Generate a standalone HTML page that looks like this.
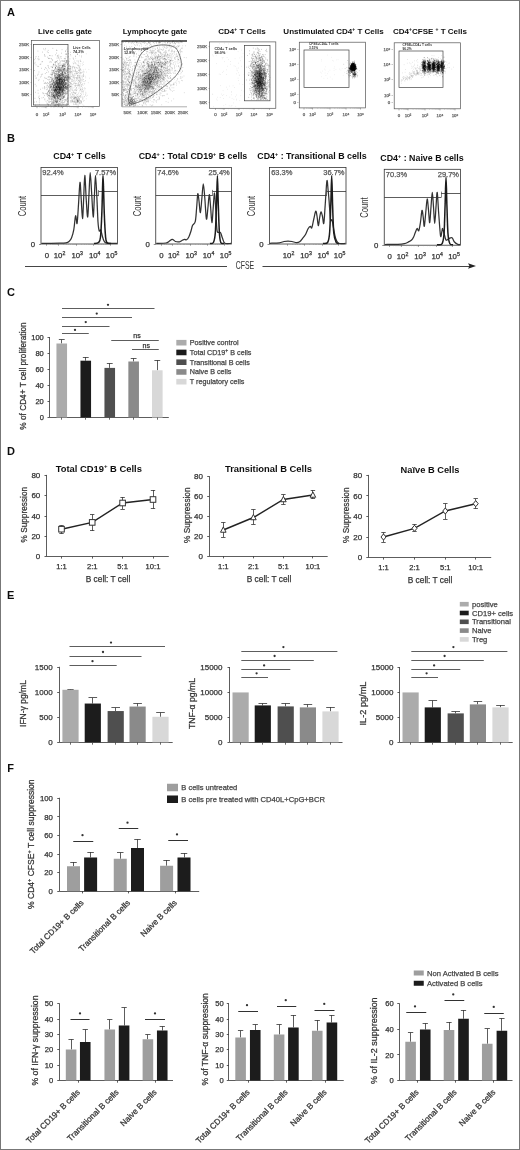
<!DOCTYPE html>
<html><head><meta charset="utf-8"><style>
html,body{margin:0;padding:0;background:#fff;}
svg{display:block;}
text{font-family:"Liberation Sans", sans-serif;}
</style></head><body>
<svg width="520" height="1150" viewBox="0 0 520 1150">
<defs><filter id="bl" x="-5%" y="-5%" width="110%" height="110%"><feGaussianBlur stdDeviation="0.35"/></filter><filter id="gb" x="0" y="0" width="520" height="1150" filterUnits="userSpaceOnUse"><feGaussianBlur stdDeviation="0.4"/></filter></defs>
<rect x="0" y="0" width="520" height="1150" fill="#fff"/>
<g filter="url(#gb)">
<text x="7" y="15.71" font-size="11" font-weight="bold" fill="#111">A</text>
<text x="65" y="34.27" font-size="8" text-anchor="middle" font-weight="bold" fill="#111" textLength="54" lengthAdjust="spacingAndGlyphs">Live cells gate</text>
<rect x="31.4" y="40.4" width="68.1" height="66" fill="none" stroke="#555" stroke-width="0.7"/>
<text x="29.3" y="45.52" font-size="4.4" text-anchor="end" fill="#666" stroke="#666" stroke-width="0.25">250K</text>
<line x1="30.5" y1="44.5" x2="31.9" y2="44.5" stroke="#666" stroke-width="0.4"/>
<text x="29.3" y="58.52" font-size="4.4" text-anchor="end" fill="#666" stroke="#666" stroke-width="0.25">200K</text>
<line x1="30.5" y1="57.5" x2="31.9" y2="57.5" stroke="#666" stroke-width="0.4"/>
<text x="29.3" y="71.02" font-size="4.4" text-anchor="end" fill="#666" stroke="#666" stroke-width="0.25">150K</text>
<line x1="30.5" y1="69.5" x2="31.9" y2="69.5" stroke="#666" stroke-width="0.4"/>
<text x="29.3" y="83.52" font-size="4.4" text-anchor="end" fill="#666" stroke="#666" stroke-width="0.25">100K</text>
<line x1="30.5" y1="82.5" x2="31.9" y2="82.5" stroke="#666" stroke-width="0.4"/>
<text x="29.3" y="96.02" font-size="4.4" text-anchor="end" fill="#666" stroke="#666" stroke-width="0.25">50K</text>
<line x1="30.5" y1="94.5" x2="31.9" y2="94.5" stroke="#666" stroke-width="0.4"/>
<text x="37" y="115.72" font-size="4.4" text-anchor="middle" fill="#666" stroke="#666" stroke-width="0.25">0</text>
<text x="46" y="115.72" font-size="4.4" text-anchor="middle" fill="#666" stroke="#666" stroke-width="0.25">10&#178;</text>
<text x="62.5" y="115.72" font-size="4.4" text-anchor="middle" fill="#666" stroke="#666" stroke-width="0.25">10&#179;</text>
<text x="78" y="115.72" font-size="4.4" text-anchor="middle" fill="#666" stroke="#666" stroke-width="0.25">10&#8308;</text>
<text x="93" y="115.72" font-size="4.4" text-anchor="middle" fill="#666" stroke="#666" stroke-width="0.25">10&#8309;</text>
<line x1="37" y1="106.6" x2="37" y2="108.2" stroke="#666" stroke-width="0.5"/>
<line x1="46" y1="106.6" x2="46" y2="108.2" stroke="#666" stroke-width="0.5"/>
<line x1="62.5" y1="106.6" x2="62.5" y2="108.2" stroke="#666" stroke-width="0.5"/>
<line x1="78" y1="106.6" x2="78" y2="108.2" stroke="#666" stroke-width="0.5"/>
<line x1="93" y1="106.6" x2="93" y2="108.2" stroke="#666" stroke-width="0.5"/>
<line x1="39.7" y1="106.6" x2="39.7" y2="107.5" stroke="#888" stroke-width="0.35"/>
<line x1="41.32" y1="106.6" x2="41.32" y2="107.5" stroke="#888" stroke-width="0.35"/>
<line x1="42.4" y1="106.6" x2="42.4" y2="107.5" stroke="#888" stroke-width="0.35"/>
<line x1="43.3" y1="106.6" x2="43.3" y2="107.5" stroke="#888" stroke-width="0.35"/>
<line x1="44.02" y1="106.6" x2="44.02" y2="107.5" stroke="#888" stroke-width="0.35"/>
<line x1="44.65" y1="106.6" x2="44.65" y2="107.5" stroke="#888" stroke-width="0.35"/>
<line x1="45.1" y1="106.6" x2="45.1" y2="107.5" stroke="#888" stroke-width="0.35"/>
<line x1="45.55" y1="106.6" x2="45.55" y2="107.5" stroke="#888" stroke-width="0.35"/>
<line x1="50.95" y1="106.6" x2="50.95" y2="107.5" stroke="#888" stroke-width="0.35"/>
<line x1="53.92" y1="106.6" x2="53.92" y2="107.5" stroke="#888" stroke-width="0.35"/>
<line x1="55.9" y1="106.6" x2="55.9" y2="107.5" stroke="#888" stroke-width="0.35"/>
<line x1="57.55" y1="106.6" x2="57.55" y2="107.5" stroke="#888" stroke-width="0.35"/>
<line x1="58.87" y1="106.6" x2="58.87" y2="107.5" stroke="#888" stroke-width="0.35"/>
<line x1="60.02" y1="106.6" x2="60.02" y2="107.5" stroke="#888" stroke-width="0.35"/>
<line x1="60.85" y1="106.6" x2="60.85" y2="107.5" stroke="#888" stroke-width="0.35"/>
<line x1="61.67" y1="106.6" x2="61.67" y2="107.5" stroke="#888" stroke-width="0.35"/>
<line x1="67.15" y1="106.6" x2="67.15" y2="107.5" stroke="#888" stroke-width="0.35"/>
<line x1="69.94" y1="106.6" x2="69.94" y2="107.5" stroke="#888" stroke-width="0.35"/>
<line x1="71.8" y1="106.6" x2="71.8" y2="107.5" stroke="#888" stroke-width="0.35"/>
<line x1="73.35" y1="106.6" x2="73.35" y2="107.5" stroke="#888" stroke-width="0.35"/>
<line x1="74.59" y1="106.6" x2="74.59" y2="107.5" stroke="#888" stroke-width="0.35"/>
<line x1="75.67" y1="106.6" x2="75.67" y2="107.5" stroke="#888" stroke-width="0.35"/>
<line x1="76.45" y1="106.6" x2="76.45" y2="107.5" stroke="#888" stroke-width="0.35"/>
<line x1="77.22" y1="106.6" x2="77.22" y2="107.5" stroke="#888" stroke-width="0.35"/>
<line x1="82.5" y1="106.6" x2="82.5" y2="107.5" stroke="#888" stroke-width="0.35"/>
<line x1="85.2" y1="106.6" x2="85.2" y2="107.5" stroke="#888" stroke-width="0.35"/>
<line x1="87" y1="106.6" x2="87" y2="107.5" stroke="#888" stroke-width="0.35"/>
<line x1="88.5" y1="106.6" x2="88.5" y2="107.5" stroke="#888" stroke-width="0.35"/>
<line x1="89.7" y1="106.6" x2="89.7" y2="107.5" stroke="#888" stroke-width="0.35"/>
<line x1="90.75" y1="106.6" x2="90.75" y2="107.5" stroke="#888" stroke-width="0.35"/>
<line x1="91.5" y1="106.6" x2="91.5" y2="107.5" stroke="#888" stroke-width="0.35"/>
<line x1="92.25" y1="106.6" x2="92.25" y2="107.5" stroke="#888" stroke-width="0.35"/>
<path d="M58.7 82.7h0.7M58.9 92.0h0.7M58.8 68.4h0.7M61.4 79.8h0.7M58.2 86.1h0.7M60.8 95.6h0.7M63.3 82.5h0.7M55.2 76.0h0.7M60.9 97.1h0.7M59.7 82.7h0.7M62.6 66.2h0.7M57.7 90.5h0.7M64.6 77.9h0.7M61.7 85.2h0.7M64.0 68.9h0.7M62.8 65.4h0.7M44.3 88.0h0.7M54.2 97.1h0.7M63.4 68.2h0.7M64.4 69.8h0.7M59.0 81.2h0.7M60.2 92.4h0.7M63.2 85.2h0.7M63.3 86.5h0.7M55.9 78.8h0.7M56.8 91.3h0.7M54.7 75.5h0.7M64.0 96.2h0.7M62.4 91.0h0.7M67.8 77.2h0.7M51.2 84.0h0.7M65.0 64.6h0.7M59.7 86.6h0.7M57.7 93.1h0.7M62.9 106.7h0.7M63.1 74.9h0.7M56.2 77.3h0.7M65.0 74.1h0.7M59.1 92.4h0.7M55.3 83.7h0.7M48.8 79.8h0.7M56.2 90.8h0.7M66.4 79.0h0.7M61.0 84.8h0.7M65.8 89.3h0.7M61.1 72.0h0.7M64.7 84.5h0.7M66.6 78.7h0.7M70.8 72.3h0.7M68.7 78.8h0.7M56.5 73.9h0.7M58.6 99.9h0.7M64.2 88.1h0.7M45.7 101.2h0.7M62.7 75.8h0.7M55.9 86.5h0.7M69.5 65.7h0.7M57.0 100.4h0.7M56.9 81.9h0.7M60.1 70.2h0.7M60.8 70.1h0.7M64.6 80.5h0.7M72.7 77.8h0.7M67.4 64.5h0.7M58.8 88.0h0.7M69.6 58.9h0.7M65.2 86.4h0.7M68.4 85.5h0.7M59.8 78.2h0.7M52.3 91.1h0.7M58.4 106.5h0.7M56.0 89.9h0.7M50.4 86.1h0.7M61.0 91.8h0.7M67.9 77.7h0.7M53.0 93.4h0.7M62.5 87.2h0.7M55.4 99.0h0.7M60.0 91.2h0.7M66.9 85.4h0.7M61.2 106.0h0.7M60.9 79.8h0.7M60.1 99.5h0.7M60.2 89.1h0.7M66.4 73.7h0.7M49.5 94.2h0.7M60.8 76.5h0.7M64.6 87.0h0.7M53.7 93.6h0.7M58.4 68.8h0.7M62.1 81.7h0.7M55.2 92.6h0.7M62.3 75.8h0.7M61.8 93.3h0.7M55.4 91.0h0.7M48.7 99.0h0.7M57.7 84.2h0.7M70.5 76.3h0.7M72.5 70.2h0.7M61.5 77.3h0.7M55.5 87.5h0.7M57.9 87.3h0.7M58.5 103.4h0.7M53.7 91.2h0.7M77.9 61.9h0.7M50.8 84.1h0.7M62.2 89.6h0.7M67.0 76.0h0.7M50.2 85.8h0.7M66.7 84.0h0.7M48.1 91.5h0.7M67.6 101.3h0.7M62.8 85.1h0.7M52.3 79.9h0.7M59.8 89.2h0.7M62.9 76.5h0.7M52.8 80.3h0.7M52.8 95.6h0.7M46.1 89.7h0.7M62.1 98.6h0.7M59.9 94.5h0.7M57.2 77.6h0.7M55.6 103.2h0.7M65.3 85.2h0.7M78.8 70.2h0.7M63.1 84.8h0.7M68.2 62.9h0.7M57.2 90.2h0.7M64.0 66.3h0.7M46.4 72.5h0.7M59.1 83.2h0.7M61.5 74.3h0.7M52.4 67.1h0.7M61.4 86.7h0.7M65.3 88.5h0.7M58.4 99.3h0.7M58.7 77.4h0.7M56.5 79.8h0.7M46.9 94.4h0.7M60.9 79.1h0.7M55.4 90.9h0.7M69.5 77.5h0.7M56.6 79.7h0.7M59.1 70.7h0.7M58.8 85.2h0.7M70.2 86.7h0.7M65.5 72.2h0.7M63.4 69.0h0.7M61.3 87.3h0.7M62.8 61.2h0.7M62.7 77.4h0.7M59.5 89.0h0.7M61.8 60.5h0.7M52.8 97.0h0.7M67.0 99.3h0.7M70.0 54.6h0.7M64.0 60.3h0.7M68.9 80.2h0.7M63.2 61.0h0.7M61.2 74.9h0.7M60.1 78.5h0.7M67.5 63.1h0.7M61.3 102.3h0.7M54.7 89.6h0.7M60.7 75.8h0.7M63.3 82.4h0.7M54.0 106.8h0.7M64.1 79.0h0.7M55.8 78.1h0.7M66.6 77.5h0.7M62.2 80.2h0.7M63.1 80.3h0.7M63.9 79.0h0.7M64.3 87.9h0.7M58.8 75.2h0.7M54.0 79.8h0.7M53.8 97.3h0.7M59.2 101.1h0.7M72.7 75.1h0.7M50.5 86.1h0.7M59.1 68.3h0.7M58.0 88.1h0.7M56.8 77.6h0.7M55.1 106.3h0.7M58.6 75.7h0.7M57.3 95.8h0.7M55.5 91.9h0.7M63.7 89.1h0.7M67.6 72.4h0.7M66.1 70.9h0.7M57.2 98.5h0.7M64.3 80.7h0.7M52.6 94.8h0.7M55.8 76.6h0.7M55.7 89.3h0.7M47.2 96.4h0.7M60.5 77.0h0.7M65.5 86.4h0.7M56.0 79.2h0.7M63.5 64.9h0.7M57.6 78.5h0.7M59.9 86.0h0.7M59.7 96.1h0.7M60.8 79.7h0.7M52.5 96.6h0.7M62.6 97.5h0.7M55.2 87.3h0.7M59.2 83.3h0.7M59.6 65.5h0.7M64.3 87.7h0.7M66.1 103.7h0.7M57.6 84.9h0.7M59.6 104.9h0.7M49.5 96.2h0.7M51.0 62.1h0.7M47.8 77.2h0.7M65.7 70.3h0.7M58.2 72.4h0.7M63.0 69.7h0.7M67.1 68.0h0.7M55.1 88.4h0.7M59.6 99.2h0.7M60.2 70.5h0.7M56.3 80.1h0.7M63.7 85.2h0.7M58.8 93.8h0.7M56.4 84.7h0.7M60.5 99.7h0.7M58.9 80.6h0.7M53.4 95.6h0.7M56.1 90.1h0.7M48.5 102.9h0.7M51.8 81.0h0.7M65.6 65.4h0.7M59.0 85.1h0.7M53.7 102.5h0.7M68.2 56.7h0.7M51.1 98.5h0.7M51.9 85.1h0.7M60.3 90.9h0.7M58.2 85.9h0.7M55.0 101.0h0.7M56.6 89.7h0.7M56.5 87.2h0.7M58.5 82.9h0.7M53.6 96.7h0.7M67.7 80.9h0.7M63.7 90.1h0.7M64.9 83.5h0.7M60.7 92.5h0.7M59.9 73.2h0.7M59.6 63.6h0.7M59.5 88.5h0.7M66.7 80.7h0.7M64.9 80.3h0.7M53.6 72.9h0.7M53.9 73.2h0.7M63.2 79.2h0.7M62.8 82.5h0.7M65.6 91.2h0.7M55.8 83.6h0.7M56.4 68.7h0.7M63.4 94.1h0.7M59.5 78.7h0.7M65.8 54.3h0.7M60.5 84.8h0.7M56.2 101.3h0.7M65.1 77.3h0.7M59.0 80.2h0.7M56.5 72.0h0.7M67.5 89.5h0.7M64.1 69.0h0.7M71.6 97.0h0.7M60.6 73.5h0.7M54.5 92.0h0.7M54.2 87.3h0.7M65.8 63.4h0.7M71.1 92.8h0.7M52.3 73.8h0.7M57.9 74.0h0.7M58.0 57.3h0.7M58.2 104.3h0.7M53.0 85.6h0.7M50.9 96.9h0.7M58.2 105.8h0.7M60.7 79.2h0.7M62.7 76.3h0.7M51.7 92.6h0.7M58.5 86.5h0.7M61.7 77.0h0.7M61.9 101.0h0.7M58.1 76.7h0.7M73.6 75.9h0.7M67.4 87.3h0.7M49.8 92.1h0.7M56.5 71.7h0.7M49.2 92.2h0.7M62.9 85.8h0.7M57.7 76.6h0.7M53.8 82.0h0.7M53.5 86.0h0.7M59.4 74.4h0.7M58.2 76.7h0.7M59.5 89.5h0.7M60.5 88.4h0.7M49.9 86.6h0.7M61.1 89.8h0.7M50.2 92.1h0.7M66.5 77.2h0.7M59.0 89.2h0.7M60.9 90.3h0.7M59.9 85.4h0.7M55.0 85.3h0.7M66.8 76.8h0.7M58.5 79.4h0.7M64.1 71.6h0.7M64.8 70.2h0.7M53.4 90.5h0.7M60.3 86.7h0.7M65.7 75.3h0.7M62.1 72.4h0.7M66.8 85.7h0.7M62.6 83.9h0.7M54.9 83.6h0.7M62.4 81.8h0.7M60.2 68.9h0.7M60.6 75.8h0.7M53.2 86.7h0.7M48.7 99.0h0.7M64.4 80.0h0.7M53.7 77.8h0.7M58.6 58.5h0.7M60.5 90.4h0.7M57.7 79.9h0.7M60.6 87.0h0.7M65.8 79.8h0.7M55.5 81.8h0.7M60.6 100.0h0.7M57.6 74.0h0.7M54.5 64.9h0.7M61.4 68.0h0.7M52.3 67.7h0.7M53.0 94.6h0.7M51.9 70.4h0.7M60.5 79.6h0.7M62.0 90.2h0.7M59.5 70.1h0.7M58.8 89.9h0.7M56.1 70.9h0.7M65.9 75.1h0.7M57.1 85.8h0.7M65.5 82.7h0.7M57.6 92.7h0.7M72.0 90.3h0.7M63.4 69.2h0.7M81.3 56.0h0.7M57.3 78.0h0.7M68.9 82.0h0.7M51.2 92.6h0.7M62.7 78.4h0.7M52.4 81.1h0.7M57.0 86.0h0.7M56.5 94.0h0.7M54.0 69.2h0.7M55.2 101.5h0.7M62.4 69.5h0.7M54.7 90.0h0.7M53.8 95.3h0.7M68.0 76.9h0.7M53.7 85.1h0.7M61.6 92.0h0.7M59.8 68.7h0.7M59.7 76.6h0.7M46.8 85.3h0.7M51.2 96.1h0.7M70.8 96.2h0.7M56.2 81.3h0.7M63.5 92.7h0.7M57.1 84.1h0.7M72.3 74.0h0.7M56.7 87.2h0.7M62.9 70.7h0.7M58.1 72.4h0.7M57.9 105.3h0.7M63.8 80.0h0.7M54.1 84.4h0.7M65.6 73.7h0.7M67.9 63.4h0.7M57.8 103.9h0.7M47.9 104.9h0.7M48.8 90.5h0.7M58.5 93.6h0.7M41.2 76.0h0.7M56.2 86.7h0.7M54.3 85.2h0.7M52.6 84.5h0.7M54.6 90.0h0.7M62.9 97.1h0.7M55.7 83.2h0.7M59.8 80.6h0.7M59.2 67.4h0.7M61.7 72.6h0.7M53.9 70.7h0.7M66.2 77.8h0.7M66.2 82.3h0.7M49.6 79.2h0.7M63.9 72.7h0.7M53.2 86.5h0.7M58.5 73.8h0.7M57.6 80.2h0.7M44.5 99.8h0.7M54.8 101.3h0.7M52.8 71.6h0.7M66.4 62.1h0.7M55.8 93.0h0.7M57.6 67.5h0.7M60.6 81.1h0.7M66.9 85.2h0.7M77.1 54.1h0.7M59.4 72.6h0.7M66.2 88.2h0.7M63.9 72.6h0.7M55.2 65.1h0.7M69.4 82.6h0.7M58.0 95.1h0.7M63.9 91.5h0.7M50.1 82.8h0.7M60.6 87.0h0.7M65.1 69.3h0.7M63.5 90.6h0.7M59.4 92.3h0.7M70.0 77.9h0.7M66.6 69.6h0.7M62.9 91.4h0.7M55.1 98.9h0.7M55.6 78.0h0.7M59.5 104.8h0.7M61.3 92.8h0.7M55.3 87.8h0.7M52.7 82.6h0.7M64.3 80.2h0.7M67.9 76.0h0.7M58.4 98.5h0.7M55.7 70.2h0.7M67.0 83.2h0.7M46.9 93.2h0.7M57.2 104.4h0.7M55.3 80.7h0.7M54.2 76.3h0.7M55.4 71.4h0.7M53.5 70.8h0.7M50.8 73.2h0.7M56.5 78.7h0.7M52.4 94.1h0.7M59.2 79.5h0.7M56.8 103.0h0.7M60.9 88.2h0.7M44.5 87.4h0.7M46.9 88.1h0.7M61.7 75.2h0.7M62.5 70.9h0.7M62.8 64.9h0.7M58.0 89.6h0.7M62.6 80.5h0.7M70.8 71.7h0.7M56.9 56.1h0.7M69.8 72.9h0.7M52.7 103.0h0.7M66.7 80.2h0.7M51.2 94.3h0.7M55.9 73.9h0.7M65.6 56.8h0.7M62.8 86.7h0.7M71.4 79.2h0.7M47.6 83.3h0.7M59.9 87.6h0.7M65.2 58.9h0.7M57.6 95.8h0.7M68.5 97.8h0.7M57.2 97.4h0.7M69.4 90.0h0.7M63.7 90.0h0.7M54.9 71.6h0.7M65.2 76.3h0.7M59.3 77.9h0.7M57.2 88.1h0.7M53.6 88.9h0.7M60.9 82.2h0.7M55.2 95.5h0.7M70.4 70.0h0.7M66.7 88.6h0.7M44.1 86.5h0.7M55.8 95.0h0.7M60.6 88.4h0.7M63.2 71.8h0.7M55.2 73.8h0.7M58.5 83.4h0.7M60.5 75.5h0.7M64.8 90.2h0.7M68.5 85.4h0.7M60.6 90.5h0.7M63.0 74.5h0.7M67.0 97.3h0.7M71.0 76.4h0.7M61.4 87.2h0.7M59.5 90.7h0.7M58.8 82.4h0.7M69.7 78.7h0.7M59.9 93.2h0.7M60.4 86.5h0.7M59.1 71.1h0.7M59.3 71.9h0.7M60.7 70.4h0.7M64.8 88.4h0.7M61.1 81.8h0.7M61.9 61.2h0.7M53.1 86.8h0.7M61.5 81.8h0.7M53.7 89.5h0.7M56.9 74.3h0.7M61.4 80.4h0.7M66.4 86.4h0.7M63.8 84.5h0.7M54.6 77.3h0.7M53.2 86.1h0.7M57.4 82.4h0.7M56.1 66.2h0.7M53.7 73.0h0.7M58.8 77.1h0.7M55.5 89.1h0.7M56.1 96.4h0.7M57.3 88.0h0.7M51.8 96.4h0.7M57.1 90.0h0.7M61.4 80.8h0.7M60.8 79.0h0.7M67.3 88.6h0.7M62.3 69.3h0.7M53.1 81.3h0.7M58.1 89.8h0.7M54.3 100.3h0.7M59.5 62.3h0.7M56.7 58.1h0.7M55.1 81.1h0.7M56.0 83.0h0.7M57.2 79.2h0.7M68.2 91.0h0.7M52.9 102.1h0.7M50.1 81.8h0.7M68.3 53.7h0.7M62.8 68.2h0.7M58.7 82.6h0.7M69.3 68.4h0.7M59.1 91.0h0.7M58.0 76.2h0.7M59.2 85.2h0.7M64.6 70.3h0.7M56.9 89.3h0.7M58.5 82.7h0.7M59.4 76.6h0.7M54.9 92.0h0.7M53.1 101.0h0.7M60.8 69.4h0.7M61.1 84.7h0.7M63.9 93.4h0.7M57.4 77.9h0.7M56.0 75.9h0.7M55.2 90.1h0.7M59.6 78.6h0.7M55.2 90.7h0.7M56.6 74.8h0.7M58.6 81.8h0.7M53.3 97.2h0.7M64.4 81.0h0.7M60.3 89.2h0.7M59.3 93.7h0.7M69.1 78.2h0.7M62.1 91.6h0.7M57.5 73.2h0.7M64.8 63.5h0.7M69.9 86.2h0.7M60.6 83.8h0.7M69.7 66.8h0.7M52.8 82.2h0.7M58.0 74.2h0.7M60.4 84.8h0.7M54.8 104.5h0.7M51.4 75.8h0.7M61.7 80.3h0.7M61.9 75.7h0.7M53.5 81.2h0.7M55.5 92.4h0.7M56.7 94.1h0.7M62.9 92.8h0.7M64.7 88.8h0.7M64.0 75.3h0.7M58.0 65.3h0.7M61.2 75.6h0.7M61.8 88.1h0.7M51.7 78.5h0.7M57.5 79.8h0.7M60.5 70.9h0.7M59.8 65.6h0.7M47.0 100.4h0.7M51.9 83.2h0.7M51.3 74.5h0.7M57.2 81.2h0.7M65.2 84.9h0.7M58.0 93.2h0.7M66.0 83.9h0.7M57.1 96.6h0.7M69.8 84.0h0.7M69.8 86.9h0.7M64.4 68.8h0.7M53.0 87.9h0.7M49.8 84.3h0.7M64.5 73.3h0.7M62.6 67.3h0.7M56.6 97.0h0.7M60.7 86.3h0.7M69.4 91.1h0.7M54.4 101.7h0.7M55.9 86.3h0.7M59.6 95.5h0.7M53.0 93.4h0.7M62.5 90.6h0.7M58.3 95.7h0.7M55.4 99.2h0.7M61.5 67.5h0.7M61.9 84.3h0.7M57.4 77.5h0.7M58.1 69.4h0.7M69.3 65.0h0.7M55.7 99.0h0.7M62.9 89.4h0.7M68.3 74.5h0.7M53.4 97.3h0.7M64.1 77.3h0.7M52.2 102.4h0.7M62.8 66.9h0.7M64.0 65.3h0.7M56.7 73.8h0.7M55.8 77.6h0.7M55.9 94.3h0.7M61.2 89.6h0.7M65.8 75.6h0.7M60.0 89.5h0.7M69.4 86.8h0.7M67.5 89.4h0.7M65.6 60.5h0.7M64.6 82.7h0.7M59.8 78.1h0.7M57.0 90.2h0.7M64.4 64.5h0.7M60.8 77.1h0.7M54.0 92.1h0.7M57.6 78.2h0.7M55.0 90.1h0.7M59.4 72.3h0.7M54.6 85.4h0.7M61.8 71.1h0.7M62.3 73.2h0.7M75.3 62.9h0.7M54.9 89.3h0.7M54.3 96.5h0.7M69.9 72.6h0.7M60.5 77.7h0.7M59.5 99.4h0.7M64.7 70.7h0.7M68.5 90.3h0.7M62.3 74.9h0.7M59.9 75.2h0.7M62.2 78.7h0.7M46.5 103.0h0.7M60.6 94.8h0.7M58.7 86.6h0.7M66.0 83.7h0.7M58.5 86.5h0.7M69.6 68.3h0.7M53.5 72.8h0.7M62.6 88.6h0.7M63.8 66.4h0.7M65.3 92.8h0.7M58.9 84.7h0.7M63.4 85.2h0.7M63.2 69.7h0.7M58.5 71.6h0.7M63.2 87.2h0.7M58.9 87.6h0.7M50.5 99.5h0.7M56.8 87.3h0.7M66.0 71.4h0.7M66.4 80.5h0.7M59.7 89.9h0.7M52.3 95.4h0.7M59.9 94.9h0.7M58.2 81.0h0.7M61.6 81.9h0.7M52.7 86.6h0.7M66.9 77.9h0.7M54.5 95.2h0.7M48.8 68.6h0.7M59.5 86.0h0.7M60.8 73.5h0.7M58.6 69.5h0.7M60.8 65.7h0.7M58.6 87.4h0.7M49.3 85.4h0.7M64.1 97.5h0.7M50.8 93.7h0.7M52.3 74.5h0.7M68.8 84.8h0.7M54.8 89.6h0.7M63.2 83.4h0.7M72.5 81.5h0.7M42.1 92.9h0.7M55.2 84.8h0.7M59.6 76.9h0.7M53.2 103.1h0.7M63.0 74.4h0.7M63.4 88.5h0.7M66.9 67.5h0.7M64.0 74.3h0.7M66.2 77.3h0.7M46.3 93.5h0.7M49.2 88.8h0.7M59.2 79.9h0.7M50.9 78.0h0.7M54.6 84.7h0.7M67.0 86.5h0.7M56.8 99.6h0.7M51.6 96.9h0.7M58.5 87.3h0.7M63.2 74.1h0.7M64.1 80.7h0.7M73.5 71.0h0.7M66.9 85.9h0.7M52.7 103.4h0.7M53.3 64.2h0.7M64.4 92.1h0.7M59.8 81.0h0.7M68.7 85.3h0.7M55.7 94.5h0.7M52.3 83.0h0.7M53.4 64.5h0.7M52.7 101.9h0.7M53.1 82.5h0.7M52.8 98.0h0.7M59.5 89.3h0.7M58.9 71.8h0.7M53.9 96.9h0.7M59.2 92.6h0.7M56.5 86.4h0.7M63.3 71.9h0.7M64.6 73.5h0.7M67.0 87.4h0.7M62.4 74.2h0.7M58.3 88.1h0.7M47.7 86.2h0.7M64.9 66.6h0.7M66.9 72.1h0.7M61.4 70.3h0.7M62.3 87.0h0.7M66.1 94.0h0.7M66.8 81.2h0.7M52.4 103.2h0.7M51.9 84.5h0.7M63.8 85.8h0.7M68.7 77.5h0.7M49.7 87.8h0.7M60.5 79.5h0.7M67.7 75.6h0.7M51.2 94.8h0.7M52.8 106.9h0.7M61.1 67.8h0.7M65.8 105.2h0.7M47.9 101.8h0.7M62.3 83.9h0.7M61.5 87.9h0.7M55.5 102.0h0.7M68.4 65.1h0.7M59.5 99.3h0.7M56.7 84.2h0.7M57.2 98.2h0.7M56.0 86.3h0.7M62.6 79.6h0.7M54.5 73.0h0.7M50.7 77.4h0.7M49.5 83.1h0.7M61.2 83.4h0.7M54.7 76.4h0.7M53.7 73.0h0.7M52.3 96.7h0.7M51.4 89.8h0.7M49.1 93.3h0.7M57.6 77.0h0.7M61.3 84.4h0.7M53.3 92.9h0.7M61.8 96.5h0.7M56.0 102.3h0.7M58.4 63.5h0.7M62.5 81.0h0.7M54.4 97.6h0.7M56.8 96.9h0.7M59.0 92.4h0.7M63.4 86.4h0.7M53.5 98.1h0.7M59.6 105.5h0.7M62.3 90.2h0.7M55.1 82.7h0.7M60.1 71.0h0.7M52.7 87.5h0.7M59.0 86.5h0.7M66.0 75.2h0.7M63.4 79.7h0.7M58.4 87.6h0.7M47.5 93.0h0.7M55.8 76.6h0.7M48.6 86.8h0.7M48.6 100.9h0.7M58.1 66.8h0.7M55.6 94.8h0.7M56.0 83.4h0.7M57.4 84.1h0.7M49.6 90.4h0.7M58.3 79.9h0.7M65.2 78.3h0.7M61.0 73.6h0.7M68.5 71.0h0.7M61.7 94.7h0.7M57.7 85.2h0.7M62.9 89.0h0.7M53.2 90.3h0.7M54.0 79.8h0.7M55.7 99.7h0.7M68.8 105.6h0.7M59.2 75.2h0.7M53.9 105.2h0.7M50.6 86.8h0.7M56.2 105.1h0.7M53.6 99.9h0.7M67.1 76.9h0.7M62.2 65.6h0.7M59.0 82.0h0.7M44.5 98.9h0.7M61.6 64.3h0.7M51.3 81.6h0.7M56.4 82.8h0.7M53.9 77.0h0.7M61.3 77.6h0.7M58.9 82.0h0.7M62.2 80.5h0.7M64.5 81.6h0.7M64.7 93.9h0.7M51.0 99.8h0.7M69.8 66.3h0.7M59.3 80.3h0.7M62.1 87.8h0.7M55.6 100.8h0.7M54.5 86.0h0.7M65.4 100.9h0.7M56.5 94.5h0.7M60.8 66.1h0.7M54.0 74.9h0.7M56.6 81.5h0.7M59.7 97.7h0.7M58.1 93.5h0.7M61.9 98.6h0.7M57.3 94.6h0.7M68.9 69.7h0.7M59.1 89.7h0.7M57.0 76.3h0.7M70.1 74.1h0.7M69.6 71.5h0.7M58.3 93.4h0.7M58.3 75.1h0.7M55.3 89.8h0.7M55.6 87.6h0.7M46.4 87.1h0.7M58.5 79.2h0.7M53.7 78.5h0.7M59.9 99.7h0.7M51.4 86.7h0.7M65.2 83.7h0.7M59.0 79.5h0.7M59.6 82.9h0.7M46.8 85.1h0.7M48.2 105.8h0.7M64.3 72.2h0.7M55.9 100.5h0.7M61.6 80.0h0.7M53.1 82.5h0.7M57.2 60.6h0.7M62.6 78.4h0.7M62.2 77.6h0.7M76.9 54.1h0.7M54.1 95.4h0.7M73.2 63.8h0.7M70.1 66.8h0.7M67.0 79.6h0.7M72.4 94.2h0.7M53.0 85.1h0.7M70.0 68.8h0.7M55.8 88.0h0.7M62.1 86.3h0.7M55.2 89.1h0.7M63.2 97.6h0.7M61.4 69.2h0.7M59.7 77.2h0.7M67.2 60.6h0.7M62.7 70.3h0.7M66.9 87.2h0.7M60.8 88.6h0.7M57.5 92.6h0.7M59.2 92.1h0.7M59.8 57.0h0.7M56.5 102.4h0.7M67.9 79.3h0.7M58.8 80.9h0.7M63.2 87.7h0.7M53.8 95.1h0.7M66.7 68.8h0.7M58.4 89.7h0.7M63.7 76.6h0.7M56.4 81.1h0.7M61.7 87.1h0.7M59.4 69.4h0.7M53.2 95.2h0.7M52.4 91.4h0.7M57.4 79.0h0.7M59.7 102.0h0.7M61.2 79.7h0.7M51.0 95.4h0.7M66.1 86.0h0.7M66.3 84.4h0.7M51.9 88.8h0.7M62.5 89.7h0.7M56.6 85.3h0.7M61.6 96.2h0.7M65.3 86.9h0.7M61.8 71.4h0.7M53.1 87.4h0.7M65.5 84.1h0.7M62.8 65.6h0.7M51.0 101.9h0.7M59.3 70.0h0.7M64.6 83.2h0.7M76.6 85.6h0.7M61.5 81.0h0.7M60.8 82.0h0.7M51.2 99.8h0.7M61.1 53.2h0.7M55.8 77.6h0.7M65.2 79.6h0.7M68.1 60.9h0.7M53.3 99.8h0.7M55.7 75.2h0.7M56.4 77.9h0.7M62.6 93.9h0.7M50.3 87.3h0.7M59.6 84.8h0.7M64.3 81.9h0.7M56.1 74.4h0.7M48.9 87.3h0.7M59.6 93.9h0.7M59.1 79.1h0.7M61.7 72.0h0.7M60.7 60.9h0.7M63.4 82.0h0.7M60.7 84.8h0.7M52.1 79.4h0.7M68.6 83.0h0.7M56.0 90.9h0.7M61.9 103.4h0.7M65.9 84.0h0.7M56.9 105.0h0.7M58.9 75.0h0.7M52.4 79.6h0.7M57.4 93.7h0.7M64.8 92.7h0.7M60.4 92.3h0.7M72.6 84.7h0.7M68.8 61.3h0.7M55.2 78.9h0.7M44.0 95.6h0.7M67.6 72.6h0.7M60.6 74.0h0.7M56.6 89.1h0.7M52.6 101.5h0.7M48.4 95.2h0.7M56.6 102.0h0.7M63.9 58.5h0.7M45.5 83.0h0.7M56.6 84.0h0.7M59.7 91.1h0.7M51.6 70.1h0.7M61.0 79.1h0.7M58.9 77.5h0.7M58.5 100.7h0.7M50.1 77.3h0.7M63.2 98.3h0.7M58.3 71.2h0.7M47.9 94.9h0.7M73.1 77.0h0.7M62.3 80.8h0.7M66.1 79.4h0.7M59.9 98.4h0.7M63.1 104.4h0.7M50.0 84.6h0.7M54.3 96.7h0.7M56.6 92.5h0.7M52.7 87.7h0.7M72.8 92.4h0.7M48.6 95.5h0.7M64.3 75.4h0.7M53.1 95.6h0.7M60.1 89.5h0.7M54.2 82.3h0.7M62.5 89.8h0.7M51.5 103.5h0.7M51.0 89.9h0.7M57.7 77.6h0.7M66.1 54.2h0.7M55.3 77.2h0.7M64.6 97.2h0.7M64.0 95.9h0.7M46.6 94.7h0.7M51.5 85.5h0.7M60.9 84.0h0.7M67.5 57.1h0.7M54.7 71.4h0.7M50.0 101.4h0.7M60.6 100.0h0.7M66.4 80.0h0.7M53.9 98.6h0.7M55.5 73.9h0.7M52.8 89.9h0.7M66.8 79.5h0.7M66.6 80.1h0.7M70.1 78.8h0.7M54.7 70.0h0.7M61.8 79.6h0.7M62.2 85.6h0.7M62.0 94.5h0.7M61.3 74.9h0.7M55.0 93.4h0.7M53.3 96.1h0.7M63.6 80.7h0.7M55.0 68.0h0.7M53.0 71.0h0.7M59.7 79.1h0.7M54.2 97.1h0.7M60.3 84.0h0.7M62.7 92.9h0.7M50.2 98.1h0.7M49.0 82.7h0.7M65.4 87.4h0.7M63.4 83.3h0.7M67.7 61.7h0.7M57.7 85.7h0.7M71.3 86.9h0.7M65.5 71.6h0.7M72.5 80.0h0.7M51.2 80.4h0.7M58.1 74.4h0.7M62.6 84.9h0.7M60.2 103.9h0.7M50.0 105.3h0.7M54.7 103.1h0.7M70.6 101.1h0.7M58.4 72.2h0.7M61.4 82.1h0.7M49.3 99.0h0.7M54.1 103.2h0.7M65.1 77.1h0.7M59.7 81.2h0.7M54.1 88.4h0.7M65.3 75.9h0.7M55.9 72.2h0.7M66.4 86.9h0.7M62.2 65.9h0.7M62.4 85.0h0.7M57.5 70.5h0.7M59.2 74.8h0.7M60.0 84.4h0.7M57.5 94.9h0.7M59.1 90.0h0.7M61.9 93.2h0.7M53.9 84.2h0.7M64.8 81.9h0.7M66.0 87.5h0.7M56.9 95.3h0.7M58.0 95.3h0.7M70.3 88.3h0.7M72.8 58.1h0.7M56.3 83.3h0.7M57.2 89.6h0.7M57.4 97.4h0.7M65.2 84.5h0.7M53.6 94.0h0.7M63.4 85.1h0.7M59.7 99.0h0.7M56.3 82.3h0.7M63.4 87.0h0.7M64.4 77.5h0.7M51.9 76.0h0.7M57.0 94.3h0.7M64.1 61.2h0.7M62.6 80.9h0.7M61.0 91.9h0.7M74.4 67.4h0.7M57.2 101.6h0.7M51.9 90.1h0.7M59.8 94.3h0.7M61.9 72.5h0.7M65.1 89.2h0.7M53.4 80.8h0.7M56.5 73.7h0.7M65.7 76.2h0.7M57.9 73.9h0.7M57.2 101.6h0.7M63.8 63.6h0.7M53.8 94.8h0.7M56.6 80.0h0.7M54.5 73.1h0.7M60.1 79.5h0.7M66.1 78.7h0.7M53.9 95.4h0.7M67.3 70.7h0.7M49.6 85.7h0.7M51.5 86.1h0.7M68.0 87.5h0.7M56.5 77.6h0.7M58.4 82.1h0.7M68.2 76.3h0.7M51.7 100.1h0.7M65.5 77.4h0.7M64.0 81.4h0.7M52.5 88.0h0.7M52.9 81.8h0.7M54.1 91.4h0.7M60.6 69.0h0.7M54.2 87.7h0.7M62.2 82.9h0.7M46.7 106.7h0.7M69.8 93.9h0.7M62.7 89.0h0.7M55.7 88.7h0.7M52.9 89.9h0.7M51.2 96.1h0.7M57.4 93.7h0.7M60.6 78.3h0.7M64.4 68.0h0.7M58.0 79.3h0.7M63.8 80.2h0.7M61.1 88.6h0.7M45.9 83.5h0.7M60.2 94.4h0.7M62.8 95.8h0.7M58.2 86.0h0.7M56.6 81.3h0.7M54.7 81.5h0.7M58.4 77.7h0.7M59.7 64.3h0.7M62.0 84.2h0.7M62.1 77.2h0.7M56.6 96.6h0.7M58.6 106.0h0.7M51.3 87.0h0.7M53.0 80.1h0.7M54.9 82.0h0.7M64.0 68.5h0.7M63.0 66.0h0.7M57.1 99.9h0.7M62.2 85.1h0.7M63.2 87.7h0.7M63.1 96.6h0.7M53.5 87.4h0.7M63.2 89.5h0.7M62.7 95.8h0.7M56.6 71.5h0.7M66.9 78.9h0.7M56.3 86.6h0.7M57.0 96.6h0.7M64.7 83.8h0.7M62.6 82.2h0.7M65.5 54.4h0.7M52.7 88.3h0.7M57.1 75.4h0.7M63.1 71.0h0.7M60.8 84.5h0.7M59.8 74.8h0.7M58.4 98.0h0.7M62.7 92.2h0.7M59.0 66.0h0.7M56.8 84.3h0.7M67.0 91.0h0.7M62.0 73.1h0.7M60.2 80.7h0.7M58.1 71.7h0.7M62.2 81.8h0.7M64.2 65.0h0.7M54.4 90.6h0.7M62.0 71.7h0.7M69.5 76.3h0.7M60.4 103.0h0.7M54.9 81.9h0.7M57.5 70.6h0.7M61.1 88.0h0.7M60.6 90.3h0.7M64.5 84.2h0.7M58.1 98.1h0.7M55.5 101.8h0.7M58.4 93.0h0.7M70.1 52.3h0.7M58.4 80.4h0.7M69.4 72.7h0.7M75.3 56.6h0.7M61.5 78.4h0.7M62.4 75.9h0.7M56.9 66.2h0.7M60.1 67.4h0.7M51.9 90.2h0.7M58.8 95.6h0.7M51.7 94.0h0.7M61.4 79.4h0.7M54.8 86.4h0.7M64.6 76.4h0.7M64.4 77.6h0.7M69.5 77.3h0.7M58.5 67.4h0.7M51.2 93.9h0.7M58.2 87.9h0.7M55.5 85.1h0.7M55.9 89.7h0.7M58.2 105.0h0.7M55.5 98.8h0.7M53.4 83.2h0.7M54.6 101.0h0.7M62.0 83.7h0.7M60.9 71.4h0.7M67.6 93.3h0.7M59.3 84.3h0.7M63.3 79.5h0.7M58.3 79.5h0.7M57.5 80.3h0.7M63.7 77.5h0.7M57.0 79.0h0.7M50.8 106.8h0.7M62.4 91.3h0.7M56.4 101.8h0.7M60.3 99.1h0.7M59.4 83.6h0.7M56.4 87.0h0.7M60.8 99.2h0.7M68.4 78.8h0.7M66.6 49.8h0.7M56.8 88.6h0.7M64.6 85.0h0.7M59.2 79.3h0.7M66.0 93.6h0.7M59.6 78.2h0.7M62.7 81.5h0.7M58.8 84.2h0.7M55.8 77.2h0.7M58.1 70.1h0.7M63.0 90.6h0.7M55.0 67.4h0.7M61.8 85.0h0.7M59.6 69.5h0.7M58.2 90.3h0.7M59.1 88.7h0.7M52.1 84.3h0.7M51.6 77.7h0.7M55.4 67.4h0.7M56.8 78.2h0.7M52.6 87.3h0.7M59.4 75.0h0.7M71.2 83.6h0.7M66.0 75.9h0.7M64.7 88.7h0.7M53.6 80.8h0.7M76.4 67.8h0.7M62.3 79.7h0.7M64.3 69.9h0.7M53.7 100.3h0.7M60.7 56.5h0.7M59.6 81.9h0.7M63.6 84.6h0.7M61.5 83.6h0.7M61.2 70.4h0.7M54.8 78.1h0.7M51.7 97.9h0.7M65.7 86.3h0.7M56.0 80.6h0.7M56.9 97.8h0.7M62.6 100.6h0.7M53.9 85.5h0.7M52.2 73.8h0.7M58.6 81.0h0.7M56.5 69.5h0.7M60.6 80.1h0.7M64.8 86.2h0.7M51.9 93.5h0.7M56.0 102.9h0.7M59.3 78.7h0.7M57.1 69.5h0.7M66.9 101.7h0.7M49.5 88.2h0.7M58.9 78.0h0.7M66.6 92.5h0.7M59.7 81.3h0.7M61.1 74.8h0.7M67.9 84.8h0.7M57.4 83.4h0.7M54.2 90.5h0.7M52.0 89.2h0.7M56.5 92.2h0.7M65.5 88.3h0.7M58.8 76.8h0.7M57.8 85.0h0.7M62.3 75.9h0.7M53.9 89.8h0.7M67.4 98.7h0.7M64.1 70.1h0.7M67.7 69.2h0.7M55.0 91.7h0.7M51.5 98.2h0.7M59.2 88.5h0.7M54.7 96.4h0.7M62.5 78.0h0.7M65.0 51.5h0.7M61.6 81.4h0.7M54.9 89.1h0.7M62.4 74.0h0.7M58.8 84.0h0.7M61.8 95.6h0.7M56.8 100.1h0.7M51.9 92.5h0.7M49.5 91.7h0.7M63.7 102.9h0.7M59.8 75.7h0.7M65.5 80.3h0.7M60.1 93.5h0.7M65.8 60.9h0.7M59.8 83.6h0.7M53.3 70.8h0.7M59.1 79.3h0.7M55.3 85.4h0.7M57.5 85.6h0.7M68.6 77.3h0.7M70.4 89.8h0.7M65.1 72.3h0.7M57.8 75.3h0.7M61.9 81.6h0.7M62.1 85.5h0.7M60.5 79.5h0.7M53.9 83.2h0.7M63.7 79.4h0.7M59.2 93.6h0.7M62.3 66.1h0.7M59.0 74.9h0.7M59.2 88.4h0.7M62.5 99.9h0.7M56.6 82.8h0.7M62.8 92.1h0.7M53.5 95.5h0.7M63.4 79.7h0.7M57.9 93.0h0.7M62.0 86.6h0.7M55.3 68.4h0.7M59.0 81.5h0.7M62.2 73.9h0.7M63.2 85.9h0.7M55.2 97.2h0.7M57.5 77.9h0.7M61.0 82.8h0.7M54.3 94.3h0.7M59.4 75.9h0.7M49.3 95.7h0.7M60.1 84.9h0.7M67.5 51.6h0.7M66.9 93.6h0.7M53.8 98.9h0.7M54.8 76.0h0.7M58.9 104.1h0.7M61.6 83.1h0.7M64.6 73.7h0.7M68.2 94.9h0.7M62.0 73.8h0.7M65.7 82.9h0.7M63.2 93.7h0.7M62.0 72.5h0.7M68.1 81.0h0.7M61.4 89.3h0.7M61.3 90.8h0.7M60.6 81.3h0.7M56.3 80.7h0.7M57.8 95.8h0.7M57.5 84.2h0.7M58.9 90.2h0.7M63.3 102.7h0.7M51.4 87.2h0.7M62.8 63.5h0.7M69.6 75.7h0.7M54.9 97.7h0.7M46.8 95.1h0.7M53.7 87.8h0.7M61.7 91.0h0.7M61.9 104.8h0.7M59.9 80.1h0.7M66.6 78.4h0.7M62.1 81.4h0.7M57.0 78.7h0.7M64.7 58.4h0.7M77.8 83.8h0.7M61.6 103.0h0.7M61.1 73.3h0.7M65.5 62.2h0.7M63.0 94.5h0.7M62.6 66.2h0.7M60.7 81.8h0.7M55.2 62.1h0.7M52.6 83.4h0.7M64.5 72.1h0.7M57.1 97.4h0.7M63.1 85.7h0.7M60.9 96.0h0.7M72.5 75.1h0.7M60.4 88.8h0.7M56.8 62.2h0.7M62.4 74.1h0.7M67.1 80.7h0.7M68.2 68.7h0.7M66.1 61.9h0.7M64.9 77.7h0.7M64.9 76.4h0.7M63.5 86.7h0.7M61.7 87.2h0.7M69.2 71.2h0.7M67.6 74.5h0.7M66.5 104.3h0.7M54.9 64.0h0.7M60.4 75.9h0.7M56.4 82.6h0.7M56.4 101.6h0.7M66.0 92.0h0.7M72.9 66.4h0.7M61.0 82.4h0.7M49.0 76.7h0.7M63.5 79.7h0.7M47.0 82.5h0.7M65.6 93.6h0.7M65.5 99.4h0.7M67.2 87.6h0.7M51.7 72.2h0.7M55.2 89.8h0.7M59.5 88.0h0.7M59.4 89.2h0.7M65.2 80.1h0.7M57.8 56.9h0.7M64.6 72.2h0.7M54.2 97.0h0.7M64.8 87.6h0.7M65.0 68.4h0.7M58.2 79.0h0.7M69.5 86.3h0.7M58.1 94.0h0.7M61.7 81.2h0.7M62.2 91.3h0.7M58.7 71.1h0.7M61.6 79.7h0.7M52.9 80.3h0.7M58.1 85.3h0.7M62.8 79.5h0.7M62.1 78.2h0.7M62.7 86.1h0.7M62.8 97.2h0.7M57.9 68.0h0.7M59.0 93.0h0.7M59.6 87.3h0.7M49.5 81.9h0.7M62.6 90.2h0.7M55.1 91.0h0.7M55.4 74.4h0.7M59.9 86.1h0.7M61.8 90.3h0.7M69.2 87.5h0.7M57.4 95.6h0.7M51.0 91.0h0.7M65.6 87.1h0.7M64.3 101.2h0.7M55.2 95.5h0.7M59.0 96.4h0.7M60.2 92.0h0.7M68.5 84.6h0.7M58.3 80.9h0.7M55.5 98.0h0.7M67.1 76.1h0.7M49.0 84.5h0.7M62.0 72.1h0.7M48.1 87.1h0.7M47.7 95.7h0.7M57.2 86.3h0.7M67.0 69.0h0.7M47.0 92.3h0.7M62.2 66.7h0.7M57.4 81.7h0.7M59.7 77.3h0.7M74.9 70.5h0.7M60.6 78.0h0.7M51.8 74.7h0.7M61.4 80.7h0.7M55.0 94.1h0.7M57.4 93.2h0.7M48.1 97.6h0.7M61.3 68.1h0.7M53.5 86.6h0.7M56.7 89.1h0.7M51.2 80.2h0.7M71.8 66.4h0.7M57.0 83.8h0.7M57.9 98.1h0.7M56.2 95.5h0.7M54.5 95.8h0.7M58.3 83.0h0.7M59.0 90.3h0.7M52.6 78.3h0.7M71.3 81.3h0.7M57.4 92.4h0.7M59.2 60.0h0.7M60.4 82.0h0.7M61.5 74.2h0.7M58.2 97.2h0.7M58.6 80.0h0.7M61.6 78.3h0.7M65.7 77.8h0.7M61.6 75.0h0.7M52.3 96.8h0.7M61.0 89.8h0.7M63.8 65.2h0.7M60.2 61.9h0.7M62.5 70.2h0.7M62.2 89.9h0.7M56.4 85.9h0.7M66.6 61.3h0.7M63.2 82.7h0.7M65.0 62.4h0.7M59.5 95.9h0.7M67.4 70.2h0.7M57.9 105.0h0.7M51.3 89.2h0.7M60.5 85.2h0.7M54.1 98.2h0.7M64.7 100.0h0.7M54.9 82.0h0.7M65.9 99.1h0.7M59.4 67.6h0.7M58.2 95.3h0.7M63.4 93.3h0.7M70.7 71.6h0.7M54.3 74.7h0.7M58.8 95.5h0.7M69.5 79.4h0.7M59.6 82.5h0.7M66.6 70.9h0.7M58.9 83.6h0.7M59.3 103.6h0.7M55.7 77.8h0.7M55.7 93.6h0.7M59.4 96.1h0.7M54.7 69.3h0.7M57.3 88.5h0.7M51.0 88.8h0.7M62.6 73.2h0.7M54.7 75.5h0.7M58.7 89.5h0.7M75.4 85.5h0.7M52.2 72.5h0.7M58.9 101.4h0.7M63.3 75.7h0.7M65.3 94.8h0.7M68.0 66.6h0.7M62.0 68.4h0.7M54.8 73.5h0.7M58.0 69.6h0.7M64.0 80.7h0.7M54.5 92.7h0.7M68.4 81.6h0.7M56.1 83.3h0.7M58.9 76.9h0.7M49.6 86.8h0.7M66.7 70.1h0.7M48.3 90.8h0.7M65.9 61.0h0.7M60.6 87.7h0.7M62.6 87.8h0.7M63.0 64.5h0.7M63.1 96.4h0.7M58.2 88.9h0.7M53.6 102.1h0.7M55.9 104.3h0.7M57.3 92.8h0.7M56.4 106.4h0.7M48.1 95.9h0.7M47.4 79.4h0.7M70.5 86.2h0.7M47.8 92.0h0.7M55.9 92.6h0.7M70.2 83.6h0.7M62.0 87.7h0.7M53.2 96.0h0.7M64.8 73.7h0.7M55.8 102.2h0.7M60.7 70.9h0.7M57.0 80.8h0.7M59.1 83.5h0.7M58.1 103.0h0.7M64.3 96.6h0.7M49.7 92.0h0.7M66.3 87.1h0.7M55.6 78.6h0.7M65.1 77.8h0.7M63.3 83.1h0.7M58.8 85.8h0.7M54.7 105.7h0.7M62.7 96.9h0.7M56.4 80.3h0.7M57.6 76.0h0.7M63.4 88.9h0.7M56.5 82.6h0.7M61.7 74.4h0.7M57.1 102.5h0.7M55.2 81.4h0.7M74.0 51.0h0.7M57.1 91.0h0.7M71.8 67.7h0.7M56.1 90.8h0.7M59.1 78.7h0.7M58.7 70.2h0.7M62.2 91.1h0.7M58.6 82.2h0.7M62.7 76.0h0.7M57.7 84.5h0.7M68.0 77.5h0.7M58.8 82.7h0.7M57.3 75.2h0.7M54.2 97.0h0.7M56.2 87.3h0.7M56.7 71.6h0.7M56.8 100.9h0.7M57.1 78.4h0.7M57.0 82.1h0.7M60.8 78.6h0.7M58.9 79.1h0.7M61.6 85.9h0.7M60.7 90.0h0.7M58.9 97.5h0.7M62.2 98.2h0.7M59.0 87.3h0.7M55.5 86.9h0.7M64.2 76.8h0.7M68.2 78.3h0.7M68.7 66.3h0.7M57.9 79.8h0.7M65.4 86.8h0.7M59.1 79.4h0.7M59.3 91.9h0.7M64.3 80.0h0.7M56.9 86.9h0.7M60.2 86.2h0.7M56.9 104.6h0.7M55.9 102.8h0.7M67.6 88.6h0.7M70.4 82.4h0.7M57.7 79.6h0.7M55.6 95.7h0.7M50.9 74.6h0.7M68.4 88.7h0.7M61.9 92.3h0.7M64.0 78.9h0.7M51.0 103.7h0.7M62.1 67.4h0.7M60.3 78.4h0.7M58.8 80.9h0.7M62.7 79.5h0.7M52.8 95.9h0.7M62.3 66.7h0.7M61.9 91.9h0.7M58.6 86.6h0.7M55.1 68.2h0.7M62.5 81.0h0.7M62.0 79.7h0.7M58.0 86.8h0.7M59.1 93.6h0.7M57.0 70.1h0.7M60.3 69.4h0.7M44.8 82.4h0.7M57.0 77.2h0.7M50.6 87.8h0.7M66.6 88.0h0.7M59.5 93.9h0.7M56.9 76.3h0.7M63.4 69.6h0.7M61.4 82.4h0.7M57.4 80.5h0.7M66.1 62.3h0.7M61.1 79.8h0.7M55.2 87.4h0.7M61.3 82.1h0.7M60.9 98.3h0.7M56.0 90.9h0.7M49.4 95.9h0.7M48.7 98.3h0.7M56.7 87.7h0.7M51.1 90.1h0.7M64.3 87.4h0.7M59.4 84.0h0.7M66.1 87.3h0.7M55.9 80.3h0.7M55.6 86.4h0.7M52.8 65.4h0.7M58.2 87.6h0.7M60.6 94.9h0.7M52.0 83.7h0.7M51.1 92.5h0.7M58.9 79.2h0.7M59.7 76.2h0.7M53.6 105.1h0.7M64.2 78.8h0.7M50.6 87.9h0.7M62.8 83.5h0.7M65.4 93.2h0.7M59.0 79.3h0.7M56.6 81.5h0.7M64.7 75.8h0.7M49.8 95.8h0.7M58.9 79.4h0.7M48.1 104.5h0.7M63.5 68.9h0.7M60.4 71.7h0.7M51.6 66.9h0.7M64.0 90.3h0.7M57.7 84.6h0.7M69.7 68.8h0.7M52.6 90.1h0.7M62.7 78.6h0.7M51.2 81.5h0.7M63.5 88.9h0.7M49.8 77.6h0.7M53.8 87.7h0.7M72.3 72.0h0.7M59.9 75.2h0.7M74.5 67.1h0.7M56.5 87.7h0.7M51.8 98.0h0.7M59.5 75.0h0.7M56.0 66.0h0.7M56.3 61.7h0.7M56.9 80.5h0.7M56.9 84.7h0.7M56.1 95.6h0.7M64.0 83.4h0.7M63.0 83.2h0.7M57.9 82.8h0.7M61.4 89.3h0.7M54.5 90.2h0.7M57.2 82.8h0.7M58.9 76.1h0.7M57.5 98.6h0.7M60.5 79.7h0.7M60.9 86.5h0.7M57.9 84.2h0.7M59.0 83.6h0.7M58.4 91.5h0.7M61.9 78.1h0.7M57.4 97.0h0.7M65.3 85.9h0.7M64.6 91.0h0.7M58.5 75.8h0.7M58.8 79.8h0.7M59.5 96.7h0.7M59.9 82.1h0.7M54.9 77.9h0.7M52.3 99.7h0.7M62.0 84.7h0.7M58.5 87.0h0.7M59.0 95.0h0.7M60.4 75.0h0.7M62.7 74.0h0.7M57.6 79.8h0.7M59.1 79.7h0.7M54.2 83.5h0.7M61.8 84.5h0.7M61.3 93.6h0.7M59.8 89.8h0.7M55.6 88.3h0.7M55.0 92.2h0.7M62.2 90.9h0.7M58.9 92.2h0.7M58.5 84.0h0.7M60.8 90.3h0.7M66.7 87.2h0.7M55.1 83.4h0.7M54.4 89.8h0.7M55.2 96.8h0.7M58.0 91.2h0.7M59.5 88.7h0.7M55.4 88.7h0.7M57.5 87.2h0.7M59.4 90.7h0.7M57.4 92.6h0.7M60.2 95.8h0.7M47.4 89.3h0.7M63.4 70.3h0.7M64.2 84.8h0.7M51.9 94.8h0.7M55.3 83.7h0.7M64.1 82.1h0.7M55.6 100.2h0.7M62.3 83.4h0.7M56.2 87.3h0.7M64.5 78.5h0.7M54.5 96.6h0.7M58.0 88.1h0.7M60.8 83.8h0.7M50.5 90.1h0.7M63.3 97.2h0.7M58.6 87.0h0.7M63.8 88.0h0.7M60.0 75.1h0.7M57.5 89.0h0.7M53.7 87.6h0.7M65.0 82.5h0.7M54.0 78.8h0.7M59.0 83.7h0.7M56.0 89.9h0.7M60.0 87.5h0.7M60.2 79.3h0.7M56.8 86.3h0.7M58.8 92.8h0.7M56.5 83.9h0.7M64.2 85.2h0.7M54.1 87.7h0.7M54.7 82.7h0.7M54.3 84.8h0.7M66.2 89.1h0.7M63.8 90.7h0.7M58.5 89.6h0.7M59.4 80.7h0.7M54.9 94.2h0.7M54.7 90.3h0.7M61.3 90.1h0.7M60.3 79.5h0.7M60.9 85.2h0.7M55.6 77.4h0.7M60.6 77.3h0.7M53.0 100.1h0.7M54.8 86.8h0.7M59.3 87.3h0.7M55.4 84.8h0.7M61.8 84.0h0.7M58.9 74.7h0.7M57.0 92.9h0.7M56.4 82.9h0.7M60.3 89.8h0.7M60.2 83.2h0.7M61.6 95.0h0.7M63.1 75.9h0.7M69.3 74.1h0.7M54.7 90.9h0.7M58.7 89.2h0.7M63.6 90.0h0.7M55.9 89.0h0.7M62.5 91.2h0.7M62.9 89.7h0.7M61.5 82.8h0.7M54.4 91.8h0.7M57.4 94.9h0.7M55.9 86.4h0.7M57.5 93.3h0.7M61.6 85.8h0.7M60.0 95.7h0.7M52.8 94.5h0.7M62.8 92.0h0.7M61.8 81.1h0.7M57.1 91.8h0.7M56.9 86.9h0.7M53.7 82.9h0.7M60.2 83.9h0.7M56.3 87.3h0.7M60.1 85.0h0.7M59.6 87.2h0.7M58.1 87.4h0.7M55.9 85.7h0.7M52.6 83.6h0.7M54.8 86.9h0.7M63.0 84.9h0.7M59.5 81.3h0.7M60.0 96.2h0.7M58.7 82.4h0.7M54.9 90.6h0.7M55.7 92.8h0.7M55.5 79.3h0.7M60.7 78.7h0.7M61.1 91.8h0.7M56.9 89.3h0.7M63.9 81.8h0.7M64.6 82.2h0.7M55.7 89.2h0.7M59.8 93.1h0.7M62.1 87.5h0.7M61.3 86.9h0.7M61.8 82.6h0.7M55.2 90.1h0.7M68.4 86.8h0.7M56.5 96.2h0.7M52.5 88.9h0.7M60.4 82.4h0.7M56.9 87.1h0.7M57.1 83.5h0.7M55.2 80.0h0.7M55.6 88.2h0.7M62.5 81.4h0.7M54.8 98.4h0.7M55.0 89.6h0.7M55.7 84.6h0.7M60.4 88.9h0.7M63.4 88.5h0.7M59.5 90.3h0.7M55.4 95.8h0.7M60.9 88.8h0.7M61.1 77.5h0.7M55.0 89.8h0.7M59.5 90.0h0.7M59.4 85.8h0.7M63.4 86.7h0.7M61.6 92.5h0.7M63.4 86.5h0.7M61.5 87.2h0.7M62.8 98.1h0.7M55.3 84.6h0.7M64.5 85.2h0.7M57.5 83.8h0.7M62.3 88.5h0.7M66.0 82.9h0.7M62.2 94.8h0.7M54.0 83.6h0.7M59.9 83.2h0.7M57.5 84.0h0.7M58.5 82.1h0.7M54.5 91.5h0.7M59.4 92.4h0.7M60.8 88.5h0.7M61.6 80.4h0.7M57.3 89.5h0.7M62.3 89.0h0.7M58.3 86.3h0.7M59.9 79.9h0.7M62.0 89.9h0.7M62.3 91.0h0.7M62.5 74.4h0.7M59.8 78.4h0.7M55.7 88.0h0.7M63.1 86.8h0.7M59.8 96.8h0.7M59.8 81.1h0.7M54.1 84.5h0.7M59.4 78.0h0.7M60.5 88.0h0.7M56.5 88.9h0.7M60.8 82.5h0.7M61.6 81.6h0.7M61.1 94.3h0.7M60.1 79.1h0.7M59.3 87.3h0.7M56.0 81.3h0.7M57.7 92.7h0.7M61.9 92.4h0.7M58.8 98.3h0.7M56.0 91.0h0.7M58.2 96.0h0.7M59.1 81.0h0.7M59.8 80.1h0.7M55.9 93.9h0.7M58.9 91.9h0.7M55.9 96.0h0.7M58.4 76.1h0.7M55.9 80.6h0.7M53.9 92.6h0.7M60.3 89.7h0.7M56.4 91.4h0.7M53.9 86.9h0.7M58.4 84.0h0.7M59.4 86.7h0.7M60.6 87.9h0.7M62.3 82.5h0.7M61.3 87.4h0.7M59.9 87.3h0.7M51.5 101.9h0.7M55.8 84.1h0.7M57.9 80.1h0.7M65.1 80.3h0.7M56.6 83.5h0.7M60.5 94.2h0.7M60.0 82.1h0.7M63.6 86.2h0.7M56.5 87.9h0.7M59.5 88.1h0.7M59.0 87.1h0.7M65.5 99.9h0.7M59.6 81.4h0.7M55.3 93.5h0.7M53.3 88.9h0.7M60.4 87.3h0.7M57.6 98.2h0.7M61.8 82.9h0.7M61.7 84.5h0.7M57.2 85.6h0.7M63.1 81.7h0.7M58.8 93.0h0.7M60.1 87.8h0.7M56.7 101.5h0.7M61.9 72.0h0.7M63.6 77.3h0.7M54.2 85.5h0.7M63.4 83.2h0.7M59.7 77.1h0.7M62.8 83.5h0.7M54.5 91.2h0.7M60.7 86.6h0.7M63.5 88.0h0.7M64.3 84.0h0.7M59.4 91.7h0.7M63.1 83.0h0.7M65.6 84.3h0.7M59.0 89.5h0.7M56.0 79.1h0.7M66.2 89.4h0.7M55.8 89.4h0.7M61.2 83.1h0.7M64.0 81.6h0.7M62.5 81.6h0.7M60.8 95.0h0.7M60.7 83.4h0.7M59.8 90.7h0.7M57.5 85.5h0.7M65.2 91.8h0.7M56.7 80.6h0.7M54.5 82.9h0.7M58.0 87.1h0.7M54.2 90.4h0.7M48.8 93.0h0.7M64.6 77.2h0.7M48.9 93.1h0.7M61.5 83.4h0.7M59.8 94.0h0.7M64.9 87.4h0.7M54.7 90.2h0.7M55.5 88.7h0.7M58.2 84.2h0.7M64.4 82.9h0.7M53.8 91.8h0.7M61.4 86.1h0.7M56.3 85.9h0.7M56.9 85.2h0.7M56.5 87.0h0.7M54.3 90.9h0.7M56.3 93.4h0.7M60.3 94.9h0.7M54.2 97.5h0.7M58.6 90.8h0.7M62.1 90.9h0.7M59.2 89.5h0.7M58.7 91.3h0.7M55.9 90.9h0.7M64.4 95.7h0.7M62.7 93.4h0.7M60.8 92.1h0.7M65.8 83.2h0.7M53.4 88.9h0.7M59.7 81.9h0.7M54.8 86.3h0.7M54.7 94.4h0.7M65.0 87.8h0.7M54.1 90.7h0.7M56.0 90.1h0.7M56.1 94.1h0.7M61.5 83.9h0.7M60.8 86.5h0.7M65.0 73.0h0.7M60.4 93.4h0.7M57.7 84.8h0.7M59.6 81.4h0.7M57.1 82.1h0.7M58.4 75.3h0.7M56.9 91.3h0.7M57.7 85.3h0.7M62.1 94.4h0.7M56.4 95.2h0.7M52.9 85.3h0.7M60.9 87.5h0.7M59.4 91.7h0.7M58.3 91.7h0.7M57.3 84.3h0.7M52.4 94.2h0.7M56.0 94.3h0.7M62.5 83.9h0.7M59.3 88.0h0.7M58.3 79.0h0.7M64.1 81.1h0.7M60.9 87.7h0.7M60.0 87.7h0.7M62.2 80.4h0.7M62.5 86.2h0.7M59.1 84.6h0.7M58.8 90.4h0.7M54.9 79.3h0.7M58.0 91.5h0.7M58.0 95.4h0.7M63.5 92.7h0.7M64.1 85.9h0.7M61.0 82.1h0.7M49.6 94.2h0.7M56.3 87.2h0.7M50.3 96.6h0.7M58.3 84.0h0.7M55.0 84.4h0.7M56.0 83.0h0.7M54.1 88.3h0.7M57.8 92.5h0.7M52.9 87.6h0.7M55.9 90.6h0.7M58.8 92.0h0.7M65.4 83.7h0.7M60.9 81.8h0.7M58.6 87.4h0.7M66.5 76.6h0.7M58.5 87.4h0.7M56.4 90.4h0.7M59.0 87.7h0.7M56.5 92.5h0.7M55.7 86.5h0.7M62.0 93.5h0.7M56.4 91.9h0.7M58.7 93.1h0.7M59.4 96.5h0.7M64.4 78.7h0.7M57.9 83.3h0.7M58.7 76.7h0.7M53.1 95.8h0.7M60.2 90.7h0.7M55.8 82.6h0.7M58.3 95.3h0.7M59.3 87.9h0.7M63.1 87.1h0.7M59.6 89.1h0.7M58.3 96.3h0.7M58.6 83.1h0.7M61.4 91.2h0.7M57.3 92.0h0.7M62.8 65.9h0.7M53.0 92.4h0.7M55.7 98.3h0.7M60.1 85.8h0.7M59.2 84.7h0.7M56.8 88.9h0.7M62.5 76.3h0.7M59.8 84.0h0.7M59.3 82.5h0.7M59.5 80.6h0.7M58.9 85.5h0.7M53.2 92.4h0.7M49.2 89.9h0.7M53.8 91.2h0.7M57.8 92.3h0.7M58.3 86.1h0.7M62.9 82.3h0.7M58.9 95.2h0.7M61.3 97.2h0.7M60.6 83.1h0.7M62.8 90.3h0.7M58.0 90.6h0.7M58.7 90.0h0.7M59.1 86.2h0.7M64.9 86.6h0.7M54.3 90.6h0.7M58.0 89.3h0.7M59.8 88.7h0.7M53.1 81.1h0.7M63.9 84.3h0.7M63.7 87.6h0.7M57.1 78.3h0.7M60.8 89.0h0.7M65.1 82.7h0.7M59.3 76.5h0.7M56.9 89.5h0.7M57.8 82.6h0.7M64.0 93.6h0.7M55.3 89.5h0.7M57.5 96.3h0.7M59.8 90.0h0.7M55.7 96.3h0.7M58.0 98.2h0.7M62.8 81.3h0.7M60.8 87.4h0.7M58.2 91.7h0.7M58.9 87.2h0.7M56.8 83.9h0.7M59.3 87.9h0.7M62.8 77.3h0.7M59.4 95.9h0.7M56.6 82.2h0.7M55.8 93.2h0.7M54.6 89.4h0.7M56.7 84.9h0.7M57.9 85.4h0.7M57.7 87.4h0.7M59.9 83.9h0.7M60.6 83.4h0.7M57.4 88.1h0.7M53.0 85.4h0.7M56.7 82.3h0.7M58.2 83.2h0.7M55.8 94.5h0.7M66.3 88.9h0.7M60.0 92.9h0.7M60.1 84.9h0.7M59.4 84.9h0.7M51.3 86.2h0.7M56.1 91.3h0.7M57.3 77.6h0.7M58.9 88.7h0.7M61.7 87.7h0.7M67.4 77.7h0.7M63.6 89.9h0.7M56.8 87.4h0.7M56.4 87.6h0.7M57.4 85.3h0.7M59.0 81.1h0.7M62.9 90.0h0.7M56.6 93.2h0.7M55.3 78.7h0.7M60.1 89.6h0.7M56.4 91.3h0.7M65.9 100.7h0.7M55.9 90.4h0.7M54.7 105.4h0.7M57.5 92.7h0.7M59.3 80.8h0.7M58.3 79.6h0.7M56.8 86.6h0.7M59.8 73.6h0.7M58.8 101.7h0.7M55.7 90.6h0.7M57.5 71.6h0.7M55.5 84.9h0.7M62.0 85.3h0.7M58.2 91.2h0.7M59.5 85.8h0.7M61.3 77.9h0.7M58.3 94.5h0.7M51.5 86.3h0.7M59.5 88.0h0.7M57.8 90.1h0.7M55.9 94.2h0.7M59.7 97.0h0.7M62.0 88.6h0.7M64.0 79.9h0.7M58.0 77.5h0.7M62.0 94.9h0.7M57.3 80.9h0.7M62.9 80.8h0.7M57.2 96.7h0.7M57.7 86.6h0.7M64.6 87.5h0.7M55.3 97.5h0.7M52.9 95.9h0.7M60.7 83.1h0.7M56.3 82.0h0.7M65.1 84.6h0.7M56.8 91.4h0.7M63.2 86.7h0.7M61.4 91.2h0.7M59.2 88.7h0.7M58.6 81.5h0.7M54.6 91.9h0.7M56.5 88.2h0.7M58.1 93.0h0.7M60.0 88.3h0.7M58.0 86.7h0.7M57.8 89.0h0.7M53.0 90.0h0.7M60.3 88.6h0.7M55.2 86.5h0.7M57.7 84.6h0.7M54.7 83.0h0.7M59.0 89.2h0.7M59.5 81.7h0.7M60.3 85.2h0.7M57.3 82.6h0.7M57.2 92.0h0.7M58.4 86.6h0.7M55.5 104.8h0.7M51.1 79.5h0.7M57.2 89.1h0.7M65.2 86.7h0.7M60.1 91.7h0.7M59.3 75.6h0.7M59.9 87.8h0.7M66.6 79.0h0.7M63.4 77.0h0.7M64.4 85.0h0.7M61.9 89.5h0.7M61.4 86.3h0.7M56.7 87.3h0.7M56.3 87.7h0.7M53.4 90.9h0.7M62.4 92.1h0.7M63.6 85.5h0.7M56.6 50.5h0.7M39.8 64.5h0.7M60.8 83.8h0.7M35.8 86.0h0.7M34.3 70.5h0.7M43.2 97.4h0.7M56.4 98.1h0.7M34.6 98.3h0.7M56.1 61.4h0.7M46.9 104.6h0.7M37.4 66.3h0.7M63.5 78.8h0.7M40.3 77.0h0.7M49.6 101.7h0.7M34.7 62.3h0.7M52.0 67.3h0.7M47.4 57.1h0.7M45.8 68.4h0.7M55.3 61.7h0.7M67.3 77.1h0.7M61.6 84.3h0.7M63.9 99.6h0.7M61.7 49.7h0.7M52.9 64.3h0.7M39.2 100.0h0.7M56.3 53.1h0.7M47.0 103.7h0.7M54.8 84.3h0.7M41.7 61.9h0.7M39.2 104.3h0.7M64.9 67.1h0.7M52.4 60.0h0.7M38.7 79.4h0.7M61.2 98.0h0.7M44.5 88.9h0.7M51.8 55.8h0.7M67.9 104.6h0.7M38.9 102.1h0.7M65.2 66.4h0.7M52.9 103.0h0.7M38.0 66.4h0.7M63.9 90.2h0.7M60.0 99.0h0.7M48.1 71.9h0.7M49.1 102.2h0.7M64.4 102.1h0.7M43.3 93.2h0.7M37.6 58.7h0.7M59.9 83.5h0.7M43.1 80.9h0.7M41.9 61.5h0.7M57.4 68.8h0.7M57.4 75.6h0.7M51.1 83.1h0.7M58.2 69.7h0.7M63.0 76.5h0.7M38.7 59.2h0.7M35.1 92.3h0.7M34.5 63.7h0.7M48.0 91.1h0.7M67.6 92.0h0.7M36.2 101.8h0.7M67.5 98.3h0.7M50.7 66.8h0.7M49.6 62.3h0.7M47.8 50.4h0.7M59.0 70.1h0.7M44.6 83.5h0.7M59.2 82.4h0.7M51.9 98.8h0.7M60.8 78.2h0.7M49.4 96.0h0.7M35.4 105.8h0.7M51.6 70.9h0.7M59.0 80.3h0.7M51.5 84.6h0.7M35.7 64.9h0.7M47.5 65.7h0.7M62.1 74.8h0.7M48.4 83.6h0.7M35.9 78.0h0.7M38.8 96.1h0.7M49.4 89.9h0.7M37.8 93.2h0.7M65.9 88.4h0.7M38.6 72.0h0.7M49.3 58.4h0.7M54.1 89.3h0.7M40.9 74.4h0.7M42.5 88.1h0.7M64.8 94.2h0.7M58.4 55.2h0.7M37.9 74.1h0.7M46.3 78.4h0.7M47.1 93.9h0.7M51.4 103.1h0.7M46.9 70.1h0.7M60.1 100.9h0.7M53.2 86.3h0.7M39.1 98.4h0.7M40.1 89.3h0.7M48.3 66.0h0.7M60.1 73.9h0.7M55.3 54.8h0.7M38.5 59.8h0.7M55.2 62.7h0.7M49.6 97.6h0.7M52.5 48.3h0.7M64.0 61.8h0.7M54.0 75.6h0.7M47.9 52.6h0.7M54.4 62.2h0.7M52.6 83.9h0.7M53.0 95.9h0.7M35.7 56.6h0.7M56.2 50.1h0.7M63.0 86.7h0.7M62.5 65.3h0.7M65.3 50.8h0.7M48.2 58.3h0.7M56.9 83.4h0.7M57.5 82.5h0.7M60.8 58.3h0.7M49.5 81.6h0.7M65.7 53.4h0.7M44.2 69.4h0.7M46.9 51.9h0.7M48.5 79.9h0.7M44.0 55.8h0.7M57.6 63.9h0.7M51.9 78.4h0.7M57.7 83.5h0.7M37.7 90.3h0.7M55.4 105.3h0.7M50.4 87.9h0.7M65.8 105.2h0.7M43.8 83.3h0.7M44.8 78.5h0.7M67.8 68.5h0.7M38.4 80.6h0.7M51.7 84.6h0.7M50.7 58.4h0.7M54.7 89.1h0.7M67.3 48.1h0.7M34.8 84.3h0.7M38.0 97.2h0.7M61.2 105.9h0.7M48.1 67.4h0.7M53.1 85.0h0.7M34.4 59.7h0.7M43.6 93.8h0.7M44.5 77.4h0.7M45.0 48.4h0.7M57.3 67.8h0.7M58.6 83.7h0.7M35.0 58.2h0.7M45.2 67.6h0.7M56.9 101.1h0.7M61.1 85.4h0.7M50.4 84.4h0.7M64.3 79.1h0.7M45.4 93.5h0.7M48.1 91.1h0.7M62.4 65.4h0.7M58.6 66.3h0.7M52.2 60.1h0.7M57.3 94.4h0.7M64.2 68.5h0.7M67.0 64.3h0.7M35.1 105.0h0.7M55.3 96.9h0.7M53.4 70.6h0.7M54.2 98.1h0.7M59.6 88.9h0.7M44.7 49.8h0.7M48.1 76.8h0.7M42.1 74.2h0.7M66.3 60.5h0.7M44.3 54.5h0.7M60.7 93.1h0.7M65.1 73.7h0.7M34.8 76.0h0.7M51.0 59.0h0.7M65.4 90.5h0.7M51.8 93.0h0.7M38.9 98.6h0.7M62.0 102.4h0.7M57.0 55.7h0.7M58.6 74.6h0.7M58.3 78.3h0.7M34.1 102.1h0.7M57.4 82.5h0.7M37.0 75.1h0.7M35.6 78.2h0.7M56.4 66.1h0.7M53.6 66.1h0.7M64.3 66.6h0.7M40.5 64.0h0.7M44.9 73.6h0.7M38.0 56.7h0.7M43.3 48.9h0.7M55.2 77.8h0.7M41.0 68.3h0.7M44.8 56.2h0.7M57.9 64.4h0.7M42.3 52.1h0.7M54.9 67.6h0.7M49.1 55.5h0.7M50.0 87.2h0.7M37.6 51.1h0.7M48.5 58.4h0.7M54.3 82.4h0.7M62.4 88.6h0.7M55.0 66.1h0.7M61.8 89.3h0.7M56.8 78.9h0.7M67.1 91.8h0.7M49.8 55.6h0.7M61.6 101.3h0.7M49.9 74.4h0.7M57.3 89.2h0.7M49.8 61.4h0.7M41.6 97.9h0.7M55.0 100.9h0.7" stroke="#000" stroke-width="0.7" stroke-opacity="0.37" fill="none" filter="url(#bl)"/>
<path d="M73.2 94.6h0.6M74.4 62.3h0.6M81.2 72.4h0.6M82.5 84.8h0.6M75.4 93.6h0.6M81.3 101.5h0.6M76.3 77.9h0.6M83.9 96.5h0.6M79.0 70.9h0.6M73.8 63.4h0.6M74.0 79.3h0.6M73.2 91.4h0.6M67.7 71.6h0.6M75.3 89.9h0.6M80.1 66.0h0.6M78.9 68.4h0.6M79.2 66.1h0.6M78.5 101.1h0.6M86.2 96.1h0.6M73.9 75.3h0.6M74.3 74.1h0.6M71.0 73.8h0.6M79.7 84.6h0.6M80.7 61.5h0.6M74.6 92.5h0.6M77.1 77.2h0.6M81.4 57.2h0.6M82.7 71.4h0.6M80.3 82.0h0.6M80.9 94.9h0.6M74.0 92.9h0.6M80.0 100.5h0.6M75.9 97.4h0.6M80.9 76.3h0.6M82.0 77.2h0.6M81.7 80.7h0.6M78.4 82.9h0.6M82.1 80.9h0.6M80.3 89.8h0.6M74.6 94.0h0.6M83.9 88.6h0.6M79.6 70.9h0.6M83.2 62.1h0.6M78.6 102.1h0.6M75.2 89.0h0.6M75.1 90.6h0.6M72.3 76.6h0.6M75.4 83.3h0.6M71.2 101.6h0.6M79.2 75.6h0.6M84.0 81.7h0.6M79.0 85.7h0.6M84.4 84.0h0.6M73.7 83.2h0.6M79.7 81.7h0.6M75.4 71.5h0.6M71.2 88.3h0.6M74.7 73.6h0.6M80.0 96.0h0.6M73.9 77.4h0.6M76.4 88.6h0.6M73.8 71.6h0.6M79.7 74.2h0.6M73.9 81.9h0.6M74.3 78.4h0.6M83.1 79.7h0.6M77.5 75.9h0.6M71.9 84.3h0.6M82.1 98.4h0.6M89.4 78.2h0.6M78.8 67.7h0.6M85.4 94.9h0.6M81.8 89.8h0.6M77.5 49.0h0.6M83.0 90.7h0.6M79.0 71.3h0.6M81.5 85.9h0.6M78.8 67.6h0.6M73.5 80.8h0.6M77.6 68.5h0.6M84.9 76.3h0.6M77.7 85.4h0.6M83.9 71.9h0.6M77.3 65.4h0.6M82.2 87.5h0.6M78.6 85.7h0.6M85.3 80.6h0.6M75.7 74.5h0.6M82.1 89.6h0.6M79.9 73.6h0.6M80.2 89.8h0.6M78.4 80.3h0.6M79.9 87.2h0.6M76.1 77.9h0.6M71.1 89.8h0.6M77.6 102.1h0.6M70.9 84.2h0.6M80.4 72.9h0.6M79.9 85.7h0.6M80.1 79.0h0.6M65.3 83.1h0.6M78.4 72.5h0.6M72.7 88.8h0.6M79.6 102.5h0.6M74.8 97.4h0.6M78.1 75.5h0.6M80.0 93.4h0.6M75.9 102.4h0.6M78.1 66.0h0.6M73.4 95.9h0.6M75.8 83.2h0.6M78.4 80.5h0.6M81.9 75.7h0.6M73.6 52.1h0.6M77.5 78.6h0.6M83.0 72.8h0.6M82.1 78.2h0.6M84.9 69.3h0.6M76.4 90.8h0.6M82.8 93.0h0.6M72.7 96.1h0.6M78.0 60.8h0.6M75.8 77.5h0.6M74.8 99.0h0.6M80.1 96.8h0.6M74.5 60.3h0.6M79.8 82.4h0.6M81.5 90.6h0.6M78.6 92.4h0.6M78.3 84.7h0.6M85.9 98.8h0.6M73.8 61.4h0.6M83.4 76.3h0.6M77.5 75.7h0.6M79.3 76.6h0.6M73.2 58.8h0.6M68.4 68.3h0.6M82.9 69.8h0.6M77.9 96.6h0.6M83.3 74.8h0.6M80.8 77.1h0.6M70.2 94.4h0.6M78.4 70.6h0.6M78.8 86.3h0.6M78.7 69.4h0.6M77.3 86.0h0.6M81.0 79.2h0.6M73.7 87.5h0.6M82.9 74.3h0.6M80.0 95.6h0.6M82.2 99.5h0.6M79.1 100.3h0.6M83.4 71.2h0.6M79.2 85.1h0.6M75.3 77.7h0.6M70.0 91.2h0.6M81.4 97.0h0.6M83.4 74.1h0.6M77.4 102.1h0.6M82.3 72.4h0.6M68.6 79.0h0.6M73.7 82.8h0.6M81.9 63.2h0.6M79.1 66.2h0.6M87.9 82.7h0.6M79.9 68.4h0.6M69.5 69.5h0.6M74.2 97.2h0.6M73.4 92.8h0.6M79.7 80.5h0.6M68.1 74.9h0.6M81.9 89.0h0.6M78.6 63.3h0.6M78.5 85.3h0.6M76.1 87.6h0.6M75.2 55.9h0.6M75.4 73.0h0.6M82.9 91.4h0.6M77.8 74.9h0.6M80.2 101.4h0.6M74.1 73.7h0.6M82.6 88.3h0.6M76.2 97.0h0.6M80.2 69.7h0.6M79.1 81.9h0.6M84.6 89.9h0.6M79.9 83.7h0.6M80.1 63.9h0.6M72.2 87.1h0.6M79.6 76.8h0.6M70.0 67.9h0.6M80.2 83.6h0.6M75.4 69.9h0.6M79.1 80.0h0.6M77.4 75.4h0.6M78.6 85.7h0.6M75.5 103.6h0.6M75.6 84.2h0.6M71.8 69.0h0.6M81.7 91.4h0.6M78.9 73.3h0.6M79.4 69.1h0.6M82.3 47.8h0.6M76.5 71.6h0.6M83.2 79.4h0.6M82.9 100.8h0.6M79.8 60.7h0.6M75.0 75.5h0.6M79.6 86.9h0.6M72.7 92.2h0.6M73.9 77.4h0.6M79.0 80.3h0.6M84.3 96.8h0.6M72.7 67.4h0.6M82.6 83.5h0.6M80.5 82.3h0.6M82.9 92.0h0.6M81.1 73.2h0.6M80.4 61.1h0.6M77.0 73.7h0.6M74.9 69.8h0.6M70.0 98.1h0.6M77.1 79.7h0.6M80.0 95.8h0.6M83.3 76.4h0.6M78.8 70.2h0.6M80.9 82.3h0.6M81.6 92.8h0.6M81.1 89.0h0.6M78.3 65.8h0.6M79.3 103.9h0.6M76.3 73.2h0.6M80.5 103.8h0.6M73.8 50.6h0.6M75.5 83.3h0.6M77.4 78.6h0.6M76.0 73.6h0.6M74.7 86.7h0.6M80.3 61.4h0.6M84.3 87.7h0.6M80.2 78.3h0.6M79.0 67.4h0.6M84.3 100.4h0.6M77.0 64.9h0.6M76.8 89.7h0.6M76.4 71.7h0.6M78.6 70.6h0.6M83.3 94.3h0.6M80.7 72.8h0.6M78.8 96.4h0.6M69.6 84.7h0.6M83.6 105.5h0.6M74.2 85.6h0.6M82.2 97.7h0.6M70.6 55.9h0.6M78.6 88.5h0.6M77.5 77.7h0.6M83.1 101.2h0.6M75.6 84.1h0.6M73.4 104.6h0.6M72.4 68.1h0.6M74.4 68.4h0.6M79.0 77.6h0.6M80.9 70.2h0.6M83.4 81.5h0.6M79.7 73.0h0.6M77.2 60.9h0.6M78.1 93.6h0.6M70.6 68.9h0.6M76.1 78.0h0.6M77.6 81.4h0.6M79.1 81.5h0.6M71.3 86.1h0.6M82.8 85.4h0.6M70.9 85.0h0.6M79.9 69.1h0.6M78.3 98.6h0.6M84.5 83.6h0.6M80.0 79.9h0.6M76.4 100.0h0.6M81.8 90.0h0.6M75.9 101.1h0.6M82.2 65.2h0.6M82.4 84.2h0.6M79.1 55.8h0.6M72.1 94.9h0.6M74.9 92.6h0.6M72.7 62.8h0.6M85.6 93.8h0.6M77.5 84.9h0.6M75.2 86.6h0.6M82.7 76.6h0.6M79.9 60.0h0.6M85.2 95.1h0.6M77.9 77.7h0.6M83.6 75.4h0.6M79.5 77.9h0.6M74.3 95.5h0.6M76.4 88.0h0.6M76.6 80.3h0.6M77.3 73.5h0.6M80.9 80.9h0.6M81.5 91.7h0.6M82.9 75.6h0.6M80.7 79.7h0.6M77.9 72.7h0.6M76.1 90.2h0.6M76.6 72.5h0.6M81.4 86.6h0.6M73.1 83.4h0.6M82.5 96.3h0.6M75.9 67.6h0.6M76.5 99.5h0.6M81.0 52.2h0.6M81.4 53.2h0.6M85.7 93.0h0.6M76.4 83.4h0.6M80.6 75.6h0.6M79.9 80.3h0.6M77.0 101.8h0.6M69.8 82.6h0.6M72.4 79.6h0.6M75.9 80.2h0.6M75.5 93.6h0.6M76.0 73.5h0.6M85.5 92.2h0.6M75.5 71.4h0.6M74.8 97.6h0.6M75.5 97.5h0.6M75.5 58.4h0.6M74.8 85.7h0.6M82.8 98.9h0.6M79.5 90.9h0.6M67.4 85.4h0.6M78.2 78.0h0.6M75.3 93.4h0.6M77.2 71.7h0.6M85.5 77.8h0.6M75.9 64.0h0.6M79.7 89.9h0.6M81.4 84.9h0.6M80.2 89.2h0.6M80.1 97.3h0.6M81.4 84.5h0.6M75.9 92.4h0.6M75.7 80.1h0.6M74.1 90.6h0.6M80.7 93.4h0.6M77.8 83.1h0.6M77.2 46.7h0.6M74.9 99.7h0.6M74.7 83.8h0.6M88.6 69.4h0.6M76.0 78.7h0.6M70.0 70.7h0.6M72.3 89.1h0.6M77.0 54.3h0.6M81.2 94.6h0.6M76.6 94.3h0.6M80.3 70.1h0.6M79.1 84.4h0.6M74.7 68.7h0.6M77.9 84.7h0.6M73.8 78.6h0.6M77.2 77.1h0.6M75.4 81.4h0.6M75.7 98.1h0.6M86.2 72.1h0.6M76.5 87.6h0.6M80.3 72.1h0.6M75.7 89.6h0.6M79.2 78.0h0.6M77.4 68.0h0.6M85.2 80.9h0.6M76.3 104.8h0.6M82.1 79.5h0.6M79.7 77.7h0.6M76.6 79.1h0.6M79.2 96.2h0.6M85.9 53.8h0.6M87.3 95.3h0.6M78.1 76.4h0.6M70.5 97.5h0.6M73.6 90.5h0.6M76.3 60.9h0.6M79.7 88.3h0.6M74.3 93.2h0.6M85.2 88.4h0.6M79.7 72.5h0.6M73.8 76.7h0.6M78.3 82.2h0.6M80.3 69.3h0.6M73.2 59.4h0.6M74.0 89.5h0.6M76.9 73.0h0.6M80.4 89.1h0.6M79.5 81.8h0.6M77.9 64.9h0.6M70.6 71.5h0.6M74.8 71.4h0.6M77.3 75.8h0.6M72.8 80.7h0.6M79.3 75.6h0.6M81.3 86.1h0.6M79.6 77.1h0.6M79.7 90.9h0.6M70.3 95.9h0.6M76.0 90.5h0.6M68.8 76.4h0.6M71.2 80.1h0.6M78.7 87.3h0.6M78.1 65.7h0.6M83.2 64.5h0.6M76.7 71.9h0.6M75.6 63.8h0.6M82.3 91.7h0.6M78.3 80.1h0.6M74.2 80.6h0.6M74.4 83.1h0.6M79.6 78.8h0.6M77.2 101.5h0.6M78.4 104.9h0.6M71.7 96.9h0.6M72.4 99.5h0.6M71.2 98.7h0.6M78.5 101.8h0.6M80.9 102.1h0.6M79.0 98.7h0.6M74.9 102.2h0.6M78.6 95.2h0.6M71.8 97.6h0.6M73.4 103.3h0.6M81.4 100.8h0.6M77.0 104.9h0.6M77.3 101.4h0.6M77.1 100.9h0.6M80.0 101.8h0.6M76.3 99.0h0.6M76.8 95.8h0.6M77.4 100.3h0.6M77.0 97.1h0.6M77.4 100.5h0.6M76.0 100.9h0.6M73.5 96.4h0.6M77.4 94.5h0.6M77.8 105.2h0.6M77.1 102.1h0.6M80.9 102.6h0.6M82.8 97.8h0.6M75.0 101.2h0.6M71.2 100.0h0.6M76.2 103.2h0.6M79.2 101.9h0.6M78.1 100.2h0.6M76.9 101.9h0.6M79.0 98.2h0.6M77.3 99.8h0.6M76.8 102.9h0.6M75.2 97.7h0.6M73.3 98.6h0.6M77.8 99.6h0.6M74.2 101.9h0.6M76.5 101.8h0.6M82.6 104.7h0.6M77.0 100.8h0.6M79.3 103.2h0.6M74.9 96.9h0.6M78.6 100.6h0.6M77.8 101.4h0.6M73.9 98.7h0.6M79.2 99.6h0.6M73.7 99.3h0.6M77.2 98.7h0.6M81.2 102.0h0.6M71.5 100.6h0.6M74.6 100.1h0.6M71.9 101.4h0.6M77.4 100.7h0.6M72.7 102.0h0.6M81.5 103.4h0.6M77.1 99.9h0.6M78.7 99.6h0.6M68.4 95.7h0.6M80.1 103.3h0.6M75.6 98.0h0.6M75.1 96.8h0.6M75.2 104.4h0.6M74.1 98.0h0.6M72.0 100.5h0.6M73.2 101.6h0.6M75.1 104.2h0.6M77.8 101.2h0.6M71.8 100.1h0.6M76.9 100.9h0.6M77.1 100.3h0.6M72.5 94.0h0.6M72.7 102.5h0.6M78.4 102.9h0.6M77.0 100.6h0.6M76.1 95.7h0.6M76.5 98.4h0.6M74.2 97.5h0.6M75.8 102.3h0.6M78.4 97.6h0.6M76.7 99.8h0.6M70.0 102.4h0.6M74.1 101.5h0.6M73.6 101.9h0.6M79.7 100.7h0.6M77.6 98.4h0.6M75.0 97.2h0.6M79.2 103.0h0.6M74.6 100.1h0.6M74.0 96.7h0.6M74.5 97.0h0.6M70.2 100.7h0.6M73.0 99.9h0.6M68.0 100.2h0.6M73.9 98.4h0.6M78.6 99.7h0.6M76.9 100.1h0.6M77.4 98.0h0.6M76.0 99.4h0.6M78.1 98.6h0.6M78.3 101.3h0.6M74.3 101.8h0.6M74.8 98.4h0.6M73.6 97.3h0.6M76.9 99.5h0.6M75.1 102.1h0.6M78.6 100.3h0.6M70.2 101.2h0.6M70.1 97.8h0.6M75.5 103.8h0.6M68.6 96.2h0.6M73.9 101.7h0.6M71.1 98.0h0.6M79.6 102.2h0.6M74.2 102.5h0.6M76.3 97.7h0.6M73.9 98.4h0.6M72.8 101.1h0.6M79.0 96.4h0.6M78.0 97.4h0.6M75.8 100.8h0.6M79.0 99.9h0.6M76.7 104.1h0.6M80.8 102.6h0.6M78.3 101.3h0.6M80.9 101.8h0.6M74.0 100.3h0.6M77.2 96.5h0.6M74.3 104.3h0.6M72.6 101.3h0.6M76.9 102.4h0.6M73.7 98.1h0.6M76.2 98.4h0.6M80.6 100.5h0.6M78.6 97.5h0.6M77.8 106.2h0.6M75.8 97.2h0.6M79.4 98.8h0.6M72.1 97.2h0.6M72.5 101.3h0.6M73.5 97.8h0.6M74.9 101.1h0.6M78.7 103.1h0.6M75.0 102.5h0.6M73.6 104.3h0.6M77.9 100.7h0.6M71.2 102.4h0.6M74.6 98.5h0.6M73.5 98.5h0.6M77.5 101.1h0.6M76.2 104.7h0.6M72.3 100.7h0.6M72.0 101.4h0.6M77.7 100.3h0.6M77.5 101.5h0.6M77.5 96.5h0.6" stroke="#000" stroke-width="0.6" stroke-opacity="0.27" fill="none" filter="url(#bl)"/>
<rect x="33.6" y="44.6" width="34.4" height="60.4" fill="none" stroke="#444" stroke-width="0.7"/>
<text x="73" y="48.82" font-size="3.8" font-weight="bold" fill="#333">Live Cells</text>
<text x="73" y="53.32" font-size="3.8" font-weight="bold" fill="#333">74.2%</text>
<text x="155" y="34.27" font-size="8" text-anchor="middle" font-weight="bold" fill="#111" textLength="64.5" lengthAdjust="spacingAndGlyphs">Lymphocyte gate</text>
<line x1="121.9" y1="41" x2="121.9" y2="106.8" stroke="#555" stroke-width="0.8"/>
<line x1="121.9" y1="106.8" x2="187" y2="106.8" stroke="#777" stroke-width="0.6"/>
<line x1="121.5" y1="41" x2="187" y2="41" stroke="#333" stroke-width="1.4"/>
<text x="119.3" y="45.52" font-size="4.4" text-anchor="end" fill="#666" stroke="#666" stroke-width="0.25">250K</text>
<line x1="120.5" y1="44.5" x2="121.9" y2="44.5" stroke="#666" stroke-width="0.4"/>
<text x="119.3" y="58.52" font-size="4.4" text-anchor="end" fill="#666" stroke="#666" stroke-width="0.25">200K</text>
<line x1="120.5" y1="57.5" x2="121.9" y2="57.5" stroke="#666" stroke-width="0.4"/>
<text x="119.3" y="71.02" font-size="4.4" text-anchor="end" fill="#666" stroke="#666" stroke-width="0.25">150K</text>
<line x1="120.5" y1="69.5" x2="121.9" y2="69.5" stroke="#666" stroke-width="0.4"/>
<text x="119.3" y="83.52" font-size="4.4" text-anchor="end" fill="#666" stroke="#666" stroke-width="0.25">100K</text>
<line x1="120.5" y1="82.5" x2="121.9" y2="82.5" stroke="#666" stroke-width="0.4"/>
<text x="119.3" y="96.02" font-size="4.4" text-anchor="end" fill="#666" stroke="#666" stroke-width="0.25">50K</text>
<line x1="120.5" y1="94.5" x2="121.9" y2="94.5" stroke="#666" stroke-width="0.4"/>
<text x="127.5" y="114.32" font-size="4.4" text-anchor="middle" fill="#666" stroke="#666" stroke-width="0.25">50K</text>
<text x="142.5" y="114.32" font-size="4.4" text-anchor="middle" fill="#666" stroke="#666" stroke-width="0.25">100K</text>
<text x="156" y="114.32" font-size="4.4" text-anchor="middle" fill="#666" stroke="#666" stroke-width="0.25">150K</text>
<text x="170" y="114.32" font-size="4.4" text-anchor="middle" fill="#666" stroke="#666" stroke-width="0.25">200K</text>
<text x="183" y="114.32" font-size="4.4" text-anchor="middle" fill="#666" stroke="#666" stroke-width="0.25">250K</text>
<path d="M160.8 87.2h0.7M163.2 64.6h0.7M171.7 64.1h0.7M163.7 74.1h0.7M166.4 48.5h0.7M144.1 85.9h0.7M149.6 72.8h0.7M167.0 58.8h0.7M155.1 76.8h0.7M149.7 52.4h0.7M133.4 85.1h0.7M174.0 52.3h0.7M151.8 96.9h0.7M152.4 80.1h0.7M155.1 64.1h0.7M143.4 75.7h0.7M151.9 67.4h0.7M147.1 81.1h0.7M164.0 91.4h0.7M144.9 82.9h0.7M142.2 75.3h0.7M134.8 104.9h0.7M147.7 87.9h0.7M141.5 57.8h0.7M169.1 46.4h0.7M141.7 94.7h0.7M152.9 72.4h0.7M165.3 62.9h0.7M160.0 56.6h0.7M166.3 59.4h0.7M153.8 66.3h0.7M143.9 77.7h0.7M161.2 66.1h0.7M153.9 68.7h0.7M165.2 50.6h0.7M135.2 101.3h0.7M151.8 79.6h0.7M155.2 65.9h0.7M157.2 92.7h0.7M164.2 59.2h0.7M164.4 54.2h0.7M149.8 78.0h0.7M164.4 52.0h0.7M162.5 63.5h0.7M135.6 96.7h0.7M147.8 56.9h0.7M160.0 51.9h0.7M148.2 65.8h0.7M143.9 91.9h0.7M158.3 54.9h0.7M149.7 77.3h0.7M165.6 70.5h0.7M139.9 69.8h0.7M158.6 78.4h0.7M146.0 72.6h0.7M157.1 74.5h0.7M125.7 90.2h0.7M160.2 53.8h0.7M160.7 56.0h0.7M154.3 64.6h0.7M135.8 88.4h0.7M151.0 91.6h0.7M160.3 52.7h0.7M155.3 83.0h0.7M160.5 88.6h0.7M171.5 54.2h0.7M155.9 97.4h0.7M164.8 59.2h0.7M136.8 69.2h0.7M158.6 69.4h0.7M150.2 70.2h0.7M143.4 87.4h0.7M151.7 79.7h0.7M135.6 104.9h0.7M163.8 78.1h0.7M131.4 98.5h0.7M137.7 89.3h0.7M163.6 78.2h0.7M159.3 89.3h0.7M153.7 65.4h0.7M146.7 78.8h0.7M160.4 58.1h0.7M160.2 69.1h0.7M147.4 68.4h0.7M147.3 81.4h0.7M150.1 84.2h0.7M135.9 70.7h0.7M141.6 93.7h0.7M150.6 76.3h0.7M157.9 77.8h0.7M146.7 63.8h0.7M148.4 61.5h0.7M151.3 67.5h0.7M154.9 75.1h0.7M148.4 84.1h0.7M176.3 48.2h0.7M138.5 74.3h0.7M159.3 72.2h0.7M145.8 73.2h0.7M144.4 86.4h0.7M164.5 63.7h0.7M145.2 75.7h0.7M128.9 90.3h0.7M155.8 68.5h0.7M147.0 90.2h0.7M155.1 76.9h0.7M157.0 73.0h0.7M165.1 51.7h0.7M151.7 51.4h0.7M147.8 98.8h0.7M139.2 72.3h0.7M151.3 84.5h0.7M158.8 64.6h0.7M169.0 62.7h0.7M163.4 83.8h0.7M142.2 66.2h0.7M157.4 73.3h0.7M152.3 77.6h0.7M151.0 92.0h0.7M154.6 71.9h0.7M142.3 94.6h0.7M140.4 84.1h0.7M163.4 49.9h0.7M155.2 76.1h0.7M156.3 67.2h0.7M157.9 81.8h0.7M149.0 98.8h0.7M140.6 75.7h0.7M164.0 64.5h0.7M142.6 76.8h0.7M167.1 72.9h0.7M142.7 61.8h0.7M166.9 67.3h0.7M147.8 68.4h0.7M131.3 75.5h0.7M155.0 67.8h0.7M168.5 73.3h0.7M146.1 69.4h0.7M164.9 62.2h0.7M178.4 57.8h0.7M138.4 63.1h0.7M144.6 95.1h0.7M149.5 50.6h0.7M145.7 76.3h0.7M165.7 70.1h0.7M150.5 79.2h0.7M174.2 70.8h0.7M144.6 87.2h0.7M163.3 91.5h0.7M154.9 69.7h0.7M155.6 67.6h0.7M153.5 65.6h0.7M152.2 59.6h0.7M160.4 77.5h0.7M135.5 94.1h0.7M146.4 93.6h0.7M162.0 79.4h0.7M157.9 60.0h0.7M131.2 90.7h0.7M139.3 85.7h0.7M137.1 93.4h0.7M157.2 58.1h0.7M142.4 86.1h0.7M160.9 71.3h0.7M145.1 81.5h0.7M149.7 71.0h0.7M137.9 85.1h0.7M143.8 79.3h0.7M131.9 97.6h0.7M146.4 79.7h0.7M167.0 80.9h0.7M158.6 59.8h0.7M151.1 78.7h0.7M154.7 74.6h0.7M160.2 76.2h0.7M164.2 75.2h0.7M145.1 76.4h0.7M151.9 79.4h0.7M147.1 78.3h0.7M148.7 71.7h0.7M156.1 81.7h0.7M169.7 73.5h0.7M148.1 91.0h0.7M137.7 89.2h0.7M146.4 73.1h0.7M171.8 57.0h0.7M154.5 79.5h0.7M151.7 61.0h0.7M155.3 69.2h0.7M150.9 75.5h0.7M156.6 76.2h0.7M136.8 87.7h0.7M169.6 43.0h0.7M142.7 74.2h0.7M132.1 69.5h0.7M142.4 93.6h0.7M148.3 67.8h0.7M150.3 81.3h0.7M156.9 72.1h0.7M178.4 59.6h0.7M156.3 66.5h0.7M143.4 68.8h0.7M139.1 89.6h0.7M153.6 67.3h0.7M148.5 88.5h0.7M149.9 76.8h0.7M154.9 78.2h0.7M144.4 54.5h0.7M132.5 92.1h0.7M146.2 75.4h0.7M134.8 78.4h0.7M153.2 74.6h0.7M141.2 70.4h0.7M171.3 59.1h0.7M150.9 61.7h0.7M144.2 77.5h0.7M140.5 83.9h0.7M140.4 75.2h0.7M144.0 63.2h0.7M136.2 87.1h0.7M141.7 80.2h0.7M150.5 79.5h0.7M160.1 62.7h0.7M140.5 85.0h0.7M160.6 65.5h0.7M151.3 73.4h0.7M150.5 82.7h0.7M148.0 84.1h0.7M156.1 94.6h0.7M144.8 92.0h0.7M160.0 56.7h0.7M157.7 77.5h0.7M145.9 53.5h0.7M159.5 56.3h0.7M150.3 57.7h0.7M157.9 51.8h0.7M146.1 73.1h0.7M151.9 59.6h0.7M156.6 76.9h0.7M148.4 74.5h0.7M149.7 83.3h0.7M153.8 74.3h0.7M158.9 63.6h0.7M162.2 84.4h0.7M154.0 72.0h0.7M161.8 72.6h0.7M148.3 74.0h0.7M153.3 82.1h0.7M147.0 86.7h0.7M171.6 67.7h0.7M151.4 81.4h0.7M147.6 66.4h0.7M144.4 65.9h0.7M161.6 63.4h0.7M133.5 93.1h0.7M155.6 75.7h0.7M138.6 72.6h0.7M169.6 56.6h0.7M156.6 73.2h0.7M138.1 69.1h0.7M157.0 68.4h0.7M149.2 87.8h0.7M135.8 85.5h0.7M163.7 75.7h0.7M149.2 81.8h0.7M158.2 61.6h0.7M137.2 94.2h0.7M152.5 93.6h0.7M145.6 89.8h0.7M160.3 74.4h0.7M152.3 64.9h0.7M149.1 71.9h0.7M152.2 63.9h0.7M154.5 91.9h0.7M143.2 86.6h0.7M133.1 93.2h0.7M154.6 63.7h0.7M157.5 72.3h0.7M170.1 63.8h0.7M155.9 70.8h0.7M153.8 76.9h0.7M152.8 59.1h0.7M138.4 66.9h0.7M165.2 71.2h0.7M148.6 62.4h0.7M143.7 79.6h0.7M139.7 92.6h0.7M144.0 77.6h0.7M151.0 52.8h0.7M160.1 69.9h0.7M129.8 86.2h0.7M148.7 66.5h0.7M155.5 85.2h0.7M155.5 57.9h0.7M145.2 59.0h0.7M154.0 63.2h0.7M154.8 81.5h0.7M160.8 71.1h0.7M149.4 59.8h0.7M173.8 83.1h0.7M151.1 80.1h0.7M140.5 78.9h0.7M152.3 68.7h0.7M169.6 66.2h0.7M145.8 75.0h0.7M154.4 56.7h0.7M156.8 71.3h0.7M161.0 72.5h0.7M145.5 72.5h0.7M165.9 69.9h0.7M158.0 77.1h0.7M151.1 64.2h0.7M170.0 60.6h0.7M164.9 65.2h0.7M163.1 58.3h0.7M138.8 81.1h0.7M147.2 85.2h0.7M155.4 56.5h0.7M144.6 65.5h0.7M144.5 79.2h0.7M145.8 91.4h0.7M156.2 63.3h0.7M164.9 75.7h0.7M154.0 69.9h0.7M171.4 70.0h0.7M141.2 84.1h0.7M143.7 90.1h0.7M141.7 75.4h0.7M145.8 84.3h0.7M141.5 82.3h0.7M130.5 98.7h0.7M125.1 95.3h0.7M154.5 68.1h0.7M163.0 79.2h0.7M162.7 79.5h0.7M155.3 68.8h0.7M154.6 84.7h0.7M151.5 50.3h0.7M135.2 105.4h0.7M143.8 74.3h0.7M161.4 77.9h0.7M157.6 72.7h0.7M148.2 89.0h0.7M153.4 68.4h0.7M149.3 75.1h0.7M168.5 50.2h0.7M156.0 91.1h0.7M146.9 78.9h0.7M140.3 100.3h0.7M140.7 89.5h0.7M132.3 79.5h0.7M154.2 61.8h0.7M149.4 62.8h0.7M152.9 62.0h0.7M141.4 85.1h0.7M133.0 94.7h0.7M143.8 97.3h0.7M146.7 69.4h0.7M153.1 84.7h0.7M127.6 85.0h0.7M164.6 55.5h0.7M139.8 66.8h0.7M148.5 64.3h0.7M156.5 56.2h0.7M147.2 76.3h0.7M145.9 76.7h0.7M142.4 72.3h0.7M164.3 71.0h0.7M156.2 83.1h0.7M156.0 69.0h0.7M157.8 68.5h0.7M169.5 65.2h0.7M152.5 91.0h0.7M160.2 62.0h0.7M156.8 58.3h0.7M149.5 78.5h0.7M153.4 72.3h0.7M142.4 85.7h0.7M157.6 64.1h0.7M151.8 80.3h0.7M156.9 75.3h0.7M156.7 78.0h0.7M159.2 74.8h0.7M146.9 82.0h0.7M145.3 73.5h0.7M155.4 73.3h0.7M145.2 85.5h0.7M144.4 85.0h0.7M138.7 97.9h0.7M156.9 76.5h0.7M152.2 61.0h0.7M135.3 87.2h0.7M148.3 81.0h0.7M162.4 72.2h0.7M142.4 88.2h0.7M145.9 83.4h0.7M158.0 65.5h0.7M166.6 61.4h0.7M152.3 88.1h0.7M153.9 65.0h0.7M148.5 79.8h0.7M147.6 72.7h0.7M161.5 66.5h0.7M169.4 61.4h0.7M141.8 79.5h0.7M161.3 62.6h0.7M163.2 67.4h0.7M156.0 64.7h0.7M152.3 74.7h0.7M162.5 62.9h0.7M136.4 74.2h0.7M145.2 86.3h0.7M143.1 70.9h0.7M149.0 76.9h0.7M151.1 62.2h0.7M148.9 87.1h0.7M155.9 76.3h0.7M144.4 77.3h0.7M139.5 89.5h0.7M160.4 66.8h0.7M148.2 68.9h0.7M150.8 93.2h0.7M144.8 82.2h0.7M161.1 67.7h0.7M138.9 87.5h0.7M167.3 66.1h0.7M151.6 74.7h0.7M130.7 92.9h0.7M147.2 68.8h0.7M164.3 56.6h0.7M153.0 61.4h0.7M155.4 58.0h0.7M154.2 74.7h0.7M159.4 56.4h0.7M147.6 69.4h0.7M159.2 52.0h0.7M148.1 82.8h0.7M153.7 57.8h0.7M163.1 68.0h0.7M162.0 63.7h0.7M152.4 76.8h0.7M147.6 101.1h0.7M149.3 80.4h0.7M145.6 73.6h0.7M150.5 68.5h0.7M142.5 81.9h0.7M147.8 100.1h0.7M150.2 69.4h0.7M158.2 89.0h0.7M136.0 98.8h0.7M141.4 77.2h0.7M138.1 79.7h0.7M138.1 78.2h0.7M148.6 75.8h0.7M154.5 76.0h0.7M151.2 89.1h0.7M153.7 86.4h0.7M153.3 67.4h0.7M138.4 55.2h0.7M147.7 65.9h0.7M151.8 88.5h0.7M129.4 97.6h0.7M136.9 66.1h0.7M174.4 67.5h0.7M149.7 92.1h0.7M142.7 83.4h0.7M153.2 52.6h0.7M153.3 82.4h0.7M142.4 87.1h0.7M158.6 70.7h0.7M163.3 73.9h0.7M168.1 66.6h0.7M162.4 66.3h0.7M158.8 73.9h0.7M156.4 79.7h0.7M148.8 73.8h0.7M134.0 89.8h0.7M140.3 75.0h0.7M148.2 84.5h0.7M157.7 75.9h0.7M150.2 79.2h0.7M143.1 97.2h0.7M168.2 57.6h0.7M139.6 71.4h0.7M142.7 71.6h0.7M155.0 74.8h0.7M160.5 71.1h0.7M154.1 70.4h0.7M167.6 81.1h0.7M144.1 83.6h0.7M149.4 74.0h0.7M146.4 66.9h0.7M149.3 86.7h0.7M165.8 75.4h0.7M153.4 88.1h0.7M151.2 74.3h0.7M138.7 96.5h0.7M162.1 58.1h0.7M139.4 104.4h0.7M154.3 62.2h0.7M148.9 83.1h0.7M162.7 76.1h0.7M168.1 71.5h0.7M156.5 84.7h0.7M147.0 72.3h0.7M137.9 92.7h0.7M145.0 82.5h0.7M153.0 70.8h0.7M148.0 88.1h0.7M168.2 59.5h0.7M144.2 100.5h0.7M152.9 68.6h0.7M148.7 86.2h0.7M151.1 76.6h0.7M139.1 75.7h0.7M163.1 71.7h0.7M162.1 50.3h0.7M146.2 82.2h0.7M158.7 92.1h0.7M154.0 64.3h0.7M144.4 66.2h0.7M165.4 64.2h0.7M145.6 91.4h0.7M165.5 62.4h0.7M146.8 81.6h0.7M135.1 91.9h0.7M158.8 72.3h0.7M159.1 70.3h0.7M153.7 88.3h0.7M153.1 91.2h0.7M160.6 66.4h0.7M151.6 68.2h0.7M164.2 95.6h0.7M149.5 79.9h0.7M156.9 72.6h0.7M150.3 82.8h0.7M137.4 75.9h0.7M154.4 74.1h0.7M154.0 79.7h0.7M164.0 55.8h0.7M145.2 90.9h0.7M152.9 76.3h0.7M164.1 47.5h0.7M166.9 66.8h0.7M139.3 96.4h0.7M170.0 78.4h0.7M149.5 84.0h0.7M157.4 57.0h0.7M177.6 47.0h0.7M172.7 60.5h0.7M154.7 70.5h0.7M166.0 84.1h0.7M153.8 67.2h0.7M145.0 86.8h0.7M129.7 73.5h0.7M152.1 78.1h0.7M147.2 73.8h0.7M134.8 82.8h0.7M150.4 79.1h0.7M157.7 50.7h0.7M167.6 42.2h0.7M157.2 66.7h0.7M161.8 74.0h0.7M150.1 73.0h0.7M135.3 85.5h0.7M144.7 70.2h0.7M140.8 82.8h0.7M147.8 87.0h0.7M146.6 63.2h0.7M144.1 80.7h0.7M133.7 101.3h0.7M149.6 75.2h0.7M153.3 81.0h0.7M158.6 62.6h0.7M144.8 100.5h0.7M130.9 78.9h0.7M143.1 90.5h0.7M154.8 76.4h0.7M143.3 84.3h0.7M142.3 75.8h0.7M144.4 72.7h0.7M142.0 84.1h0.7M154.9 64.4h0.7M147.3 82.6h0.7M153.5 88.9h0.7M149.4 80.2h0.7M158.6 60.0h0.7M141.1 68.1h0.7M156.1 70.1h0.7M154.5 74.5h0.7M154.0 80.2h0.7M147.9 85.6h0.7M158.1 56.3h0.7M149.6 92.8h0.7M152.2 57.7h0.7M153.1 73.5h0.7M146.3 97.4h0.7M154.1 63.2h0.7M141.1 90.2h0.7M145.7 69.6h0.7M135.1 85.2h0.7M158.0 79.4h0.7M154.4 90.5h0.7M140.1 85.2h0.7M155.8 55.3h0.7M150.1 64.9h0.7M154.3 64.7h0.7M158.5 87.1h0.7M149.8 69.7h0.7M139.8 87.5h0.7M142.7 91.1h0.7M168.6 81.7h0.7M170.2 63.6h0.7M156.6 63.6h0.7M138.7 91.9h0.7M137.7 95.1h0.7M143.4 78.8h0.7M169.4 65.7h0.7M157.1 68.7h0.7M160.6 66.4h0.7M142.7 71.1h0.7M136.4 72.6h0.7M158.7 69.5h0.7M142.4 89.8h0.7M153.8 78.4h0.7M142.1 77.0h0.7M155.5 69.8h0.7M162.1 76.2h0.7M167.0 67.9h0.7M145.6 79.9h0.7M175.3 70.3h0.7M150.5 83.5h0.7M150.0 73.1h0.7M163.3 71.7h0.7M161.3 86.8h0.7M147.0 81.6h0.7M161.5 76.8h0.7M148.3 78.1h0.7M171.2 55.9h0.7M156.6 77.0h0.7M137.7 91.6h0.7M138.6 86.5h0.7M164.3 61.3h0.7M136.8 85.2h0.7M151.8 76.4h0.7M154.3 76.4h0.7M137.4 96.3h0.7M130.3 86.2h0.7M160.1 61.5h0.7M137.5 77.1h0.7M147.1 99.3h0.7M137.1 89.7h0.7M150.0 67.9h0.7M138.2 72.1h0.7M155.4 79.7h0.7M165.1 56.0h0.7M130.8 95.6h0.7M157.3 83.8h0.7M133.1 103.6h0.7M153.3 95.2h0.7M149.9 91.0h0.7M146.2 101.4h0.7M146.9 62.7h0.7M154.4 85.3h0.7M164.7 65.7h0.7M156.0 72.1h0.7M165.5 76.7h0.7M147.0 88.6h0.7M151.8 87.5h0.7M148.2 78.6h0.7M146.3 62.6h0.7M139.9 95.1h0.7M158.2 62.5h0.7M156.9 72.0h0.7M159.7 65.1h0.7M151.9 63.0h0.7M163.5 72.6h0.7M153.2 99.7h0.7M163.8 81.8h0.7M155.3 67.4h0.7M156.6 72.4h0.7M148.6 89.7h0.7M148.9 79.8h0.7M153.3 58.5h0.7M157.4 79.4h0.7M152.6 77.3h0.7M148.8 70.7h0.7M145.7 60.5h0.7M157.4 57.4h0.7M147.5 56.3h0.7M145.4 85.3h0.7M152.9 74.7h0.7M154.4 55.7h0.7M160.7 64.6h0.7M152.3 79.3h0.7M148.6 83.2h0.7M148.6 70.9h0.7M165.2 53.4h0.7M154.9 67.4h0.7M157.2 80.8h0.7M158.9 76.0h0.7M146.0 76.6h0.7M155.3 85.3h0.7M156.7 69.8h0.7M154.1 83.1h0.7M156.7 81.2h0.7M148.0 87.2h0.7M148.4 78.4h0.7M157.8 57.2h0.7M149.5 79.6h0.7M153.7 82.5h0.7M128.8 73.6h0.7M161.9 75.9h0.7M171.5 60.4h0.7M164.0 90.0h0.7M129.1 73.4h0.7M147.0 63.6h0.7M167.2 61.8h0.7M145.0 92.7h0.7M158.5 64.4h0.7M158.8 60.7h0.7M145.0 92.1h0.7M143.6 75.6h0.7M147.4 72.3h0.7M126.5 76.2h0.7M153.5 88.3h0.7M158.9 64.9h0.7M150.7 58.4h0.7M149.4 74.3h0.7M146.1 85.3h0.7M155.9 78.1h0.7M174.0 65.4h0.7M132.3 74.0h0.7M151.4 66.1h0.7M149.5 91.5h0.7M152.8 61.8h0.7M166.3 63.0h0.7M151.5 77.6h0.7M157.1 63.8h0.7M152.6 87.6h0.7M164.3 58.0h0.7M152.2 90.8h0.7M149.4 62.8h0.7M145.5 85.7h0.7M151.0 76.1h0.7M154.6 70.3h0.7M157.0 85.4h0.7M156.3 77.6h0.7M163.2 74.9h0.7M163.3 46.1h0.7M152.3 79.0h0.7M150.6 67.0h0.7M150.7 68.2h0.7M155.4 79.8h0.7M149.6 87.8h0.7M146.8 72.3h0.7M152.8 70.3h0.7M161.9 66.4h0.7M157.3 81.1h0.7M135.7 85.6h0.7M153.2 54.9h0.7M152.5 72.6h0.7M137.6 98.8h0.7M153.3 50.6h0.7M147.2 74.9h0.7M150.9 67.8h0.7M141.3 85.0h0.7M142.3 91.7h0.7M156.9 74.1h0.7M146.3 80.1h0.7M152.6 76.1h0.7M135.9 86.0h0.7M129.2 91.9h0.7M176.7 47.9h0.7M143.9 89.2h0.7M143.6 70.0h0.7M149.6 78.2h0.7M160.7 64.2h0.7M146.0 76.4h0.7M144.9 83.0h0.7M165.7 56.9h0.7M140.4 82.2h0.7M146.2 64.1h0.7M138.7 64.8h0.7M151.3 67.7h0.7M169.9 66.8h0.7M141.8 70.5h0.7M147.3 64.0h0.7M151.2 87.0h0.7M148.8 70.0h0.7M132.3 73.2h0.7M152.9 73.0h0.7M153.9 58.8h0.7M160.7 63.8h0.7M133.6 76.1h0.7M145.6 78.6h0.7M135.3 95.6h0.7M151.8 84.0h0.7M166.4 62.0h0.7M145.6 85.4h0.7M134.6 98.2h0.7M151.4 71.0h0.7M140.6 69.2h0.7M148.9 81.9h0.7M151.8 51.1h0.7M145.1 85.1h0.7M170.4 60.8h0.7M155.8 72.4h0.7M148.0 65.8h0.7M142.8 67.3h0.7M156.6 80.7h0.7M150.1 69.7h0.7M162.1 91.2h0.7M134.5 92.9h0.7M153.4 77.4h0.7M158.9 86.3h0.7M150.7 98.3h0.7M140.2 91.1h0.7M137.7 70.0h0.7M156.2 79.6h0.7M146.2 84.8h0.7M144.7 91.6h0.7M137.2 87.3h0.7M154.9 75.2h0.7M152.0 73.7h0.7M126.3 77.4h0.7M162.0 75.4h0.7M165.6 66.3h0.7M168.9 61.9h0.7M162.3 63.0h0.7M146.5 88.2h0.7M137.5 100.9h0.7M170.4 62.3h0.7M165.8 59.9h0.7M149.5 79.2h0.7M146.5 86.2h0.7M160.9 75.6h0.7M146.9 62.6h0.7M156.2 68.4h0.7M135.8 73.5h0.7M149.1 92.9h0.7M155.8 63.2h0.7M141.2 72.1h0.7M141.8 83.7h0.7M163.1 95.6h0.7M169.7 57.8h0.7M161.4 69.6h0.7M169.4 68.4h0.7M147.0 88.5h0.7M144.1 73.9h0.7M148.9 74.4h0.7M131.2 99.9h0.7M178.7 43.7h0.7M165.5 48.0h0.7M151.2 66.9h0.7M153.9 79.2h0.7M139.1 82.2h0.7M159.4 60.2h0.7M164.4 79.9h0.7M147.3 93.1h0.7M132.6 81.9h0.7M157.4 81.2h0.7M163.0 77.7h0.7M152.4 81.9h0.7M152.3 59.5h0.7M161.0 74.7h0.7M150.7 69.8h0.7M171.5 51.9h0.7M152.7 67.2h0.7M151.5 87.2h0.7M156.1 69.0h0.7M160.1 79.1h0.7M151.3 71.0h0.7M144.7 60.2h0.7M167.5 56.9h0.7M140.4 74.1h0.7M140.6 94.4h0.7M151.1 65.4h0.7M143.9 70.1h0.7M163.2 52.4h0.7M152.8 79.5h0.7M155.7 74.8h0.7M150.6 51.4h0.7M151.8 69.9h0.7M138.8 99.2h0.7M164.6 62.5h0.7M155.6 72.6h0.7M133.1 83.5h0.7M160.7 67.9h0.7M142.0 93.7h0.7M155.5 60.5h0.7M146.3 74.5h0.7M142.2 89.7h0.7M146.6 80.2h0.7M169.8 55.7h0.7M141.0 82.6h0.7M147.5 74.6h0.7M142.9 65.1h0.7M148.1 64.2h0.7M176.2 83.2h0.7M148.9 65.6h0.7M157.5 60.4h0.7M149.2 67.2h0.7M160.9 67.7h0.7M155.2 66.4h0.7M150.0 57.4h0.7M151.0 72.4h0.7M156.2 67.2h0.7M142.1 82.7h0.7M166.6 63.5h0.7M143.3 78.1h0.7M138.7 55.6h0.7M152.5 64.3h0.7M144.0 79.0h0.7M149.8 70.0h0.7M158.2 62.5h0.7M163.4 80.0h0.7M136.2 76.7h0.7M161.2 55.4h0.7M146.2 80.6h0.7M162.0 80.4h0.7M150.6 81.6h0.7M155.3 89.7h0.7M151.9 73.7h0.7M150.0 62.8h0.7M139.0 55.9h0.7M166.7 85.4h0.7M134.8 95.7h0.7M156.0 70.1h0.7M158.2 69.7h0.7M178.5 66.2h0.7M144.1 69.1h0.7M165.8 62.7h0.7M149.8 78.0h0.7M152.7 86.6h0.7M142.6 57.5h0.7M146.4 70.5h0.7M145.6 62.0h0.7M142.6 66.3h0.7M161.6 57.1h0.7M149.7 91.6h0.7M148.6 81.2h0.7M162.1 74.1h0.7M146.2 68.1h0.7M164.9 68.1h0.7M144.8 76.3h0.7M151.5 56.8h0.7M156.8 82.6h0.7M145.4 70.7h0.7M147.9 75.8h0.7M172.2 70.0h0.7M153.8 67.4h0.7M152.8 72.5h0.7M140.4 78.5h0.7M156.4 60.8h0.7M138.8 82.4h0.7M148.0 59.8h0.7M163.9 79.1h0.7M172.9 55.9h0.7M157.7 83.9h0.7M157.4 83.3h0.7M153.6 68.8h0.7M156.7 76.9h0.7M158.8 81.7h0.7M153.6 71.7h0.7M163.8 65.3h0.7M143.8 90.5h0.7M130.7 101.4h0.7M160.5 69.2h0.7M163.4 63.0h0.7M155.0 57.9h0.7M139.7 88.1h0.7M147.9 65.9h0.7M161.3 67.8h0.7M145.3 77.9h0.7M167.0 75.9h0.7M152.5 81.4h0.7M146.2 97.8h0.7M165.1 62.3h0.7M154.0 83.3h0.7M161.6 78.9h0.7M158.9 73.9h0.7M136.1 101.2h0.7M148.6 79.9h0.7M151.7 86.2h0.7M147.8 65.8h0.7M166.7 72.2h0.7M167.4 63.9h0.7M155.4 82.1h0.7M141.8 65.8h0.7M143.8 74.0h0.7M169.8 89.6h0.7M149.9 77.4h0.7M148.8 74.7h0.7M155.4 76.2h0.7M148.5 76.3h0.7M146.0 71.5h0.7M148.0 85.0h0.7M156.9 66.2h0.7M161.7 69.0h0.7M161.6 66.4h0.7M170.0 77.2h0.7M159.3 85.1h0.7M145.5 97.6h0.7M139.8 84.3h0.7M145.9 59.3h0.7M139.0 79.4h0.7M156.9 67.8h0.7M161.4 65.1h0.7M142.7 95.6h0.7M164.1 64.1h0.7M135.9 74.7h0.7M146.8 79.3h0.7M164.0 67.5h0.7M154.9 77.5h0.7M140.2 94.9h0.7M167.2 70.0h0.7M167.5 61.7h0.7M152.1 89.2h0.7M150.3 69.8h0.7M169.8 61.1h0.7M144.0 80.4h0.7M130.6 100.6h0.7M165.5 52.7h0.7M145.3 99.0h0.7M161.7 64.9h0.7M150.3 80.3h0.7M166.2 73.3h0.7M157.7 69.0h0.7M167.4 70.5h0.7M141.0 78.5h0.7M170.0 43.6h0.7M141.4 88.0h0.7M150.6 64.1h0.7M163.8 56.4h0.7M140.5 91.0h0.7M166.0 56.2h0.7M148.5 61.5h0.7M152.0 67.2h0.7M150.3 50.6h0.7M161.2 49.4h0.7M138.5 81.8h0.7M131.8 72.0h0.7M142.6 62.3h0.7M144.9 78.8h0.7M169.0 72.4h0.7M127.4 89.7h0.7M143.4 85.7h0.7M148.6 81.0h0.7M158.5 66.5h0.7M135.5 82.0h0.7M158.2 76.7h0.7M150.1 83.2h0.7M151.0 62.2h0.7M153.7 82.5h0.7M165.1 59.9h0.7M153.2 71.7h0.7M138.5 87.6h0.7M142.6 82.2h0.7M145.3 73.4h0.7M151.4 76.3h0.7M157.0 67.3h0.7M149.2 80.8h0.7M147.8 78.1h0.7M146.2 78.4h0.7M160.2 77.8h0.7M160.2 82.0h0.7M153.5 84.3h0.7M148.8 87.7h0.7M159.6 87.2h0.7M160.3 76.3h0.7M155.2 67.6h0.7M145.5 88.3h0.7M139.2 100.1h0.7M154.1 80.0h0.7M161.7 70.9h0.7M151.2 53.1h0.7M155.6 78.4h0.7M137.3 87.1h0.7M151.0 86.6h0.7M134.9 80.9h0.7M150.0 67.3h0.7M153.9 52.2h0.7M129.3 90.3h0.7M157.5 62.6h0.7M155.7 75.6h0.7M157.8 71.8h0.7M134.9 86.7h0.7M153.3 89.8h0.7M151.2 64.5h0.7M149.2 88.6h0.7M152.5 66.8h0.7M158.9 80.5h0.7M152.1 92.8h0.7M152.3 94.1h0.7M157.0 87.1h0.7M157.7 56.0h0.7M145.7 79.2h0.7M165.4 65.2h0.7M147.2 72.7h0.7M153.9 75.9h0.7M175.0 57.8h0.7M139.6 90.0h0.7M154.7 75.0h0.7M144.9 84.8h0.7M147.1 72.7h0.7M146.1 89.3h0.7M137.7 83.9h0.7M149.4 84.6h0.7M150.2 85.7h0.7M144.4 84.8h0.7M154.8 74.0h0.7M167.6 69.8h0.7M154.7 84.6h0.7M155.9 69.7h0.7M161.7 91.7h0.7M146.4 85.6h0.7M153.4 75.1h0.7M133.1 81.3h0.7M144.0 95.5h0.7M140.8 96.6h0.7M142.5 79.7h0.7M148.0 72.0h0.7M136.4 100.2h0.7M163.2 79.8h0.7M161.7 77.9h0.7M164.4 58.5h0.7M157.7 86.3h0.7M155.5 70.7h0.7M143.2 78.3h0.7M147.3 47.0h0.7M156.7 87.7h0.7M158.3 72.5h0.7M144.8 77.5h0.7M166.0 51.1h0.7M174.7 43.7h0.7M160.6 62.1h0.7M147.5 55.6h0.7M161.5 73.0h0.7M162.8 62.4h0.7M165.4 67.7h0.7M150.3 71.0h0.7M164.4 70.3h0.7M156.2 56.6h0.7M151.4 64.9h0.7M143.9 61.2h0.7M157.9 69.8h0.7M152.0 64.7h0.7M153.9 63.3h0.7M151.1 82.2h0.7M155.8 78.6h0.7M145.2 59.4h0.7M154.8 61.9h0.7M148.8 64.9h0.7M149.7 83.6h0.7M148.7 64.5h0.7M153.5 76.8h0.7M152.2 77.8h0.7M164.4 83.9h0.7M159.1 66.4h0.7M155.6 58.0h0.7M152.1 94.4h0.7M151.5 75.2h0.7M144.2 92.0h0.7M149.2 80.1h0.7M148.5 64.7h0.7M150.2 65.7h0.7M145.2 73.7h0.7M169.2 69.9h0.7M155.2 66.3h0.7M158.1 69.4h0.7M164.2 64.3h0.7M169.2 60.8h0.7M152.9 69.5h0.7M151.7 64.9h0.7M140.5 65.5h0.7M143.6 70.9h0.7M154.9 66.3h0.7M150.4 89.8h0.7M157.9 54.6h0.7M156.1 78.5h0.7M150.6 66.1h0.7M155.6 69.8h0.7M154.7 79.2h0.7M156.2 67.0h0.7M135.9 87.1h0.7M150.8 74.1h0.7M155.3 78.3h0.7M141.2 91.2h0.7M155.5 74.3h0.7M152.7 97.4h0.7M156.5 71.0h0.7M136.1 83.1h0.7M156.8 58.4h0.7M150.5 77.5h0.7M159.9 53.9h0.7M150.2 73.8h0.7M152.0 79.3h0.7M160.8 80.4h0.7M178.0 59.5h0.7M156.6 70.6h0.7M151.2 66.1h0.7M150.2 69.5h0.7M139.2 85.4h0.7M146.4 81.0h0.7M149.2 82.2h0.7M166.4 70.6h0.7M148.4 73.6h0.7M154.1 69.2h0.7M148.5 89.3h0.7M154.9 68.1h0.7M153.9 72.5h0.7M146.9 81.1h0.7M148.0 71.6h0.7M159.1 63.0h0.7M165.9 52.5h0.7M156.6 75.9h0.7M155.6 75.6h0.7M161.0 66.1h0.7M148.2 74.1h0.7M171.9 50.4h0.7M162.8 58.9h0.7M157.4 82.9h0.7M139.8 74.2h0.7M160.7 81.6h0.7M146.1 97.3h0.7M149.3 80.9h0.7M164.7 58.5h0.7M168.6 55.8h0.7M151.0 71.6h0.7M175.3 59.3h0.7M160.7 81.3h0.7M147.7 87.3h0.7M148.9 59.1h0.7M148.3 78.1h0.7M129.6 77.9h0.7M151.2 80.0h0.7M158.3 70.4h0.7M145.4 85.6h0.7M138.4 91.8h0.7M136.8 95.0h0.7M143.0 97.5h0.7M147.7 71.5h0.7M141.8 88.0h0.7M139.9 80.6h0.7M156.3 62.8h0.7M142.9 76.0h0.7M138.4 76.8h0.7M151.8 58.8h0.7M152.1 75.7h0.7M153.9 73.6h0.7M128.5 81.7h0.7M155.1 71.1h0.7M140.6 99.3h0.7M164.4 52.2h0.7M150.5 81.7h0.7M168.2 41.7h0.7M158.4 66.6h0.7M153.6 70.8h0.7M168.6 83.9h0.7M149.2 67.2h0.7M177.5 61.9h0.7M141.2 94.1h0.7M150.0 72.9h0.7M162.6 49.7h0.7M161.4 70.4h0.7M155.5 74.6h0.7M135.4 78.4h0.7M155.7 77.8h0.7M151.3 58.1h0.7M149.3 68.5h0.7M144.3 85.3h0.7M155.0 57.1h0.7M150.7 81.8h0.7M153.9 71.9h0.7M152.1 62.6h0.7M170.9 63.4h0.7M143.3 61.7h0.7M134.3 80.6h0.7M162.3 61.9h0.7M149.3 66.2h0.7M166.9 88.2h0.7M124.6 89.9h0.7M156.9 76.7h0.7M146.8 73.6h0.7M158.7 86.2h0.7M134.1 80.0h0.7M156.6 61.1h0.7M146.5 92.6h0.7M154.8 67.5h0.7M156.7 57.5h0.7M153.6 78.6h0.7M164.0 73.4h0.7M153.4 72.0h0.7M149.5 89.5h0.7M164.4 72.1h0.7M152.4 65.8h0.7M138.5 79.5h0.7M159.8 71.3h0.7M164.8 64.3h0.7M135.7 79.0h0.7M160.3 71.8h0.7M153.2 73.7h0.7M146.9 85.1h0.7M146.7 82.7h0.7M152.2 58.1h0.7M167.4 61.8h0.7M160.4 75.4h0.7M151.8 70.4h0.7M154.0 68.0h0.7M143.6 75.4h0.7M135.3 76.0h0.7M150.6 81.8h0.7M131.7 93.9h0.7M165.3 75.1h0.7M165.6 53.1h0.7M142.3 66.9h0.7M165.7 88.4h0.7M135.9 84.3h0.7M138.6 64.6h0.7M142.5 96.9h0.7M147.0 86.8h0.7M158.6 61.8h0.7M165.3 54.4h0.7M146.8 83.2h0.7M149.0 74.5h0.7M160.1 81.4h0.7M133.9 87.7h0.7M164.6 82.8h0.7M126.8 84.3h0.7M152.8 70.1h0.7M159.2 75.1h0.7M157.4 68.8h0.7M150.2 86.0h0.7M157.3 74.8h0.7M153.1 66.3h0.7M144.4 81.6h0.7M162.4 57.3h0.7M155.3 76.9h0.7M149.4 75.5h0.7M158.4 62.4h0.7M165.9 47.2h0.7M158.6 77.7h0.7M165.8 44.2h0.7M141.4 93.6h0.7M144.2 80.1h0.7M162.7 56.5h0.7M141.6 71.9h0.7M151.6 67.5h0.7M152.5 73.4h0.7M157.0 64.7h0.7M157.5 80.0h0.7M160.9 73.5h0.7M147.7 79.0h0.7M138.0 87.8h0.7M161.1 61.9h0.7M165.9 74.1h0.7M171.6 49.8h0.7M152.8 67.6h0.7M147.9 85.9h0.7M163.5 66.8h0.7M148.6 66.0h0.7M151.5 78.2h0.7M158.3 80.4h0.7M146.4 71.8h0.7M165.3 68.6h0.7M134.9 103.5h0.7M145.2 88.2h0.7M148.7 77.8h0.7M168.7 44.5h0.7M148.8 69.6h0.7M149.3 73.6h0.7M161.2 73.1h0.7M147.3 94.0h0.7M160.4 60.0h0.7M148.3 70.5h0.7M154.1 69.5h0.7M159.5 64.3h0.7M152.1 68.7h0.7M145.9 88.0h0.7M136.9 87.8h0.7M160.2 83.0h0.7M142.6 94.2h0.7M150.9 76.7h0.7M154.8 59.3h0.7M165.1 73.3h0.7M145.4 73.4h0.7M175.6 56.7h0.7M151.3 58.5h0.7M149.7 82.0h0.7M146.5 80.3h0.7M155.2 68.9h0.7M162.0 66.1h0.7M151.1 75.5h0.7M134.0 93.4h0.7M159.7 77.8h0.7M156.4 71.0h0.7M157.4 99.7h0.7M141.0 88.9h0.7M156.9 80.4h0.7M137.7 105.8h0.7M164.9 63.7h0.7M170.3 64.2h0.7M173.2 62.7h0.7M131.9 88.6h0.7M147.5 63.8h0.7M142.1 84.7h0.7M144.5 90.6h0.7M135.2 84.0h0.7M156.7 76.0h0.7M146.4 81.7h0.7M141.6 74.8h0.7M137.8 98.4h0.7M148.0 67.4h0.7M149.1 91.2h0.7M169.6 53.6h0.7M170.1 62.0h0.7M163.5 76.3h0.7M144.3 73.1h0.7M135.3 86.9h0.7M156.1 70.1h0.7M139.6 88.3h0.7M160.1 71.2h0.7M145.8 82.8h0.7M142.6 84.3h0.7M155.8 83.5h0.7M170.6 81.5h0.7M160.9 63.4h0.7M158.7 55.7h0.7M151.9 73.8h0.7M147.0 83.7h0.7M147.7 99.0h0.7M150.3 96.0h0.7M154.9 62.6h0.7M153.1 96.6h0.7M150.5 77.0h0.7M157.5 79.5h0.7M159.5 52.2h0.7M144.7 74.5h0.7M182.4 45.8h0.7M153.4 102.1h0.7M157.1 85.6h0.7M160.5 52.6h0.7M147.4 75.6h0.7M134.0 65.7h0.7M162.0 88.2h0.7M141.3 81.1h0.7M166.6 76.0h0.7M137.9 84.3h0.7M156.1 52.5h0.7M146.6 72.9h0.7M129.0 82.5h0.7M153.3 78.6h0.7M139.0 89.6h0.7M150.0 75.0h0.7M146.1 56.4h0.7M160.6 73.9h0.7M151.7 69.7h0.7M138.5 88.5h0.7M147.3 84.2h0.7M158.7 65.1h0.7M144.7 78.3h0.7M155.3 54.7h0.7M153.9 58.5h0.7M148.3 101.6h0.7M142.1 71.1h0.7M147.9 75.5h0.7M139.0 87.5h0.7M158.4 75.9h0.7M155.5 69.8h0.7M142.5 81.9h0.7M157.2 62.6h0.7M149.9 76.6h0.7M174.6 71.2h0.7M165.5 73.0h0.7M145.9 85.6h0.7M167.2 54.2h0.7M152.6 75.9h0.7M157.6 83.3h0.7M150.0 74.7h0.7M138.3 85.9h0.7M146.4 77.1h0.7M150.8 52.0h0.7M152.9 76.8h0.7M163.8 68.7h0.7M163.6 84.2h0.7M157.3 76.2h0.7M148.7 83.8h0.7M148.7 52.8h0.7M150.7 87.8h0.7M160.9 66.1h0.7M144.1 77.7h0.7M151.6 63.0h0.7M141.9 81.1h0.7M154.2 79.5h0.7M143.9 60.4h0.7M150.1 86.6h0.7M137.2 76.2h0.7M145.3 96.8h0.7M163.1 63.9h0.7M159.8 62.3h0.7M151.7 56.0h0.7M142.2 71.8h0.7M140.3 88.8h0.7M142.1 92.4h0.7M157.6 73.7h0.7M163.7 69.6h0.7M144.9 75.4h0.7M158.7 57.1h0.7M161.1 66.6h0.7M158.2 72.0h0.7M144.2 96.9h0.7M149.6 79.8h0.7M146.7 70.3h0.7M152.9 69.1h0.7M151.4 76.8h0.7M146.7 88.9h0.7M158.0 49.4h0.7M142.9 77.4h0.7M142.2 74.1h0.7M158.4 75.6h0.7M135.9 72.5h0.7M154.5 70.1h0.7M160.2 62.6h0.7M152.3 65.6h0.7M149.2 83.2h0.7M155.8 60.8h0.7M162.4 67.2h0.7M156.4 76.5h0.7M147.4 87.2h0.7M144.7 76.0h0.7M139.8 67.2h0.7M174.0 58.2h0.7M147.9 97.4h0.7M134.6 99.7h0.7M154.5 71.9h0.7M149.7 73.5h0.7M166.9 75.3h0.7M150.7 67.7h0.7M152.2 64.3h0.7M143.9 77.4h0.7M144.4 73.5h0.7M148.4 66.6h0.7M167.2 42.4h0.7M159.0 77.2h0.7M150.2 74.5h0.7M153.4 74.5h0.7M159.0 75.9h0.7M147.9 67.5h0.7M155.1 78.8h0.7M159.8 63.8h0.7M170.4 53.9h0.7M150.9 94.0h0.7M170.6 78.4h0.7M160.0 73.8h0.7M138.1 72.1h0.7M151.2 81.9h0.7M159.2 78.9h0.7M166.0 80.2h0.7M152.4 52.9h0.7M162.1 65.8h0.7M147.2 80.1h0.7M139.1 81.5h0.7M137.5 60.7h0.7M144.9 95.1h0.7M153.2 82.3h0.7M150.8 80.0h0.7M133.0 80.4h0.7M143.2 66.7h0.7M153.1 78.3h0.7M155.5 72.0h0.7M159.0 70.8h0.7M154.7 67.0h0.7M157.4 75.6h0.7M141.7 75.2h0.7M162.6 54.0h0.7M147.8 88.5h0.7M158.7 80.6h0.7M158.0 67.1h0.7M160.1 60.2h0.7M153.2 67.6h0.7M151.0 81.9h0.7M144.9 99.6h0.7M148.6 72.6h0.7M163.8 54.8h0.7M153.3 96.2h0.7M152.9 76.7h0.7M146.2 69.2h0.7M149.8 100.3h0.7M161.2 74.3h0.7M158.9 80.3h0.7M148.7 77.1h0.7M151.4 80.1h0.7M142.3 68.0h0.7M144.6 84.1h0.7M141.0 90.6h0.7M140.5 80.6h0.7M138.2 90.9h0.7M136.7 64.5h0.7M152.6 78.0h0.7M159.7 71.6h0.7M156.2 74.0h0.7M154.1 88.0h0.7M149.9 66.3h0.7M165.1 76.1h0.7M157.7 65.4h0.7M156.8 89.3h0.7M147.3 85.3h0.7M138.6 74.5h0.7M161.8 75.1h0.7M148.5 66.1h0.7M144.6 101.5h0.7M152.6 83.6h0.7M157.8 73.8h0.7M156.5 68.5h0.7M163.3 68.2h0.7M148.8 82.8h0.7M151.7 79.4h0.7M143.6 62.3h0.7M130.1 74.7h0.7M142.0 75.9h0.7M152.1 80.0h0.7M157.4 59.0h0.7M171.0 60.8h0.7M146.0 78.1h0.7M154.7 76.8h0.7M146.5 94.8h0.7M136.4 90.7h0.7M159.7 69.2h0.7M142.5 82.4h0.7M161.3 69.4h0.7M146.8 57.3h0.7M155.0 52.6h0.7M163.0 59.3h0.7M163.6 77.4h0.7M151.7 73.1h0.7M171.5 58.8h0.7M149.0 72.2h0.7M144.5 80.3h0.7M150.5 48.0h0.7M141.5 95.5h0.7M160.6 93.5h0.7M135.3 65.7h0.7M162.8 56.6h0.7M160.8 62.2h0.7M163.8 63.6h0.7M150.6 91.7h0.7M159.6 63.1h0.7M150.9 78.5h0.7M142.9 80.1h0.7M143.9 73.4h0.7M126.8 100.0h0.7M154.2 65.2h0.7M163.5 64.7h0.7M147.6 67.3h0.7M167.3 86.5h0.7M141.5 71.4h0.7M149.3 85.0h0.7M152.5 72.9h0.7M159.9 71.7h0.7M149.2 75.0h0.7M148.4 87.9h0.7M151.8 74.8h0.7M151.9 84.8h0.7M147.9 98.0h0.7M143.3 65.6h0.7M154.4 77.0h0.7M156.4 85.1h0.7M158.1 74.3h0.7M142.8 83.0h0.7M157.4 57.5h0.7M128.9 103.6h0.7M158.3 75.3h0.7M149.2 85.4h0.7M138.1 78.4h0.7M146.2 91.3h0.7M149.3 70.5h0.7M160.4 79.2h0.7M150.7 80.1h0.7M139.1 77.9h0.7M142.7 78.5h0.7M159.6 61.9h0.7M159.0 78.8h0.7M143.0 103.7h0.7M149.4 65.4h0.7M142.6 86.2h0.7M150.0 77.7h0.7M128.6 81.6h0.7M137.2 93.5h0.7M145.6 73.5h0.7M152.6 87.1h0.7M160.7 78.4h0.7M144.4 76.8h0.7M152.3 64.4h0.7M151.1 76.3h0.7M159.2 50.1h0.7M148.8 78.1h0.7M169.7 69.4h0.7M146.7 71.0h0.7M158.8 75.3h0.7M143.1 82.2h0.7M167.2 70.9h0.7M144.5 64.9h0.7M158.4 72.9h0.7M162.1 81.5h0.7M144.9 80.1h0.7M143.2 62.8h0.7M149.3 85.4h0.7M153.1 74.1h0.7M136.8 86.9h0.7M152.1 75.0h0.7M148.0 74.6h0.7M157.5 75.2h0.7M133.3 91.1h0.7M148.8 78.4h0.7M159.3 77.3h0.7M170.4 60.2h0.7M158.9 59.3h0.7M158.6 56.3h0.7M160.8 57.8h0.7M139.0 90.0h0.7M159.4 87.6h0.7M148.6 72.0h0.7M151.3 62.3h0.7M143.8 81.9h0.7M139.5 60.7h0.7M137.2 85.9h0.7M140.0 93.4h0.7M160.1 76.2h0.7M149.9 77.6h0.7M139.6 87.1h0.7M160.5 69.8h0.7M139.0 66.4h0.7M149.8 74.4h0.7M173.4 45.5h0.7M136.3 89.1h0.7M139.7 99.5h0.7M142.7 81.2h0.7M149.3 66.9h0.7M165.5 71.6h0.7M142.5 94.9h0.7M143.6 94.8h0.7M153.8 65.5h0.7M152.7 65.7h0.7M134.5 101.4h0.7M146.0 71.1h0.7M137.6 87.6h0.7M131.7 78.0h0.7M153.9 61.1h0.7M158.1 77.5h0.7M160.9 66.2h0.7M144.5 73.0h0.7M170.8 67.8h0.7M154.4 77.3h0.7M170.3 77.5h0.7M135.3 89.1h0.7M170.1 60.4h0.7M151.2 67.9h0.7M157.0 67.8h0.7M165.1 55.0h0.7M148.8 79.0h0.7M148.2 74.3h0.7M154.2 70.1h0.7M153.1 60.0h0.7M164.2 46.7h0.7M145.3 94.2h0.7M146.0 76.0h0.7M151.8 86.3h0.7M150.5 82.9h0.7M161.6 84.7h0.7M154.4 67.0h0.7M139.7 76.2h0.7M148.7 71.1h0.7M159.8 49.1h0.7M145.5 87.7h0.7M148.3 76.4h0.7M158.4 86.1h0.7M164.2 58.7h0.7M133.1 88.5h0.7M141.8 77.0h0.7M143.7 92.3h0.7M146.9 76.4h0.7M161.6 72.9h0.7M149.3 79.7h0.7M167.4 73.0h0.7M150.5 81.0h0.7M153.7 87.9h0.7M148.5 83.9h0.7M173.0 51.9h0.7M151.9 91.4h0.7M170.4 71.1h0.7M155.9 71.5h0.7M134.6 77.7h0.7M162.7 62.5h0.7M149.2 79.0h0.7M150.4 71.3h0.7M130.0 94.3h0.7M151.8 77.7h0.7M147.9 84.7h0.7M143.4 96.2h0.7M160.1 79.5h0.7M149.7 53.0h0.7M141.4 64.0h0.7M152.4 78.8h0.7M172.5 53.6h0.7M147.1 61.4h0.7M179.5 62.6h0.7M164.8 61.8h0.7M148.9 74.4h0.7M129.0 82.8h0.7M151.6 78.3h0.7M163.6 69.8h0.7M145.8 70.3h0.7M145.6 98.6h0.7M154.0 73.2h0.7M168.2 70.0h0.7M156.6 59.8h0.7M161.7 56.2h0.7M151.0 62.5h0.7M168.1 69.6h0.7M148.4 67.0h0.7M147.1 80.9h0.7M132.3 97.0h0.7M161.5 67.4h0.7M155.7 82.9h0.7M158.8 73.0h0.7M145.9 75.2h0.7M151.7 53.4h0.7M155.5 59.6h0.7M153.7 73.7h0.7M148.6 58.6h0.7M156.6 74.3h0.7M153.3 77.0h0.7M143.4 93.2h0.7M152.3 83.5h0.7M143.0 73.8h0.7M154.9 75.9h0.7M152.0 88.1h0.7M135.7 86.7h0.7M138.2 102.7h0.7M154.9 89.2h0.7M168.2 57.3h0.7M148.1 92.3h0.7M144.2 79.0h0.7M148.2 65.9h0.7M172.3 68.5h0.7M148.2 63.7h0.7M150.7 82.8h0.7M169.8 84.4h0.7M154.0 90.7h0.7M154.4 83.2h0.7M154.2 68.2h0.7M167.3 62.2h0.7M145.5 70.2h0.7M160.9 77.0h0.7M159.9 71.3h0.7M138.0 97.6h0.7M159.0 74.5h0.7M143.0 73.4h0.7M158.4 62.8h0.7M158.5 72.5h0.7M156.3 82.2h0.7M160.1 72.3h0.7M143.1 78.6h0.7M165.5 68.0h0.7M169.7 48.1h0.7M167.2 54.1h0.7M137.8 75.2h0.7M141.8 98.5h0.7M142.3 86.1h0.7M149.9 59.6h0.7M156.5 73.7h0.7M139.8 94.2h0.7M143.4 62.4h0.7M162.3 63.5h0.7M140.4 77.0h0.7M146.1 78.3h0.7M139.8 95.1h0.7M156.7 69.2h0.7M169.8 64.5h0.7M156.0 70.9h0.7M152.0 88.1h0.7M146.8 87.5h0.7M144.9 73.3h0.7M142.6 66.1h0.7M157.1 58.2h0.7M161.2 78.2h0.7M148.6 84.7h0.7M156.8 82.2h0.7M141.6 86.5h0.7M163.2 64.8h0.7M155.9 66.2h0.7M174.1 68.7h0.7M149.7 90.7h0.7M150.6 79.5h0.7M159.3 86.1h0.7M148.7 98.0h0.7M161.8 78.8h0.7M160.4 80.8h0.7M156.7 73.4h0.7M166.7 68.7h0.7M160.4 58.6h0.7M167.3 68.8h0.7M166.7 71.1h0.7M151.6 83.3h0.7M143.4 62.3h0.7M142.4 94.9h0.7M144.5 74.4h0.7M161.6 73.7h0.7M144.7 79.5h0.7M147.6 87.0h0.7M156.6 62.1h0.7M139.2 67.2h0.7M157.5 78.5h0.7M154.1 64.4h0.7M139.8 91.6h0.7M125.5 98.4h0.7M147.7 73.7h0.7M174.2 66.4h0.7M153.9 72.4h0.7M137.9 72.7h0.7M134.6 85.7h0.7M138.8 83.4h0.7M148.1 83.7h0.7M153.3 71.8h0.7M150.5 65.9h0.7M156.0 72.2h0.7M172.7 72.2h0.7M153.9 85.9h0.7M140.7 76.8h0.7M137.9 93.1h0.7M159.0 59.7h0.7M162.7 71.4h0.7M141.3 80.6h0.7M149.7 96.3h0.7M150.0 83.9h0.7M152.7 92.3h0.7M144.9 88.7h0.7M151.9 69.9h0.7M152.9 91.3h0.7M158.9 63.5h0.7M144.9 89.8h0.7M164.5 58.6h0.7M143.4 73.9h0.7M140.7 89.4h0.7M154.4 68.6h0.7M135.2 82.3h0.7M140.9 90.2h0.7M157.0 77.7h0.7M150.0 85.2h0.7M161.1 74.1h0.7M165.0 64.6h0.7M140.4 69.7h0.7M168.5 51.1h0.7M157.0 72.0h0.7M150.9 89.0h0.7M166.9 57.4h0.7M153.8 75.7h0.7M138.1 91.2h0.7M157.3 71.0h0.7M167.0 47.3h0.7M159.7 64.2h0.7M141.6 89.8h0.7M150.8 70.7h0.7M169.1 49.8h0.7M140.4 75.1h0.7M155.0 72.8h0.7M151.3 65.7h0.7M142.3 85.1h0.7M134.0 93.6h0.7M149.2 88.4h0.7M156.2 77.1h0.7M154.2 50.3h0.7M155.9 70.7h0.7M162.6 59.1h0.7M142.1 92.8h0.7M144.2 88.1h0.7M138.7 83.4h0.7M156.2 70.5h0.7M149.3 86.0h0.7M132.4 79.8h0.7M135.1 76.9h0.7M144.1 84.5h0.7M149.4 82.7h0.7M163.4 82.2h0.7M149.1 45.7h0.7M155.0 85.2h0.7M139.7 76.9h0.7M158.6 75.4h0.7M157.9 76.6h0.7M132.7 96.4h0.7M146.6 101.3h0.7M168.7 62.3h0.7M165.2 58.9h0.7M156.3 77.5h0.7M160.9 54.0h0.7M173.3 64.2h0.7M164.1 63.5h0.7M152.4 73.6h0.7M153.1 72.1h0.7M158.9 94.1h0.7M137.4 77.7h0.7M133.3 85.3h0.7M150.7 80.8h0.7M146.8 59.2h0.7M142.0 85.7h0.7M150.4 96.9h0.7M168.2 63.1h0.7M159.0 76.7h0.7M167.6 73.1h0.7M150.7 66.7h0.7M144.0 80.1h0.7M143.8 71.5h0.7M154.6 57.1h0.7M143.0 103.0h0.7M130.8 99.4h0.7M154.4 64.6h0.7M160.0 56.6h0.7M153.9 71.7h0.7M151.2 74.6h0.7M158.3 78.3h0.7M166.0 59.9h0.7M151.5 81.3h0.7M158.4 55.0h0.7M150.6 82.7h0.7M169.5 45.0h0.7M162.4 54.3h0.7M155.7 72.5h0.7M145.6 76.9h0.7M156.5 81.7h0.7M151.2 85.7h0.7M139.7 76.0h0.7M137.4 86.5h0.7M155.6 80.5h0.7M152.9 83.0h0.7M134.2 89.0h0.7M144.7 86.2h0.7M147.5 78.6h0.7M167.7 78.2h0.7M152.3 66.2h0.7M160.7 67.2h0.7M149.4 72.4h0.7M143.5 82.9h0.7M163.7 77.5h0.7M147.2 61.0h0.7M134.0 89.3h0.7M141.7 82.8h0.7M152.8 83.1h0.7M131.0 88.4h0.7M152.7 70.9h0.7M153.1 66.2h0.7M147.9 87.3h0.7M142.6 85.2h0.7M158.7 66.1h0.7M150.8 66.4h0.7M155.6 64.4h0.7M141.0 89.9h0.7M155.4 78.8h0.7M134.8 68.8h0.7M145.2 73.6h0.7M150.4 74.8h0.7M148.9 58.6h0.7M165.2 74.7h0.7M166.5 55.7h0.7M138.2 79.5h0.7M142.6 80.3h0.7M153.9 79.5h0.7M132.7 83.7h0.7M154.3 92.0h0.7M159.6 64.8h0.7M155.5 89.2h0.7M154.5 72.2h0.7M175.6 61.9h0.7M160.1 75.8h0.7M146.2 79.6h0.7M149.7 83.7h0.7M153.1 66.5h0.7M151.3 80.8h0.7M155.1 58.0h0.7M153.6 84.4h0.7M147.7 83.4h0.7M155.2 81.0h0.7M148.4 75.2h0.7M157.4 76.9h0.7M145.7 80.3h0.7M147.2 72.0h0.7M150.3 86.6h0.7M146.3 86.3h0.7M146.9 81.5h0.7M147.5 84.8h0.7M147.3 89.2h0.7M143.9 84.0h0.7M158.9 82.8h0.7M142.7 81.6h0.7M153.2 74.6h0.7M148.0 82.0h0.7M143.0 83.8h0.7M143.6 88.2h0.7M150.8 81.9h0.7M153.0 77.5h0.7M148.5 85.8h0.7M141.4 81.6h0.7M143.5 91.9h0.7M150.2 79.4h0.7M152.9 87.7h0.7M144.2 83.3h0.7M152.4 84.4h0.7M140.1 86.7h0.7M144.7 81.2h0.7M148.4 76.7h0.7M146.3 86.4h0.7M150.6 83.4h0.7M143.3 81.3h0.7M155.7 77.2h0.7M148.3 71.3h0.7M143.8 81.9h0.7M145.5 78.5h0.7M146.5 75.6h0.7M157.9 62.6h0.7M150.1 81.1h0.7M146.5 76.9h0.7M148.1 77.7h0.7M148.0 77.8h0.7M135.6 93.1h0.7M153.1 79.6h0.7M152.3 87.2h0.7M139.7 86.2h0.7M143.2 82.0h0.7M146.5 87.3h0.7M144.9 94.3h0.7M145.3 76.6h0.7M144.4 79.5h0.7M146.4 79.5h0.7M144.7 82.3h0.7M142.0 78.7h0.7M144.2 82.5h0.7M136.6 90.1h0.7M155.2 73.4h0.7M149.6 77.8h0.7M138.7 84.5h0.7M153.2 78.5h0.7M149.1 82.0h0.7M152.3 78.0h0.7M150.9 87.0h0.7M143.6 82.2h0.7M153.2 80.4h0.7M150.6 83.8h0.7M144.7 81.4h0.7M140.1 76.4h0.7M146.6 91.6h0.7M152.5 73.3h0.7M145.6 89.3h0.7M144.9 85.0h0.7M140.9 82.8h0.7M150.5 81.1h0.7M147.5 77.0h0.7M147.8 83.6h0.7M149.9 73.1h0.7M148.5 76.0h0.7M148.9 73.4h0.7M146.5 91.4h0.7M153.1 72.5h0.7M145.0 83.2h0.7M151.1 63.6h0.7M155.6 82.2h0.7M149.8 82.6h0.7M151.1 76.0h0.7M149.3 79.2h0.7M142.6 83.5h0.7M145.7 78.1h0.7M145.5 82.3h0.7M143.5 81.5h0.7M143.7 87.3h0.7M145.7 88.3h0.7M137.8 84.4h0.7M154.8 66.1h0.7M156.9 72.8h0.7M145.7 72.3h0.7M142.6 81.6h0.7M149.8 72.1h0.7M143.0 81.7h0.7M147.3 82.3h0.7M144.3 87.5h0.7M144.1 75.5h0.7M149.4 86.9h0.7M159.8 74.4h0.7M145.7 84.5h0.7M148.0 80.2h0.7M142.3 86.4h0.7M152.3 78.8h0.7M152.0 81.7h0.7M147.7 93.2h0.7M147.0 80.7h0.7M147.1 87.5h0.7M155.4 79.2h0.7M147.9 88.6h0.7M157.2 74.3h0.7M155.5 67.7h0.7M155.1 77.0h0.7M142.3 84.4h0.7M153.9 71.5h0.7M148.5 79.3h0.7M158.4 77.4h0.7M152.7 85.7h0.7M149.8 77.9h0.7M139.5 90.6h0.7M154.7 80.0h0.7M150.1 80.8h0.7M134.2 84.2h0.7M150.4 86.7h0.7M157.5 77.0h0.7M150.5 75.8h0.7M145.3 71.2h0.7M137.7 79.9h0.7M136.2 86.1h0.7M140.2 91.1h0.7M147.1 79.8h0.7M150.7 73.9h0.7M147.7 78.9h0.7M144.2 84.5h0.7M149.9 86.0h0.7M151.9 86.8h0.7M148.2 80.5h0.7M147.3 86.3h0.7M144.5 88.7h0.7M145.9 75.6h0.7M145.6 82.9h0.7M154.8 82.0h0.7M150.6 86.2h0.7M156.3 74.5h0.7M148.8 76.9h0.7M146.5 83.3h0.7M147.4 77.3h0.7M151.7 72.4h0.7M150.7 77.5h0.7M148.1 78.1h0.7M155.4 79.8h0.7M149.2 83.0h0.7M146.6 85.3h0.7M151.9 89.2h0.7M149.8 84.0h0.7M146.7 77.7h0.7M141.4 85.0h0.7M143.8 89.5h0.7M141.3 87.0h0.7M148.7 79.4h0.7M150.5 75.1h0.7M144.7 81.9h0.7M146.6 77.0h0.7M151.3 70.3h0.7M150.0 87.9h0.7M138.6 85.8h0.7M148.6 78.4h0.7M148.6 76.6h0.7M146.8 81.9h0.7M153.5 83.2h0.7M149.1 83.1h0.7M143.9 80.5h0.7M143.2 88.5h0.7M155.6 78.7h0.7M141.1 76.9h0.7M153.2 78.5h0.7M144.3 89.7h0.7M156.9 83.2h0.7M146.1 87.7h0.7M148.4 81.8h0.7M150.0 74.4h0.7M143.3 80.9h0.7M140.4 91.1h0.7M147.9 86.2h0.7M144.0 90.0h0.7M143.9 96.8h0.7M154.1 71.4h0.7M152.8 74.7h0.7M140.4 89.5h0.7M152.8 76.8h0.7M153.9 79.0h0.7M157.2 70.8h0.7M159.7 71.9h0.7M152.3 92.3h0.7M148.0 78.2h0.7M141.7 96.2h0.7M152.2 77.9h0.7M148.9 70.9h0.7M145.1 83.4h0.7M150.8 79.5h0.7M151.1 76.3h0.7M151.2 81.2h0.7M148.6 82.9h0.7M148.3 89.0h0.7M150.7 75.2h0.7M143.4 84.2h0.7M140.5 86.5h0.7M144.5 71.7h0.7M143.4 74.7h0.7M145.7 73.5h0.7M150.2 81.4h0.7M148.2 78.0h0.7M149.6 68.8h0.7M151.4 71.3h0.7M143.5 85.9h0.7M153.2 80.9h0.7M147.6 74.1h0.7M149.2 87.6h0.7M148.5 75.6h0.7M143.0 92.1h0.7M141.6 78.7h0.7M154.2 73.7h0.7M150.1 82.5h0.7M149.3 85.9h0.7M144.1 89.7h0.7M144.3 84.9h0.7M141.0 91.3h0.7M160.3 77.3h0.7M145.4 83.9h0.7M144.1 73.9h0.7M146.0 82.6h0.7M147.1 79.2h0.7M153.9 70.5h0.7M152.4 79.0h0.7M143.6 81.0h0.7M142.5 85.7h0.7M152.9 77.0h0.7M148.6 76.2h0.7M147.6 88.8h0.7M140.8 79.0h0.7M143.4 85.1h0.7M143.5 84.2h0.7M143.4 82.4h0.7M151.1 64.6h0.7M143.2 82.6h0.7M146.7 79.0h0.7M141.9 95.0h0.7M145.2 80.6h0.7M151.1 71.3h0.7M146.5 82.3h0.7M147.5 83.9h0.7M143.2 83.9h0.7M153.8 72.6h0.7M147.9 85.9h0.7M145.4 91.9h0.7M145.0 81.7h0.7M147.4 82.1h0.7M144.8 89.5h0.7M144.1 80.2h0.7M156.0 78.7h0.7M148.0 83.2h0.7M154.7 82.2h0.7M144.4 78.7h0.7M145.9 96.3h0.7M146.6 78.0h0.7M152.3 69.6h0.7M147.3 74.9h0.7M146.1 82.6h0.7M146.0 84.2h0.7M155.1 76.1h0.7M151.6 75.5h0.7M150.0 79.6h0.7M155.5 73.0h0.7M147.1 82.0h0.7M151.7 77.8h0.7M142.1 75.1h0.7M150.8 74.6h0.7M150.4 82.0h0.7M147.7 85.7h0.7M138.2 85.4h0.7M148.4 90.4h0.7M144.0 87.5h0.7M148.4 75.1h0.7M147.8 71.8h0.7M146.7 89.6h0.7M139.3 78.5h0.7M146.3 78.1h0.7M147.2 82.0h0.7M145.7 83.7h0.7M147.3 88.6h0.7M152.3 78.0h0.7M148.2 81.9h0.7M147.2 83.2h0.7M146.1 90.2h0.7M151.1 73.0h0.7M145.0 79.0h0.7M139.2 93.7h0.7M152.5 78.9h0.7M144.9 87.4h0.7M140.0 87.4h0.7M149.9 88.0h0.7M146.2 78.3h0.7M157.6 77.9h0.7M154.9 75.7h0.7M143.7 81.4h0.7M151.8 93.9h0.7M145.2 85.8h0.7M145.0 90.0h0.7M154.9 78.7h0.7M150.3 84.1h0.7M133.0 96.5h0.7M161.3 75.9h0.7M142.6 81.8h0.7M149.1 92.4h0.7M152.6 83.9h0.7M149.3 78.3h0.7M151.1 95.7h0.7M145.2 81.1h0.7M152.7 86.3h0.7M147.5 75.9h0.7M141.0 89.6h0.7M142.1 87.7h0.7M146.0 86.7h0.7M156.2 83.4h0.7M156.2 74.3h0.7M145.4 88.4h0.7M140.3 91.8h0.7M142.4 84.2h0.7M150.5 74.4h0.7M150.8 78.0h0.7M146.5 88.2h0.7M145.2 87.7h0.7M153.1 88.6h0.7M142.6 89.1h0.7M153.1 77.4h0.7M143.5 77.8h0.7M152.5 84.3h0.7M154.8 77.3h0.7M146.6 68.9h0.7M146.3 85.6h0.7M142.9 81.2h0.7M152.0 81.6h0.7M147.5 70.1h0.7M144.4 77.3h0.7M154.4 69.7h0.7M150.5 84.0h0.7M150.2 77.5h0.7M158.4 70.7h0.7M146.2 86.0h0.7M150.7 77.3h0.7M144.4 83.9h0.7M135.9 77.7h0.7M151.9 65.1h0.7M145.6 82.3h0.7M144.4 80.0h0.7M150.6 78.1h0.7M135.5 91.0h0.7M149.3 80.4h0.7M143.5 73.8h0.7M158.0 75.3h0.7M152.7 80.8h0.7M147.5 89.8h0.7M154.3 84.0h0.7M144.3 77.7h0.7M153.7 78.9h0.7M147.4 76.9h0.7M140.5 91.0h0.7M148.6 75.6h0.7M146.8 75.4h0.7M144.9 78.1h0.7M150.0 82.0h0.7M147.3 91.4h0.7M148.1 78.4h0.7M150.5 84.5h0.7M142.1 94.2h0.7M149.0 76.9h0.7M153.9 82.2h0.7M157.6 81.0h0.7M144.3 83.2h0.7M147.7 85.6h0.7M139.7 88.7h0.7M146.0 75.5h0.7M141.0 79.7h0.7M150.5 83.2h0.7M148.9 85.6h0.7M145.3 85.8h0.7M150.8 78.4h0.7M144.2 78.5h0.7M144.1 84.8h0.7M147.7 72.9h0.7M150.5 83.2h0.7M142.7 88.9h0.7M151.4 79.8h0.7M145.8 88.9h0.7M147.5 89.8h0.7M147.5 63.4h0.7M142.2 88.3h0.7M150.2 84.1h0.7M153.5 86.8h0.7M146.1 86.8h0.7M151.8 74.3h0.7M151.0 85.1h0.7M152.8 88.6h0.7M160.1 75.6h0.7M145.6 86.1h0.7M148.6 84.9h0.7M149.5 70.9h0.7M145.2 78.4h0.7M137.3 89.8h0.7M156.0 71.0h0.7M152.9 70.6h0.7M144.4 82.3h0.7M150.2 87.4h0.7M146.2 83.4h0.7M147.1 83.2h0.7M142.2 82.0h0.7M147.4 70.4h0.7M149.7 79.8h0.7M144.6 81.2h0.7M147.7 90.0h0.7M145.3 75.2h0.7M148.2 89.1h0.7M146.6 82.2h0.7M143.1 79.3h0.7M150.7 81.4h0.7M148.9 78.8h0.7M153.0 74.6h0.7M151.3 80.6h0.7M142.3 80.4h0.7M142.0 85.7h0.7M148.9 75.9h0.7M145.8 79.5h0.7M149.6 81.7h0.7M150.0 86.2h0.7M149.3 86.4h0.7M142.0 81.2h0.7M149.6 78.2h0.7M154.6 71.4h0.7M151.1 88.5h0.7M143.8 79.3h0.7M156.4 76.5h0.7M143.3 79.8h0.7M150.6 85.3h0.7M135.8 86.4h0.7M144.9 92.9h0.7M148.0 85.3h0.7M144.0 81.4h0.7M135.2 93.3h0.7M153.4 76.0h0.7M142.3 97.2h0.7M145.1 83.2h0.7M152.9 80.7h0.7M144.2 94.6h0.7M141.3 87.3h0.7M144.9 81.8h0.7M149.5 71.2h0.7M149.4 86.4h0.7M145.4 88.4h0.7M151.4 81.9h0.7M143.0 79.3h0.7M149.6 82.7h0.7M148.9 71.2h0.7M152.1 72.9h0.7M154.9 88.5h0.7M155.2 76.2h0.7M150.1 70.8h0.7M146.6 94.1h0.7M138.3 88.1h0.7M147.1 84.3h0.7M145.7 86.6h0.7M147.8 75.2h0.7M143.5 85.8h0.7M140.6 89.5h0.7M137.2 94.8h0.7M142.5 91.7h0.7M156.4 75.0h0.7M155.7 77.8h0.7M150.0 88.1h0.7M146.7 86.7h0.7M144.1 91.6h0.7M145.1 88.7h0.7M149.1 84.0h0.7M138.2 86.1h0.7M150.9 81.9h0.7M145.4 87.9h0.7M147.0 75.6h0.7M149.5 79.9h0.7M143.9 76.3h0.7M152.9 75.0h0.7M146.7 88.9h0.7M146.4 83.6h0.7M145.4 79.1h0.7M140.3 94.1h0.7M150.1 81.7h0.7M148.0 76.3h0.7M148.8 75.1h0.7M149.7 82.6h0.7M147.0 85.0h0.7M151.2 81.4h0.7M140.4 81.1h0.7M147.6 87.8h0.7M147.7 82.2h0.7M148.3 78.9h0.7M149.8 71.8h0.7M144.2 92.7h0.7M152.5 75.3h0.7M150.4 77.4h0.7M142.6 85.1h0.7M144.3 90.0h0.7M146.9 77.6h0.7M148.0 79.8h0.7M151.8 82.7h0.7M143.4 87.2h0.7M153.9 79.8h0.7M153.1 74.9h0.7M153.3 78.7h0.7M153.8 79.1h0.7M150.6 70.5h0.7M141.5 84.9h0.7M142.6 77.4h0.7M135.6 81.9h0.7M149.2 73.9h0.7M150.9 69.5h0.7M157.6 82.1h0.7M135.9 76.8h0.7M148.1 71.8h0.7M144.3 84.8h0.7M138.2 89.6h0.7M147.5 73.5h0.7M154.5 80.9h0.7M144.7 88.3h0.7M144.7 73.5h0.7M147.1 82.0h0.7M147.5 81.0h0.7M148.5 79.8h0.7M148.8 86.1h0.7M147.8 84.9h0.7M146.0 77.9h0.7M140.9 86.9h0.7M148.8 73.6h0.7M141.7 93.1h0.7M149.9 77.7h0.7M148.5 77.1h0.7M148.5 81.9h0.7M140.3 79.0h0.7M149.1 73.8h0.7M152.3 77.4h0.7M146.6 85.3h0.7M149.1 84.8h0.7M144.5 84.9h0.7M151.2 77.8h0.7M146.3 84.2h0.7M152.3 75.2h0.7M150.4 75.2h0.7M140.3 88.2h0.7M147.7 75.9h0.7M143.2 85.3h0.7M149.3 85.3h0.7M148.9 78.4h0.7M153.0 88.9h0.7M147.6 78.5h0.7M148.1 78.2h0.7M141.2 85.2h0.7M148.0 76.3h0.7M153.3 92.7h0.7M149.5 75.4h0.7M147.9 83.7h0.7M147.4 81.5h0.7M149.7 75.0h0.7M150.9 75.5h0.7M157.0 72.7h0.7M139.1 90.0h0.7M141.7 104.9h0.7M154.2 81.5h0.7M143.7 87.2h0.7M151.8 77.6h0.7M145.3 78.7h0.7M150.4 82.8h0.7M145.6 81.2h0.7M152.3 85.5h0.7M148.1 79.0h0.7M151.2 69.1h0.7M145.4 78.0h0.7M145.5 84.0h0.7M153.5 89.1h0.7M156.0 74.8h0.7M149.2 77.2h0.7M149.7 78.3h0.7M151.1 84.7h0.7M145.6 89.4h0.7M151.3 76.9h0.7M144.2 91.5h0.7M142.9 93.6h0.7M157.9 78.0h0.7M149.3 79.4h0.7M143.2 88.7h0.7M145.1 82.1h0.7M158.6 76.3h0.7M160.5 83.0h0.7M152.3 82.6h0.7M157.8 74.6h0.7M145.4 81.8h0.7M142.3 79.5h0.7M145.9 87.7h0.7M150.1 78.2h0.7M145.4 78.2h0.7M142.0 78.7h0.7M139.8 86.7h0.7M150.0 77.1h0.7M148.5 83.5h0.7M151.3 77.8h0.7M149.9 81.1h0.7M139.4 92.0h0.7M150.8 81.8h0.7M150.9 86.6h0.7M141.6 97.2h0.7M145.0 76.9h0.7M138.8 80.8h0.7M148.2 78.1h0.7M141.5 88.2h0.7M137.7 80.6h0.7M158.6 77.8h0.7M146.8 82.7h0.7M149.0 83.7h0.7M148.8 81.7h0.7M148.8 77.5h0.7M145.1 88.8h0.7M143.4 84.0h0.7M141.6 77.3h0.7M143.1 80.9h0.7M149.5 87.5h0.7M145.6 81.5h0.7M146.4 90.9h0.7M182.1 63.6h0.7M180.0 58.3h0.7M174.5 73.2h0.7M157.7 84.4h0.7M165.4 63.9h0.7M155.7 46.0h0.7M145.8 83.1h0.7M136.8 71.3h0.7M129.2 77.2h0.7M141.2 97.9h0.7M142.0 69.9h0.7M178.4 74.3h0.7M147.8 102.2h0.7M176.6 56.2h0.7M123.1 88.9h0.7M145.0 80.5h0.7M131.9 97.0h0.7M156.1 93.2h0.7M145.6 56.7h0.7M183.6 76.0h0.7M146.3 48.4h0.7M132.8 82.6h0.7M162.2 96.0h0.7M170.8 51.7h0.7M177.8 59.8h0.7M141.3 99.7h0.7M152.4 50.7h0.7M138.3 77.6h0.7M142.3 101.1h0.7M125.8 68.3h0.7M131.3 94.6h0.7M173.1 83.3h0.7M147.4 54.4h0.7M176.2 46.5h0.7M180.0 49.9h0.7M131.9 70.4h0.7M165.7 90.7h0.7M122.7 49.5h0.7M142.2 48.6h0.7M162.9 72.2h0.7M164.9 61.1h0.7M130.1 89.5h0.7M151.5 46.5h0.7M144.2 59.4h0.7M179.9 49.2h0.7M152.3 79.4h0.7M173.6 90.5h0.7M136.6 48.6h0.7M160.9 65.2h0.7M149.4 82.8h0.7M178.2 59.9h0.7M169.1 59.7h0.7M138.4 74.5h0.7M149.3 95.5h0.7M128.6 93.6h0.7M137.8 73.7h0.7M160.4 84.6h0.7M128.8 92.0h0.7M168.1 77.9h0.7M176.4 66.1h0.7M155.7 101.2h0.7M146.9 80.5h0.7M160.4 92.8h0.7M129.6 90.9h0.7M145.4 85.0h0.7M180.7 69.0h0.7M147.6 89.6h0.7M144.6 92.4h0.7M177.4 78.7h0.7M156.0 102.2h0.7M174.9 82.2h0.7M172.5 84.8h0.7M123.7 78.3h0.7M123.6 102.5h0.7M128.4 100.9h0.7M177.2 58.2h0.7M175.2 64.0h0.7M151.0 45.1h0.7M151.8 105.4h0.7M139.1 92.8h0.7M135.6 91.3h0.7M157.6 62.6h0.7M148.1 64.3h0.7M177.7 63.4h0.7M162.1 89.4h0.7M176.4 56.6h0.7M175.9 48.5h0.7M168.9 82.9h0.7M142.3 73.8h0.7M134.1 66.5h0.7M139.2 87.3h0.7M144.8 93.6h0.7M129.2 79.2h0.7M158.4 90.4h0.7M157.0 67.5h0.7M167.2 54.7h0.7M127.9 80.3h0.7M179.0 67.9h0.7M139.1 87.8h0.7M156.6 67.4h0.7M181.9 48.6h0.7M179.7 60.8h0.7M159.1 47.3h0.7M124.7 77.1h0.7M165.4 59.5h0.7M154.1 95.3h0.7M185.9 57.7h0.7M136.7 83.5h0.7M136.0 42.8h0.7M137.8 43.3h0.7M161.8 95.6h0.7M148.9 77.3h0.7M158.9 68.4h0.7M177.1 79.2h0.7M174.2 58.9h0.7M146.1 99.6h0.7M145.2 103.3h0.7M130.7 97.0h0.7M157.0 50.2h0.7M155.0 72.4h0.7M142.4 93.7h0.7M161.3 88.1h0.7M168.6 83.3h0.7M152.2 78.8h0.7M125.5 81.6h0.7M154.3 69.9h0.7M158.4 77.8h0.7M125.7 64.2h0.7M178.4 51.5h0.7M166.3 46.2h0.7M168.7 78.5h0.7M168.4 73.4h0.7M167.8 102.3h0.7M151.4 76.5h0.7M165.9 63.2h0.7M159.0 98.1h0.7M157.1 85.6h0.7M142.4 42.4h0.7M161.6 87.6h0.7M145.3 49.7h0.7M156.4 88.7h0.7M169.6 57.9h0.7M161.1 90.6h0.7M133.7 53.6h0.7M164.2 73.7h0.7M129.8 47.7h0.7M148.5 86.6h0.7M131.0 64.0h0.7M128.2 64.7h0.7M168.0 98.3h0.7M154.5 53.8h0.7M148.1 56.5h0.7M144.1 90.1h0.7M156.1 43.3h0.7M161.4 104.8h0.7M125.8 65.9h0.7M133.0 103.7h0.7M156.4 42.3h0.7M147.0 43.8h0.7M180.8 78.1h0.7M134.3 81.7h0.7M133.8 56.0h0.7M144.4 97.8h0.7M181.3 80.4h0.7M159.3 99.1h0.7M133.5 51.5h0.7M175.2 43.9h0.7M124.5 76.4h0.7M174.5 61.9h0.7M140.9 64.3h0.7M133.7 75.2h0.7M180.5 73.8h0.7M182.4 77.1h0.7M147.3 70.7h0.7M129.6 77.5h0.7M144.0 65.4h0.7M137.6 94.3h0.7M134.2 67.9h0.7M145.3 100.7h0.7M176.5 48.3h0.7M155.8 84.5h0.7M142.8 75.7h0.7M159.4 76.0h0.7M147.6 77.0h0.7M135.1 62.5h0.7M151.1 54.7h0.7M150.3 47.3h0.7M123.5 48.7h0.7M158.5 81.0h0.7M141.9 105.5h0.7M172.1 91.3h0.7M167.4 75.8h0.7M124.7 102.6h0.7M142.0 79.6h0.7M180.5 76.7h0.7M163.7 89.3h0.7M156.7 45.0h0.7M141.7 54.0h0.7M170.0 75.5h0.7M133.6 65.7h0.7M128.4 102.8h0.7M126.7 55.0h0.7M135.4 83.0h0.7M123.0 101.0h0.7M135.4 86.1h0.7M182.1 42.3h0.7M137.6 94.1h0.7M146.2 95.6h0.7M124.9 51.1h0.7M138.0 84.8h0.7M179.3 69.1h0.7M159.1 97.3h0.7M162.7 55.1h0.7M139.7 86.2h0.7M149.0 68.5h0.7M140.1 99.7h0.7M175.1 73.2h0.7M161.0 82.1h0.7M147.7 86.5h0.7M151.2 84.4h0.7M136.5 82.8h0.7M129.5 99.7h0.7M153.8 53.7h0.7M143.3 102.4h0.7M138.7 85.6h0.7M182.5 67.5h0.7M156.9 60.2h0.7M159.1 48.9h0.7M129.8 94.7h0.7M158.1 73.9h0.7M130.3 105.7h0.7M152.5 49.0h0.7M136.9 95.3h0.7M134.0 90.8h0.7M174.4 57.5h0.7M162.0 70.0h0.7M131.3 80.2h0.7M124.7 101.8h0.7M171.8 54.1h0.7M135.7 62.3h0.7M144.2 102.8h0.7M181.9 64.4h0.7M135.0 83.2h0.7M147.4 51.8h0.7M141.0 46.1h0.7M134.0 54.4h0.7M164.8 70.1h0.7M178.6 46.4h0.7M138.0 75.8h0.7M158.2 51.2h0.7M166.5 68.2h0.7M156.7 81.6h0.7M133.0 101.7h0.7M146.1 51.2h0.7M128.7 57.0h0.7M146.8 78.0h0.7M129.8 56.4h0.7M162.8 78.1h0.7M126.8 83.5h0.7M163.9 60.1h0.7M162.0 70.8h0.7M170.6 85.7h0.7M161.8 64.1h0.7M181.8 51.8h0.7M156.9 65.0h0.7M131.4 82.8h0.7M133.3 103.9h0.7M145.9 43.3h0.7M174.4 51.2h0.7M151.9 87.5h0.7M157.2 56.5h0.7M148.1 95.8h0.7M144.9 102.3h0.7M149.4 68.7h0.7M169.7 70.4h0.7M147.2 65.3h0.7M143.2 67.5h0.7M169.0 55.2h0.7M136.1 54.2h0.7M134.6 97.9h0.7M164.9 81.6h0.7M180.5 77.1h0.7M171.7 68.1h0.7M163.9 55.7h0.7M131.2 49.0h0.7M164.4 61.2h0.7M162.5 45.3h0.7M136.1 77.3h0.7M132.2 66.6h0.7M155.6 53.5h0.7M150.8 86.4h0.7M147.1 84.7h0.7M139.8 89.7h0.7M158.6 52.0h0.7M148.1 92.0h0.7M134.9 68.3h0.7M152.5 97.6h0.7M130.5 101.6h0.7M142.6 101.7h0.7M161.8 89.1h0.7M173.2 47.5h0.7M122.6 97.2h0.7M125.4 96.6h0.7M142.4 99.7h0.7M135.2 51.6h0.7M135.8 95.8h0.7M145.6 100.2h0.7M159.9 95.0h0.7M152.9 87.0h0.7M140.8 48.5h0.7M158.5 99.7h0.7M131.9 68.6h0.7M156.6 81.6h0.7M132.3 77.3h0.7M152.5 104.9h0.7M131.5 70.5h0.7M171.1 50.7h0.7M146.8 66.3h0.7M133.1 43.3h0.7M166.7 94.3h0.7M133.8 99.2h0.7M158.8 98.7h0.7M126.5 50.6h0.7M141.5 67.2h0.7M131.7 105.5h0.7M173.4 84.8h0.7M127.4 80.6h0.7M174.0 43.0h0.7M179.9 68.7h0.7M133.0 96.5h0.7M134.5 59.9h0.7M155.8 100.6h0.7M153.8 100.0h0.7M125.4 57.3h0.7M141.9 70.7h0.7M150.1 44.6h0.7M170.7 90.6h0.7M151.8 47.1h0.7M157.8 50.4h0.7M169.8 43.2h0.7M146.7 99.9h0.7M146.7 44.3h0.7M165.7 86.6h0.7M143.8 93.4h0.7M148.5 63.9h0.7M157.9 73.3h0.7M139.3 100.5h0.7M181.7 47.4h0.7M165.3 62.4h0.7M155.1 49.3h0.7M129.0 46.8h0.7M146.3 51.9h0.7M178.1 42.6h0.7M122.9 93.6h0.7M178.6 81.5h0.7M132.2 82.1h0.7M178.6 71.5h0.7M128.9 49.8h0.7M167.8 54.8h0.7M170.5 47.2h0.7M128.0 102.9h0.7M122.2 92.7h0.7M137.1 45.2h0.7M127.2 62.5h0.7M156.4 72.5h0.7M134.8 105.2h0.7M161.4 53.9h0.7M140.7 85.3h0.7M178.2 45.9h0.7M134.0 42.4h0.7M133.4 54.7h0.7M131.4 76.7h0.7M167.7 46.8h0.7M134.2 62.6h0.7M163.3 79.9h0.7M161.1 74.4h0.7M140.6 69.3h0.7M156.5 83.9h0.7M171.0 46.1h0.7M126.1 64.0h0.7M169.6 81.7h0.7M175.2 47.1h0.7M171.7 87.8h0.7M122.8 89.6h0.7M127.7 79.6h0.7M181.6 65.1h0.7M166.3 85.4h0.7M126.3 58.8h0.7M176.6 70.9h0.7M170.2 72.7h0.7M154.5 90.9h0.7M142.4 105.9h0.7M134.4 79.6h0.7M124.8 64.6h0.7M152.2 71.5h0.7M180.4 70.9h0.7M131.2 90.0h0.7M149.3 43.6h0.7M131.1 62.3h0.7M148.0 42.9h0.7M173.4 84.4h0.7M133.2 79.9h0.7M134.0 48.1h0.7M147.4 51.6h0.7M143.9 43.4h0.7M147.5 61.4h0.7M136.8 73.1h0.7M169.0 69.7h0.7M185.0 45.8h0.7M143.0 72.5h0.7M140.8 57.0h0.7M149.1 42.8h0.7M142.0 52.2h0.7M163.0 85.8h0.7M149.9 49.8h0.7M130.4 60.0h0.7M178.2 65.7h0.7M151.1 68.7h0.7M135.6 62.9h0.7M137.2 97.8h0.7M142.3 100.6h0.7M158.1 78.9h0.7M143.5 54.4h0.7M130.3 62.6h0.7M136.9 79.9h0.7M137.4 94.5h0.7M153.8 72.1h0.7M123.3 74.7h0.7M128.2 90.0h0.7M162.5 47.2h0.7M153.9 80.6h0.7M139.3 70.8h0.7M140.0 51.2h0.7M177.1 45.8h0.7M138.0 82.5h0.7M143.3 94.8h0.7M153.4 51.4h0.7M139.7 62.5h0.7M156.9 94.7h0.7M160.8 49.7h0.7M169.7 89.1h0.7M134.7 93.1h0.7M140.4 92.6h0.7M149.5 94.4h0.7M122.7 58.7h0.7M131.4 43.6h0.7M164.4 90.8h0.7M127.1 71.8h0.7M181.1 51.4h0.7M162.7 77.5h0.7M160.6 90.5h0.7M129.0 59.5h0.7M139.9 87.2h0.7M151.5 52.4h0.7M130.4 103.2h0.7M130.1 97.5h0.7M157.9 65.6h0.7M142.5 88.1h0.7M157.8 82.2h0.7M164.0 67.3h0.7M143.2 95.5h0.7M124.2 60.1h0.7M158.8 78.4h0.7M179.4 45.6h0.7M168.6 50.4h0.7M126.2 46.3h0.7M131.9 75.5h0.7M144.0 68.4h0.7M170.8 73.5h0.7M157.4 75.6h0.7M163.7 67.3h0.7M132.1 94.7h0.7M174.9 70.7h0.7M129.5 100.3h0.7M138.9 57.3h0.7M163.9 77.7h0.7M125.4 95.9h0.7M136.7 44.7h0.7M136.2 56.9h0.7M131.9 97.7h0.7M154.5 62.7h0.7M171.1 84.9h0.7M123.3 91.0h0.7M154.0 84.9h0.7M167.3 77.2h0.7M124.6 79.7h0.7M135.6 79.3h0.7M122.5 86.9h0.7M159.8 65.6h0.7M180.4 52.5h0.7M135.8 76.3h0.7M140.3 77.6h0.7M155.2 52.2h0.7M135.1 80.9h0.7M143.7 62.9h0.7M138.9 49.6h0.7M140.5 43.8h0.7M161.2 83.7h0.7M155.3 68.0h0.7M134.0 44.7h0.7M178.8 54.8h0.7M159.1 89.8h0.7M176.1 85.1h0.7M145.5 45.5h0.7M162.7 78.3h0.7M179.5 58.1h0.7M155.2 61.8h0.7M136.1 53.6h0.7M143.7 74.0h0.7M168.8 88.1h0.7M151.8 67.0h0.7M171.0 100.9h0.7M153.2 80.2h0.7M173.7 84.7h0.7M129.0 42.0h0.7M124.0 45.2h0.7M122.7 59.6h0.7M122.0 70.5h0.7M128.3 65.6h0.7M170.2 65.9h0.7M140.2 83.8h0.7M141.3 44.2h0.7M129.8 51.1h0.7M151.7 101.7h0.7M129.8 82.7h0.7M183.9 92.7h0.7M133.3 49.2h0.7M169.1 71.1h0.7M139.8 43.4h0.7M158.6 46.1h0.7M167.0 55.8h0.7M147.8 66.2h0.7M124.4 69.7h0.7M152.3 53.2h0.7M122.9 99.4h0.7M168.7 55.0h0.7M139.4 85.0h0.7M166.8 93.9h0.7M158.6 96.8h0.7M158.3 87.0h0.7M173.5 87.8h0.7M170.3 60.3h0.7M127.7 65.5h0.7M175.3 76.9h0.7M146.3 99.7h0.7M169.2 76.6h0.7M142.8 82.9h0.7M148.5 79.1h0.7M146.2 104.9h0.7M171.9 51.4h0.7M165.9 68.1h0.7M138.5 50.8h0.7M151.3 76.5h0.7M144.3 100.8h0.7M144.2 82.5h0.7M147.8 94.7h0.7M157.4 75.3h0.7M159.4 58.3h0.7M170.1 85.8h0.7M173.2 73.3h0.7M143.2 95.5h0.7M146.3 102.0h0.7M156.0 94.4h0.7M136.2 64.5h0.7M148.5 90.1h0.7M128.9 83.0h0.7M151.5 95.4h0.7M180.2 54.1h0.7M122.0 92.8h0.7M154.8 48.9h0.7M131.4 46.6h0.7M183.8 57.5h0.7M148.4 94.8h0.7M157.2 48.2h0.7M174.9 43.5h0.7M124.0 49.7h0.7M134.1 91.7h0.7M126.6 58.2h0.7M145.2 67.8h0.7M167.4 61.2h0.7M147.2 55.3h0.7M149.9 79.7h0.7M153.1 81.3h0.7M124.7 73.4h0.7M124.0 62.5h0.7M124.0 86.8h0.7M178.0 66.6h0.7M157.0 48.3h0.7M166.8 81.7h0.7M144.8 104.2h0.7M153.9 43.7h0.7M124.5 73.2h0.7M180.9 72.4h0.7M157.3 47.3h0.7M169.1 87.8h0.7M182.0 71.1h0.7M170.7 57.4h0.7M142.1 91.7h0.7M177.6 55.9h0.7M148.7 42.7h0.7M130.3 97.2h0.7M150.9 74.1h0.7M152.1 86.6h0.7M147.2 101.2h0.7M164.5 45.1h0.7M160.1 86.7h0.7M153.9 99.7h0.7M141.1 52.4h0.7M140.9 63.2h0.7M129.1 51.9h0.7M176.4 54.7h0.7M153.6 42.4h0.7M124.9 53.7h0.7M144.1 85.7h0.7M177.0 56.6h0.7M150.9 86.8h0.7M181.3 48.5h0.7M131.0 89.4h0.7M150.5 65.5h0.7M167.4 43.3h0.7M156.1 86.4h0.7M163.3 48.8h0.7M152.8 59.8h0.7M158.2 69.0h0.7M126.2 58.8h0.7M148.1 100.8h0.7M129.9 52.4h0.7M159.1 84.5h0.7M151.0 105.8h0.7M146.3 58.8h0.7M126.3 92.6h0.7M134.1 68.4h0.7M158.4 56.9h0.7M131.6 50.5h0.7M167.6 42.7h0.7M125.9 92.4h0.7M129.3 84.6h0.7M160.1 42.6h0.7M179.2 50.8h0.7M174.1 54.1h0.7M152.9 72.6h0.7M128.4 66.8h0.7M163.2 76.6h0.7M174.3 51.4h0.7M130.3 74.6h0.7M178.0 46.4h0.7M158.8 57.8h0.7M145.5 56.4h0.7M139.1 45.8h0.7M150.1 97.7h0.7M172.7 43.8h0.7M165.7 101.6h0.7M147.4 80.8h0.7M130.3 81.4h0.7M173.4 98.9h0.7M164.0 90.3h0.7M132.2 80.3h0.7M140.7 91.5h0.7M150.1 44.0h0.7M126.3 47.4h0.7M180.0 51.3h0.7M163.7 65.6h0.7M147.6 71.7h0.7M141.7 76.3h0.7M143.3 61.7h0.7M147.1 97.8h0.7M166.7 86.5h0.7M182.0 80.7h0.7M165.0 78.7h0.7M152.5 47.8h0.7M153.8 63.9h0.7M155.6 82.4h0.7M138.4 59.2h0.7M139.6 60.5h0.7M155.4 62.0h0.7M158.8 64.3h0.7M141.9 94.8h0.7M155.6 68.3h0.7M139.2 69.1h0.7M164.8 91.2h0.7M179.9 50.9h0.7M172.0 60.9h0.7M166.7 65.1h0.7M157.3 62.6h0.7M173.9 79.2h0.7M133.3 88.4h0.7M178.9 82.9h0.7M135.4 92.6h0.7M176.0 53.7h0.7M164.1 73.8h0.7M138.0 73.0h0.7M139.6 78.4h0.7M156.9 51.4h0.7M161.4 58.2h0.7M134.3 101.8h0.7M182.3 71.1h0.7M140.0 78.3h0.7M134.9 45.3h0.7M149.8 104.8h0.7M160.7 72.5h0.7M147.1 49.6h0.7M133.8 65.1h0.7M174.1 45.5h0.7M177.1 59.8h0.7M157.7 59.2h0.7M166.6 55.1h0.7M179.9 78.3h0.7M122.6 63.6h0.7M162.6 59.7h0.7M149.9 56.8h0.7M162.2 78.5h0.7M139.3 77.4h0.7M176.6 51.7h0.7M158.0 62.3h0.7M136.3 93.6h0.7M175.6 55.0h0.7M127.9 89.4h0.7M153.6 48.1h0.7M176.9 56.1h0.7M151.9 52.6h0.7M133.3 56.1h0.7M129.0 57.3h0.7M142.1 79.1h0.7M161.0 66.7h0.7M135.9 48.4h0.7M127.3 87.6h0.7M150.8 89.3h0.7M147.0 81.4h0.7M146.7 76.6h0.7M139.7 98.4h0.7M153.9 92.5h0.7M156.1 62.6h0.7M154.4 81.4h0.7M176.5 80.8h0.7M146.2 87.0h0.7M161.1 86.7h0.7M146.5 92.4h0.7M135.5 62.1h0.7M148.3 57.9h0.7M140.9 56.8h0.7M161.0 72.1h0.7M123.6 101.9h0.7M137.9 86.6h0.7M151.4 93.2h0.7M147.3 64.1h0.7M146.8 73.4h0.7M127.8 58.3h0.7M136.9 65.5h0.7M133.0 96.6h0.7M163.9 80.3h0.7M171.4 47.8h0.7M127.8 72.3h0.7M123.1 102.1h0.7M122.7 77.7h0.7M125.2 61.9h0.7M124.4 103.9h0.7M123.6 86.2h0.7M125.3 98.0h0.7M123.2 85.2h0.7M124.0 102.1h0.7M122.0 63.0h0.7M128.9 72.2h0.7M125.9 63.0h0.7M125.7 105.1h0.7M129.4 82.7h0.7M122.6 81.1h0.7M129.2 88.4h0.7M129.8 99.1h0.7M129.6 71.9h0.7M126.5 100.9h0.7M128.5 75.2h0.7M127.3 84.2h0.7M127.3 98.4h0.7M126.7 91.4h0.7M128.4 95.8h0.7M124.0 97.5h0.7M125.5 72.5h0.7M129.5 73.8h0.7M129.8 105.6h0.7M122.4 87.2h0.7M128.4 71.9h0.7M128.6 85.5h0.7M128.8 70.1h0.7M129.6 81.4h0.7M123.2 64.5h0.7M126.3 76.7h0.7M127.9 79.3h0.7M124.6 63.7h0.7M123.3 82.1h0.7M129.4 63.1h0.7M124.5 100.9h0.7M125.5 97.5h0.7M123.2 81.8h0.7M122.2 103.1h0.7M122.9 70.8h0.7M129.0 82.6h0.7M129.7 87.1h0.7M125.2 99.1h0.7M124.3 88.1h0.7M123.3 67.3h0.7M124.6 77.3h0.7M122.7 63.8h0.7M128.4 60.4h0.7M126.3 82.7h0.7M122.7 104.6h0.7M128.5 89.8h0.7M129.9 60.1h0.7M123.4 66.1h0.7M129.9 76.9h0.7M127.5 98.0h0.7M124.9 86.3h0.7M122.3 101.1h0.7M124.6 61.8h0.7M126.7 105.5h0.7M126.9 97.8h0.7M123.5 67.8h0.7M125.1 105.7h0.7M122.9 87.3h0.7M126.9 84.2h0.7M128.7 73.1h0.7M122.5 87.9h0.7M124.1 89.6h0.7M127.6 64.4h0.7M126.9 91.7h0.7M122.3 99.2h0.7M127.3 92.0h0.7M128.5 76.5h0.7M126.1 73.5h0.7M127.6 78.5h0.7M128.5 70.8h0.7M129.9 74.2h0.7M124.6 71.1h0.7M123.2 67.1h0.7M122.6 87.0h0.7M122.9 65.0h0.7M125.6 66.9h0.7M122.6 95.4h0.7M127.5 86.6h0.7M127.7 80.0h0.7M123.0 89.6h0.7M129.5 85.4h0.7M126.7 103.1h0.7M123.7 81.8h0.7M122.3 67.2h0.7M123.5 63.0h0.7M122.3 99.2h0.7M124.0 68.6h0.7M126.0 90.3h0.7M125.2 92.6h0.7M124.6 66.1h0.7M124.6 104.5h0.7M125.4 74.5h0.7M129.3 86.1h0.7M127.6 60.3h0.7M128.3 103.9h0.7M125.3 82.4h0.7M129.9 66.8h0.7M129.1 71.0h0.7M126.8 104.0h0.7M129.3 93.2h0.7M125.3 95.5h0.7M127.1 92.7h0.7M128.4 77.2h0.7M122.0 82.2h0.7M128.6 83.0h0.7M123.7 75.3h0.7M127.3 93.9h0.7M126.0 84.4h0.7M129.1 105.7h0.7M126.9 88.2h0.7M125.5 103.7h0.7M128.4 80.9h0.7M127.8 85.2h0.7M126.3 94.8h0.7M122.4 75.3h0.7M125.3 88.8h0.7M128.3 81.8h0.7M129.0 102.7h0.7M129.3 88.0h0.7M123.8 74.5h0.7M126.7 80.7h0.7M124.4 90.0h0.7M122.3 70.6h0.7M129.2 71.7h0.7M124.1 84.4h0.7M122.3 103.8h0.7M125.6 78.3h0.7M125.4 104.1h0.7M128.4 72.6h0.7M128.5 85.1h0.7M125.3 83.1h0.7M129.6 96.6h0.7M127.1 74.1h0.7M126.8 62.4h0.7M129.9 69.8h0.7M127.3 73.2h0.7M122.9 70.8h0.7M129.9 85.8h0.7M124.6 85.1h0.7M123.6 91.5h0.7M122.6 89.8h0.7M129.6 61.0h0.7M123.0 94.5h0.7M124.1 90.2h0.7M127.4 79.1h0.7M129.2 69.4h0.7M123.3 64.5h0.7M129.5 74.2h0.7M126.3 85.2h0.7M122.5 105.2h0.7M129.0 99.2h0.7M122.0 71.0h0.7M128.2 96.5h0.7M129.6 104.4h0.7M122.9 80.8h0.7M123.0 95.2h0.7M128.2 81.4h0.7M123.0 90.7h0.7M124.2 63.8h0.7M128.3 76.2h0.7M125.1 68.7h0.7M129.6 93.4h0.7M129.3 88.5h0.7M129.8 95.3h0.7M129.9 67.5h0.7M124.7 84.0h0.7M127.5 68.9h0.7M129.9 94.8h0.7M124.8 75.6h0.7M125.1 94.8h0.7M122.8 83.6h0.7M128.5 69.8h0.7M123.5 89.3h0.7M128.2 94.4h0.7M122.5 105.7h0.7M123.8 90.2h0.7M129.3 82.7h0.7M128.2 77.8h0.7M127.1 69.2h0.7M122.3 80.8h0.7M122.0 76.3h0.7M129.9 103.0h0.7M127.2 79.1h0.7M128.7 104.6h0.7M128.9 63.9h0.7M128.7 87.4h0.7M126.5 65.4h0.7M123.1 82.7h0.7M130.0 93.4h0.7M124.7 88.7h0.7M122.3 98.4h0.7M124.5 74.4h0.7M128.6 73.5h0.7M128.9 62.5h0.7M124.4 104.3h0.7M123.1 71.9h0.7M125.0 67.0h0.7M124.7 79.0h0.7M122.6 84.4h0.7M122.6 74.2h0.7M124.4 61.0h0.7M129.9 75.1h0.7M127.7 100.0h0.7M129.5 87.7h0.7M128.8 76.7h0.7M122.8 72.2h0.7M124.7 100.9h0.7M123.5 69.8h0.7M128.4 70.6h0.7M124.2 98.7h0.7M126.4 84.9h0.7M128.9 97.3h0.7M126.4 86.6h0.7M127.5 73.7h0.7M126.4 73.7h0.7M129.2 94.6h0.7M122.3 102.3h0.7M125.4 90.3h0.7M124.2 62.4h0.7M122.5 103.7h0.7M126.7 64.9h0.7M125.8 81.6h0.7M124.9 84.9h0.7M124.1 87.2h0.7M126.5 96.5h0.7M122.7 67.7h0.7M127.2 86.2h0.7M128.9 89.0h0.7M122.1 70.0h0.7M127.7 67.8h0.7M129.7 99.7h0.7M126.1 105.5h0.7M122.0 84.1h0.7M124.2 96.6h0.7M128.2 68.6h0.7M126.4 62.7h0.7M123.7 90.7h0.7M123.5 84.3h0.7M124.8 78.6h0.7M126.7 101.9h0.7M124.3 71.5h0.7M128.8 65.7h0.7M125.4 89.8h0.7M126.0 105.0h0.7M125.2 68.8h0.7M124.0 65.9h0.7M123.5 89.5h0.7M123.0 90.9h0.7M123.1 61.8h0.7M130.0 94.3h0.7M127.9 91.5h0.7M123.1 70.0h0.7M129.7 86.4h0.7M127.2 93.0h0.7M128.6 60.6h0.7M122.9 69.5h0.7M123.2 93.3h0.7M128.3 100.0h0.7M124.6 78.9h0.7M127.3 91.3h0.7M125.5 69.3h0.7M127.1 69.5h0.7M124.8 100.0h0.7M128.9 90.5h0.7M125.9 103.7h0.7M125.5 71.6h0.7M125.5 67.3h0.7M128.3 98.3h0.7M128.0 84.1h0.7M123.6 65.1h0.7M124.3 73.0h0.7M123.4 95.4h0.7M125.8 95.1h0.7M122.5 80.9h0.7M124.4 70.3h0.7M123.6 99.7h0.7M128.7 104.3h0.7M124.2 82.1h0.7M125.5 66.1h0.7M128.2 89.7h0.7M125.1 105.4h0.7M126.4 89.5h0.7M123.2 72.3h0.7M125.0 71.7h0.7M122.8 99.7h0.7M126.1 74.3h0.7M125.2 62.9h0.7M129.7 64.9h0.7M129.2 71.6h0.7M124.0 104.1h0.7M129.5 99.4h0.7M126.6 102.5h0.7M129.4 88.9h0.7M129.8 60.2h0.7M129.7 75.1h0.7M127.5 85.5h0.7M126.5 60.1h0.7M123.5 65.0h0.7M124.5 95.2h0.7M124.0 97.0h0.7M126.7 88.9h0.7M127.4 104.2h0.7M126.5 76.4h0.7M125.0 88.7h0.7M129.1 74.9h0.7M128.9 76.4h0.7M128.1 84.5h0.7M125.9 79.8h0.7M126.5 91.7h0.7M122.8 101.2h0.7M123.9 99.9h0.7M131.9 104.5h0.7M132.2 102.0h0.7M127.6 95.8h0.7M129.5 102.5h0.7M130.8 100.2h0.7M132.9 103.1h0.7M133.7 100.7h0.7M135.3 101.8h0.7M135.9 98.6h0.7M136.7 105.1h0.7M130.0 101.3h0.7M131.0 105.4h0.7M130.8 96.1h0.7M131.2 104.8h0.7M130.7 103.5h0.7M131.2 98.0h0.7M134.1 100.7h0.7M136.3 101.8h0.7M132.0 101.3h0.7M128.8 102.0h0.7M131.0 102.0h0.7M128.7 96.5h0.7M131.1 98.8h0.7M133.5 105.5h0.7M134.9 101.6h0.7M130.0 100.6h0.7M132.0 100.4h0.7M132.8 102.4h0.7M131.9 100.5h0.7M130.7 102.9h0.7M127.0 103.1h0.7M135.7 102.8h0.7M130.5 99.6h0.7M131.2 97.8h0.7M132.6 99.7h0.7M128.8 97.6h0.7M132.6 104.0h0.7M131.4 102.6h0.7M133.6 106.3h0.7M129.9 102.5h0.7M131.6 102.8h0.7M128.2 103.4h0.7M130.4 100.6h0.7M129.9 98.1h0.7M133.8 99.9h0.7M134.3 100.0h0.7M134.9 101.2h0.7M129.4 104.4h0.7M132.9 99.0h0.7M129.9 100.5h0.7M129.2 102.5h0.7M132.7 99.7h0.7M129.4 105.1h0.7M135.8 100.0h0.7M132.0 100.6h0.7M129.5 106.1h0.7M129.7 102.2h0.7M126.3 99.8h0.7M131.7 102.6h0.7M130.7 98.9h0.7M133.4 99.5h0.7M127.6 104.2h0.7M129.7 97.5h0.7M132.8 102.5h0.7M134.8 98.8h0.7M131.1 102.8h0.7M133.4 99.6h0.7M134.3 103.4h0.7M134.2 103.5h0.7M132.9 103.1h0.7M125.6 100.6h0.7M134.4 102.8h0.7M131.9 100.8h0.7M132.2 98.2h0.7M132.4 102.8h0.7M128.1 102.9h0.7M130.2 101.2h0.7M131.2 99.2h0.7M127.1 94.9h0.7M130.6 102.6h0.7M131.7 102.0h0.7M130.7 101.5h0.7M131.3 101.4h0.7M128.8 105.8h0.7M132.4 98.9h0.7M132.7 102.8h0.7M132.3 101.7h0.7M131.8 99.0h0.7M127.3 105.2h0.7M131.0 98.6h0.7M129.3 94.7h0.7M129.3 105.4h0.7M132.0 99.2h0.7M130.4 104.0h0.7M133.0 104.6h0.7M133.7 105.0h0.7M128.6 101.5h0.7M125.9 101.4h0.7M134.3 105.8h0.7M130.0 105.4h0.7M133.8 102.6h0.7M134.1 102.7h0.7M135.0 102.6h0.7M133.3 102.0h0.7M131.1 104.3h0.7M129.5 104.0h0.7M127.3 101.7h0.7M127.8 103.8h0.7M131.2 103.4h0.7M130.7 103.8h0.7M129.1 105.3h0.7M127.3 105.5h0.7M131.6 99.6h0.7M135.6 103.0h0.7M130.3 101.4h0.7M131.8 104.5h0.7M133.4 99.5h0.7M127.1 99.0h0.7M135.2 102.4h0.7M126.4 97.5h0.7M132.7 101.3h0.7M133.2 102.8h0.7M132.5 102.4h0.7M126.6 105.0h0.7M133.7 104.2h0.7M130.7 102.0h0.7M129.4 100.6h0.7M132.2 100.8h0.7M134.3 101.1h0.7M134.3 100.7h0.7M127.3 104.9h0.7M129.9 101.8h0.7M130.8 103.4h0.7M135.2 103.5h0.7M129.2 100.6h0.7M132.9 104.9h0.7M128.6 98.5h0.7M129.5 102.8h0.7M131.1 104.6h0.7M130.4 99.7h0.7M130.4 99.0h0.7M131.6 104.1h0.7M131.2 101.0h0.7M134.9 98.7h0.7M128.8 103.5h0.7M131.0 97.8h0.7M131.6 101.5h0.7M129.2 103.0h0.7M129.8 100.0h0.7M130.0 100.1h0.7M137.4 100.6h0.7M132.2 102.2h0.7M128.8 103.8h0.7M130.5 104.0h0.7M126.1 99.9h0.7M124.3 101.8h0.7M131.7 98.0h0.7M128.4 104.3h0.7M129.1 102.0h0.7M133.7 101.8h0.7M134.3 101.5h0.7M131.5 101.2h0.7M130.7 101.4h0.7M130.6 101.2h0.7M132.3 100.5h0.7M132.8 101.1h0.7M131.3 99.7h0.7M132.1 100.3h0.7M129.1 105.6h0.7M129.3 103.1h0.7M131.9 102.9h0.7M134.4 103.9h0.7M126.3 101.3h0.7M131.9 99.0h0.7M129.4 101.0h0.7M127.5 100.0h0.7M131.7 103.7h0.7M128.8 103.2h0.7M133.9 98.8h0.7M137.5 100.5h0.7M128.3 100.1h0.7M131.1 99.8h0.7M128.4 103.8h0.7M127.9 102.0h0.7M125.3 100.4h0.7M131.3 101.8h0.7M133.2 106.2h0.7M131.7 102.0h0.7M135.1 104.7h0.7M132.2 102.8h0.7M125.4 98.7h0.7M131.1 104.4h0.7M152.7 42.3h0.7M139.2 41.2h0.7M185.6 40.8h0.7M169.1 41.5h0.7M122.2 42.1h0.7M135.9 41.4h0.7M173.5 40.8h0.7M125.8 41.3h0.7M126.6 40.8h0.7M156.2 42.4h0.7M140.6 41.8h0.7M136.7 41.5h0.7M153.0 42.6h0.7M160.1 42.4h0.7M148.5 40.9h0.7M169.0 42.9h0.7M161.4 41.8h0.7M126.8 41.6h0.7M143.8 41.5h0.7M128.0 42.8h0.7M167.2 42.6h0.7M141.1 41.8h0.7M148.5 42.4h0.7M175.9 42.1h0.7M172.6 41.3h0.7M154.0 41.5h0.7M150.3 42.5h0.7M125.0 42.2h0.7M129.6 40.8h0.7M172.7 40.5h0.7M124.7 41.0h0.7M135.2 41.5h0.7M179.5 40.7h0.7M178.6 40.6h0.7M132.0 41.6h0.7M142.8 42.4h0.7M128.5 40.9h0.7M136.2 42.7h0.7M145.1 42.5h0.7M155.1 41.0h0.7M159.2 41.7h0.7M177.1 41.6h0.7M158.5 42.8h0.7M162.4 43.0h0.7M176.0 41.2h0.7M141.8 41.9h0.7M173.6 43.0h0.7M172.7 41.4h0.7M137.4 42.7h0.7M181.3 42.3h0.7M156.4 41.5h0.7M135.8 42.1h0.7M161.9 40.8h0.7M128.7 41.4h0.7M166.9 40.5h0.7M175.4 41.8h0.7M126.2 41.2h0.7M159.3 42.8h0.7M168.5 41.6h0.7M138.6 42.5h0.7M148.2 42.0h0.7M159.2 42.9h0.7M149.3 42.1h0.7M174.5 42.7h0.7M164.7 42.6h0.7M163.7 42.4h0.7M170.5 42.2h0.7M171.5 42.6h0.7M127.8 41.8h0.7M131.4 42.5h0.7M159.7 42.1h0.7M159.0 40.9h0.7M158.7 41.2h0.7M172.2 42.7h0.7M159.0 42.5h0.7M177.7 42.9h0.7M179.9 40.8h0.7M176.5 42.5h0.7M136.5 42.5h0.7M172.5 41.6h0.7M158.7 42.9h0.7M125.6 42.1h0.7M123.5 41.9h0.7M132.1 42.1h0.7M151.7 41.5h0.7M180.0 42.1h0.7M133.3 41.0h0.7M158.5 43.0h0.7M136.8 42.0h0.7M143.2 42.2h0.7M181.0 42.1h0.7M180.4 41.8h0.7M164.7 41.9h0.7M123.1 42.5h0.7M140.5 40.5h0.7M144.4 41.5h0.7M165.1 43.0h0.7M180.6 41.9h0.7M150.2 40.6h0.7M174.3 42.5h0.7M148.4 42.4h0.7M157.4 40.9h0.7M165.0 40.7h0.7M157.8 41.9h0.7M144.4 42.1h0.7M182.0 41.0h0.7M158.5 42.5h0.7M128.4 42.6h0.7M179.3 42.4h0.7M174.5 41.3h0.7M143.9 42.8h0.7M129.8 42.6h0.7M172.5 41.5h0.7M131.7 42.0h0.7M172.3 42.6h0.7M139.7 42.7h0.7M177.6 42.6h0.7M132.7 42.4h0.7M122.1 42.2h0.7M155.4 42.0h0.7M181.0 41.5h0.7M135.1 40.7h0.7M134.6 42.0h0.7" stroke="#000" stroke-width="0.7" stroke-opacity="0.27" fill="none" filter="url(#bl)"/>
<path d="M149.20 48.00C150.00 47.67 151.58 46.52 154.00 46.00C156.42 45.48 160.47 44.80 163.70 44.90C166.93 45.00 171.10 45.67 173.40 46.60C175.70 47.53 176.35 48.70 177.50 50.50C178.65 52.30 179.65 55.22 180.30 57.40C180.95 59.58 181.40 61.63 181.40 63.60C181.40 65.57 181.17 67.23 180.30 69.20C179.43 71.17 177.82 73.45 176.20 75.40C174.58 77.35 172.92 78.83 170.60 80.90C168.28 82.97 165.30 85.48 162.30 87.80C159.30 90.12 155.83 92.72 152.60 94.80C149.37 96.88 146.13 98.80 142.90 100.30C139.67 101.80 135.38 103.33 133.20 103.80C131.02 104.27 130.60 103.92 129.80 103.10C129.00 102.28 128.40 100.98 128.40 98.90C128.40 96.82 129.12 94.05 129.80 90.60C130.48 87.15 131.47 82.35 132.50 78.20C133.53 74.05 134.83 69.28 136.00 65.70C137.17 62.12 138.35 59.02 139.50 56.70C140.65 54.38 141.63 53.12 142.90 51.80C144.17 50.48 146.05 49.43 147.10 48.80C148.15 48.17 148.85 48.13 149.20 48.00Z" fill="none" stroke="#444" stroke-width="0.75"/>
<line x1="143.5" y1="48" x2="149.2" y2="48" stroke="#555" stroke-width="0.5"/>
<text x="124" y="50.32" font-size="3.8" font-weight="bold" fill="#333">Lymphocytes</text>
<text x="124" y="54.32" font-size="3.8" font-weight="bold" fill="#333">12.8%</text>
<text x="242" y="34.27" font-size="8" text-anchor="middle" font-weight="bold" fill="#111">CD4<tspan font-size="5" dy="-3">+</tspan><tspan dy="3"> T Cells</tspan></text>
<rect x="209.6" y="41.9" width="66.2" height="66.4" fill="none" stroke="#555" stroke-width="0.7"/>
<text x="207.3" y="47.72" font-size="4.4" text-anchor="end" fill="#666" stroke="#666" stroke-width="0.25">250K</text>
<line x1="208.5" y1="46.5" x2="209.9" y2="46.5" stroke="#666" stroke-width="0.4"/>
<text x="207.3" y="61.92" font-size="4.4" text-anchor="end" fill="#666" stroke="#666" stroke-width="0.25">200K</text>
<line x1="208.5" y1="60.5" x2="209.9" y2="60.5" stroke="#666" stroke-width="0.4"/>
<text x="207.3" y="75.72" font-size="4.4" text-anchor="end" fill="#666" stroke="#666" stroke-width="0.25">150K</text>
<line x1="208.5" y1="74.5" x2="209.9" y2="74.5" stroke="#666" stroke-width="0.4"/>
<text x="207.3" y="90.32" font-size="4.4" text-anchor="end" fill="#666" stroke="#666" stroke-width="0.25">100K</text>
<line x1="208.5" y1="88.5" x2="209.9" y2="88.5" stroke="#666" stroke-width="0.4"/>
<text x="207.3" y="104.22" font-size="4.4" text-anchor="end" fill="#666" stroke="#666" stroke-width="0.25">50K</text>
<line x1="208.5" y1="102.5" x2="209.9" y2="102.5" stroke="#666" stroke-width="0.4"/>
<text x="215.5" y="116.02" font-size="4.4" text-anchor="middle" fill="#666" stroke="#666" stroke-width="0.25">0</text>
<text x="224" y="116.02" font-size="4.4" text-anchor="middle" fill="#666" stroke="#666" stroke-width="0.25">10&#178;</text>
<text x="239" y="116.02" font-size="4.4" text-anchor="middle" fill="#666" stroke="#666" stroke-width="0.25">10&#179;</text>
<text x="254" y="116.02" font-size="4.4" text-anchor="middle" fill="#666" stroke="#666" stroke-width="0.25">10&#8308;</text>
<text x="269.5" y="116.02" font-size="4.4" text-anchor="middle" fill="#666" stroke="#666" stroke-width="0.25">10&#8309;</text>
<line x1="215.5" y1="108.3" x2="215.5" y2="109.9" stroke="#666" stroke-width="0.5"/>
<line x1="224" y1="108.3" x2="224" y2="109.9" stroke="#666" stroke-width="0.5"/>
<line x1="239" y1="108.3" x2="239" y2="109.9" stroke="#666" stroke-width="0.5"/>
<line x1="254" y1="108.3" x2="254" y2="109.9" stroke="#666" stroke-width="0.5"/>
<line x1="269.5" y1="108.3" x2="269.5" y2="109.9" stroke="#666" stroke-width="0.5"/>
<line x1="218.05" y1="108.3" x2="218.05" y2="109.2" stroke="#888" stroke-width="0.35"/>
<line x1="219.58" y1="108.3" x2="219.58" y2="109.2" stroke="#888" stroke-width="0.35"/>
<line x1="220.6" y1="108.3" x2="220.6" y2="109.2" stroke="#888" stroke-width="0.35"/>
<line x1="221.45" y1="108.3" x2="221.45" y2="109.2" stroke="#888" stroke-width="0.35"/>
<line x1="222.13" y1="108.3" x2="222.13" y2="109.2" stroke="#888" stroke-width="0.35"/>
<line x1="222.72" y1="108.3" x2="222.72" y2="109.2" stroke="#888" stroke-width="0.35"/>
<line x1="223.15" y1="108.3" x2="223.15" y2="109.2" stroke="#888" stroke-width="0.35"/>
<line x1="223.57" y1="108.3" x2="223.57" y2="109.2" stroke="#888" stroke-width="0.35"/>
<line x1="228.5" y1="108.3" x2="228.5" y2="109.2" stroke="#888" stroke-width="0.35"/>
<line x1="231.2" y1="108.3" x2="231.2" y2="109.2" stroke="#888" stroke-width="0.35"/>
<line x1="233" y1="108.3" x2="233" y2="109.2" stroke="#888" stroke-width="0.35"/>
<line x1="234.5" y1="108.3" x2="234.5" y2="109.2" stroke="#888" stroke-width="0.35"/>
<line x1="235.7" y1="108.3" x2="235.7" y2="109.2" stroke="#888" stroke-width="0.35"/>
<line x1="236.75" y1="108.3" x2="236.75" y2="109.2" stroke="#888" stroke-width="0.35"/>
<line x1="237.5" y1="108.3" x2="237.5" y2="109.2" stroke="#888" stroke-width="0.35"/>
<line x1="238.25" y1="108.3" x2="238.25" y2="109.2" stroke="#888" stroke-width="0.35"/>
<line x1="243.5" y1="108.3" x2="243.5" y2="109.2" stroke="#888" stroke-width="0.35"/>
<line x1="246.2" y1="108.3" x2="246.2" y2="109.2" stroke="#888" stroke-width="0.35"/>
<line x1="248" y1="108.3" x2="248" y2="109.2" stroke="#888" stroke-width="0.35"/>
<line x1="249.5" y1="108.3" x2="249.5" y2="109.2" stroke="#888" stroke-width="0.35"/>
<line x1="250.7" y1="108.3" x2="250.7" y2="109.2" stroke="#888" stroke-width="0.35"/>
<line x1="251.75" y1="108.3" x2="251.75" y2="109.2" stroke="#888" stroke-width="0.35"/>
<line x1="252.5" y1="108.3" x2="252.5" y2="109.2" stroke="#888" stroke-width="0.35"/>
<line x1="253.25" y1="108.3" x2="253.25" y2="109.2" stroke="#888" stroke-width="0.35"/>
<line x1="258.65" y1="108.3" x2="258.65" y2="109.2" stroke="#888" stroke-width="0.35"/>
<line x1="261.44" y1="108.3" x2="261.44" y2="109.2" stroke="#888" stroke-width="0.35"/>
<line x1="263.3" y1="108.3" x2="263.3" y2="109.2" stroke="#888" stroke-width="0.35"/>
<line x1="264.85" y1="108.3" x2="264.85" y2="109.2" stroke="#888" stroke-width="0.35"/>
<line x1="266.09" y1="108.3" x2="266.09" y2="109.2" stroke="#888" stroke-width="0.35"/>
<line x1="267.18" y1="108.3" x2="267.18" y2="109.2" stroke="#888" stroke-width="0.35"/>
<line x1="267.95" y1="108.3" x2="267.95" y2="109.2" stroke="#888" stroke-width="0.35"/>
<line x1="268.73" y1="108.3" x2="268.73" y2="109.2" stroke="#888" stroke-width="0.35"/>
<path d="M257.3 76.7h0.7M263.7 66.6h0.7M263.4 56.2h0.7M269.5 66.3h0.7M250.1 65.4h0.7M265.7 89.3h0.7M268.8 85.8h0.7M257.5 70.3h0.7M261.7 78.3h0.7M257.3 80.0h0.7M252.9 98.7h0.7M255.2 85.7h0.7M263.2 74.3h0.7M264.3 70.7h0.7M261.2 83.0h0.7M256.9 84.1h0.7M252.1 87.5h0.7M262.6 78.7h0.7M253.8 80.5h0.7M263.0 78.4h0.7M260.7 91.6h0.7M263.1 70.7h0.7M257.0 93.4h0.7M258.6 71.7h0.7M257.8 76.9h0.7M261.3 72.1h0.7M266.5 87.0h0.7M255.9 82.2h0.7M263.4 84.5h0.7M255.7 57.5h0.7M254.8 86.6h0.7M267.2 70.0h0.7M258.7 64.9h0.7M249.7 74.1h0.7M266.1 91.3h0.7M253.5 58.6h0.7M263.4 70.4h0.7M259.9 74.4h0.7M260.8 93.1h0.7M261.5 78.5h0.7M252.4 71.6h0.7M252.2 78.1h0.7M256.6 72.9h0.7M252.0 87.0h0.7M262.7 69.5h0.7M264.8 64.4h0.7M261.8 96.0h0.7M258.6 81.5h0.7M259.9 99.0h0.7M259.9 78.6h0.7M260.2 63.8h0.7M258.1 66.4h0.7M252.8 82.5h0.7M250.9 92.9h0.7M259.4 91.2h0.7M259.4 72.5h0.7M260.1 68.3h0.7M264.2 80.7h0.7M265.9 92.6h0.7M261.5 95.0h0.7M257.8 84.9h0.7M265.3 79.9h0.7M258.6 77.1h0.7M264.9 73.7h0.7M257.0 82.3h0.7M264.5 88.2h0.7M260.5 77.6h0.7M255.6 73.5h0.7M255.3 85.8h0.7M258.0 76.8h0.7M252.9 66.2h0.7M258.5 91.4h0.7M256.3 72.0h0.7M258.3 78.2h0.7M262.7 82.6h0.7M264.6 84.0h0.7M258.2 61.3h0.7M248.0 67.3h0.7M253.7 66.9h0.7M255.5 77.5h0.7M265.0 98.7h0.7M255.4 94.6h0.7M253.1 76.0h0.7M256.9 70.6h0.7M254.0 82.0h0.7M251.6 82.6h0.7M264.5 71.0h0.7M255.3 82.0h0.7M255.6 84.9h0.7M261.4 99.0h0.7M258.5 76.6h0.7M256.5 71.9h0.7M261.0 49.4h0.7M264.4 87.1h0.7M263.8 78.1h0.7M254.9 75.5h0.7M262.5 93.5h0.7M263.3 73.0h0.7M258.5 72.1h0.7M260.9 70.5h0.7M254.7 71.3h0.7M259.0 57.9h0.7M252.8 73.6h0.7M265.0 80.8h0.7M255.9 58.8h0.7M254.6 91.3h0.7M263.6 68.5h0.7M263.8 65.6h0.7M253.8 89.8h0.7M256.7 89.8h0.7M265.1 85.0h0.7M262.1 97.6h0.7M261.0 72.0h0.7M261.1 92.9h0.7M254.9 80.8h0.7M264.0 97.7h0.7M256.9 73.5h0.7M256.2 60.3h0.7M263.2 62.9h0.7M260.4 72.0h0.7M263.9 74.9h0.7M263.5 71.2h0.7M262.4 87.3h0.7M258.6 97.0h0.7M261.3 75.8h0.7M259.5 60.1h0.7M261.4 76.6h0.7M262.9 76.1h0.7M261.5 78.3h0.7M261.8 77.0h0.7M257.7 68.3h0.7M254.0 66.2h0.7M265.7 95.1h0.7M260.8 77.4h0.7M258.0 67.6h0.7M265.0 83.5h0.7M248.6 72.5h0.7M264.1 75.7h0.7M262.7 81.1h0.7M252.7 78.6h0.7M260.4 71.8h0.7M261.0 95.4h0.7M263.6 92.6h0.7M253.5 76.2h0.7M260.8 76.9h0.7M254.2 79.2h0.7M263.9 84.6h0.7M257.4 63.4h0.7M258.9 82.2h0.7M260.5 72.5h0.7M257.7 88.5h0.7M255.4 81.0h0.7M258.1 83.8h0.7M258.5 67.5h0.7M264.8 66.2h0.7M251.0 80.2h0.7M255.9 76.8h0.7M251.7 87.3h0.7M269.2 90.5h0.7M257.0 62.2h0.7M267.0 99.8h0.7M259.3 76.0h0.7M256.2 88.7h0.7M251.4 57.5h0.7M263.0 91.2h0.7M257.5 79.3h0.7M258.8 72.6h0.7M255.7 79.4h0.7M264.6 97.4h0.7M250.8 72.7h0.7M257.5 84.4h0.7M261.5 87.8h0.7M261.8 59.5h0.7M257.7 80.4h0.7M255.7 96.4h0.7M251.6 76.0h0.7M254.7 81.8h0.7M258.2 85.7h0.7M255.2 78.4h0.7M255.4 94.7h0.7M256.5 65.2h0.7M256.0 91.6h0.7M266.3 76.4h0.7M256.3 95.4h0.7M257.0 73.5h0.7M268.3 65.0h0.7M260.7 67.8h0.7M257.9 84.3h0.7M264.2 60.6h0.7M266.3 86.8h0.7M256.9 84.6h0.7M257.2 71.5h0.7M261.2 78.0h0.7M265.2 63.6h0.7M262.5 61.1h0.7M260.1 76.0h0.7M262.8 80.5h0.7M261.8 81.5h0.7M255.4 66.7h0.7M259.8 84.2h0.7M254.9 76.0h0.7M247.3 55.5h0.7M254.1 78.4h0.7M266.6 51.7h0.7M259.8 92.1h0.7M256.1 68.4h0.7M264.7 75.3h0.7M259.3 80.2h0.7M255.6 88.7h0.7M258.8 71.7h0.7M257.0 84.4h0.7M264.0 76.7h0.7M259.9 72.3h0.7M251.6 71.0h0.7M258.8 71.2h0.7M261.6 82.8h0.7M264.0 98.4h0.7M262.6 80.5h0.7M262.4 86.4h0.7M260.8 79.8h0.7M259.1 88.3h0.7M262.6 96.1h0.7M258.1 79.3h0.7M261.4 91.3h0.7M257.2 77.9h0.7M251.9 82.7h0.7M262.9 72.1h0.7M256.0 96.0h0.7M255.1 90.6h0.7M254.9 79.0h0.7M265.5 59.2h0.7M256.3 93.0h0.7M251.8 75.5h0.7M256.8 66.9h0.7M263.3 71.3h0.7M258.5 67.0h0.7M256.5 76.0h0.7M257.0 80.7h0.7M257.5 79.4h0.7M257.9 71.4h0.7M260.6 60.7h0.7M264.5 72.7h0.7M269.3 75.7h0.7M262.3 75.2h0.7M261.6 93.6h0.7M253.7 70.8h0.7M258.5 54.2h0.7M265.6 75.5h0.7M260.9 62.9h0.7M253.8 68.8h0.7M259.5 94.2h0.7M259.2 86.2h0.7M255.3 62.7h0.7M259.2 94.7h0.7M261.2 74.7h0.7M255.6 74.5h0.7M254.8 84.6h0.7M254.8 62.4h0.7M261.2 74.0h0.7M260.2 70.1h0.7M264.1 74.9h0.7M258.8 88.1h0.7M261.7 60.6h0.7M253.8 65.2h0.7M260.9 91.3h0.7M262.8 59.0h0.7M256.5 81.2h0.7M259.7 83.2h0.7M262.0 82.9h0.7M262.8 72.3h0.7M254.1 75.2h0.7M262.7 89.1h0.7M262.0 73.4h0.7M254.3 70.3h0.7M261.7 75.2h0.7M263.5 97.9h0.7M259.0 73.6h0.7M260.1 67.8h0.7M261.1 56.6h0.7M256.5 76.1h0.7M261.5 73.4h0.7M253.6 72.0h0.7M267.1 72.1h0.7M254.0 75.9h0.7M255.5 73.3h0.7M260.7 98.5h0.7M257.9 67.6h0.7M256.3 77.6h0.7M256.3 69.1h0.7M266.4 89.6h0.7M259.3 71.1h0.7M258.4 88.8h0.7M264.3 72.5h0.7M262.3 58.4h0.7M257.2 75.9h0.7M266.3 90.3h0.7M260.5 86.4h0.7M257.8 53.3h0.7M259.6 77.3h0.7M262.3 92.6h0.7M260.2 60.4h0.7M255.7 72.3h0.7M262.5 81.5h0.7M252.9 79.7h0.7M258.7 71.1h0.7M256.9 73.3h0.7M263.4 80.6h0.7M256.2 79.7h0.7M257.5 75.6h0.7M261.3 78.3h0.7M261.3 81.7h0.7M260.7 86.1h0.7M263.7 92.6h0.7M257.6 66.0h0.7M253.0 80.9h0.7M264.4 85.9h0.7M259.0 73.8h0.7M262.2 87.8h0.7M260.8 85.0h0.7M263.9 93.5h0.7M252.6 83.5h0.7M254.0 54.4h0.7M259.6 51.5h0.7M260.9 95.3h0.7M258.9 75.7h0.7M255.0 72.3h0.7M256.3 90.9h0.7M256.5 67.2h0.7M264.5 65.3h0.7M259.3 73.6h0.7M259.3 69.4h0.7M261.8 85.6h0.7M260.6 61.9h0.7M257.4 73.9h0.7M258.7 80.3h0.7M252.9 48.1h0.7M261.0 87.5h0.7M264.5 97.1h0.7M253.5 67.4h0.7M257.6 56.1h0.7M265.3 88.7h0.7M254.7 59.9h0.7M260.4 96.7h0.7M257.2 74.9h0.7M257.3 65.4h0.7M260.9 80.1h0.7M261.1 78.4h0.7M258.3 91.2h0.7M256.6 86.5h0.7M256.6 85.9h0.7M261.6 75.9h0.7M268.9 86.6h0.7M264.6 67.2h0.7M263.0 74.8h0.7M257.4 84.0h0.7M259.6 93.0h0.7M264.3 86.5h0.7M265.2 87.9h0.7M263.3 77.4h0.7M259.6 77.2h0.7M259.3 85.2h0.7M257.8 95.6h0.7M262.1 73.5h0.7M262.0 63.8h0.7M257.1 71.9h0.7M258.2 69.3h0.7M259.0 85.2h0.7M252.2 59.7h0.7M254.9 85.7h0.7M264.2 71.7h0.7M253.0 95.8h0.7M258.4 82.9h0.7M253.1 83.6h0.7M263.1 80.0h0.7M256.7 81.7h0.7M259.1 92.7h0.7M265.3 94.9h0.7M259.0 91.7h0.7M263.1 89.9h0.7M259.9 58.1h0.7M257.8 78.4h0.7M268.1 86.0h0.7M260.4 64.8h0.7M262.4 87.1h0.7M259.2 73.9h0.7M261.7 92.0h0.7M254.1 73.6h0.7M261.4 63.2h0.7M256.7 80.5h0.7M265.6 84.5h0.7M265.5 77.8h0.7M256.3 80.0h0.7M263.5 83.7h0.7M259.1 92.3h0.7M259.2 83.9h0.7M267.1 88.5h0.7M255.7 89.3h0.7M258.4 88.8h0.7M259.8 72.2h0.7M258.7 76.4h0.7M256.6 75.3h0.7M254.0 74.7h0.7M256.3 88.1h0.7M256.1 82.1h0.7M261.1 80.7h0.7M261.8 80.1h0.7M254.9 56.5h0.7M260.3 90.9h0.7M263.2 56.1h0.7M256.0 81.5h0.7M255.1 82.5h0.7M259.8 74.9h0.7M254.6 70.3h0.7M262.2 63.7h0.7M257.9 79.2h0.7M263.2 78.7h0.7M255.8 82.7h0.7M256.3 92.2h0.7M259.2 57.8h0.7M264.3 85.5h0.7M257.9 73.4h0.7M259.0 81.4h0.7M255.9 65.0h0.7M249.4 68.5h0.7M265.1 88.6h0.7M259.4 55.5h0.7M256.7 71.4h0.7M262.2 80.1h0.7M260.5 79.4h0.7M259.3 75.6h0.7M255.2 68.9h0.7M260.3 70.0h0.7M262.8 60.7h0.7M262.8 74.9h0.7M249.0 53.8h0.7M255.1 64.7h0.7M260.8 94.6h0.7M255.9 58.0h0.7M255.0 88.1h0.7M257.9 90.5h0.7M257.6 82.3h0.7M259.7 88.8h0.7M263.6 84.5h0.7M258.7 87.6h0.7M260.7 88.8h0.7M261.8 97.6h0.7M265.1 77.1h0.7M254.4 68.8h0.7M258.3 79.5h0.7M256.8 52.9h0.7M261.3 90.6h0.7M265.2 79.4h0.7M263.6 82.5h0.7M251.3 74.6h0.7M256.5 76.4h0.7M260.2 81.5h0.7M262.4 94.8h0.7M266.5 84.8h0.7M257.7 74.8h0.7M267.9 69.8h0.7M266.1 73.6h0.7M259.6 97.2h0.7M259.0 63.5h0.7M251.8 62.9h0.7M259.9 66.4h0.7M260.2 84.0h0.7M269.6 77.4h0.7M258.4 64.1h0.7M251.4 54.9h0.7M263.5 74.1h0.7M262.3 58.6h0.7M268.5 76.7h0.7M261.8 73.5h0.7M263.6 95.7h0.7M250.8 84.1h0.7M255.9 89.4h0.7M263.9 73.5h0.7M254.4 82.9h0.7M258.4 79.5h0.7M262.6 99.3h0.7M258.9 82.7h0.7M254.3 79.8h0.7M265.7 93.7h0.7M261.2 69.9h0.7M263.9 88.6h0.7M264.1 89.8h0.7M261.1 83.1h0.7M263.9 69.1h0.7M252.7 65.8h0.7M255.4 70.6h0.7M261.0 75.7h0.7M258.4 67.0h0.7M264.9 74.5h0.7M262.6 65.6h0.7M260.2 80.4h0.7M254.9 92.8h0.7M258.6 100.0h0.7M260.1 67.2h0.7M258.2 81.6h0.7M263.9 70.3h0.7M260.5 88.2h0.7M264.1 69.1h0.7M255.5 74.1h0.7M257.6 82.5h0.7M264.0 73.8h0.7M262.9 66.6h0.7M257.3 72.7h0.7M253.4 58.3h0.7M264.8 72.4h0.7M257.8 94.7h0.7M256.6 84.3h0.7M258.5 95.2h0.7M263.6 82.4h0.7M258.4 82.9h0.7M264.4 81.7h0.7M260.9 83.5h0.7M262.9 78.8h0.7M259.5 56.9h0.7M254.6 86.0h0.7M262.5 90.0h0.7M252.4 67.7h0.7M259.9 93.8h0.7M254.1 74.7h0.7M252.5 61.0h0.7M261.1 86.6h0.7M246.3 80.0h0.7M259.1 66.1h0.7M255.1 72.1h0.7M257.9 75.7h0.7M258.1 86.6h0.7M261.7 65.8h0.7M259.3 59.9h0.7M254.6 93.4h0.7M252.8 64.4h0.7M267.5 81.2h0.7M258.6 73.3h0.7M260.5 98.0h0.7M262.0 73.1h0.7M260.2 78.9h0.7M258.8 94.2h0.7M262.1 85.9h0.7M259.4 76.9h0.7M258.4 88.8h0.7M260.3 84.2h0.7M262.0 85.9h0.7M261.7 81.3h0.7M258.8 81.7h0.7M255.1 72.9h0.7M265.5 88.6h0.7M249.8 79.0h0.7M258.9 58.4h0.7M261.3 86.3h0.7M252.2 72.3h0.7M255.4 67.0h0.7M265.5 75.6h0.7M262.1 70.0h0.7M257.2 76.8h0.7M261.9 84.4h0.7M260.9 57.3h0.7M252.2 58.4h0.7M251.9 56.3h0.7M253.4 72.7h0.7M251.6 71.7h0.7M254.4 87.8h0.7M250.0 86.5h0.7M256.3 85.3h0.7M260.4 76.2h0.7M257.2 86.3h0.7M256.6 94.5h0.7M263.4 90.8h0.7M257.9 60.9h0.7M265.0 87.3h0.7M255.1 79.4h0.7M257.7 67.6h0.7M257.7 68.2h0.7M260.5 81.5h0.7M258.4 74.9h0.7M261.6 66.9h0.7M260.0 57.8h0.7M260.0 89.3h0.7M253.4 87.4h0.7M262.6 90.2h0.7M258.7 90.4h0.7M263.5 85.0h0.7M264.4 85.4h0.7M256.9 70.2h0.7M262.4 91.0h0.7M256.7 74.7h0.7M257.9 89.9h0.7M253.1 94.2h0.7M260.5 60.3h0.7M254.8 73.3h0.7M257.7 78.7h0.7M259.8 70.2h0.7M266.4 83.0h0.7M257.4 90.2h0.7M254.4 92.8h0.7M254.3 98.9h0.7M252.4 68.1h0.7M257.7 88.4h0.7M260.3 99.8h0.7M259.3 76.4h0.7M264.6 97.9h0.7M253.9 93.2h0.7M264.2 65.8h0.7M260.6 73.4h0.7M253.3 86.4h0.7M263.0 84.1h0.7M256.1 92.3h0.7M259.2 83.0h0.7M256.9 61.5h0.7M260.4 85.9h0.7M260.6 88.3h0.7M266.3 76.2h0.7M251.2 87.5h0.7M257.4 65.8h0.7M253.2 89.1h0.7M255.8 70.3h0.7M261.1 84.1h0.7M258.5 73.6h0.7M251.2 99.7h0.7M248.5 75.4h0.7M254.0 74.6h0.7M257.9 81.4h0.7M263.7 81.6h0.7M254.8 76.6h0.7M264.9 98.2h0.7M261.6 94.0h0.7M263.3 75.6h0.7M259.2 77.1h0.7M260.5 67.1h0.7M263.3 79.8h0.7M258.8 86.1h0.7M259.6 74.8h0.7M257.8 52.1h0.7M263.9 85.2h0.7M259.9 99.3h0.7M256.0 79.3h0.7M255.8 91.2h0.7M253.7 90.6h0.7M264.1 85.0h0.7M264.9 77.9h0.7M256.8 85.2h0.7M255.4 77.1h0.7M262.8 90.8h0.7M259.0 64.9h0.7M261.9 72.0h0.7M259.2 49.8h0.7M265.0 86.0h0.7M255.8 82.5h0.7M254.9 90.7h0.7M257.8 84.3h0.7M266.7 99.7h0.7M262.8 95.6h0.7M252.2 83.7h0.7M253.8 64.7h0.7M265.3 78.2h0.7M253.4 62.3h0.7M262.9 86.6h0.7M260.1 59.2h0.7M259.2 89.0h0.7M254.6 62.5h0.7M258.0 78.9h0.7M262.6 68.8h0.7M257.1 83.5h0.7M263.3 86.2h0.7M257.6 61.6h0.7M266.5 89.8h0.7M255.7 70.7h0.7M259.0 82.5h0.7M256.2 93.1h0.7M264.6 84.0h0.7M259.8 70.9h0.7M258.0 64.9h0.7M262.6 93.2h0.7M259.5 77.9h0.7M264.3 61.9h0.7M260.6 60.4h0.7M252.4 75.4h0.7M255.2 86.1h0.7M261.1 70.4h0.7M260.5 87.5h0.7M268.1 66.7h0.7M258.7 91.5h0.7M260.3 72.1h0.7M255.1 75.4h0.7M264.2 87.0h0.7M260.3 97.6h0.7M258.3 78.1h0.7M256.3 59.8h0.7M260.9 62.7h0.7M259.3 95.1h0.7M261.8 90.3h0.7M252.8 77.0h0.7M263.8 66.5h0.7M260.8 64.9h0.7M254.0 84.7h0.7M256.6 77.7h0.7M263.9 68.4h0.7M256.8 92.8h0.7M262.2 90.0h0.7M258.3 91.7h0.7M261.7 88.6h0.7M260.8 80.7h0.7M258.3 62.8h0.7M258.9 67.3h0.7M258.9 88.4h0.7M265.5 68.1h0.7M255.7 65.2h0.7M260.6 86.9h0.7M257.2 76.2h0.7M256.3 66.4h0.7M253.0 91.1h0.7M264.1 75.1h0.7M264.0 78.9h0.7M257.7 78.3h0.7M250.6 63.8h0.7M260.1 84.6h0.7M259.3 77.2h0.7M265.4 82.7h0.7M255.6 86.4h0.7M265.9 98.3h0.7M253.1 76.5h0.7M256.5 64.8h0.7M260.5 66.5h0.7M258.5 80.0h0.7M262.0 84.9h0.7M253.8 92.8h0.7M259.5 94.2h0.7M264.5 73.1h0.7M257.9 74.8h0.7M257.7 78.4h0.7M254.6 79.1h0.7M259.1 55.5h0.7M257.3 72.4h0.7M252.3 65.1h0.7M259.3 76.0h0.7M261.3 99.2h0.7M266.9 83.7h0.7M256.8 82.7h0.7M253.7 93.5h0.7M268.7 71.5h0.7M255.2 71.2h0.7M259.7 80.3h0.7M257.3 66.7h0.7M265.1 77.7h0.7M257.4 81.0h0.7M265.0 82.1h0.7M262.1 74.8h0.7M260.6 82.1h0.7M266.2 49.3h0.7M259.5 88.8h0.7M260.9 65.6h0.7M263.7 90.1h0.7M264.0 72.9h0.7M259.7 65.9h0.7M258.3 78.5h0.7M260.0 59.3h0.7M254.2 84.0h0.7M258.4 85.1h0.7M253.7 74.2h0.7M257.2 73.6h0.7M253.2 64.3h0.7M253.8 74.9h0.7M254.2 72.5h0.7M257.6 74.1h0.7M252.7 73.9h0.7M254.4 61.6h0.7M259.9 80.6h0.7M260.4 67.5h0.7M253.7 94.9h0.7M250.9 65.9h0.7M264.6 82.9h0.7M264.8 98.9h0.7M259.3 67.9h0.7M262.5 66.3h0.7M252.0 66.5h0.7M259.3 81.0h0.7M264.3 78.4h0.7M269.1 82.9h0.7M262.2 73.0h0.7M260.0 82.9h0.7M255.3 80.6h0.7M254.5 80.9h0.7M257.3 61.4h0.7M261.3 87.3h0.7M253.1 64.8h0.7M264.2 90.7h0.7M261.7 66.7h0.7M257.9 94.7h0.7M250.7 61.1h0.7M256.6 81.2h0.7M256.2 91.9h0.7M251.7 83.7h0.7M265.8 63.1h0.7M258.4 98.1h0.7M258.8 85.3h0.7M260.7 69.6h0.7M257.7 91.9h0.7M260.9 70.5h0.7M259.4 73.0h0.7M260.3 73.9h0.7M261.2 70.2h0.7M262.2 63.5h0.7M265.8 83.1h0.7M262.9 84.8h0.7M267.0 69.7h0.7M250.3 92.2h0.7M256.2 80.3h0.7M264.3 98.0h0.7M256.4 79.7h0.7M261.8 92.9h0.7M255.8 94.9h0.7M259.1 77.9h0.7M263.3 87.9h0.7M266.3 73.7h0.7M261.6 96.4h0.7M258.4 70.2h0.7M261.9 89.2h0.7M251.5 94.7h0.7M265.6 71.2h0.7M255.6 87.8h0.7M262.6 84.1h0.7M253.0 70.2h0.7M260.7 77.8h0.7M248.8 61.5h0.7M252.8 62.5h0.7M260.5 75.7h0.7M259.7 74.6h0.7M259.7 83.7h0.7M264.1 67.0h0.7M259.4 75.3h0.7M256.5 74.9h0.7M260.6 80.4h0.7M255.7 82.5h0.7M269.5 84.8h0.7M258.7 97.5h0.7M260.8 79.1h0.7M251.6 76.3h0.7M255.5 74.0h0.7M257.0 99.4h0.7M262.4 91.9h0.7M253.5 80.6h0.7M251.5 66.3h0.7M257.1 81.8h0.7M259.4 66.9h0.7M257.8 48.6h0.7M260.3 65.6h0.7M262.0 90.4h0.7M261.6 59.2h0.7M266.9 94.0h0.7M258.8 74.4h0.7M258.9 82.6h0.7M255.8 90.4h0.7M256.7 72.9h0.7M260.9 91.8h0.7M260.4 60.6h0.7M254.3 83.2h0.7M261.3 73.6h0.7M260.7 74.5h0.7M254.8 75.5h0.7M258.2 93.6h0.7M263.3 83.3h0.7M260.8 93.6h0.7M266.5 63.7h0.7M253.7 77.2h0.7M262.6 77.9h0.7M260.8 63.4h0.7M261.5 69.9h0.7M259.8 82.1h0.7M256.7 89.5h0.7M255.8 81.4h0.7M262.8 83.6h0.7M256.1 70.6h0.7M256.2 87.3h0.7M259.7 86.5h0.7M261.5 65.4h0.7M255.3 75.2h0.7M259.2 73.4h0.7M252.5 77.9h0.7M258.2 61.2h0.7M251.9 62.2h0.7M260.4 82.3h0.7M264.9 92.9h0.7M260.7 77.6h0.7M259.8 79.0h0.7M257.3 87.3h0.7M264.9 74.3h0.7M265.2 87.0h0.7M259.5 81.4h0.7M258.2 67.5h0.7M264.9 73.0h0.7M261.3 83.4h0.7M260.7 79.5h0.7M262.0 89.5h0.7M256.1 97.7h0.7M251.2 67.0h0.7M261.3 82.2h0.7M252.3 87.9h0.7M260.5 77.1h0.7M261.2 85.0h0.7M258.5 71.4h0.7M266.9 59.7h0.7M255.4 63.0h0.7M258.6 95.8h0.7M258.2 76.7h0.7M251.9 77.9h0.7M256.7 56.3h0.7M253.8 80.9h0.7M265.0 72.8h0.7M255.6 71.9h0.7M262.0 81.4h0.7M259.0 74.6h0.7M263.2 80.9h0.7M264.7 76.2h0.7M266.1 77.2h0.7M265.4 82.2h0.7M258.7 78.5h0.7M262.2 71.2h0.7M252.5 76.4h0.7M259.1 74.7h0.7M253.3 72.9h0.7M267.8 65.5h0.7M262.8 79.4h0.7M252.4 60.4h0.7M262.8 77.3h0.7M259.2 70.2h0.7M255.2 88.9h0.7M261.4 88.7h0.7M260.3 81.2h0.7M264.3 77.0h0.7M253.7 69.4h0.7M255.4 85.5h0.7M265.7 69.5h0.7M263.9 85.8h0.7M258.0 65.4h0.7M265.2 85.8h0.7M259.3 92.7h0.7M258.3 96.7h0.7M256.8 49.1h0.7M256.1 65.0h0.7M257.7 93.9h0.7M263.0 77.5h0.7M259.0 79.9h0.7M254.9 78.5h0.7M260.4 73.7h0.7M257.6 86.0h0.7M253.7 60.9h0.7M261.6 83.4h0.7M256.7 84.6h0.7M261.2 75.1h0.7M263.1 89.3h0.7M259.6 83.1h0.7M258.3 72.3h0.7M259.9 69.3h0.7M260.0 75.7h0.7M258.9 75.9h0.7M267.6 87.7h0.7M253.4 85.9h0.7M258.7 79.9h0.7M259.5 64.3h0.7M263.3 72.8h0.7M259.1 85.9h0.7M260.5 76.5h0.7M256.7 83.6h0.7M257.8 96.3h0.7M268.2 74.5h0.7M252.2 82.5h0.7M264.4 80.1h0.7M263.6 78.8h0.7M264.2 62.0h0.7M263.8 88.8h0.7M255.3 71.0h0.7M259.6 82.4h0.7M262.0 77.3h0.7M254.9 56.1h0.7M261.6 56.0h0.7M261.5 88.6h0.7M257.3 77.9h0.7M254.4 80.9h0.7M264.6 83.1h0.7M263.6 80.4h0.7M262.2 85.9h0.7M262.5 96.1h0.7M256.5 75.9h0.7M249.4 88.8h0.7M265.1 93.1h0.7M258.6 71.7h0.7M253.5 98.4h0.7M260.1 65.2h0.7M264.7 70.4h0.7M256.9 64.2h0.7M252.4 85.4h0.7M256.1 78.0h0.7M255.3 88.9h0.7M263.9 88.2h0.7M256.3 96.6h0.7M257.3 66.0h0.7M258.5 73.8h0.7M257.8 77.4h0.7M257.4 85.9h0.7M251.5 72.1h0.7M256.7 73.3h0.7M255.1 74.5h0.7M263.7 75.3h0.7M251.2 64.2h0.7M260.1 70.3h0.7M262.5 77.5h0.7M260.8 81.3h0.7M256.5 77.6h0.7M259.1 71.9h0.7M264.0 85.5h0.7M255.1 68.1h0.7M253.3 61.2h0.7M259.8 96.7h0.7M260.8 87.1h0.7M258.2 92.4h0.7M258.5 86.9h0.7M263.7 95.0h0.7M257.0 77.5h0.7M249.8 90.4h0.7M255.4 90.5h0.7M259.2 80.7h0.7M263.1 92.2h0.7M260.1 79.6h0.7M259.4 82.8h0.7M265.0 73.6h0.7M259.4 85.3h0.7M258.0 65.0h0.7M260.3 74.3h0.7M261.2 73.4h0.7M258.8 75.5h0.7M259.4 72.9h0.7M262.2 85.9h0.7M262.1 82.5h0.7M261.1 96.7h0.7M260.7 69.7h0.7M259.8 70.9h0.7M261.2 68.0h0.7M253.4 97.7h0.7M263.3 88.6h0.7M260.1 82.7h0.7M261.5 80.7h0.7M255.4 70.8h0.7M263.8 68.2h0.7M258.8 65.5h0.7M254.9 89.1h0.7M260.6 74.1h0.7M259.0 64.3h0.7M264.4 94.8h0.7M258.6 56.8h0.7M262.8 84.9h0.7M261.8 93.0h0.7M259.9 71.6h0.7M262.6 89.4h0.7M255.0 77.8h0.7M255.2 73.9h0.7M263.4 61.0h0.7M262.9 72.8h0.7M259.2 53.9h0.7M254.2 90.0h0.7M260.6 77.3h0.7M254.8 76.9h0.7M256.7 86.1h0.7M257.4 98.3h0.7M258.8 96.4h0.7M254.8 82.4h0.7M265.3 78.5h0.7M256.9 73.7h0.7M259.7 91.4h0.7M265.1 81.7h0.7M255.7 87.2h0.7M260.8 84.8h0.7M264.8 99.1h0.7M261.6 86.5h0.7M260.8 86.2h0.7M257.1 81.9h0.7M260.8 69.9h0.7M255.3 62.8h0.7M258.8 85.7h0.7M255.5 57.0h0.7M252.1 54.6h0.7M254.2 74.7h0.7M269.3 79.4h0.7M253.9 64.3h0.7M261.1 76.8h0.7M259.2 89.4h0.7M259.8 74.7h0.7M253.9 66.8h0.7M258.8 86.9h0.7M257.4 86.0h0.7M269.2 80.0h0.7M261.7 78.5h0.7M258.0 81.8h0.7M256.1 76.5h0.7M258.8 87.0h0.7M262.0 59.9h0.7M259.1 83.9h0.7M263.1 60.2h0.7M254.8 75.6h0.7M254.3 91.2h0.7M255.8 87.9h0.7M257.7 52.3h0.7M255.9 74.4h0.7M256.8 89.8h0.7M251.4 63.7h0.7M260.0 70.3h0.7M260.3 53.9h0.7M252.3 55.3h0.7M257.0 85.2h0.7M255.7 87.9h0.7M261.6 70.4h0.7M264.1 73.7h0.7M248.2 75.4h0.7M261.6 82.9h0.7M258.7 83.7h0.7M256.8 87.9h0.7M250.0 70.7h0.7M250.4 64.6h0.7M267.6 71.2h0.7M258.4 83.6h0.7M255.1 94.8h0.7M255.9 72.1h0.7M264.1 74.7h0.7M252.5 91.0h0.7M259.3 92.2h0.7M261.3 78.9h0.7M254.5 91.7h0.7M262.3 79.2h0.7M251.7 95.3h0.7M264.8 75.7h0.7M256.3 73.7h0.7M267.0 64.2h0.7M260.4 70.2h0.7M257.5 88.0h0.7M258.7 75.0h0.7M256.3 74.8h0.7M259.4 70.6h0.7M265.2 76.4h0.7M264.2 82.1h0.7M258.2 73.2h0.7M266.3 72.9h0.7M261.0 76.4h0.7M261.9 87.7h0.7M257.2 76.9h0.7M262.1 75.9h0.7M261.2 89.1h0.7M262.3 78.1h0.7M262.6 72.3h0.7M265.2 68.9h0.7M255.3 63.4h0.7M263.7 84.6h0.7M257.4 73.0h0.7M254.4 60.1h0.7M264.1 82.8h0.7M261.5 56.4h0.7M260.3 71.7h0.7M254.7 82.2h0.7M255.2 72.3h0.7M257.8 85.5h0.7M257.0 79.6h0.7M264.1 71.3h0.7M265.8 86.8h0.7M256.6 57.4h0.7M262.8 54.6h0.7M267.9 92.1h0.7M254.9 90.6h0.7M258.3 75.7h0.7M261.4 80.8h0.7M260.6 73.6h0.7M261.5 87.1h0.7M256.4 94.2h0.7M261.0 77.5h0.7M262.5 81.7h0.7M265.3 77.1h0.7M265.7 99.6h0.7M259.4 64.5h0.7M257.8 75.0h0.7M268.2 80.5h0.7M259.9 86.8h0.7M256.2 70.5h0.7M263.1 97.2h0.7M262.0 96.9h0.7M256.8 73.8h0.7M257.8 55.4h0.7M259.8 68.5h0.7M256.9 47.9h0.7M253.7 97.7h0.7M257.4 71.6h0.7M259.2 86.3h0.7M254.4 61.9h0.7M252.9 83.8h0.7M260.9 93.0h0.7M258.8 78.6h0.7M255.9 88.3h0.7M255.9 54.4h0.7M262.6 61.9h0.7M259.5 87.6h0.7M254.5 84.0h0.7M263.7 78.0h0.7M260.1 81.4h0.7M260.3 78.8h0.7M261.2 94.7h0.7M259.5 73.3h0.7M256.5 78.0h0.7M261.5 70.4h0.7M263.0 88.2h0.7M260.1 83.9h0.7M252.6 53.9h0.7M262.0 78.8h0.7M265.1 76.6h0.7M257.2 72.9h0.7M266.0 93.6h0.7M254.9 58.0h0.7M253.0 84.7h0.7M259.9 65.9h0.7M255.8 95.9h0.7M261.0 85.6h0.7M261.9 78.3h0.7M258.1 72.3h0.7M268.0 73.7h0.7M253.0 76.4h0.7M259.1 69.1h0.7M262.9 79.9h0.7M267.3 79.9h0.7M252.9 69.6h0.7M255.7 62.4h0.7M260.7 73.7h0.7M263.1 77.0h0.7M253.4 92.9h0.7M249.2 50.8h0.7M260.5 96.4h0.7M261.5 74.5h0.7M264.9 68.0h0.7M251.5 79.7h0.7M264.5 87.6h0.7M255.7 76.2h0.7M257.0 65.7h0.7M261.4 85.1h0.7M255.4 78.9h0.7M265.4 57.9h0.7M259.8 62.0h0.7M258.7 80.7h0.7M257.4 71.4h0.7M255.8 86.1h0.7M265.9 88.3h0.7M257.4 71.2h0.7M261.2 67.7h0.7M258.0 81.9h0.7M258.1 57.8h0.7M262.5 82.9h0.7M252.2 68.1h0.7M264.7 73.8h0.7M256.0 87.4h0.7M258.7 74.4h0.7M250.4 65.7h0.7M256.6 88.9h0.7M268.7 84.7h0.7M264.6 91.0h0.7M256.6 73.8h0.7M256.7 91.9h0.7M257.3 84.5h0.7M258.9 79.0h0.7M261.1 86.5h0.7M256.7 81.2h0.7M264.8 82.2h0.7M257.9 74.3h0.7M258.8 73.8h0.7M252.7 68.5h0.7M249.8 88.7h0.7M254.7 86.2h0.7M256.4 68.5h0.7M254.3 71.8h0.7M259.5 86.2h0.7M254.2 78.4h0.7M264.0 88.2h0.7M259.3 72.8h0.7M255.4 63.3h0.7M269.5 87.3h0.7M255.4 49.0h0.7M254.3 74.7h0.7M255.2 74.8h0.7M264.3 56.9h0.7M264.9 74.1h0.7M264.3 69.6h0.7M258.2 84.3h0.7M265.0 91.9h0.7M257.7 85.4h0.7M265.0 75.6h0.7M260.3 62.8h0.7M259.9 84.9h0.7M261.0 81.3h0.7M266.3 90.8h0.7M259.7 65.6h0.7M254.7 72.7h0.7M263.2 73.8h0.7M259.0 78.4h0.7M254.3 85.0h0.7M256.1 84.4h0.7M256.7 67.3h0.7M254.6 86.8h0.7M251.1 61.8h0.7M260.4 76.0h0.7M260.7 68.7h0.7M255.3 92.9h0.7M267.1 86.3h0.7M263.2 82.7h0.7M255.1 92.6h0.7M257.9 79.3h0.7M253.7 70.9h0.7M263.4 77.3h0.7M263.6 91.1h0.7M257.7 73.4h0.7M258.0 70.7h0.7M260.8 97.2h0.7M253.4 66.9h0.7M260.7 89.5h0.7M260.3 85.4h0.7M256.6 82.5h0.7M262.5 66.9h0.7M264.1 72.1h0.7M253.9 71.9h0.7M256.9 88.6h0.7M262.8 74.3h0.7M255.8 82.1h0.7M257.4 86.7h0.7M266.7 65.5h0.7M258.9 68.7h0.7M258.9 83.6h0.7M263.6 70.4h0.7M251.4 93.5h0.7M253.0 66.7h0.7M259.3 97.7h0.7M261.1 72.1h0.7M256.1 80.8h0.7M265.3 64.2h0.7M258.6 93.4h0.7M256.2 62.6h0.7M256.8 75.9h0.7M262.6 83.2h0.7M254.0 85.4h0.7M249.3 80.2h0.7M265.2 79.5h0.7M251.9 72.7h0.7M250.8 73.3h0.7M258.6 87.9h0.7M259.4 80.0h0.7M263.3 70.6h0.7M263.4 93.5h0.7M262.6 89.0h0.7M262.6 82.9h0.7M263.1 71.6h0.7M261.1 95.4h0.7M259.9 68.0h0.7M253.5 80.1h0.7M260.4 74.6h0.7M259.0 82.5h0.7M258.2 91.3h0.7M262.4 93.2h0.7M251.9 67.9h0.7M263.3 95.4h0.7M257.6 83.7h0.7M264.1 93.3h0.7M250.9 82.4h0.7M262.4 68.9h0.7M256.7 74.0h0.7M253.9 69.2h0.7M264.8 54.6h0.7M254.8 73.5h0.7M262.3 54.6h0.7M251.2 58.5h0.7M258.7 90.2h0.7M258.0 87.6h0.7M257.1 88.9h0.7M261.6 84.0h0.7M255.1 74.9h0.7M261.6 73.1h0.7M262.4 94.9h0.7M264.5 98.3h0.7M260.6 91.9h0.7M260.8 90.6h0.7M258.5 76.9h0.7M259.5 92.1h0.7M254.6 71.0h0.7M256.4 58.1h0.7M252.8 90.7h0.7M259.5 76.5h0.7M255.1 62.6h0.7M263.4 70.9h0.7M257.7 98.2h0.7M261.3 77.9h0.7M259.6 74.3h0.7M256.5 66.5h0.7M260.2 76.5h0.7M256.4 100.0h0.7M261.8 82.9h0.7M261.2 57.8h0.7M261.4 77.4h0.7M261.3 64.6h0.7M258.2 90.4h0.7M261.9 97.9h0.7M258.1 58.9h0.7M259.2 71.1h0.7M256.8 72.3h0.7M260.5 84.3h0.7M248.4 97.4h0.7M259.4 87.4h0.7M258.9 92.4h0.7M264.9 88.2h0.7M256.9 67.3h0.7M249.6 83.8h0.7M267.2 82.9h0.7M262.0 90.5h0.7M253.6 64.8h0.7M262.2 83.3h0.7M258.0 81.7h0.7M261.4 77.0h0.7M259.7 94.8h0.7M259.9 57.5h0.7M259.5 81.7h0.7M259.3 75.5h0.7M254.5 74.4h0.7M266.1 74.0h0.7M261.7 59.9h0.7M259.7 78.1h0.7M256.6 80.3h0.7M262.9 98.4h0.7M266.2 88.9h0.7M257.4 52.3h0.7M251.9 81.8h0.7M266.5 97.0h0.7M255.0 63.6h0.7M257.6 87.0h0.7M264.8 93.6h0.7M252.3 63.0h0.7M260.2 77.6h0.7M255.7 89.6h0.7M249.8 70.2h0.7M262.6 94.8h0.7M256.4 70.4h0.7M260.1 76.2h0.7M262.2 93.3h0.7M260.8 64.5h0.7M257.4 67.7h0.7M259.2 69.3h0.7M258.9 93.2h0.7M258.3 49.9h0.7M253.1 78.9h0.7M252.1 83.2h0.7M261.4 83.2h0.7M260.2 83.0h0.7M263.9 84.7h0.7M260.2 78.6h0.7M251.8 69.9h0.7M258.9 75.2h0.7M268.9 65.5h0.7M266.4 91.6h0.7M262.2 69.5h0.7M256.4 58.2h0.7M264.2 73.8h0.7M255.6 90.8h0.7M256.7 72.1h0.7M255.5 90.7h0.7M258.2 53.4h0.7M260.5 82.9h0.7M265.6 74.2h0.7M259.0 94.3h0.7M259.4 81.4h0.7M260.5 74.1h0.7M261.0 84.4h0.7M256.2 61.8h0.7M251.2 97.0h0.7M264.8 70.0h0.7M264.2 80.6h0.7M257.7 91.1h0.7M259.7 77.9h0.7M253.9 77.3h0.7M253.5 76.6h0.7M257.4 86.8h0.7M261.5 80.7h0.7M262.7 67.4h0.7M255.4 87.9h0.7M255.6 91.4h0.7M260.9 74.1h0.7M257.0 65.7h0.7M252.5 59.0h0.7M254.2 87.8h0.7M256.0 72.1h0.7M259.3 86.7h0.7M263.2 73.8h0.7M259.7 72.4h0.7M257.5 83.9h0.7M251.4 89.0h0.7M258.0 82.8h0.7M259.8 73.3h0.7M255.9 65.3h0.7M261.2 76.6h0.7M258.6 83.4h0.7M268.3 68.0h0.7M259.3 70.8h0.7M261.1 88.1h0.7M259.3 60.6h0.7M255.3 85.3h0.7M252.5 81.5h0.7M261.4 89.8h0.7M262.1 62.9h0.7M253.6 52.1h0.7M262.9 83.2h0.7M257.3 86.5h0.7M253.0 75.7h0.7M257.2 76.8h0.7M259.6 84.6h0.7M255.0 61.2h0.7M262.2 82.3h0.7M251.0 71.7h0.7M258.3 72.1h0.7M259.7 74.7h0.7M260.1 75.0h0.7M262.5 61.7h0.7M256.6 85.5h0.7M254.5 56.6h0.7M257.7 64.2h0.7M262.6 69.1h0.7M246.4 67.2h0.7M258.8 80.4h0.7M259.2 73.3h0.7M256.5 91.8h0.7M262.4 83.7h0.7M258.2 84.8h0.7M259.1 78.6h0.7M259.7 72.0h0.7M267.4 69.8h0.7M253.0 77.5h0.7M251.1 79.5h0.7M251.8 74.3h0.7M264.8 76.4h0.7M259.0 58.4h0.7M262.3 88.6h0.7M261.4 87.0h0.7M261.4 94.5h0.7M258.0 66.2h0.7M260.0 83.0h0.7M260.5 88.7h0.7M262.2 83.7h0.7M255.0 68.4h0.7M259.6 73.6h0.7M257.9 50.7h0.7M263.7 72.6h0.7M264.4 62.3h0.7M266.1 93.8h0.7M251.6 84.2h0.7M254.2 86.7h0.7M262.4 78.6h0.7M258.3 73.8h0.7M262.5 95.6h0.7M263.1 89.8h0.7M267.0 89.8h0.7M258.2 79.9h0.7M258.0 72.0h0.7M259.4 79.1h0.7M265.4 73.1h0.7M256.3 76.3h0.7M252.2 91.8h0.7M264.9 81.1h0.7M257.8 85.3h0.7M259.2 93.7h0.7M259.6 97.9h0.7M263.9 74.4h0.7M261.3 90.2h0.7M260.0 72.5h0.7M260.3 59.3h0.7M263.3 85.2h0.7M254.6 75.1h0.7M262.1 61.9h0.7M266.6 71.6h0.7M261.4 93.3h0.7M265.7 65.1h0.7M250.1 76.2h0.7M255.0 55.9h0.7M253.2 88.2h0.7M253.0 76.7h0.7M267.0 60.7h0.7M265.0 70.4h0.7M259.3 71.7h0.7M256.0 80.7h0.7M248.7 66.1h0.7M261.3 96.0h0.7M259.7 71.5h0.7M259.9 95.4h0.7M263.3 88.9h0.7M247.8 74.2h0.7M257.4 84.8h0.7M258.5 59.6h0.7M263.4 85.5h0.7M257.1 58.9h0.7M259.8 78.4h0.7M263.6 76.3h0.7M254.4 89.1h0.7M253.8 85.4h0.7M255.2 89.4h0.7M268.0 82.6h0.7M257.1 77.2h0.7M257.1 70.7h0.7M259.7 62.7h0.7M254.5 80.4h0.7M255.1 85.0h0.7M257.0 78.3h0.7M263.3 77.9h0.7M262.6 66.4h0.7M255.6 75.5h0.7M257.6 72.3h0.7M260.0 73.2h0.7M255.9 85.4h0.7M263.1 76.7h0.7M257.1 83.3h0.7M262.8 68.7h0.7M262.1 85.8h0.7M260.7 95.3h0.7M251.6 63.0h0.7M260.9 88.6h0.7M254.0 66.9h0.7M258.6 77.7h0.7M255.7 81.5h0.7M264.5 98.5h0.7M262.3 81.3h0.7M251.9 80.1h0.7M254.2 86.0h0.7M260.5 79.4h0.7M253.6 83.8h0.7M253.6 79.0h0.7M253.7 72.2h0.7M256.8 95.2h0.7M258.9 90.1h0.7M255.0 67.4h0.7M257.6 81.2h0.7M251.4 75.6h0.7M261.6 57.8h0.7M262.6 88.7h0.7M257.9 91.5h0.7M262.6 76.2h0.7M254.5 87.1h0.7M259.7 73.9h0.7M253.7 91.5h0.7M255.8 76.1h0.7M256.0 97.5h0.7M262.0 94.6h0.7M262.0 57.0h0.7M257.8 85.1h0.7M265.3 50.7h0.7M260.2 85.0h0.7M254.9 80.9h0.7M257.6 94.3h0.7M266.5 89.7h0.7M261.2 93.0h0.7M258.9 93.4h0.7M259.0 78.6h0.7M262.9 69.3h0.7M261.3 96.1h0.7M263.7 83.8h0.7M256.4 65.3h0.7M259.5 95.1h0.7M251.2 80.5h0.7M258.9 73.3h0.7M259.2 85.8h0.7M266.2 75.8h0.7M260.1 77.4h0.7M260.5 96.9h0.7M257.7 58.8h0.7M254.4 86.8h0.7M262.9 68.3h0.7M258.5 77.1h0.7M262.9 77.9h0.7M257.6 93.3h0.7M259.3 71.3h0.7M254.1 83.3h0.7M266.2 50.9h0.7M254.0 84.0h0.7M254.2 77.4h0.7M258.8 76.6h0.7M262.5 89.1h0.7M253.8 86.3h0.7M261.0 80.8h0.7M259.0 66.4h0.7M260.6 75.5h0.7M262.8 91.9h0.7M263.7 84.0h0.7M253.7 51.9h0.7M250.0 66.5h0.7M260.7 69.0h0.7M258.6 82.1h0.7M263.6 96.4h0.7M265.8 98.5h0.7M255.6 69.8h0.7M255.4 79.4h0.7M256.7 81.7h0.7M261.5 76.9h0.7M256.1 71.4h0.7M260.3 95.9h0.7M256.6 67.5h0.7M263.9 83.0h0.7M254.9 79.3h0.7M252.8 72.6h0.7M256.4 92.6h0.7M256.0 71.9h0.7M265.4 93.5h0.7M259.3 87.6h0.7M266.9 82.1h0.7M262.4 78.1h0.7M258.6 70.6h0.7M263.0 99.5h0.7M260.2 76.9h0.7M258.8 67.0h0.7M253.5 53.2h0.7M260.4 77.5h0.7M258.0 65.5h0.7M264.3 72.6h0.7M255.9 68.2h0.7M263.0 97.3h0.7M253.9 74.2h0.7M259.1 90.0h0.7M256.3 94.4h0.7M256.6 75.9h0.7M255.9 73.0h0.7M257.4 68.5h0.7M258.2 68.7h0.7M249.4 94.6h0.7M257.1 88.6h0.7M260.3 81.6h0.7M258.3 82.2h0.7M259.8 76.2h0.7M258.3 83.7h0.7M255.6 81.3h0.7M252.0 80.6h0.7M256.5 69.7h0.7M261.9 89.8h0.7M252.2 73.5h0.7M258.8 73.1h0.7M260.1 66.5h0.7M256.8 86.3h0.7M260.9 64.9h0.7M260.1 88.7h0.7M261.3 75.0h0.7M256.6 90.3h0.7M256.1 76.4h0.7M261.1 85.5h0.7M265.4 91.3h0.7M257.8 70.5h0.7M253.2 56.3h0.7M263.4 78.7h0.7M263.6 83.5h0.7M256.5 76.7h0.7M260.4 77.1h0.7M260.3 66.3h0.7M258.4 79.1h0.7M261.1 68.3h0.7M258.4 82.8h0.7M260.9 91.3h0.7M257.7 88.6h0.7M253.9 54.4h0.7M258.4 65.2h0.7M260.0 76.3h0.7M261.6 87.6h0.7M261.1 86.9h0.7M256.9 83.7h0.7M261.0 77.9h0.7M258.7 76.5h0.7M257.9 85.5h0.7M260.2 75.5h0.7M261.0 85.1h0.7M259.6 88.8h0.7M256.2 78.9h0.7M261.7 77.6h0.7M253.0 89.8h0.7M257.1 89.9h0.7M255.1 78.2h0.7M258.5 80.3h0.7M255.9 81.5h0.7M255.7 84.0h0.7M257.2 82.1h0.7M262.6 79.0h0.7M261.0 91.0h0.7M256.5 81.5h0.7M253.6 81.2h0.7M260.0 87.4h0.7M258.0 96.9h0.7M259.3 78.0h0.7M259.0 70.1h0.7M257.1 74.6h0.7M256.7 79.8h0.7M254.3 78.4h0.7M261.4 71.7h0.7M257.1 91.3h0.7M257.2 88.9h0.7M262.9 79.7h0.7M259.4 81.4h0.7M260.7 88.1h0.7M255.5 78.1h0.7M254.9 74.9h0.7M261.7 73.6h0.7M259.9 78.4h0.7M255.5 80.8h0.7M261.3 79.4h0.7M259.4 83.5h0.7M257.4 90.0h0.7M257.0 97.8h0.7M263.1 78.1h0.7M260.1 72.7h0.7M259.8 89.8h0.7M261.1 77.8h0.7M256.6 87.6h0.7M262.5 87.8h0.7M257.9 79.9h0.7M254.8 82.8h0.7M259.7 80.6h0.7M260.6 85.2h0.7M261.9 82.4h0.7M257.1 81.8h0.7M261.8 79.1h0.7M259.4 82.2h0.7M260.0 74.6h0.7M262.2 74.4h0.7M254.7 77.9h0.7M260.4 77.4h0.7M256.9 80.3h0.7M262.0 92.6h0.7M262.0 79.4h0.7M259.8 93.4h0.7M263.0 89.0h0.7M257.9 89.6h0.7M259.0 72.9h0.7M254.9 85.2h0.7M259.4 74.1h0.7M260.3 91.4h0.7M263.1 84.2h0.7M260.3 86.1h0.7M258.7 82.6h0.7M262.0 81.1h0.7M263.4 69.1h0.7M257.7 91.1h0.7M258.5 85.8h0.7M258.9 81.3h0.7M261.9 85.7h0.7M261.1 73.5h0.7M261.4 75.5h0.7M261.1 84.4h0.7M260.5 79.5h0.7M258.6 79.0h0.7M261.1 85.3h0.7M257.6 73.0h0.7M256.6 83.1h0.7M254.5 90.7h0.7M262.4 87.4h0.7M255.6 82.5h0.7M257.4 81.3h0.7M259.2 91.3h0.7M258.0 74.9h0.7M252.5 78.5h0.7M263.7 81.3h0.7M256.8 85.4h0.7M261.6 81.2h0.7M259.1 91.7h0.7M262.0 74.5h0.7M259.2 89.9h0.7M259.9 88.1h0.7M259.8 81.1h0.7M258.4 88.8h0.7M258.7 81.4h0.7M261.0 88.3h0.7M259.2 89.9h0.7M254.3 86.2h0.7M256.5 81.3h0.7M259.2 77.2h0.7M264.5 83.4h0.7M258.2 90.0h0.7M257.6 86.2h0.7M262.5 86.9h0.7M258.4 83.8h0.7M266.5 96.8h0.7M253.1 86.5h0.7M257.9 80.0h0.7M254.5 80.6h0.7M261.2 80.0h0.7M258.3 99.2h0.7M259.7 82.6h0.7M257.5 76.4h0.7M263.6 95.6h0.7M260.4 83.2h0.7M256.7 86.0h0.7M261.7 80.1h0.7M261.8 88.1h0.7M257.8 77.1h0.7M255.8 81.6h0.7M255.3 77.2h0.7M261.9 79.5h0.7M258.3 82.2h0.7M257.1 83.1h0.7M259.2 69.6h0.7M261.2 76.5h0.7M258.9 82.5h0.7M260.4 89.3h0.7M259.2 78.2h0.7M256.9 78.7h0.7M258.7 88.2h0.7M260.2 82.3h0.7M257.7 72.1h0.7M259.3 75.6h0.7M260.1 81.0h0.7M256.3 83.4h0.7M259.4 82.2h0.7M263.4 80.8h0.7M266.0 78.7h0.7M260.0 73.2h0.7M261.5 73.6h0.7M259.7 72.9h0.7M261.1 84.1h0.7M259.8 89.9h0.7M258.1 82.7h0.7M255.9 83.3h0.7M255.1 86.5h0.7M260.7 82.0h0.7M259.3 89.1h0.7M259.2 76.5h0.7M259.5 80.7h0.7M258.3 75.0h0.7M258.1 81.0h0.7M260.6 81.8h0.7M261.3 72.2h0.7M260.6 82.3h0.7M259.9 85.3h0.7M258.9 86.6h0.7M260.9 84.1h0.7M258.1 80.0h0.7M262.6 73.7h0.7M255.9 76.8h0.7M257.3 88.2h0.7M263.2 83.5h0.7M259.8 83.8h0.7M257.6 74.5h0.7M260.1 78.9h0.7M257.6 81.6h0.7M256.0 90.6h0.7M260.9 75.7h0.7M261.7 85.5h0.7M258.2 81.2h0.7M258.1 80.5h0.7M259.0 75.5h0.7M255.8 84.7h0.7M258.7 76.2h0.7M258.7 65.9h0.7M261.2 77.1h0.7M259.4 86.6h0.7M261.6 86.3h0.7M258.6 86.2h0.7M258.5 87.6h0.7M261.8 77.5h0.7M259.6 89.1h0.7M262.7 90.1h0.7M260.5 84.3h0.7M257.0 87.3h0.7M258.3 79.1h0.7M257.6 83.5h0.7M255.9 88.5h0.7M261.8 95.3h0.7M259.4 84.3h0.7M255.4 77.2h0.7M259.4 95.6h0.7M257.8 84.7h0.7M257.5 81.3h0.7M262.2 80.9h0.7M261.8 83.4h0.7M258.5 82.1h0.7M260.5 85.5h0.7M256.8 92.3h0.7M259.6 82.7h0.7M255.6 85.0h0.7M262.5 88.3h0.7M261.7 84.4h0.7M259.6 85.4h0.7M256.6 81.5h0.7M261.9 84.8h0.7M261.7 77.2h0.7M257.4 83.1h0.7M263.6 84.7h0.7M256.7 95.4h0.7M259.6 73.2h0.7M261.4 61.8h0.7M260.2 85.3h0.7M261.3 68.5h0.7M258.7 83.1h0.7M258.9 87.5h0.7M265.5 88.5h0.7M260.9 74.0h0.7M257.8 93.2h0.7M260.3 80.8h0.7M261.2 89.8h0.7M261.3 83.5h0.7M259.7 90.8h0.7M259.0 79.7h0.7M258.4 69.0h0.7M258.6 75.1h0.7M257.4 93.5h0.7M259.8 76.5h0.7M260.5 90.5h0.7M259.4 86.7h0.7M257.5 78.7h0.7M263.7 90.6h0.7M258.0 83.5h0.7M254.5 85.4h0.7M258.9 81.7h0.7M260.3 82.4h0.7M263.4 79.4h0.7M257.0 88.8h0.7M259.5 84.1h0.7M261.6 87.8h0.7M263.8 92.6h0.7M253.5 79.9h0.7M262.8 88.9h0.7M256.5 81.5h0.7M259.1 78.1h0.7M256.6 78.4h0.7M256.6 86.5h0.7M254.4 88.4h0.7M262.7 81.9h0.7M260.9 87.8h0.7M264.5 82.9h0.7M257.0 83.0h0.7M258.5 83.4h0.7M259.0 76.6h0.7M255.2 69.3h0.7M260.2 82.6h0.7M261.0 84.0h0.7M259.8 80.4h0.7M258.3 83.7h0.7M255.6 88.6h0.7M259.5 69.1h0.7M259.7 68.8h0.7M260.0 90.8h0.7M258.8 79.9h0.7M259.7 88.0h0.7M259.4 90.4h0.7M257.0 82.7h0.7M259.7 82.4h0.7M260.0 86.6h0.7M261.5 81.7h0.7M258.8 86.8h0.7M258.9 82.2h0.7M260.4 84.5h0.7M258.9 76.0h0.7M260.3 81.7h0.7M264.4 84.2h0.7M260.7 83.0h0.7M259.2 85.1h0.7M262.0 83.8h0.7M259.0 88.0h0.7M258.4 77.1h0.7M259.1 85.9h0.7M262.0 83.2h0.7M255.1 78.5h0.7M260.3 83.0h0.7M262.3 90.3h0.7M265.2 85.2h0.7M260.5 78.2h0.7M259.1 74.6h0.7M259.6 80.0h0.7M253.2 83.5h0.7M258.8 75.1h0.7M254.8 80.9h0.7M258.4 73.3h0.7M257.2 79.0h0.7M255.1 80.5h0.7M264.7 78.6h0.7M261.1 77.4h0.7M257.1 83.6h0.7M259.0 84.9h0.7M263.0 77.8h0.7M262.0 81.8h0.7M258.2 78.8h0.7M259.8 84.8h0.7M262.1 70.2h0.7M260.0 84.3h0.7M260.6 79.5h0.7M257.3 76.5h0.7M257.7 86.4h0.7M254.8 82.9h0.7M261.1 81.8h0.7M260.6 82.3h0.7M258.7 94.6h0.7M261.4 83.4h0.7M258.2 87.0h0.7M258.5 83.8h0.7M256.4 95.9h0.7M257.5 80.2h0.7M255.6 78.4h0.7M260.7 78.2h0.7M259.5 84.6h0.7M260.3 84.2h0.7M261.9 76.5h0.7M260.4 74.3h0.7M257.9 82.4h0.7M253.4 82.4h0.7M257.3 77.1h0.7M255.5 77.2h0.7M260.4 82.3h0.7M260.1 80.9h0.7M256.1 81.6h0.7M260.8 85.0h0.7M258.4 85.9h0.7M259.8 96.1h0.7M257.9 80.0h0.7M256.7 96.6h0.7M261.1 83.5h0.7M259.6 85.3h0.7M259.8 68.4h0.7M256.9 81.3h0.7M255.4 80.2h0.7M262.3 79.8h0.7M260.5 67.2h0.7M258.7 83.9h0.7M256.3 72.1h0.7M259.5 84.0h0.7M257.5 83.8h0.7M261.5 85.2h0.7M260.0 83.4h0.7M256.2 80.2h0.7M258.4 83.4h0.7M258.3 73.2h0.7M262.2 98.4h0.7M261.8 90.0h0.7M261.4 80.1h0.7M258.2 85.5h0.7M257.9 79.1h0.7M256.6 81.8h0.7M256.4 83.1h0.7M259.0 78.7h0.7M261.1 71.4h0.7M262.6 77.8h0.7M257.5 91.9h0.7M261.1 82.1h0.7M259.6 86.0h0.7M252.1 89.6h0.7M260.3 78.9h0.7M259.3 81.8h0.7M257.4 79.3h0.7M261.9 83.3h0.7M258.9 74.6h0.7M260.1 92.3h0.7M257.6 83.2h0.7M259.3 90.6h0.7M256.4 86.3h0.7M257.7 85.0h0.7M262.9 79.3h0.7M259.0 79.9h0.7M253.0 86.8h0.7M253.2 93.9h0.7M254.2 82.3h0.7M258.3 77.3h0.7M256.7 90.5h0.7M257.8 85.0h0.7M263.9 95.5h0.7M262.4 80.7h0.7M250.8 90.5h0.7M260.6 77.8h0.7M260.2 79.3h0.7M257.0 78.2h0.7M260.8 75.2h0.7M255.9 79.0h0.7M258.6 84.3h0.7M260.2 82.5h0.7M256.1 82.5h0.7M256.9 83.5h0.7M260.1 86.5h0.7M262.0 74.7h0.7M258.2 87.8h0.7M255.4 87.8h0.7M258.0 85.4h0.7M259.8 84.6h0.7M259.7 76.8h0.7M258.9 92.8h0.7M257.5 87.4h0.7M257.6 81.3h0.7M262.6 81.3h0.7M258.7 87.8h0.7M260.8 73.7h0.7M262.2 88.6h0.7M257.4 83.2h0.7M256.1 80.7h0.7M258.8 83.1h0.7M258.1 79.2h0.7M259.6 91.9h0.7M259.7 76.1h0.7M262.0 74.8h0.7M258.5 75.7h0.7M258.2 93.6h0.7M251.3 78.7h0.7M254.9 89.8h0.7M263.8 84.3h0.7M262.2 65.7h0.7M259.6 86.2h0.7M260.6 79.4h0.7M257.9 79.0h0.7M259.5 79.4h0.7M259.8 80.7h0.7M257.2 86.0h0.7M258.9 75.7h0.7M265.0 83.4h0.7M257.8 83.1h0.7M258.4 70.9h0.7M253.4 94.7h0.7M259.3 85.1h0.7M258.6 80.3h0.7M254.6 86.7h0.7M255.0 73.8h0.7M260.0 83.8h0.7M258.0 97.0h0.7M260.4 96.0h0.7M257.8 83.5h0.7M262.0 88.7h0.7M258.9 75.0h0.7M255.4 84.8h0.7M255.3 88.3h0.7M261.8 88.2h0.7M254.6 91.9h0.7M259.4 68.8h0.7M257.6 75.4h0.7M259.0 81.1h0.7M257.9 82.9h0.7M256.1 73.7h0.7M256.0 74.6h0.7M257.9 88.0h0.7M260.3 83.2h0.7M259.7 89.2h0.7M259.5 90.3h0.7M258.9 81.8h0.7M261.8 79.4h0.7M256.9 72.8h0.7M258.8 82.9h0.7M260.8 88.1h0.7M259.3 73.5h0.7M253.1 85.9h0.7M259.5 83.9h0.7" stroke="#000" stroke-width="0.7" stroke-opacity="0.38" fill="none" filter="url(#bl)"/>
<path d="M234.1 50.1h0.5M231.7 105.5h0.5M216.9 100.2h0.5M233.7 99.3h0.5M230.8 106.2h0.5M220.0 74.4h0.5M215.9 55.7h0.5M222.8 57.5h0.5M226.3 69.8h0.5M239.6 100.6h0.5M212.2 94.1h0.5M229.5 86.1h0.5M234.9 66.4h0.5M223.3 98.5h0.5M228.0 43.9h0.5M232.8 85.8h0.5M221.4 94.1h0.5M216.3 99.1h0.5M242.8 53.4h0.5M238.4 68.0h0.5M213.2 106.6h0.5M231.3 91.9h0.5M229.6 97.2h0.5M220.3 85.6h0.5M212.6 94.3h0.5M233.8 65.8h0.5M226.0 87.2h0.5M219.9 97.4h0.5M241.3 66.3h0.5M236.0 99.2h0.5M216.5 63.6h0.5M235.5 96.7h0.5M240.6 95.7h0.5M224.4 43.3h0.5M241.7 56.9h0.5M223.6 105.7h0.5M242.6 84.5h0.5M236.5 100.1h0.5M217.0 97.3h0.5M234.5 87.5h0.5M231.8 98.4h0.5M230.5 61.5h0.5M239.4 75.2h0.5M219.1 43.7h0.5M241.2 90.3h0.5M231.2 94.8h0.5M238.0 63.2h0.5M219.3 52.4h0.5M223.8 47.6h0.5M227.2 66.3h0.5M237.8 78.2h0.5M224.4 61.6h0.5M234.8 58.7h0.5M233.4 102.9h0.5M239.6 57.9h0.5M229.6 49.0h0.5M222.4 95.5h0.5M240.2 60.7h0.5M228.0 59.6h0.5M243.8 74.4h0.5M238.2 80.5h0.5M225.6 104.4h0.5M222.2 58.8h0.5M222.8 90.6h0.5M241.3 50.1h0.5M229.5 47.9h0.5M226.4 74.5h0.5M237.8 51.6h0.5M231.0 92.0h0.5M227.9 49.3h0.5M223.6 52.9h0.5M239.3 83.9h0.5M236.4 95.0h0.5M226.8 57.5h0.5M224.3 52.8h0.5M237.2 70.8h0.5M235.6 106.4h0.5M236.7 70.1h0.5M226.8 52.0h0.5M223.5 71.3h0.5M212.9 56.0h0.5M238.5 72.7h0.5M223.6 94.6h0.5M236.2 73.8h0.5M243.8 91.2h0.5M227.4 89.3h0.5M218.9 74.1h0.5M221.8 57.6h0.5M212.5 54.9h0.5M226.2 95.6h0.5M238.9 75.2h0.5M222.4 72.4h0.5M217.8 46.2h0.5M230.0 64.3h0.5M236.7 68.2h0.5M228.9 105.8h0.5" stroke="#000" stroke-width="0.5" stroke-opacity="0.25" fill="none" filter="url(#bl)"/>
<rect x="244.5" y="45.4" width="25.5" height="55.4" fill="none" stroke="#444" stroke-width="0.7"/>
<text x="214.5" y="49.62" font-size="3.8" font-weight="bold" fill="#333">CD4+ T cells</text>
<text x="214.5" y="53.62" font-size="3.8" font-weight="bold" fill="#333">98.0%</text>
<text x="333.5" y="34.27" font-size="8" text-anchor="middle" font-weight="bold" fill="#111">Unstimulated CD4<tspan font-size="5" dy="-3">+</tspan><tspan dy="3"> T Cells</tspan></text>
<rect x="299.3" y="42.2" width="66.3" height="65.7" fill="none" stroke="#555" stroke-width="0.7"/>
<text x="296" y="50.52" font-size="4.4" text-anchor="end" fill="#666" stroke="#666" stroke-width="0.25">10&#8309;</text>
<line x1="297.2" y1="49.5" x2="298.6" y2="49.5" stroke="#666" stroke-width="0.4"/>
<text x="296" y="65.52" font-size="4.4" text-anchor="end" fill="#666" stroke="#666" stroke-width="0.25">10&#8308;</text>
<line x1="297.2" y1="64.5" x2="298.6" y2="64.5" stroke="#666" stroke-width="0.4"/>
<text x="296" y="80.52" font-size="4.4" text-anchor="end" fill="#666" stroke="#666" stroke-width="0.25">10&#179;</text>
<line x1="297.2" y1="79.5" x2="298.6" y2="79.5" stroke="#666" stroke-width="0.4"/>
<text x="296" y="96.02" font-size="4.4" text-anchor="end" fill="#666" stroke="#666" stroke-width="0.25">10&#178;</text>
<line x1="297.2" y1="94.5" x2="298.6" y2="94.5" stroke="#666" stroke-width="0.4"/>
<text x="296" y="103.52" font-size="4.4" text-anchor="end" fill="#666" stroke="#666" stroke-width="0.25">0</text>
<line x1="297.2" y1="102.5" x2="298.6" y2="102.5" stroke="#666" stroke-width="0.4"/>
<text x="304" y="116.02" font-size="4.4" text-anchor="middle" fill="#666" stroke="#666" stroke-width="0.25">0</text>
<text x="312.5" y="116.02" font-size="4.4" text-anchor="middle" fill="#666" stroke="#666" stroke-width="0.25">10&#178;</text>
<text x="330" y="116.02" font-size="4.4" text-anchor="middle" fill="#666" stroke="#666" stroke-width="0.25">10&#179;</text>
<text x="346" y="116.02" font-size="4.4" text-anchor="middle" fill="#666" stroke="#666" stroke-width="0.25">10&#8308;</text>
<text x="360.5" y="116.02" font-size="4.4" text-anchor="middle" fill="#666" stroke="#666" stroke-width="0.25">10&#8309;</text>
<line x1="304" y1="107.9" x2="304" y2="109.5" stroke="#666" stroke-width="0.5"/>
<line x1="312.5" y1="107.9" x2="312.5" y2="109.5" stroke="#666" stroke-width="0.5"/>
<line x1="330" y1="107.9" x2="330" y2="109.5" stroke="#666" stroke-width="0.5"/>
<line x1="346" y1="107.9" x2="346" y2="109.5" stroke="#666" stroke-width="0.5"/>
<line x1="360.5" y1="107.9" x2="360.5" y2="109.5" stroke="#666" stroke-width="0.5"/>
<line x1="306.55" y1="107.9" x2="306.55" y2="108.8" stroke="#888" stroke-width="0.35"/>
<line x1="308.08" y1="107.9" x2="308.08" y2="108.8" stroke="#888" stroke-width="0.35"/>
<line x1="309.1" y1="107.9" x2="309.1" y2="108.8" stroke="#888" stroke-width="0.35"/>
<line x1="309.95" y1="107.9" x2="309.95" y2="108.8" stroke="#888" stroke-width="0.35"/>
<line x1="310.63" y1="107.9" x2="310.63" y2="108.8" stroke="#888" stroke-width="0.35"/>
<line x1="311.23" y1="107.9" x2="311.23" y2="108.8" stroke="#888" stroke-width="0.35"/>
<line x1="311.65" y1="107.9" x2="311.65" y2="108.8" stroke="#888" stroke-width="0.35"/>
<line x1="312.07" y1="107.9" x2="312.07" y2="108.8" stroke="#888" stroke-width="0.35"/>
<line x1="317.75" y1="107.9" x2="317.75" y2="108.8" stroke="#888" stroke-width="0.35"/>
<line x1="320.9" y1="107.9" x2="320.9" y2="108.8" stroke="#888" stroke-width="0.35"/>
<line x1="323" y1="107.9" x2="323" y2="108.8" stroke="#888" stroke-width="0.35"/>
<line x1="324.75" y1="107.9" x2="324.75" y2="108.8" stroke="#888" stroke-width="0.35"/>
<line x1="326.15" y1="107.9" x2="326.15" y2="108.8" stroke="#888" stroke-width="0.35"/>
<line x1="327.38" y1="107.9" x2="327.38" y2="108.8" stroke="#888" stroke-width="0.35"/>
<line x1="328.25" y1="107.9" x2="328.25" y2="108.8" stroke="#888" stroke-width="0.35"/>
<line x1="329.12" y1="107.9" x2="329.12" y2="108.8" stroke="#888" stroke-width="0.35"/>
<line x1="334.8" y1="107.9" x2="334.8" y2="108.8" stroke="#888" stroke-width="0.35"/>
<line x1="337.68" y1="107.9" x2="337.68" y2="108.8" stroke="#888" stroke-width="0.35"/>
<line x1="339.6" y1="107.9" x2="339.6" y2="108.8" stroke="#888" stroke-width="0.35"/>
<line x1="341.2" y1="107.9" x2="341.2" y2="108.8" stroke="#888" stroke-width="0.35"/>
<line x1="342.48" y1="107.9" x2="342.48" y2="108.8" stroke="#888" stroke-width="0.35"/>
<line x1="343.6" y1="107.9" x2="343.6" y2="108.8" stroke="#888" stroke-width="0.35"/>
<line x1="344.4" y1="107.9" x2="344.4" y2="108.8" stroke="#888" stroke-width="0.35"/>
<line x1="345.2" y1="107.9" x2="345.2" y2="108.8" stroke="#888" stroke-width="0.35"/>
<line x1="350.35" y1="107.9" x2="350.35" y2="108.8" stroke="#888" stroke-width="0.35"/>
<line x1="352.96" y1="107.9" x2="352.96" y2="108.8" stroke="#888" stroke-width="0.35"/>
<line x1="354.7" y1="107.9" x2="354.7" y2="108.8" stroke="#888" stroke-width="0.35"/>
<line x1="356.15" y1="107.9" x2="356.15" y2="108.8" stroke="#888" stroke-width="0.35"/>
<line x1="357.31" y1="107.9" x2="357.31" y2="108.8" stroke="#888" stroke-width="0.35"/>
<line x1="358.32" y1="107.9" x2="358.32" y2="108.8" stroke="#888" stroke-width="0.35"/>
<line x1="359.05" y1="107.9" x2="359.05" y2="108.8" stroke="#888" stroke-width="0.35"/>
<line x1="359.77" y1="107.9" x2="359.77" y2="108.8" stroke="#888" stroke-width="0.35"/>
<rect x="304" y="50" width="45" height="37.5" fill="none" stroke="#444" stroke-width="0.7"/>
<path d="M353.3 66.6h0.8M351.5 67.2h0.8M353.9 67.8h0.8M352.6 67.5h0.8M351.9 65.9h0.8M353.0 69.2h0.8M354.8 68.6h0.8M352.9 68.8h0.8M352.1 62.9h0.8M351.5 68.3h0.8M353.7 69.1h0.8M352.9 69.3h0.8M352.2 64.1h0.8M351.6 66.2h0.8M352.4 66.9h0.8M352.4 71.1h0.8M351.3 67.1h0.8M352.3 66.3h0.8M351.8 64.5h0.8M352.8 66.0h0.8M352.4 67.6h0.8M350.2 66.8h0.8M352.8 65.4h0.8M350.7 66.0h0.8M353.7 66.9h0.8M353.4 65.9h0.8M352.6 67.5h0.8M353.3 69.6h0.8M352.0 69.0h0.8M352.5 65.3h0.8M353.7 65.9h0.8M352.1 68.4h0.8M352.1 67.6h0.8M352.5 66.9h0.8M353.4 65.5h0.8M353.1 68.2h0.8M352.9 69.0h0.8M353.3 65.7h0.8M352.7 67.9h0.8M354.0 70.9h0.8M353.0 67.9h0.8M352.8 64.1h0.8M353.5 65.1h0.8M350.8 67.4h0.8M353.2 67.1h0.8M353.8 69.8h0.8M354.1 70.2h0.8M351.9 68.3h0.8M353.3 65.8h0.8M352.3 67.2h0.8M352.9 68.0h0.8M351.1 68.3h0.8M353.3 70.5h0.8M352.7 67.7h0.8M353.2 68.9h0.8M354.2 66.8h0.8M352.0 67.1h0.8M353.6 67.1h0.8M352.2 66.1h0.8M352.8 66.8h0.8M350.1 66.3h0.8M350.0 68.4h0.8M352.8 63.5h0.8M352.8 66.6h0.8M353.9 66.4h0.8M353.1 63.8h0.8M351.4 63.6h0.8M352.4 68.4h0.8M353.6 70.3h0.8M353.8 70.8h0.8M351.9 68.1h0.8M354.4 69.3h0.8M353.2 68.5h0.8M349.2 68.9h0.8M352.7 67.2h0.8M352.9 69.5h0.8M352.5 64.4h0.8M352.4 67.8h0.8M353.9 65.7h0.8M349.7 64.1h0.8M351.7 69.6h0.8M352.9 69.6h0.8M354.0 69.2h0.8M354.1 67.2h0.8M352.1 67.1h0.8M353.1 66.8h0.8M351.7 68.3h0.8M356.0 68.7h0.8M351.3 66.6h0.8M353.6 68.6h0.8M351.5 68.1h0.8M352.2 68.2h0.8M353.7 65.7h0.8M351.4 71.7h0.8M351.7 66.6h0.8M352.6 65.0h0.8M354.7 67.7h0.8M351.0 67.2h0.8M352.6 67.4h0.8M352.6 61.9h0.8M352.7 64.0h0.8M353.0 67.4h0.8M354.7 67.5h0.8M355.2 69.9h0.8M353.6 65.4h0.8M353.7 69.8h0.8M354.5 65.6h0.8M355.1 66.1h0.8M352.6 67.7h0.8M352.5 69.5h0.8M353.5 67.6h0.8M353.6 66.4h0.8M352.9 68.4h0.8M353.4 67.3h0.8M352.4 67.7h0.8M353.6 63.9h0.8M353.0 65.8h0.8M353.2 67.2h0.8M353.3 66.5h0.8M352.0 68.6h0.8M352.0 63.7h0.8M352.8 69.0h0.8M350.9 67.2h0.8M350.7 66.3h0.8M352.8 68.4h0.8M352.7 66.2h0.8M353.9 70.1h0.8M352.0 67.9h0.8M352.5 67.4h0.8M351.4 66.9h0.8M352.6 65.2h0.8M352.2 66.6h0.8M353.7 64.7h0.8M352.6 66.6h0.8M352.9 66.9h0.8M353.0 64.5h0.8M350.4 69.6h0.8M351.2 65.8h0.8M353.2 67.0h0.8M352.7 69.3h0.8M353.1 69.1h0.8M352.1 68.8h0.8M354.1 70.4h0.8M351.3 68.8h0.8M353.8 65.5h0.8M350.0 65.8h0.8M350.5 71.5h0.8M353.2 67.8h0.8M352.2 67.7h0.8M352.8 69.2h0.8M352.7 69.0h0.8M355.0 66.2h0.8M352.4 68.8h0.8M351.8 65.5h0.8M353.5 66.7h0.8M354.9 69.5h0.8M351.8 63.9h0.8M351.3 68.1h0.8M352.6 66.9h0.8M351.9 66.9h0.8M352.5 65.2h0.8M352.3 70.7h0.8M352.5 68.4h0.8M352.5 66.7h0.8M351.7 64.2h0.8M351.9 68.5h0.8M352.3 70.0h0.8M353.7 69.0h0.8M353.4 68.1h0.8M353.5 65.6h0.8M349.9 68.7h0.8M351.9 67.5h0.8M349.2 68.3h0.8M351.1 69.3h0.8M353.1 66.5h0.8M354.0 68.5h0.8M352.3 66.0h0.8M352.9 65.9h0.8M354.7 66.0h0.8M350.8 65.8h0.8M353.7 67.0h0.8M351.1 66.8h0.8M350.9 68.3h0.8M353.0 66.3h0.8M352.8 68.5h0.8M353.4 69.3h0.8M351.5 66.7h0.8M351.5 69.1h0.8M353.7 67.8h0.8M352.2 64.8h0.8M353.6 67.0h0.8M353.5 66.3h0.8M350.3 67.2h0.8M352.5 65.2h0.8M353.4 65.4h0.8M353.7 67.0h0.8M350.5 68.5h0.8M354.1 69.5h0.8M354.1 67.5h0.8M352.1 67.8h0.8M351.9 66.8h0.8M352.3 68.4h0.8M353.1 63.9h0.8M352.6 66.6h0.8M351.9 66.8h0.8M353.0 68.2h0.8M351.3 69.6h0.8M351.4 67.0h0.8M353.5 63.5h0.8M350.8 68.9h0.8M354.0 67.2h0.8M351.8 66.9h0.8M352.8 63.8h0.8M352.3 66.7h0.8M354.8 66.3h0.8M352.6 68.7h0.8M352.2 69.5h0.8M350.7 65.6h0.8M351.1 65.8h0.8M350.7 69.3h0.8M351.9 67.6h0.8M351.8 68.1h0.8M353.2 65.9h0.8M354.4 63.6h0.8M352.1 68.2h0.8M354.9 68.6h0.8M352.4 67.0h0.8M352.7 68.0h0.8M352.6 66.6h0.8M352.8 68.9h0.8M353.1 69.6h0.8M353.3 68.4h0.8M352.1 67.5h0.8M351.5 66.4h0.8M353.0 67.3h0.8M355.5 66.4h0.8M353.5 68.8h0.8M353.9 67.7h0.8M350.2 69.6h0.8M352.6 64.1h0.8M355.9 68.9h0.8M353.5 66.1h0.8M352.9 69.3h0.8M352.8 67.2h0.8M351.8 66.8h0.8M353.1 68.5h0.8M354.7 69.0h0.8M351.2 64.5h0.8M352.2 66.3h0.8M353.2 66.5h0.8M352.4 67.4h0.8M354.3 66.4h0.8M352.5 68.0h0.8M352.0 67.7h0.8M352.8 68.0h0.8M351.0 70.3h0.8M351.9 71.0h0.8M352.9 68.3h0.8M349.9 68.0h0.8M351.1 67.0h0.8M350.0 69.1h0.8M355.1 68.0h0.8M352.9 68.5h0.8M352.1 69.6h0.8M353.6 67.7h0.8M352.2 67.6h0.8M352.0 68.7h0.8M351.2 67.2h0.8M355.1 67.3h0.8M350.8 67.4h0.8M353.0 68.6h0.8M353.7 70.5h0.8M352.4 68.5h0.8M351.8 70.0h0.8M353.9 68.2h0.8M352.8 68.8h0.8M353.0 64.3h0.8M351.3 67.3h0.8M352.5 69.5h0.8M353.4 67.3h0.8M354.2 65.2h0.8M352.0 68.2h0.8M353.0 66.5h0.8M352.2 67.1h0.8M352.3 66.3h0.8M350.5 67.0h0.8M352.4 69.8h0.8M352.7 67.3h0.8M351.8 69.0h0.8M351.2 70.3h0.8M349.5 67.8h0.8M353.2 68.8h0.8M352.4 68.8h0.8M352.4 67.1h0.8M353.1 65.2h0.8M352.9 69.4h0.8M352.5 69.1h0.8M351.8 70.4h0.8M351.2 65.2h0.8M352.2 69.1h0.8M354.1 66.7h0.8M352.4 69.2h0.8M351.6 68.3h0.8M351.2 66.8h0.8M351.1 64.6h0.8M353.3 66.4h0.8M351.3 68.3h0.8M352.0 65.8h0.8M352.8 69.4h0.8M353.8 63.2h0.8M354.3 68.3h0.8M353.0 66.8h0.8M351.5 68.8h0.8M352.3 67.0h0.8M353.9 68.0h0.8M353.3 66.8h0.8M352.7 67.1h0.8M351.4 67.1h0.8M352.0 65.0h0.8M353.3 65.9h0.8M352.4 68.5h0.8M350.3 69.1h0.8M355.3 68.1h0.8M352.7 68.6h0.8M352.5 69.1h0.8M351.7 67.2h0.8M351.1 68.8h0.8M352.5 67.0h0.8M350.9 68.8h0.8M353.1 66.7h0.8M353.4 66.9h0.8M353.1 68.9h0.8M354.4 64.4h0.8M351.2 65.0h0.8M350.9 65.4h0.8M350.8 68.0h0.8M351.8 67.8h0.8M352.7 64.8h0.8M352.7 66.8h0.8M351.7 67.5h0.8M351.6 68.0h0.8M353.4 64.9h0.8M351.7 64.1h0.8M351.1 67.3h0.8M350.9 68.9h0.8M350.9 72.3h0.8M352.5 67.6h0.8M352.1 66.0h0.8M354.2 69.7h0.8M352.4 66.7h0.8M351.6 65.6h0.8M352.8 64.4h0.8M351.3 66.8h0.8M352.5 66.9h0.8M352.0 68.0h0.8M353.1 67.5h0.8M352.7 65.1h0.8M355.3 66.4h0.8M353.4 67.4h0.8M353.2 65.2h0.8M352.8 65.3h0.8M351.1 65.6h0.8M351.1 66.4h0.8M353.0 68.0h0.8M353.7 69.5h0.8M354.8 66.7h0.8M352.7 66.1h0.8M354.4 68.8h0.8M354.0 66.3h0.8M353.1 66.0h0.8M352.5 69.0h0.8M352.5 67.7h0.8M352.3 65.1h0.8M351.9 65.0h0.8M353.1 67.2h0.8M353.0 63.1h0.8M351.3 72.2h0.8M352.4 67.1h0.8M352.1 70.2h0.8M351.6 66.2h0.8M353.9 67.6h0.8M353.4 69.4h0.8M353.2 65.6h0.8M353.6 67.3h0.8M352.0 66.7h0.8M353.5 67.3h0.8M354.4 65.8h0.8M352.2 70.2h0.8M353.4 64.9h0.8M353.0 64.7h0.8M352.8 66.7h0.8M352.5 66.5h0.8M350.1 67.9h0.8M354.4 67.4h0.8M353.6 66.9h0.8M352.7 68.1h0.8M353.8 65.9h0.8M354.0 65.1h0.8M353.1 66.9h0.8M352.0 66.2h0.8M353.0 63.5h0.8M351.1 64.2h0.8M352.3 66.7h0.8M355.7 67.3h0.8M352.7 66.5h0.8M354.3 68.1h0.8M353.6 69.3h0.8M355.2 68.2h0.8M353.0 69.3h0.8M351.1 66.8h0.8M355.3 64.7h0.8M353.3 67.7h0.8M353.1 68.1h0.8M354.1 66.6h0.8M351.3 64.9h0.8M353.8 64.5h0.8M351.1 71.0h0.8M352.5 67.0h0.8M353.5 68.9h0.8M351.6 66.6h0.8M350.9 66.3h0.8M351.6 67.6h0.8M354.0 68.3h0.8M351.1 68.4h0.8M353.9 68.8h0.8M354.6 65.2h0.8M353.3 69.0h0.8M352.4 67.5h0.8M353.3 67.5h0.8M354.4 67.5h0.8M350.8 68.0h0.8M354.0 62.2h0.8M350.9 68.5h0.8M353.4 66.4h0.8M353.1 70.3h0.8M351.2 69.0h0.8M351.9 66.1h0.8M350.2 66.9h0.8M352.5 67.3h0.8M353.5 69.8h0.8M352.1 69.7h0.8M352.0 66.1h0.8M351.9 65.9h0.8M352.4 67.5h0.8M355.1 69.4h0.8M354.0 66.8h0.8M352.6 68.4h0.8M354.0 66.1h0.8M350.6 69.1h0.8M352.3 66.1h0.8M351.0 69.3h0.8M355.5 67.3h0.8M352.3 68.9h0.8M354.1 69.4h0.8M352.5 66.8h0.8M351.4 69.4h0.8M351.2 68.2h0.8M354.0 68.3h0.8M351.4 67.9h0.8M354.4 66.4h0.8M355.2 66.7h0.8M353.1 66.1h0.8M353.7 65.9h0.8M353.3 68.6h0.8M352.3 65.5h0.8M351.0 67.3h0.8M352.3 69.9h0.8M348.5 70.7h0.8M353.5 67.0h0.8M353.9 67.7h0.8M350.4 68.0h0.8M353.9 67.0h0.8M352.0 66.8h0.8M351.1 66.2h0.8M349.8 67.7h0.8M354.7 64.9h0.8M352.9 67.7h0.8M352.5 69.6h0.8M352.0 68.0h0.8M351.1 68.6h0.8M353.9 67.4h0.8M353.9 68.1h0.8M354.2 66.4h0.8M353.8 70.5h0.8M349.9 70.7h0.8M355.3 65.1h0.8M352.2 66.5h0.8M354.1 66.1h0.8M354.2 66.7h0.8M353.1 70.1h0.8M352.4 63.9h0.8M351.3 68.5h0.8M352.2 65.5h0.8M353.7 70.8h0.8M351.6 67.9h0.8M352.6 69.4h0.8M355.6 68.5h0.8M353.6 63.9h0.8M352.8 66.6h0.8M353.1 69.3h0.8" stroke="#000" stroke-width="0.8" stroke-opacity="0.8" fill="none" filter="url(#bl)"/>
<path d="M354.8 76.9h0.6M357.2 76.8h0.6M353.8 74.7h0.6M354.8 73.8h0.6M357.2 75.8h0.6M353.1 71.2h0.6M355.0 76.2h0.6M354.0 73.9h0.6M354.5 72.1h0.6M352.8 72.0h0.6M355.3 72.7h0.6M353.2 74.1h0.6M354.6 75.2h0.6M354.5 72.9h0.6M355.0 76.2h0.6M353.4 74.3h0.6M352.7 73.5h0.6M352.6 72.3h0.6M353.5 75.1h0.6M354.6 71.0h0.6M355.7 77.0h0.6M352.5 78.0h0.6M353.8 74.1h0.6M354.4 75.7h0.6M354.2 76.4h0.6M352.7 74.7h0.6M352.3 72.8h0.6M353.3 73.7h0.6M355.0 73.7h0.6M355.3 73.5h0.6M356.1 74.1h0.6M356.9 72.5h0.6M357.5 75.4h0.6M353.0 75.9h0.6M354.4 74.1h0.6M353.5 73.6h0.6M355.2 73.9h0.6M353.5 74.9h0.6M352.5 74.2h0.6M354.7 74.4h0.6M354.2 71.2h0.6M352.7 72.5h0.6M354.1 74.4h0.6M354.0 78.1h0.6M353.4 74.5h0.6M354.4 75.4h0.6M354.7 74.9h0.6M353.4 73.4h0.6M353.8 74.6h0.6M352.6 74.5h0.6M353.7 74.0h0.6M355.1 74.4h0.6M354.1 75.1h0.6M352.4 73.5h0.6M354.7 74.3h0.6M353.2 76.3h0.6M354.8 72.8h0.6M354.7 74.9h0.6M353.2 74.6h0.6M355.0 74.8h0.6M354.4 75.6h0.6M355.0 74.5h0.6M352.6 75.1h0.6M355.0 74.5h0.6M352.8 75.2h0.6M355.2 74.1h0.6M354.6 75.3h0.6M356.7 74.2h0.6M355.4 73.0h0.6M353.0 74.7h0.6M354.3 72.5h0.6M354.4 72.4h0.6M355.8 74.2h0.6M356.0 71.3h0.6M355.6 75.7h0.6M354.7 74.3h0.6M352.9 74.2h0.6M353.9 76.0h0.6M354.3 74.4h0.6M354.6 72.7h0.6M354.0 74.6h0.6M352.9 76.5h0.6M353.7 71.8h0.6M353.0 77.1h0.6M353.9 76.9h0.6M352.7 73.0h0.6M354.0 76.7h0.6M354.3 74.3h0.6M352.6 74.6h0.6M354.2 74.6h0.6M354.1 77.3h0.6M355.0 74.6h0.6M354.5 74.0h0.6M354.0 74.8h0.6M354.1 72.5h0.6M354.4 72.7h0.6M354.9 76.9h0.6M354.8 74.7h0.6M352.5 76.2h0.6M354.2 72.1h0.6M355.4 74.9h0.6M355.3 73.5h0.6M351.6 76.7h0.6M352.7 72.8h0.6M355.3 74.7h0.6M353.3 74.3h0.6M353.3 76.3h0.6M352.3 77.9h0.6M352.6 76.1h0.6M353.8 73.5h0.6M354.3 75.6h0.6M353.9 73.7h0.6M354.7 74.8h0.6M355.0 74.4h0.6M354.8 73.1h0.6M353.6 74.5h0.6M354.1 72.9h0.6M355.8 75.1h0.6M352.9 73.4h0.6M355.6 74.1h0.6M355.4 71.3h0.6M354.4 73.7h0.6M355.8 73.7h0.6M352.9 65.6h0.6M357.0 69.1h0.6M352.8 71.1h0.6M352.0 68.5h0.6M349.9 71.0h0.6M349.8 72.4h0.6M350.5 70.9h0.6M352.6 73.0h0.6M351.6 71.6h0.6M348.5 68.0h0.6M350.1 73.7h0.6M347.4 60.5h0.6M352.6 72.4h0.6M348.3 67.7h0.6M354.4 70.2h0.6M350.3 75.5h0.6M349.6 75.4h0.6M352.0 69.7h0.6M344.8 68.5h0.6M351.9 62.2h0.6M352.0 69.1h0.6M351.0 67.1h0.6M350.9 63.5h0.6M346.6 67.5h0.6M348.2 68.3h0.6M352.4 63.9h0.6M352.6 70.0h0.6M349.1 71.5h0.6M349.9 65.6h0.6M353.5 68.5h0.6M352.6 69.7h0.6M347.3 73.8h0.6M350.5 71.8h0.6M347.2 70.4h0.6M349.0 70.8h0.6M348.7 72.3h0.6M348.3 75.6h0.6M350.3 70.6h0.6M348.5 72.3h0.6M351.9 70.1h0.6M350.3 62.7h0.6M354.6 72.6h0.6M351.0 70.4h0.6M349.5 69.5h0.6M353.5 66.4h0.6M343.5 64.3h0.6M355.6 72.1h0.6M349.9 68.5h0.6M353.7 73.6h0.6M348.6 74.5h0.6M351.4 66.1h0.6M348.7 72.8h0.6M349.2 68.5h0.6M354.3 73.3h0.6M352.2 73.2h0.6M355.5 71.7h0.6M349.5 70.8h0.6M353.7 69.3h0.6M352.4 66.3h0.6M350.3 73.0h0.6M354.2 60.8h0.6M349.6 69.0h0.6M348.9 75.3h0.6M353.4 69.3h0.6M350.4 73.1h0.6M349.5 69.8h0.6M354.8 70.5h0.6M350.2 65.4h0.6M349.4 72.7h0.6M352.5 77.1h0.6M353.9 65.1h0.6M348.5 72.1h0.6M353.7 66.5h0.6M350.3 68.2h0.6M347.5 70.2h0.6M349.8 73.3h0.6M358.9 70.7h0.6M346.4 73.5h0.6M352.4 67.5h0.6M348.1 71.8h0.6M349.3 76.7h0.6M352.8 73.0h0.6M351.5 69.7h0.6M352.8 75.9h0.6M354.3 71.6h0.6M353.9 70.6h0.6M351.1 70.3h0.6M346.8 71.9h0.6M350.1 68.9h0.6M349.7 70.0h0.6M348.5 71.5h0.6M350.0 70.5h0.6M352.6 71.9h0.6M353.0 71.2h0.6M349.5 73.4h0.6M350.5 75.5h0.6M355.8 68.9h0.6" stroke="#000" stroke-width="0.6" stroke-opacity="0.4" fill="none" filter="url(#bl)"/>
<path d="M331.0 57.4h0.5M344.3 72.4h0.5M349.6 66.7h0.5M321.6 73.1h0.5M323.7 78.3h0.5M322.4 71.1h0.5M335.7 69.4h0.5M331.9 79.1h0.5M348.1 76.2h0.5M332.1 60.4h0.5M329.9 77.1h0.5M336.6 59.9h0.5M329.7 70.2h0.5M327.9 71.8h0.5M333.8 68.7h0.5M320.2 72.2h0.5M321.5 59.6h0.5M327.3 73.7h0.5M334.3 66.9h0.5M341.9 68.6h0.5M327.3 55.1h0.5M339.3 69.1h0.5M324.9 70.1h0.5M333.0 61.0h0.5M325.7 75.4h0.5M340.7 70.1h0.5M334.4 74.7h0.5M324.0 69.1h0.5M345.8 62.2h0.5M321.2 76.7h0.5M347.6 63.1h0.5M342.9 75.4h0.5M348.0 77.4h0.5M333.8 70.4h0.5M337.8 59.7h0.5M325.0 66.8h0.5M327.1 78.3h0.5M324.8 73.0h0.5M346.0 71.3h0.5M321.4 61.0h0.5" stroke="#000" stroke-width="0.5" stroke-opacity="0.2" fill="none" filter="url(#bl)"/>
<text x="309" y="45.31" font-size="3.2" font-weight="bold" fill="#333">CFSE+CD4+ T cells</text>
<text x="309" y="48.91" font-size="3.2" font-weight="bold" fill="#333">3.51%</text>
<text x="430" y="34.27" font-size="8" text-anchor="middle" font-weight="bold" fill="#111">CD4<tspan font-size="5" dy="-3">+</tspan><tspan dy="3">CFSE </tspan><tspan font-size="5" dy="-3">+</tspan><tspan dy="3"> T Cells</tspan></text>
<rect x="394.2" y="42.8" width="66.3" height="66" fill="none" stroke="#555" stroke-width="0.7"/>
<text x="390.3" y="50.92" font-size="4.4" text-anchor="end" fill="#666" stroke="#666" stroke-width="0.25">10&#8309;</text>
<line x1="391.5" y1="49.5" x2="392.9" y2="49.5" stroke="#666" stroke-width="0.4"/>
<text x="390.3" y="65.92" font-size="4.4" text-anchor="end" fill="#666" stroke="#666" stroke-width="0.25">10&#8308;</text>
<line x1="391.5" y1="64.5" x2="392.9" y2="64.5" stroke="#666" stroke-width="0.4"/>
<text x="390.3" y="80.92" font-size="4.4" text-anchor="end" fill="#666" stroke="#666" stroke-width="0.25">10&#179;</text>
<line x1="391.5" y1="79.5" x2="392.9" y2="79.5" stroke="#666" stroke-width="0.4"/>
<text x="390.3" y="97.32" font-size="4.4" text-anchor="end" fill="#666" stroke="#666" stroke-width="0.25">10&#178;</text>
<line x1="391.5" y1="95.5" x2="392.9" y2="95.5" stroke="#666" stroke-width="0.4"/>
<text x="390.3" y="103.52" font-size="4.4" text-anchor="end" fill="#666" stroke="#666" stroke-width="0.25">0</text>
<line x1="391.5" y1="102.5" x2="392.9" y2="102.5" stroke="#666" stroke-width="0.4"/>
<text x="399" y="116.52" font-size="4.4" text-anchor="middle" fill="#666" stroke="#666" stroke-width="0.25">0</text>
<text x="408" y="116.52" font-size="4.4" text-anchor="middle" fill="#666" stroke="#666" stroke-width="0.25">10&#178;</text>
<text x="425" y="116.52" font-size="4.4" text-anchor="middle" fill="#666" stroke="#666" stroke-width="0.25">10&#179;</text>
<text x="440" y="116.52" font-size="4.4" text-anchor="middle" fill="#666" stroke="#666" stroke-width="0.25">10&#8308;</text>
<text x="455" y="116.52" font-size="4.4" text-anchor="middle" fill="#666" stroke="#666" stroke-width="0.25">10&#8309;</text>
<line x1="399" y1="108.8" x2="399" y2="110.4" stroke="#666" stroke-width="0.5"/>
<line x1="408" y1="108.8" x2="408" y2="110.4" stroke="#666" stroke-width="0.5"/>
<line x1="425" y1="108.8" x2="425" y2="110.4" stroke="#666" stroke-width="0.5"/>
<line x1="440" y1="108.8" x2="440" y2="110.4" stroke="#666" stroke-width="0.5"/>
<line x1="455" y1="108.8" x2="455" y2="110.4" stroke="#666" stroke-width="0.5"/>
<line x1="401.7" y1="108.8" x2="401.7" y2="109.7" stroke="#888" stroke-width="0.35"/>
<line x1="403.32" y1="108.8" x2="403.32" y2="109.7" stroke="#888" stroke-width="0.35"/>
<line x1="404.4" y1="108.8" x2="404.4" y2="109.7" stroke="#888" stroke-width="0.35"/>
<line x1="405.3" y1="108.8" x2="405.3" y2="109.7" stroke="#888" stroke-width="0.35"/>
<line x1="406.02" y1="108.8" x2="406.02" y2="109.7" stroke="#888" stroke-width="0.35"/>
<line x1="406.65" y1="108.8" x2="406.65" y2="109.7" stroke="#888" stroke-width="0.35"/>
<line x1="407.1" y1="108.8" x2="407.1" y2="109.7" stroke="#888" stroke-width="0.35"/>
<line x1="407.55" y1="108.8" x2="407.55" y2="109.7" stroke="#888" stroke-width="0.35"/>
<line x1="413.1" y1="108.8" x2="413.1" y2="109.7" stroke="#888" stroke-width="0.35"/>
<line x1="416.16" y1="108.8" x2="416.16" y2="109.7" stroke="#888" stroke-width="0.35"/>
<line x1="418.2" y1="108.8" x2="418.2" y2="109.7" stroke="#888" stroke-width="0.35"/>
<line x1="419.9" y1="108.8" x2="419.9" y2="109.7" stroke="#888" stroke-width="0.35"/>
<line x1="421.26" y1="108.8" x2="421.26" y2="109.7" stroke="#888" stroke-width="0.35"/>
<line x1="422.45" y1="108.8" x2="422.45" y2="109.7" stroke="#888" stroke-width="0.35"/>
<line x1="423.3" y1="108.8" x2="423.3" y2="109.7" stroke="#888" stroke-width="0.35"/>
<line x1="424.15" y1="108.8" x2="424.15" y2="109.7" stroke="#888" stroke-width="0.35"/>
<line x1="429.5" y1="108.8" x2="429.5" y2="109.7" stroke="#888" stroke-width="0.35"/>
<line x1="432.2" y1="108.8" x2="432.2" y2="109.7" stroke="#888" stroke-width="0.35"/>
<line x1="434" y1="108.8" x2="434" y2="109.7" stroke="#888" stroke-width="0.35"/>
<line x1="435.5" y1="108.8" x2="435.5" y2="109.7" stroke="#888" stroke-width="0.35"/>
<line x1="436.7" y1="108.8" x2="436.7" y2="109.7" stroke="#888" stroke-width="0.35"/>
<line x1="437.75" y1="108.8" x2="437.75" y2="109.7" stroke="#888" stroke-width="0.35"/>
<line x1="438.5" y1="108.8" x2="438.5" y2="109.7" stroke="#888" stroke-width="0.35"/>
<line x1="439.25" y1="108.8" x2="439.25" y2="109.7" stroke="#888" stroke-width="0.35"/>
<line x1="444.5" y1="108.8" x2="444.5" y2="109.7" stroke="#888" stroke-width="0.35"/>
<line x1="447.2" y1="108.8" x2="447.2" y2="109.7" stroke="#888" stroke-width="0.35"/>
<line x1="449" y1="108.8" x2="449" y2="109.7" stroke="#888" stroke-width="0.35"/>
<line x1="450.5" y1="108.8" x2="450.5" y2="109.7" stroke="#888" stroke-width="0.35"/>
<line x1="451.7" y1="108.8" x2="451.7" y2="109.7" stroke="#888" stroke-width="0.35"/>
<line x1="452.75" y1="108.8" x2="452.75" y2="109.7" stroke="#888" stroke-width="0.35"/>
<line x1="453.5" y1="108.8" x2="453.5" y2="109.7" stroke="#888" stroke-width="0.35"/>
<line x1="454.25" y1="108.8" x2="454.25" y2="109.7" stroke="#888" stroke-width="0.35"/>
<path d="M424.5 69.7h0.7M424.0 75.2h0.7M425.3 67.8h0.7M424.2 71.3h0.7M423.2 66.0h0.7M424.2 68.6h0.7M423.3 62.9h0.7M421.9 65.2h0.7M425.5 66.4h0.7M423.6 68.4h0.7M425.7 69.0h0.7M423.8 64.8h0.7M422.3 70.3h0.7M423.0 67.3h0.7M423.5 62.4h0.7M424.8 73.2h0.7M424.1 66.4h0.7M424.9 61.8h0.7M424.7 66.0h0.7M425.0 70.3h0.7M422.7 67.9h0.7M424.4 59.9h0.7M422.9 66.3h0.7M424.5 72.9h0.7M422.6 68.6h0.7M423.9 65.5h0.7M422.2 70.2h0.7M424.0 65.5h0.7M424.0 66.0h0.7M423.7 65.9h0.7M423.8 66.7h0.7M423.5 65.0h0.7M423.1 66.1h0.7M423.7 65.3h0.7M424.6 62.5h0.7M424.2 63.8h0.7M426.0 68.2h0.7M423.8 70.5h0.7M424.8 63.8h0.7M424.1 62.8h0.7M423.1 67.5h0.7M422.4 71.0h0.7M424.6 63.6h0.7M425.0 70.9h0.7M424.0 69.2h0.7M424.5 62.2h0.7M422.8 70.6h0.7M424.4 63.5h0.7M424.7 65.6h0.7M423.7 66.8h0.7M423.3 65.2h0.7M422.8 63.9h0.7M424.3 69.6h0.7M424.3 70.0h0.7M424.2 61.9h0.7M424.0 60.7h0.7M423.5 60.8h0.7M423.7 65.5h0.7M422.7 63.6h0.7M422.8 67.9h0.7M423.4 64.5h0.7M423.2 71.6h0.7M422.5 63.2h0.7M424.5 71.4h0.7M424.2 63.1h0.7M424.1 67.7h0.7M424.2 70.0h0.7M424.4 65.4h0.7M425.3 68.9h0.7M422.0 62.7h0.7M422.6 65.3h0.7M422.8 60.8h0.7M423.6 68.3h0.7M424.7 65.3h0.7M425.5 66.7h0.7M424.5 69.1h0.7M423.8 57.6h0.7M424.4 65.1h0.7M424.5 69.8h0.7M421.8 65.0h0.7M424.8 65.3h0.7M425.1 60.3h0.7M424.5 68.7h0.7M422.9 67.0h0.7M422.1 66.5h0.7M424.2 62.7h0.7M424.4 65.4h0.7M422.6 67.5h0.7M423.8 65.4h0.7M422.5 59.7h0.7M423.8 69.0h0.7M425.5 67.6h0.7M424.7 66.0h0.7M423.8 62.5h0.7M423.4 68.0h0.7M424.0 62.4h0.7M422.0 64.9h0.7M424.0 66.8h0.7M423.5 63.0h0.7M423.5 62.5h0.7M422.4 64.1h0.7M424.5 70.3h0.7M424.0 66.4h0.7M422.4 61.7h0.7M424.6 68.6h0.7M425.4 70.0h0.7M425.9 68.4h0.7M423.1 67.6h0.7M424.3 67.2h0.7M423.1 71.8h0.7M423.8 61.8h0.7M423.3 67.5h0.7M421.7 66.2h0.7M424.8 65.4h0.7M424.0 63.5h0.7M423.5 66.3h0.7M424.7 65.7h0.7M423.9 66.3h0.7M425.2 67.3h0.7M423.1 70.5h0.7M422.9 68.0h0.7M425.0 69.5h0.7M423.4 68.5h0.7M423.5 68.3h0.7M425.2 71.2h0.7M424.5 64.5h0.7M424.2 62.4h0.7M423.2 66.6h0.7M425.2 70.6h0.7M424.4 69.6h0.7M427.0 60.8h0.7M425.7 66.7h0.7M425.0 61.6h0.7M425.1 62.7h0.7M421.6 68.3h0.7M423.7 66.7h0.7M422.7 62.5h0.7M423.8 72.6h0.7M423.0 66.0h0.7M424.8 70.8h0.7M423.8 67.0h0.7M423.1 63.9h0.7M425.3 67.0h0.7M425.2 62.8h0.7M424.3 70.4h0.7M425.7 66.6h0.7M422.8 62.1h0.7M422.9 66.7h0.7M425.0 61.7h0.7M423.0 64.7h0.7M424.5 64.0h0.7M424.5 68.1h0.7M424.2 69.0h0.7M424.0 66.7h0.7M423.9 67.0h0.7M424.5 70.9h0.7M422.9 69.3h0.7M423.6 69.5h0.7M425.3 65.8h0.7M422.6 66.2h0.7M424.1 68.4h0.7M424.9 66.5h0.7M424.8 61.9h0.7M425.4 67.4h0.7M423.4 66.9h0.7M423.4 64.7h0.7M422.9 61.9h0.7M424.7 66.8h0.7M425.9 69.6h0.7M422.6 63.3h0.7M423.6 68.2h0.7M424.1 65.7h0.7M424.3 68.5h0.7M424.4 66.5h0.7M423.9 61.9h0.7M422.8 66.8h0.7M422.7 67.2h0.7M424.5 65.8h0.7M423.6 69.4h0.7M423.3 67.2h0.7M425.0 64.3h0.7M424.0 66.4h0.7M422.4 65.6h0.7M424.5 64.0h0.7M422.7 61.6h0.7M423.4 61.2h0.7M423.8 69.9h0.7M424.8 69.7h0.7M424.5 73.8h0.7M422.5 68.2h0.7M423.2 69.0h0.7M423.6 61.4h0.7M424.5 68.8h0.7M421.7 67.0h0.7M424.5 71.7h0.7M422.5 67.8h0.7M423.5 67.4h0.7M422.8 63.9h0.7M423.1 62.8h0.7M422.0 72.1h0.7M421.9 65.1h0.7M424.1 63.0h0.7M423.2 66.2h0.7M424.6 68.5h0.7M423.4 68.2h0.7M423.5 69.9h0.7M423.8 65.8h0.7M423.5 67.0h0.7M425.1 69.7h0.7M424.2 69.4h0.7M422.9 67.3h0.7M421.5 62.3h0.7M424.5 64.8h0.7M423.4 62.8h0.7M425.8 67.4h0.7M424.1 63.1h0.7M424.9 60.9h0.7M423.7 62.2h0.7M422.6 67.6h0.7M422.3 64.5h0.7M425.3 65.8h0.7M423.9 65.1h0.7M424.3 63.3h0.7M423.7 68.0h0.7M421.0 64.8h0.7M424.9 63.7h0.7M423.8 65.6h0.7M423.3 66.8h0.7M423.1 66.0h0.7M425.1 67.5h0.7M429.9 67.6h0.7M426.7 72.5h0.7M428.8 62.1h0.7M429.6 70.9h0.7M428.9 68.4h0.7M427.7 66.0h0.7M426.7 65.3h0.7M430.2 65.1h0.7M428.2 67.2h0.7M427.4 63.8h0.7M429.7 72.4h0.7M429.0 62.4h0.7M428.1 64.3h0.7M430.4 69.3h0.7M428.1 65.7h0.7M427.1 64.1h0.7M427.7 65.8h0.7M427.8 62.1h0.7M428.2 66.1h0.7M429.2 62.3h0.7M426.5 66.7h0.7M427.4 69.4h0.7M429.0 66.0h0.7M429.5 68.4h0.7M429.5 68.6h0.7M429.5 69.1h0.7M427.7 68.8h0.7M428.8 68.5h0.7M428.3 62.1h0.7M429.6 62.7h0.7M427.8 64.2h0.7M430.2 67.5h0.7M429.8 67.1h0.7M427.4 67.2h0.7M429.8 62.3h0.7M430.9 58.9h0.7M429.0 68.7h0.7M427.0 67.9h0.7M427.2 67.9h0.7M428.9 60.7h0.7M427.6 61.2h0.7M429.4 67.7h0.7M427.7 63.0h0.7M428.8 63.1h0.7M429.5 64.7h0.7M427.9 63.4h0.7M427.6 63.3h0.7M428.6 62.7h0.7M428.5 63.9h0.7M429.6 67.0h0.7M428.0 66.1h0.7M429.6 65.8h0.7M428.3 69.3h0.7M430.8 68.3h0.7M429.2 67.2h0.7M428.9 70.3h0.7M428.6 67.0h0.7M426.2 71.4h0.7M429.8 68.9h0.7M426.9 70.4h0.7M428.3 66.0h0.7M430.1 67.2h0.7M429.5 64.0h0.7M428.4 66.5h0.7M429.2 64.8h0.7M430.5 65.3h0.7M428.0 64.2h0.7M427.9 66.0h0.7M430.0 65.6h0.7M428.1 72.4h0.7M430.5 65.9h0.7M427.0 68.8h0.7M430.5 64.7h0.7M429.3 67.0h0.7M429.3 68.1h0.7M428.9 69.5h0.7M427.6 61.2h0.7M427.2 71.7h0.7M427.7 69.6h0.7M429.9 71.6h0.7M428.0 62.5h0.7M428.8 69.6h0.7M430.4 65.0h0.7M428.8 67.0h0.7M428.3 65.7h0.7M426.6 63.8h0.7M427.9 62.7h0.7M429.4 66.1h0.7M428.9 67.3h0.7M429.7 62.4h0.7M429.5 67.3h0.7M428.6 62.6h0.7M427.2 63.6h0.7M429.8 66.7h0.7M428.9 68.5h0.7M427.9 68.4h0.7M428.7 68.0h0.7M429.9 69.5h0.7M427.6 64.6h0.7M427.4 60.9h0.7M427.1 66.6h0.7M429.9 64.4h0.7M427.7 67.6h0.7M427.4 72.2h0.7M429.0 65.5h0.7M428.2 63.7h0.7M427.3 64.9h0.7M430.7 64.1h0.7M430.1 69.2h0.7M428.5 68.4h0.7M427.2 66.8h0.7M429.9 67.6h0.7M429.0 64.4h0.7M427.6 66.5h0.7M432.0 67.8h0.7M427.4 63.7h0.7M429.4 68.3h0.7M427.0 57.7h0.7M430.4 65.3h0.7M429.3 66.5h0.7M430.1 65.2h0.7M430.3 65.3h0.7M427.4 64.3h0.7M427.3 69.8h0.7M430.3 70.3h0.7M427.8 67.8h0.7M429.9 69.6h0.7M429.7 66.0h0.7M428.8 66.2h0.7M430.4 66.1h0.7M429.4 65.0h0.7M429.5 60.1h0.7M430.0 70.4h0.7M429.7 69.4h0.7M429.5 65.9h0.7M428.5 65.8h0.7M429.3 65.0h0.7M427.7 67.4h0.7M428.9 69.2h0.7M427.7 69.9h0.7M430.4 69.4h0.7M428.0 64.5h0.7M428.2 64.4h0.7M428.0 67.5h0.7M429.3 66.5h0.7M428.8 71.9h0.7M429.5 67.1h0.7M428.0 67.9h0.7M429.1 65.1h0.7M429.4 61.2h0.7M429.5 68.0h0.7M428.2 66.3h0.7M429.0 69.9h0.7M428.9 63.5h0.7M429.5 64.6h0.7M428.0 64.5h0.7M428.2 65.4h0.7M429.3 70.2h0.7M427.2 70.4h0.7M429.0 63.9h0.7M429.4 66.8h0.7M429.8 62.2h0.7M429.0 63.8h0.7M430.3 65.4h0.7M428.5 67.1h0.7M428.6 64.2h0.7M431.1 63.2h0.7M429.1 59.7h0.7M428.7 69.9h0.7M428.1 66.4h0.7M429.3 65.1h0.7M429.8 66.2h0.7M428.7 68.3h0.7M428.7 68.9h0.7M427.5 69.5h0.7M430.0 68.4h0.7M428.2 71.5h0.7M429.0 67.2h0.7M428.6 71.2h0.7M427.5 67.1h0.7M428.0 64.8h0.7M430.6 68.5h0.7M428.9 66.2h0.7M428.4 68.1h0.7M427.6 66.3h0.7M429.2 67.3h0.7M428.1 61.2h0.7M428.3 66.2h0.7M428.5 62.7h0.7M429.1 65.9h0.7M428.8 67.4h0.7M429.0 66.8h0.7M428.9 69.5h0.7M427.5 68.3h0.7M428.9 66.0h0.7M428.8 65.1h0.7M428.4 66.4h0.7M428.0 62.6h0.7M428.3 68.4h0.7M428.2 69.0h0.7M430.1 67.6h0.7M428.7 66.0h0.7M429.9 62.1h0.7M428.3 64.4h0.7M428.8 65.2h0.7M429.3 65.6h0.7M428.7 65.7h0.7M429.3 66.6h0.7M431.1 68.6h0.7M427.9 67.3h0.7M427.3 60.7h0.7M428.9 65.9h0.7M427.8 71.0h0.7M429.5 70.4h0.7M430.2 69.1h0.7M429.7 66.7h0.7M429.5 66.8h0.7M428.6 70.9h0.7M428.5 66.0h0.7M429.7 65.9h0.7M429.2 65.0h0.7M428.7 64.6h0.7M429.1 67.4h0.7M431.7 68.3h0.7M429.0 74.1h0.7M429.7 69.3h0.7M429.6 67.0h0.7M428.4 65.1h0.7M428.0 62.8h0.7M429.1 66.5h0.7M433.3 64.0h0.7M433.1 68.1h0.7M433.9 67.4h0.7M433.6 67.8h0.7M431.4 71.6h0.7M433.5 64.6h0.7M433.2 64.0h0.7M433.8 63.6h0.7M433.2 67.7h0.7M432.9 69.4h0.7M432.8 71.2h0.7M432.5 64.3h0.7M434.1 66.3h0.7M432.2 66.0h0.7M433.1 71.0h0.7M433.1 62.4h0.7M432.6 68.6h0.7M431.9 67.4h0.7M431.9 62.1h0.7M433.4 70.5h0.7M432.0 64.9h0.7M433.8 69.1h0.7M433.4 69.1h0.7M433.4 63.6h0.7M433.7 68.8h0.7M434.2 65.5h0.7M432.3 71.1h0.7M433.1 71.1h0.7M432.8 67.3h0.7M433.8 60.5h0.7M431.9 65.9h0.7M432.6 67.4h0.7M433.1 71.2h0.7M432.8 67.8h0.7M434.2 62.6h0.7M434.4 71.2h0.7M433.7 59.2h0.7M434.2 64.9h0.7M433.0 62.0h0.7M432.6 69.4h0.7M432.8 61.9h0.7M431.9 68.9h0.7M434.3 63.6h0.7M434.6 63.1h0.7M433.7 67.8h0.7M434.7 63.6h0.7M431.6 70.4h0.7M433.6 67.3h0.7M432.7 66.5h0.7M431.9 67.3h0.7M435.5 63.3h0.7M433.3 62.6h0.7M433.4 68.5h0.7M434.1 65.3h0.7M432.2 65.2h0.7M432.0 68.1h0.7M435.0 67.0h0.7M432.3 68.4h0.7M433.0 69.3h0.7M432.4 63.1h0.7M433.3 61.3h0.7M433.4 65.1h0.7M434.9 69.5h0.7M432.8 63.2h0.7M435.0 69.9h0.7M432.6 66.0h0.7M433.1 66.4h0.7M435.1 67.0h0.7M432.3 66.7h0.7M432.7 66.5h0.7M433.3 66.0h0.7M434.3 68.2h0.7M432.3 67.7h0.7M431.8 64.7h0.7M432.8 65.7h0.7M433.2 62.4h0.7M435.4 71.6h0.7M434.3 65.8h0.7M433.9 70.9h0.7M433.5 63.1h0.7M433.9 70.0h0.7M434.2 62.1h0.7M434.7 66.0h0.7M432.1 69.1h0.7M432.7 68.7h0.7M433.9 65.3h0.7M433.7 67.2h0.7M435.1 63.8h0.7M431.5 62.9h0.7M434.3 66.4h0.7M432.2 64.7h0.7M431.7 58.3h0.7M434.4 68.8h0.7M433.0 63.5h0.7M433.0 69.3h0.7M432.5 64.0h0.7M432.8 63.6h0.7M433.8 64.9h0.7M432.7 69.7h0.7M435.7 67.7h0.7M434.0 67.9h0.7M433.3 65.5h0.7M432.0 68.9h0.7M432.6 65.2h0.7M431.8 63.7h0.7M433.9 67.2h0.7M433.2 68.5h0.7M431.8 66.8h0.7M434.0 62.5h0.7M433.7 70.4h0.7M432.9 65.9h0.7M434.5 67.3h0.7M433.5 64.0h0.7M433.0 59.0h0.7M434.1 63.7h0.7M433.4 67.3h0.7M433.3 69.8h0.7M433.4 66.5h0.7M433.0 70.3h0.7M432.1 63.9h0.7M433.3 65.3h0.7M432.5 72.0h0.7M434.5 71.6h0.7M434.1 69.2h0.7M434.7 62.4h0.7M434.2 64.9h0.7M433.1 66.0h0.7M435.3 64.9h0.7M432.7 64.9h0.7M434.8 71.9h0.7M433.4 64.0h0.7M435.1 62.1h0.7M433.0 68.3h0.7M433.5 67.0h0.7M433.1 67.2h0.7M434.4 67.4h0.7M433.7 66.1h0.7M434.5 60.5h0.7M435.1 70.0h0.7M433.0 67.0h0.7M433.4 64.9h0.7M433.2 65.0h0.7M432.6 66.3h0.7M434.3 69.6h0.7M432.6 65.0h0.7M433.4 65.8h0.7M434.7 70.9h0.7M433.3 66.0h0.7M434.5 65.6h0.7M433.4 65.0h0.7M433.7 67.0h0.7M431.4 65.0h0.7M433.1 67.7h0.7M431.8 66.6h0.7M433.5 62.3h0.7M434.4 65.6h0.7M432.1 66.0h0.7M433.0 69.1h0.7M432.7 64.9h0.7M433.4 65.1h0.7M434.3 64.5h0.7M432.9 65.3h0.7M433.8 66.1h0.7M432.6 65.1h0.7M433.3 67.9h0.7M432.1 71.0h0.7M434.0 67.2h0.7M433.9 65.2h0.7M434.6 67.4h0.7M432.0 67.9h0.7M432.5 68.1h0.7M433.3 68.9h0.7M433.7 68.4h0.7M433.4 62.8h0.7M433.2 67.3h0.7M433.9 68.3h0.7M431.5 66.6h0.7M434.3 64.9h0.7M431.8 65.0h0.7M433.1 69.7h0.7M434.2 64.6h0.7M432.4 64.1h0.7M434.6 65.8h0.7M433.5 66.1h0.7M435.7 71.7h0.7M433.0 63.7h0.7M431.0 68.3h0.7M433.9 65.2h0.7M432.5 68.8h0.7M434.8 62.5h0.7M433.9 70.0h0.7M433.8 67.1h0.7M431.9 69.0h0.7M432.7 68.3h0.7M433.2 72.1h0.7M431.8 66.8h0.7M435.0 69.1h0.7M432.8 64.3h0.7M433.4 66.0h0.7M433.8 63.1h0.7M434.3 65.4h0.7M433.4 67.0h0.7M433.0 63.2h0.7M434.0 60.7h0.7M434.7 66.3h0.7M433.7 63.5h0.7M432.1 63.7h0.7M435.1 65.8h0.7M433.7 67.1h0.7M434.0 68.7h0.7M433.9 69.2h0.7M434.0 67.9h0.7M433.5 64.5h0.7M433.5 69.8h0.7M433.8 69.6h0.7M433.0 69.7h0.7M431.3 67.3h0.7M432.4 65.8h0.7M432.2 63.8h0.7M434.1 66.7h0.7M434.9 67.4h0.7M433.1 70.1h0.7M434.0 68.1h0.7M433.6 61.8h0.7M434.1 65.2h0.7M435.2 67.3h0.7M433.4 64.3h0.7M435.6 64.8h0.7M433.8 65.4h0.7M432.5 63.2h0.7M438.0 66.0h0.7M438.6 65.2h0.7M436.4 61.0h0.7M437.2 68.8h0.7M439.2 65.7h0.7M437.2 66.7h0.7M438.8 68.8h0.7M438.0 65.7h0.7M437.5 70.0h0.7M439.2 63.7h0.7M437.5 68.4h0.7M436.4 62.4h0.7M439.1 69.7h0.7M437.9 64.9h0.7M437.4 64.2h0.7M436.2 64.4h0.7M437.4 72.0h0.7M438.1 66.8h0.7M438.9 68.0h0.7M436.6 64.8h0.7M438.6 66.5h0.7M436.3 73.0h0.7M436.4 64.5h0.7M441.1 67.7h0.7M436.6 67.0h0.7M438.3 67.3h0.7M438.2 70.4h0.7M437.7 61.6h0.7M437.9 72.7h0.7M438.0 70.8h0.7M437.8 65.9h0.7M438.4 62.8h0.7M440.0 64.5h0.7M438.2 62.4h0.7M437.3 70.9h0.7M437.1 65.6h0.7M436.4 64.0h0.7M438.6 62.8h0.7M436.6 68.0h0.7M437.5 63.7h0.7M438.7 69.5h0.7M437.7 66.1h0.7M438.2 66.6h0.7M437.4 69.0h0.7M438.1 71.0h0.7M436.4 70.6h0.7M438.7 67.5h0.7M437.5 66.6h0.7M438.2 70.4h0.7M439.1 67.8h0.7M437.4 65.7h0.7M437.9 66.8h0.7M437.7 69.5h0.7M436.8 68.6h0.7M436.7 61.9h0.7M437.7 68.6h0.7M438.1 62.8h0.7M438.6 64.8h0.7M438.0 65.9h0.7M437.8 68.0h0.7M437.8 60.0h0.7M438.3 68.4h0.7M438.2 66.2h0.7M439.3 68.4h0.7M437.3 70.5h0.7M436.6 72.0h0.7M437.5 67.0h0.7M437.1 65.7h0.7M437.4 73.3h0.7M438.8 65.0h0.7M438.5 63.0h0.7M437.5 67.4h0.7M438.5 68.9h0.7M438.0 71.1h0.7M438.0 67.8h0.7M438.3 62.0h0.7M437.7 68.0h0.7M438.0 67.4h0.7M436.5 61.2h0.7M438.5 68.4h0.7M438.1 66.4h0.7M438.5 62.7h0.7M436.2 70.1h0.7M437.4 62.5h0.7M437.5 66.7h0.7M437.7 67.8h0.7M438.2 67.4h0.7M437.6 69.0h0.7M436.2 64.9h0.7M438.7 64.7h0.7M437.9 68.0h0.7M436.8 68.4h0.7M434.9 67.6h0.7M438.6 66.3h0.7M438.6 68.1h0.7M438.6 66.6h0.7M438.6 62.9h0.7M437.1 66.2h0.7M438.3 60.9h0.7M438.5 66.3h0.7M436.6 68.3h0.7M439.1 67.3h0.7M437.5 64.6h0.7M437.0 63.9h0.7M436.5 66.5h0.7M439.3 66.3h0.7M438.4 69.7h0.7M437.7 67.3h0.7M439.1 70.6h0.7M436.8 69.4h0.7M437.7 69.5h0.7M436.9 66.0h0.7M438.7 65.7h0.7M437.7 62.4h0.7M436.4 61.9h0.7M438.0 68.6h0.7M438.2 61.6h0.7M438.4 66.0h0.7M438.2 73.6h0.7M437.2 63.6h0.7M439.0 64.4h0.7M438.7 67.4h0.7M437.5 70.8h0.7M438.5 63.5h0.7M438.0 64.8h0.7M437.4 70.9h0.7M438.4 70.0h0.7M439.8 62.8h0.7M436.6 59.3h0.7M437.0 67.5h0.7M437.6 66.6h0.7M438.4 69.1h0.7M438.7 64.4h0.7M439.1 69.8h0.7M438.1 67.2h0.7M437.6 63.8h0.7M436.9 65.3h0.7M439.3 68.3h0.7M438.4 66.8h0.7M438.3 66.8h0.7M436.7 66.7h0.7M438.1 65.9h0.7M437.1 63.8h0.7M437.1 67.4h0.7M438.3 67.7h0.7M436.7 66.5h0.7M437.6 65.6h0.7M439.1 70.3h0.7M437.1 65.9h0.7M436.9 66.0h0.7M438.3 65.6h0.7M437.8 67.8h0.7M437.8 66.8h0.7M439.5 67.1h0.7M437.0 67.0h0.7M439.0 64.1h0.7M435.8 64.7h0.7M438.3 67.9h0.7M437.7 64.3h0.7M437.8 68.9h0.7M437.3 63.3h0.7M436.9 68.9h0.7M438.7 68.6h0.7M439.4 65.2h0.7M439.1 68.8h0.7M438.4 70.4h0.7M436.8 68.2h0.7M438.6 64.4h0.7M438.2 69.6h0.7M438.3 66.5h0.7M437.6 72.0h0.7M438.6 61.4h0.7M438.4 68.8h0.7M437.6 69.2h0.7M439.3 61.8h0.7M438.6 64.2h0.7M438.3 63.0h0.7M438.8 66.1h0.7M436.5 72.3h0.7M438.9 64.4h0.7M438.7 62.5h0.7M437.2 70.7h0.7M435.8 61.0h0.7M437.8 69.3h0.7M437.6 69.1h0.7M438.8 70.8h0.7M436.5 64.1h0.7M438.0 65.7h0.7M437.4 67.1h0.7M438.9 66.3h0.7M438.8 68.9h0.7M437.3 69.4h0.7M437.7 67.4h0.7M438.0 65.3h0.7M437.4 66.9h0.7M436.9 67.2h0.7M436.6 66.4h0.7M438.0 68.7h0.7M439.0 66.6h0.7M438.0 64.0h0.7M439.3 62.1h0.7M439.1 67.9h0.7M437.3 71.7h0.7M436.7 61.0h0.7M438.6 70.9h0.7M437.6 69.5h0.7M436.0 64.4h0.7M439.3 64.4h0.7M437.9 65.9h0.7M440.2 62.1h0.7M437.7 63.0h0.7M438.6 64.2h0.7M438.4 64.4h0.7M437.3 63.5h0.7M438.3 70.2h0.7M437.5 66.0h0.7M436.5 67.5h0.7M440.6 63.4h0.7M438.4 67.9h0.7M436.4 67.8h0.7M438.1 67.0h0.7M436.5 64.3h0.7M437.3 70.4h0.7M437.1 68.0h0.7M437.9 65.8h0.7M438.4 70.1h0.7M437.0 61.2h0.7M438.3 61.0h0.7M437.8 66.3h0.7M438.4 66.8h0.7M442.1 64.6h0.7M442.7 61.2h0.7M443.1 63.3h0.7M440.7 65.8h0.7M441.8 69.1h0.7M441.8 73.7h0.7M441.2 65.7h0.7M441.9 63.2h0.7M440.7 67.3h0.7M443.6 66.9h0.7M443.3 73.1h0.7M440.9 65.5h0.7M441.7 62.1h0.7M441.6 63.5h0.7M442.8 62.9h0.7M441.9 72.7h0.7M443.5 62.4h0.7M441.7 65.8h0.7M444.1 65.6h0.7M441.6 70.7h0.7M443.8 68.1h0.7M442.8 69.4h0.7M441.9 64.9h0.7M441.3 65.4h0.7M443.3 67.5h0.7M441.9 66.1h0.7M442.6 67.8h0.7M441.0 68.3h0.7M442.2 62.7h0.7M441.3 62.0h0.7M443.8 68.4h0.7M442.2 69.7h0.7M440.5 66.0h0.7M441.9 65.4h0.7M441.9 67.3h0.7M441.7 68.5h0.7M442.8 67.4h0.7M442.6 64.6h0.7M441.2 61.1h0.7M442.4 70.0h0.7M442.9 68.3h0.7M442.1 68.6h0.7M441.4 69.3h0.7M442.4 70.0h0.7M444.2 66.7h0.7M441.0 65.9h0.7M441.8 67.6h0.7M442.5 63.5h0.7M441.9 67.5h0.7M442.1 65.8h0.7M443.3 62.9h0.7M441.3 63.7h0.7M440.7 63.4h0.7M441.5 64.6h0.7M441.6 63.2h0.7M442.8 68.4h0.7M439.7 71.4h0.7M440.9 65.9h0.7M443.0 68.1h0.7M442.4 63.7h0.7M440.9 69.9h0.7M440.4 65.6h0.7M442.1 67.1h0.7M443.0 62.8h0.7M442.5 64.2h0.7M442.6 65.9h0.7M442.2 68.7h0.7M440.6 65.3h0.7M441.0 67.7h0.7M442.5 68.5h0.7M441.4 67.8h0.7M441.9 70.4h0.7M442.1 62.8h0.7M441.7 69.0h0.7M441.7 65.1h0.7M443.2 63.7h0.7M441.7 66.9h0.7M441.4 62.9h0.7M441.8 69.2h0.7M440.6 65.0h0.7M442.4 71.3h0.7M441.9 65.9h0.7M442.1 63.6h0.7M442.9 70.7h0.7M442.6 70.6h0.7M440.7 67.8h0.7M441.4 64.4h0.7M442.8 67.4h0.7M441.9 65.2h0.7M441.0 71.6h0.7M441.3 68.0h0.7M442.5 67.5h0.7M442.3 63.1h0.7M442.7 72.2h0.7M440.6 65.4h0.7M439.8 67.3h0.7M442.7 62.7h0.7M442.0 64.1h0.7M443.2 62.0h0.7M443.6 64.6h0.7M439.7 67.5h0.7M442.4 65.8h0.7M442.8 63.8h0.7M442.2 67.4h0.7M441.7 62.0h0.7M442.5 65.3h0.7M442.0 65.2h0.7M441.5 66.6h0.7M443.6 68.6h0.7M441.7 63.9h0.7M442.4 70.3h0.7M439.8 66.6h0.7M442.8 65.6h0.7M440.8 61.5h0.7M441.5 63.3h0.7M440.2 67.1h0.7M442.8 61.8h0.7M443.8 62.3h0.7M441.3 62.8h0.7M440.9 66.6h0.7M441.6 63.2h0.7M442.0 63.3h0.7M441.1 66.9h0.7M440.6 63.3h0.7M440.5 70.2h0.7M442.5 70.9h0.7M443.3 66.6h0.7M441.5 67.5h0.7M442.3 64.1h0.7M442.9 69.5h0.7M441.5 63.7h0.7M442.2 62.2h0.7M442.5 65.7h0.7M442.6 62.9h0.7M441.9 64.0h0.7M441.8 65.9h0.7M443.4 66.8h0.7M441.2 66.5h0.7M442.4 66.6h0.7M440.5 66.4h0.7M443.5 70.4h0.7M441.1 70.4h0.7M442.2 66.8h0.7M441.3 60.1h0.7M441.7 66.6h0.7M442.9 66.8h0.7M440.4 64.5h0.7M441.0 61.3h0.7M443.0 64.1h0.7M443.4 61.3h0.7M442.2 68.6h0.7M440.3 66.0h0.7M440.6 71.0h0.7M441.5 65.4h0.7M440.9 64.8h0.7M442.5 67.4h0.7M442.0 72.4h0.7M440.9 66.1h0.7M440.6 62.0h0.7M441.6 64.3h0.7M443.0 71.1h0.7M444.6 71.3h0.7M441.4 66.3h0.7M441.3 63.7h0.7M442.6 69.0h0.7M441.4 69.6h0.7M441.7 72.3h0.7M444.3 61.2h0.7M441.4 66.2h0.7M443.7 66.3h0.7M441.3 61.8h0.7M441.8 65.7h0.7M441.7 66.8h0.7M441.3 70.7h0.7M442.1 63.7h0.7M440.8 64.2h0.7M441.5 67.9h0.7M443.2 70.9h0.7M440.7 68.7h0.7M441.6 60.3h0.7M441.7 64.4h0.7M442.1 72.4h0.7M443.1 60.9h0.7M440.7 69.3h0.7M442.2 64.5h0.7M444.1 66.7h0.7M442.2 66.5h0.7M443.7 67.9h0.7M441.6 65.6h0.7M441.4 66.7h0.7M444.3 66.4h0.7M442.6 63.4h0.7M443.1 67.2h0.7M442.6 66.0h0.7M441.6 64.0h0.7M440.8 71.3h0.7M441.4 65.1h0.7M441.3 62.5h0.7M442.2 72.7h0.7M441.5 62.2h0.7M441.5 66.8h0.7M442.0 63.3h0.7M440.5 65.3h0.7M440.1 65.8h0.7M442.2 67.4h0.7M441.1 63.6h0.7M440.2 73.0h0.7M442.0 63.7h0.7M440.4 67.3h0.7M441.9 69.4h0.7M442.8 66.3h0.7M441.8 65.1h0.7M443.6 57.2h0.7M442.8 66.8h0.7M441.2 65.6h0.7M442.0 64.1h0.7M442.6 63.8h0.7M443.1 64.5h0.7M441.3 64.6h0.7M442.7 69.0h0.7M443.6 65.8h0.7M442.6 68.5h0.7M442.3 76.7h0.7M441.8 63.5h0.7M443.5 67.0h0.7M440.9 68.1h0.7M439.9 67.0h0.7M440.8 66.0h0.7M442.3 65.1h0.7M440.1 65.2h0.7" stroke="#000" stroke-width="0.7" stroke-opacity="0.62" fill="none" filter="url(#bl)"/>
<path d="M436.1 75.7h0.6M425.8 68.8h0.6M429.9 63.6h0.6M441.1 69.9h0.6M441.2 62.0h0.6M440.8 74.5h0.6M434.8 68.9h0.6M426.8 68.7h0.6M423.1 66.2h0.6M443.1 67.2h0.6M436.2 72.2h0.6M438.6 68.9h0.6M434.6 64.6h0.6M424.2 65.0h0.6M428.4 61.1h0.6M433.2 66.8h0.6M430.8 71.9h0.6M436.0 62.0h0.6M437.5 69.0h0.6M427.7 63.6h0.6M436.3 69.7h0.6M426.9 64.0h0.6M430.6 71.6h0.6M436.2 71.5h0.6M440.8 65.6h0.6M427.0 75.1h0.6M446.5 62.1h0.6M430.2 73.5h0.6M445.2 73.0h0.6M427.3 69.8h0.6M425.7 64.2h0.6M436.4 66.2h0.6M445.5 64.7h0.6M437.1 64.0h0.6M439.7 69.5h0.6M435.8 67.8h0.6M440.9 66.1h0.6M445.8 68.8h0.6M431.8 67.7h0.6M432.2 64.3h0.6M431.7 73.0h0.6M439.6 75.6h0.6M420.4 63.7h0.6M428.8 70.4h0.6M437.5 67.7h0.6M436.6 67.0h0.6M434.1 68.7h0.6M432.6 64.5h0.6M431.4 65.7h0.6M420.7 66.5h0.6M438.1 67.5h0.6M417.6 62.2h0.6M425.4 70.1h0.6M421.0 77.7h0.6M439.7 73.4h0.6M429.3 68.3h0.6M439.1 70.3h0.6M422.9 72.3h0.6M449.0 67.6h0.6M432.2 66.2h0.6M436.3 69.2h0.6M436.0 70.3h0.6M432.1 64.7h0.6M430.5 61.8h0.6M428.2 70.2h0.6M435.4 61.3h0.6M443.0 66.6h0.6M426.8 74.2h0.6M428.7 60.1h0.6M433.4 63.4h0.6M448.6 63.4h0.6M428.5 69.8h0.6M434.3 62.2h0.6M439.1 68.0h0.6M442.4 62.8h0.6M429.4 69.4h0.6M437.2 65.8h0.6M431.8 68.1h0.6M428.0 69.7h0.6M425.3 65.3h0.6M435.7 63.4h0.6M436.0 64.9h0.6M432.9 63.6h0.6M434.7 70.0h0.6M432.7 63.9h0.6M438.6 65.4h0.6M426.4 65.6h0.6M436.6 70.3h0.6M426.1 66.9h0.6M428.7 68.9h0.6M431.5 68.9h0.6M440.6 61.2h0.6M425.2 67.6h0.6M440.7 66.9h0.6M429.2 64.9h0.6M434.4 61.1h0.6M434.2 61.4h0.6M435.4 74.2h0.6M432.9 69.8h0.6M439.8 66.1h0.6M428.2 64.7h0.6M427.1 66.0h0.6M433.9 59.8h0.6M432.0 68.1h0.6M434.7 66.8h0.6M435.3 69.6h0.6M422.7 68.3h0.6M440.2 67.0h0.6M430.2 75.6h0.6M433.6 60.1h0.6M423.8 64.3h0.6M419.4 69.7h0.6M429.4 66.9h0.6M438.6 66.2h0.6M423.3 60.0h0.6M424.4 57.6h0.6M441.4 67.0h0.6M439.7 67.5h0.6M422.6 77.6h0.6M434.4 67.5h0.6M439.8 71.4h0.6M453.3 67.2h0.6M437.1 67.2h0.6M427.8 65.5h0.6M425.5 73.7h0.6M437.7 70.2h0.6M432.1 72.8h0.6M430.8 64.2h0.6M434.2 71.4h0.6M439.9 61.6h0.6M437.4 73.4h0.6M432.5 65.0h0.6M439.0 71.4h0.6M428.4 65.3h0.6M437.5 63.8h0.6M435.9 70.9h0.6M432.3 71.8h0.6M436.4 63.5h0.6M436.9 72.2h0.6M434.6 67.6h0.6M430.0 69.0h0.6M436.6 72.7h0.6M429.8 69.5h0.6M437.8 65.9h0.6M433.7 55.8h0.6M436.6 59.7h0.6M426.9 63.0h0.6M431.8 68.2h0.6M425.5 59.0h0.6M429.6 69.9h0.6M433.2 64.0h0.6M431.4 67.1h0.6M433.3 64.6h0.6M437.9 73.9h0.6M429.3 68.1h0.6M427.0 68.2h0.6M436.6 66.8h0.6M437.9 68.6h0.6M416.5 68.4h0.6M430.9 60.1h0.6M432.8 60.0h0.6M432.9 68.6h0.6M433.0 65.8h0.6M432.8 68.8h0.6M442.4 65.9h0.6M432.1 67.2h0.6M431.4 65.8h0.6M430.5 66.1h0.6M435.4 64.2h0.6M434.2 64.0h0.6M428.7 64.3h0.6M442.6 69.8h0.6M438.2 65.6h0.6M438.7 67.5h0.6M426.5 63.3h0.6M440.5 72.6h0.6M441.7 63.6h0.6M428.9 68.2h0.6M438.2 57.6h0.6M437.3 66.0h0.6M435.4 59.4h0.6M424.9 65.8h0.6M438.4 65.9h0.6M424.5 74.6h0.6M427.8 62.0h0.6M438.8 68.2h0.6M435.6 63.1h0.6M424.4 72.7h0.6M435.5 68.8h0.6M432.5 64.9h0.6M432.8 71.3h0.6M433.8 62.5h0.6M424.3 67.9h0.6M442.5 69.3h0.6M432.6 67.7h0.6M431.9 69.8h0.6M439.2 63.8h0.6M430.5 61.2h0.6M433.1 75.1h0.6M422.9 73.2h0.6M434.6 67.4h0.6M430.8 64.9h0.6M440.4 66.3h0.6M439.8 70.7h0.6M430.1 70.5h0.6M431.7 65.0h0.6M429.6 62.8h0.6M442.8 73.0h0.6M444.5 65.0h0.6M436.8 65.3h0.6M434.7 68.5h0.6M424.1 69.5h0.6M434.9 67.5h0.6M428.3 66.7h0.6M430.2 65.2h0.6M428.9 65.1h0.6M430.7 66.2h0.6M431.0 69.3h0.6M422.1 68.5h0.6M434.1 67.4h0.6M438.1 70.4h0.6M432.7 66.9h0.6M429.3 63.9h0.6M425.5 63.7h0.6M432.2 63.0h0.6M434.6 69.7h0.6M432.6 67.3h0.6M433.7 66.8h0.6M434.0 63.0h0.6M434.7 64.0h0.6M424.1 67.0h0.6M441.1 62.5h0.6M430.8 70.2h0.6M441.2 68.6h0.6M425.9 66.7h0.6M429.2 68.6h0.6M433.9 63.7h0.6M424.8 62.9h0.6M434.8 70.7h0.6M429.4 61.2h0.6M432.3 68.2h0.6M432.1 64.6h0.6M435.0 62.0h0.6M435.1 67.7h0.6M433.3 71.8h0.6M435.7 68.6h0.6M443.3 68.8h0.6M436.9 68.6h0.6M430.9 68.1h0.6M431.6 68.9h0.6M439.6 69.7h0.6M427.1 65.7h0.6M433.1 67.8h0.6M428.9 66.0h0.6M431.4 58.6h0.6M429.3 62.5h0.6M431.5 61.2h0.6M435.2 74.4h0.6M433.7 71.9h0.6M431.6 65.3h0.6M439.9 65.1h0.6M433.2 70.7h0.6M443.8 67.3h0.6M428.4 64.9h0.6M425.6 67.2h0.6M434.3 67.0h0.6M436.4 69.0h0.6M430.7 60.0h0.6M447.1 65.0h0.6M426.3 67.9h0.6M432.3 70.6h0.6M436.2 60.0h0.6M427.1 60.1h0.6M431.2 69.1h0.6M425.3 68.1h0.6M435.7 67.7h0.6M435.1 60.2h0.6M424.6 61.8h0.6M431.3 69.7h0.6M427.2 70.9h0.6M437.1 69.9h0.6M426.6 73.1h0.6M427.2 64.2h0.6M428.2 66.8h0.6M423.7 68.8h0.6M441.1 71.3h0.6M426.3 66.8h0.6M437.3 70.1h0.6M427.3 64.7h0.6M437.4 69.8h0.6M440.0 58.8h0.6M428.7 67.8h0.6M439.1 67.4h0.6M433.8 68.6h0.6M420.8 64.6h0.6M427.7 67.3h0.6M436.9 66.7h0.6M439.3 71.5h0.6M442.9 63.8h0.6M431.5 70.6h0.6M438.0 68.2h0.6M428.1 69.3h0.6M428.6 66.9h0.6M434.1 70.1h0.6M431.9 65.4h0.6M422.1 68.7h0.6M431.4 64.5h0.6M430.0 63.4h0.6M431.7 69.6h0.6M417.1 59.6h0.6M432.6 64.1h0.6M437.5 65.4h0.6M437.9 67.3h0.6M429.9 71.4h0.6M425.0 64.7h0.6M445.2 61.5h0.6M434.7 71.8h0.6M433.9 63.9h0.6M441.0 67.7h0.6M424.2 67.3h0.6M428.8 63.7h0.6M434.8 74.4h0.6M433.8 61.6h0.6M439.7 75.8h0.6M434.9 60.6h0.6M436.0 66.2h0.6M428.4 63.2h0.6M438.4 68.1h0.6M433.4 68.2h0.6M434.7 66.1h0.6M432.6 60.7h0.6M430.6 66.0h0.6M429.7 67.4h0.6M437.1 70.6h0.6M431.7 66.7h0.6M426.1 65.8h0.6M416.1 60.8h0.6M431.3 67.6h0.6M435.7 63.6h0.6M424.5 68.6h0.6M435.6 60.6h0.6M426.2 60.5h0.6M427.7 67.3h0.6M426.2 63.1h0.6M436.6 67.6h0.6M435.1 65.4h0.6M436.7 69.1h0.6M440.0 61.2h0.6M439.1 66.5h0.6M432.4 61.7h0.6M430.1 66.4h0.6M448.9 63.0h0.6M426.1 68.7h0.6M426.3 62.3h0.6M442.8 65.1h0.6M429.0 68.5h0.6M437.3 66.7h0.6M440.3 69.8h0.6M439.2 66.3h0.6M425.8 72.7h0.6M432.6 60.1h0.6M440.0 70.1h0.6M429.5 65.0h0.6M439.6 64.3h0.6M443.5 70.8h0.6M436.1 74.4h0.6M430.7 61.2h0.6M434.6 65.9h0.6M417.5 65.0h0.6M432.0 64.9h0.6M436.2 74.0h0.6M426.2 66.8h0.6M428.8 66.9h0.6M431.4 64.6h0.6M424.0 71.4h0.6M430.5 62.9h0.6M442.0 72.0h0.6M440.9 69.4h0.6M427.9 66.3h0.6M445.3 68.6h0.6M429.7 71.8h0.6M439.9 68.4h0.6M436.2 70.0h0.6M430.8 71.4h0.6M430.7 69.3h0.6M428.2 58.7h0.6M435.0 64.2h0.6M425.9 63.7h0.6M433.2 64.7h0.6M427.8 67.2h0.6M432.0 61.4h0.6M441.1 74.0h0.6M435.3 58.5h0.6M442.3 71.3h0.6M441.0 69.1h0.6M432.6 63.3h0.6M434.8 65.8h0.6M431.7 55.5h0.6M437.7 65.8h0.6M426.2 67.0h0.6M439.5 75.3h0.6M441.4 55.6h0.6M431.2 62.9h0.6M442.8 68.2h0.6M426.3 70.0h0.6M432.6 69.9h0.6M437.7 61.1h0.6M427.6 65.6h0.6M438.4 69.0h0.6M434.4 61.4h0.6M444.2 67.2h0.6M426.5 67.6h0.6M429.9 63.7h0.6M434.9 66.5h0.6M424.4 63.6h0.6M428.4 74.6h0.6M426.6 64.7h0.6M423.1 60.3h0.6M451.5 69.1h0.6M423.0 61.6h0.6M430.9 62.5h0.6M424.0 60.4h0.6M425.6 75.3h0.6M439.0 64.9h0.6M430.6 66.7h0.6M437.5 76.7h0.6M418.1 68.5h0.6M425.9 68.1h0.6M437.9 70.2h0.6M433.8 70.1h0.6M447.6 67.4h0.6M429.8 72.2h0.6M426.6 61.6h0.6M435.7 66.2h0.6M423.1 61.3h0.6M435.5 64.4h0.6M435.4 63.0h0.6M436.5 65.5h0.6M433.5 70.2h0.6M435.4 65.8h0.6M424.0 65.2h0.6M431.1 69.7h0.6M428.0 77.0h0.6M436.6 64.5h0.6M428.3 61.6h0.6M435.9 69.5h0.6M436.9 60.5h0.6M441.8 67.0h0.6M427.4 68.2h0.6M435.2 65.7h0.6M413.9 65.3h0.6M407.2 59.5h0.6M413.2 71.8h0.6M411.0 66.2h0.6M424.5 73.2h0.6M421.1 75.2h0.6M414.0 60.8h0.6M412.0 70.8h0.6M419.8 67.9h0.6M429.3 58.4h0.6M414.1 64.2h0.6M405.0 69.5h0.6M415.9 71.2h0.6M427.9 65.5h0.6M422.6 70.5h0.6M410.8 74.2h0.6M421.8 75.4h0.6M419.9 69.9h0.6M423.0 69.1h0.6M412.9 73.0h0.6M403.8 64.7h0.6M414.2 71.3h0.6M421.2 73.6h0.6M418.8 74.4h0.6M415.2 69.2h0.6M429.9 73.3h0.6M418.9 67.1h0.6M412.1 62.3h0.6M421.3 62.4h0.6M416.1 73.4h0.6M415.3 68.1h0.6M425.4 70.1h0.6M423.1 76.7h0.6M417.4 72.9h0.6M421.6 63.7h0.6M413.1 69.2h0.6M418.4 73.1h0.6M406.6 77.7h0.6M417.5 65.6h0.6M422.4 68.0h0.6M425.3 71.1h0.6M422.6 62.3h0.6M420.4 73.0h0.6M411.6 68.3h0.6M415.3 68.3h0.6M417.3 70.8h0.6M417.2 74.1h0.6M422.6 64.9h0.6M407.1 80.0h0.6M424.0 64.9h0.6M429.7 66.8h0.6M427.6 69.6h0.6M429.4 63.0h0.6M425.8 62.5h0.6M418.1 74.7h0.6M429.7 64.8h0.6M412.5 71.9h0.6M416.6 71.8h0.6M422.6 66.5h0.6M425.4 71.4h0.6M420.8 64.8h0.6M429.9 70.2h0.6M419.9 66.1h0.6M423.5 74.1h0.6M402.3 72.9h0.6M429.4 69.3h0.6M412.5 67.1h0.6M405.1 78.0h0.6M409.6 72.6h0.6M413.9 67.8h0.6M428.8 70.7h0.6M404.8 72.3h0.6M409.1 62.9h0.6M423.0 66.4h0.6M430.8 72.8h0.6M406.9 63.2h0.6M433.7 75.6h0.6M419.9 75.3h0.6M422.9 59.4h0.6M425.0 68.0h0.6M413.8 74.4h0.6M413.3 73.7h0.6M413.3 75.8h0.6M428.0 73.4h0.6M416.8 70.4h0.6M424.7 73.0h0.6M415.6 75.6h0.6M417.3 67.2h0.6M417.0 73.0h0.6M427.4 68.7h0.6M413.2 66.3h0.6M416.6 69.9h0.6M433.8 68.5h0.6M411.1 78.8h0.6M410.6 63.8h0.6M408.8 73.8h0.6M419.3 66.9h0.6M416.8 71.1h0.6M423.3 63.3h0.6M417.6 72.8h0.6M415.8 75.6h0.6M413.4 75.8h0.6M410.8 75.9h0.6M407.4 79.7h0.6M416.2 70.7h0.6M421.2 70.4h0.6M410.4 74.7h0.6M416.0 70.3h0.6M405.8 75.9h0.6M415.6 73.5h0.6M402.0 80.4h0.6M411.9 76.8h0.6M404.7 81.0h0.6M409.0 74.6h0.6M404.4 77.1h0.6M401.1 83.2h0.6M421.0 73.8h0.6M414.4 73.4h0.6M418.2 72.7h0.6M410.7 79.6h0.6M417.2 73.8h0.6M406.8 76.3h0.6M410.1 73.5h0.6M416.6 74.7h0.6M416.1 74.1h0.6M409.3 76.4h0.6M420.2 70.6h0.6M407.6 78.9h0.6M406.6 78.5h0.6M409.1 72.9h0.6M411.3 75.6h0.6M410.3 77.4h0.6M421.9 69.9h0.6M418.1 73.6h0.6M416.6 73.1h0.6M407.8 78.4h0.6M411.0 76.7h0.6M417.4 72.1h0.6M407.2 77.1h0.6M417.2 74.0h0.6M410.1 75.9h0.6M422.4 71.7h0.6M409.6 76.8h0.6M411.1 76.2h0.6M407.3 77.0h0.6M419.4 73.0h0.6M417.5 71.7h0.6M418.8 68.8h0.6M408.3 77.7h0.6M406.5 78.7h0.6M409.6 77.3h0.6M414.1 74.0h0.6M423.6 68.9h0.6M400.9 81.0h0.6M416.6 72.6h0.6M403.4 79.6h0.6M405.0 79.7h0.6M403.2 76.6h0.6M413.7 72.7h0.6M412.4 76.9h0.6M411.7 73.0h0.6M419.3 71.6h0.6M405.4 77.8h0.6M413.7 73.6h0.6M412.2 77.1h0.6M410.8 75.6h0.6M413.8 72.1h0.6M415.1 74.9h0.6M411.9 75.4h0.6M415.3 74.3h0.6M417.6 73.1h0.6M401.2 81.0h0.6M415.9 74.4h0.6M402.9 77.0h0.6M416.8 73.1h0.6M412.8 73.0h0.6M418.0 74.1h0.6M414.5 72.1h0.6M420.8 71.1h0.6M404.7 78.0h0.6M409.1 77.4h0.6M419.8 73.3h0.6M401.4 79.8h0.6M408.7 77.9h0.6M408.7 77.7h0.6M414.1 74.2h0.6M420.6 70.4h0.6M416.8 71.1h0.6M406.1 78.2h0.6M419.3 68.6h0.6M409.0 78.7h0.6M411.6 76.0h0.6M421.9 70.0h0.6M416.9 73.3h0.6M409.1 79.8h0.6M409.2 78.3h0.6M412.3 75.4h0.6M416.9 72.9h0.6M403.1 78.4h0.6M419.7 70.7h0.6M412.5 77.2h0.6M418.7 72.5h0.6M423.3 69.8h0.6M420.3 68.5h0.6M401.8 79.5h0.6M402.1 77.4h0.6M404.3 80.8h0.6M423.7 72.2h0.6M416.8 67.7h0.6M422.3 70.9h0.6M409.6 78.5h0.6M423.2 73.1h0.6M402.9 78.1h0.6M413.5 71.9h0.6M420.3 69.5h0.6M405.2 79.5h0.6M411.7 75.9h0.6M403.6 78.5h0.6M405.9 79.4h0.6M411.4 73.4h0.6" stroke="#000" stroke-width="0.6" stroke-opacity="0.25" fill="none" filter="url(#bl)"/>
<rect x="399" y="51" width="44" height="36.5" fill="none" stroke="#444" stroke-width="0.7"/>
<text x="402.5" y="46.31" font-size="3.2" font-weight="bold" fill="#333">CFSE+CD4+ T cells</text>
<text x="402.5" y="50.11" font-size="3.2" font-weight="bold" fill="#333">96.2%</text>
<text x="7" y="141.71" font-size="11" font-weight="bold" fill="#111">B</text>
<text x="79.5" y="159.37" font-size="8.85" text-anchor="middle" font-weight="bold" fill="#111">CD4<tspan font-size="5.5" dy="-3.4">+</tspan><tspan dy="3.4"> T Cells</tspan></text>
<rect x="41" y="167.5" width="76.4" height="76.5" fill="none" stroke="#333" stroke-width="0.8"/>
<line x1="41" y1="195.5" x2="98.7" y2="195.5" stroke="#333" stroke-width="0.8"/>
<line x1="98.7" y1="191.5" x2="117.4" y2="191.5" stroke="#333" stroke-width="0.8"/>
<line x1="98.5" y1="190.1" x2="98.5" y2="196.1" stroke="#333" stroke-width="0.6"/>
<path d="M41.50 243.40C44.58 243.37 55.92 243.30 60.00 243.20C64.08 243.10 64.50 243.08 66.00 242.80C67.50 242.52 68.08 242.30 69.00 241.50C69.92 240.70 70.70 239.98 71.50 238.00C72.30 236.02 73.12 233.30 73.80 229.60C74.48 225.90 75.05 216.85 75.60 215.80C76.15 214.75 76.60 225.43 77.10 223.30C77.60 221.17 78.12 209.83 78.60 203.00C79.08 196.17 79.57 182.97 80.00 182.30C80.43 181.63 80.78 192.95 81.20 199.00C81.62 205.05 82.10 218.43 82.50 218.60C82.90 218.77 83.22 207.20 83.60 200.00C83.98 192.80 84.37 175.57 84.80 175.40C85.23 175.23 85.72 192.07 86.20 199.00C86.68 205.93 87.23 217.83 87.70 217.00C88.17 216.17 88.58 201.42 89.00 194.00C89.42 186.58 89.75 172.50 90.20 172.50C90.65 172.50 91.20 186.58 91.70 194.00C92.20 201.42 92.75 216.67 93.20 217.00C93.65 217.33 94.02 202.93 94.40 196.00C94.78 189.07 95.10 175.40 95.50 175.40C95.90 175.40 96.38 188.23 96.80 196.00C97.22 203.77 97.60 216.20 98.00 222.00C98.40 227.80 98.73 229.47 99.20 230.80C99.67 232.13 100.28 229.13 100.80 230.00C101.32 230.87 101.77 234.17 102.30 236.00C102.83 237.83 103.38 239.83 104.00 241.00C104.62 242.17 105.00 242.60 106.00 243.00C107.00 243.40 108.17 243.33 110.00 243.40C111.83 243.47 115.83 243.40 117.00 243.40" fill="none" stroke="#333" stroke-width="1.25"/>
<path d="M94.00 243.50C94.75 243.33 97.42 243.58 98.50 242.50C99.58 241.42 99.95 241.75 100.50 237.00C101.05 232.25 101.47 221.83 101.80 214.00C102.13 206.17 102.30 196.43 102.50 190.00C102.70 183.57 102.82 175.40 103.00 175.40C103.18 175.40 103.38 183.57 103.60 190.00C103.82 196.43 103.98 206.33 104.30 214.00C104.62 221.67 105.08 231.25 105.50 236.00C105.92 240.75 105.88 241.25 106.80 242.50C107.72 243.75 110.30 243.33 111.00 243.50" fill="none" stroke="#1a1a1a" stroke-width="1.5"/>
<text x="42.3" y="174.9" font-size="7.5" fill="#555" stroke="#555" stroke-width="0.25">92.4%</text>
<text x="116.2" y="174.9" font-size="7.5" text-anchor="end" fill="#555" stroke="#555" stroke-width="0.25">7.57%</text>
<text transform="translate(23 206.05) rotate(-90) scale(0.77 1)" y="3.46" font-size="10" fill="#333" text-anchor="middle">Count</text>
<text x="32.8" y="246.9" font-size="7.8" text-anchor="middle" fill="#333" stroke="#333" stroke-width="0.25">0</text>
<line x1="39" y1="244.5" x2="41" y2="244.5" stroke="#444" stroke-width="0.6"/>
<text x="46.8" y="257.9" font-size="7.8" text-anchor="middle" fill="#333" stroke="#333" stroke-width="0.25">0</text>
<text x="59.5" y="257.9" font-size="7.8" text-anchor="middle" fill="#333" stroke="#333" stroke-width="0.25">10<tspan font-size="5.2" dy="-2.8">2</tspan></text>
<text x="77.2" y="257.9" font-size="7.8" text-anchor="middle" fill="#333" stroke="#333" stroke-width="0.25">10<tspan font-size="5.2" dy="-2.8">3</tspan></text>
<text x="94.7" y="257.9" font-size="7.8" text-anchor="middle" fill="#333" stroke="#333" stroke-width="0.25">10<tspan font-size="5.2" dy="-2.8">4</tspan></text>
<text x="111.6" y="257.9" font-size="7.8" text-anchor="middle" fill="#333" stroke="#333" stroke-width="0.25">10<tspan font-size="5.2" dy="-2.8">5</tspan></text>
<line x1="50.5" y1="244" x2="50.5" y2="245" stroke="#888" stroke-width="0.35"/>
<line x1="52.5" y1="244" x2="52.5" y2="245" stroke="#888" stroke-width="0.35"/>
<line x1="53.5" y1="244" x2="53.5" y2="245" stroke="#888" stroke-width="0.35"/>
<line x1="54.5" y1="244" x2="54.5" y2="245" stroke="#888" stroke-width="0.35"/>
<line x1="55.5" y1="244" x2="55.5" y2="245" stroke="#888" stroke-width="0.35"/>
<line x1="56.5" y1="244" x2="56.5" y2="245" stroke="#888" stroke-width="0.35"/>
<line x1="57.5" y1="244" x2="57.5" y2="245" stroke="#888" stroke-width="0.35"/>
<line x1="57.5" y1="244" x2="57.5" y2="245" stroke="#888" stroke-width="0.35"/>
<line x1="63.5" y1="244" x2="63.5" y2="245" stroke="#888" stroke-width="0.35"/>
<line x1="66.5" y1="244" x2="66.5" y2="245" stroke="#888" stroke-width="0.35"/>
<line x1="68.5" y1="244" x2="68.5" y2="245" stroke="#888" stroke-width="0.35"/>
<line x1="70.5" y1="244" x2="70.5" y2="245" stroke="#888" stroke-width="0.35"/>
<line x1="72.5" y1="244" x2="72.5" y2="245" stroke="#888" stroke-width="0.35"/>
<line x1="73.5" y1="244" x2="73.5" y2="245" stroke="#888" stroke-width="0.35"/>
<line x1="74.5" y1="244" x2="74.5" y2="245" stroke="#888" stroke-width="0.35"/>
<line x1="75.5" y1="244" x2="75.5" y2="245" stroke="#888" stroke-width="0.35"/>
<line x1="81.5" y1="244" x2="81.5" y2="245" stroke="#888" stroke-width="0.35"/>
<line x1="84.5" y1="244" x2="84.5" y2="245" stroke="#888" stroke-width="0.35"/>
<line x1="86.5" y1="244" x2="86.5" y2="245" stroke="#888" stroke-width="0.35"/>
<line x1="88.5" y1="244" x2="88.5" y2="245" stroke="#888" stroke-width="0.35"/>
<line x1="89.5" y1="244" x2="89.5" y2="245" stroke="#888" stroke-width="0.35"/>
<line x1="90.5" y1="244" x2="90.5" y2="245" stroke="#888" stroke-width="0.35"/>
<line x1="91.5" y1="244" x2="91.5" y2="245" stroke="#888" stroke-width="0.35"/>
<line x1="92.5" y1="244" x2="92.5" y2="245" stroke="#888" stroke-width="0.35"/>
<line x1="98.5" y1="244" x2="98.5" y2="245" stroke="#888" stroke-width="0.35"/>
<line x1="101.5" y1="244" x2="101.5" y2="245" stroke="#888" stroke-width="0.35"/>
<line x1="103.5" y1="244" x2="103.5" y2="245" stroke="#888" stroke-width="0.35"/>
<line x1="105.5" y1="244" x2="105.5" y2="245" stroke="#888" stroke-width="0.35"/>
<line x1="106.5" y1="244" x2="106.5" y2="245" stroke="#888" stroke-width="0.35"/>
<line x1="107.5" y1="244" x2="107.5" y2="245" stroke="#888" stroke-width="0.35"/>
<line x1="108.5" y1="244" x2="108.5" y2="245" stroke="#888" stroke-width="0.35"/>
<line x1="109.5" y1="244" x2="109.5" y2="245" stroke="#888" stroke-width="0.35"/>
<line x1="46.5" y1="244" x2="46.5" y2="245.8" stroke="#555" stroke-width="0.5"/>
<line x1="58.5" y1="244" x2="58.5" y2="245.8" stroke="#555" stroke-width="0.5"/>
<line x1="76.5" y1="244" x2="76.5" y2="245.8" stroke="#555" stroke-width="0.5"/>
<line x1="93.5" y1="244" x2="93.5" y2="245.8" stroke="#555" stroke-width="0.5"/>
<line x1="110.5" y1="244" x2="110.5" y2="245.8" stroke="#555" stroke-width="0.5"/>
<text x="193" y="159.37" font-size="8.85" text-anchor="middle" font-weight="bold" fill="#111">CD4<tspan font-size="5.5" dy="-3.4">+</tspan><tspan dy="3.4"> : Total CD19</tspan><tspan font-size="5.5" dy="-3.4">+</tspan><tspan dy="3.4"> B cells</tspan></text>
<rect x="155.75" y="167.5" width="75.75" height="76.5" fill="none" stroke="#333" stroke-width="0.8"/>
<line x1="155.75" y1="195.5" x2="212.6" y2="195.5" stroke="#333" stroke-width="0.8"/>
<line x1="212.6" y1="191.5" x2="231.5" y2="191.5" stroke="#333" stroke-width="0.8"/>
<line x1="212.5" y1="189.9" x2="212.5" y2="195.8" stroke="#333" stroke-width="0.6"/>
<path d="M156.30 243.30C157.92 243.25 163.88 243.30 166.00 243.00C168.12 242.70 167.95 242.12 169.00 241.50C170.05 240.88 171.22 239.30 172.30 239.30C173.38 239.30 174.30 241.08 175.50 241.50C176.70 241.92 178.42 241.97 179.50 241.80C180.58 241.63 181.17 240.92 182.00 240.50C182.83 240.08 183.75 239.42 184.50 239.30C185.25 239.18 185.78 240.18 186.50 239.80C187.22 239.42 188.05 238.47 188.80 237.00C189.55 235.53 190.38 232.90 191.00 231.00C191.62 229.10 191.78 227.22 192.50 225.60C193.22 223.98 194.62 224.18 195.30 221.30C195.98 218.42 196.18 212.88 196.60 208.30C197.02 203.72 197.40 195.02 197.80 193.80C198.20 192.58 198.57 197.87 199.00 201.00C199.43 204.13 199.92 213.10 200.40 212.60C200.88 212.10 201.42 202.80 201.90 198.00C202.38 193.20 202.82 183.80 203.30 183.80C203.78 183.80 204.28 192.13 204.80 198.00C205.32 203.87 205.88 217.33 206.40 219.00C206.92 220.67 207.42 212.07 207.90 208.00C208.38 203.93 208.85 194.77 209.30 194.60C209.75 194.43 210.17 202.32 210.60 207.00C211.03 211.68 211.47 222.53 211.90 222.70C212.33 222.87 212.77 212.93 213.20 208.00C213.63 203.07 214.07 192.77 214.50 193.10C214.93 193.43 215.38 203.85 215.80 210.00C216.22 216.15 216.47 226.25 217.00 230.00C217.53 233.75 218.40 232.03 219.00 232.50C219.60 232.97 220.00 231.80 220.60 232.80C221.20 233.80 221.88 236.75 222.60 238.50C223.32 240.25 223.50 242.48 224.90 243.30C226.30 244.12 229.98 243.38 231.00 243.40" fill="none" stroke="#333" stroke-width="1.25"/>
<path d="M210.00 243.50C210.57 243.33 212.52 244.25 213.40 242.50C214.28 240.75 214.78 239.25 215.30 233.00C215.82 226.75 216.15 214.53 216.50 205.00C216.85 195.47 217.10 175.80 217.40 175.80C217.70 175.80 217.97 195.47 218.30 205.00C218.63 214.53 218.98 226.75 219.40 233.00C219.82 239.25 220.03 240.75 220.80 242.50C221.57 244.25 223.47 243.33 224.00 243.50" fill="none" stroke="#1a1a1a" stroke-width="1.5"/>
<text x="157.3" y="174.9" font-size="7.5" fill="#555" stroke="#555" stroke-width="0.25">74.6%</text>
<text x="229.8" y="174.9" font-size="7.5" text-anchor="end" fill="#555" stroke="#555" stroke-width="0.25">25.4%</text>
<text transform="translate(137.6 206.05) rotate(-90) scale(0.77 1)" y="3.46" font-size="10" fill="#333" text-anchor="middle">Count</text>
<text x="147.55" y="246.9" font-size="7.8" text-anchor="middle" fill="#333" stroke="#333" stroke-width="0.25">0</text>
<line x1="153.75" y1="244.5" x2="155.75" y2="244.5" stroke="#444" stroke-width="0.6"/>
<text x="161.3" y="257.9" font-size="7.8" text-anchor="middle" fill="#333" stroke="#333" stroke-width="0.25">0</text>
<text x="173.7" y="257.9" font-size="7.8" text-anchor="middle" fill="#333" stroke="#333" stroke-width="0.25">10<tspan font-size="5.2" dy="-2.8">2</tspan></text>
<text x="191.2" y="257.9" font-size="7.8" text-anchor="middle" fill="#333" stroke="#333" stroke-width="0.25">10<tspan font-size="5.2" dy="-2.8">3</tspan></text>
<text x="208.5" y="257.9" font-size="7.8" text-anchor="middle" fill="#333" stroke="#333" stroke-width="0.25">10<tspan font-size="5.2" dy="-2.8">4</tspan></text>
<text x="225.6" y="257.9" font-size="7.8" text-anchor="middle" fill="#333" stroke="#333" stroke-width="0.25">10<tspan font-size="5.2" dy="-2.8">5</tspan></text>
<line x1="164.5" y1="244" x2="164.5" y2="245" stroke="#888" stroke-width="0.35"/>
<line x1="166.5" y1="244" x2="166.5" y2="245" stroke="#888" stroke-width="0.35"/>
<line x1="168.5" y1="244" x2="168.5" y2="245" stroke="#888" stroke-width="0.35"/>
<line x1="169.5" y1="244" x2="169.5" y2="245" stroke="#888" stroke-width="0.35"/>
<line x1="170.5" y1="244" x2="170.5" y2="245" stroke="#888" stroke-width="0.35"/>
<line x1="170.5" y1="244" x2="170.5" y2="245" stroke="#888" stroke-width="0.35"/>
<line x1="171.5" y1="244" x2="171.5" y2="245" stroke="#888" stroke-width="0.35"/>
<line x1="171.5" y1="244" x2="171.5" y2="245" stroke="#888" stroke-width="0.35"/>
<line x1="177.5" y1="244" x2="177.5" y2="245" stroke="#888" stroke-width="0.35"/>
<line x1="180.5" y1="244" x2="180.5" y2="245" stroke="#888" stroke-width="0.35"/>
<line x1="183.5" y1="244" x2="183.5" y2="245" stroke="#888" stroke-width="0.35"/>
<line x1="184.5" y1="244" x2="184.5" y2="245" stroke="#888" stroke-width="0.35"/>
<line x1="186.5" y1="244" x2="186.5" y2="245" stroke="#888" stroke-width="0.35"/>
<line x1="187.5" y1="244" x2="187.5" y2="245" stroke="#888" stroke-width="0.35"/>
<line x1="188.5" y1="244" x2="188.5" y2="245" stroke="#888" stroke-width="0.35"/>
<line x1="189.5" y1="244" x2="189.5" y2="245" stroke="#888" stroke-width="0.35"/>
<line x1="195.5" y1="244" x2="195.5" y2="245" stroke="#888" stroke-width="0.35"/>
<line x1="198.5" y1="244" x2="198.5" y2="245" stroke="#888" stroke-width="0.35"/>
<line x1="200.5" y1="244" x2="200.5" y2="245" stroke="#888" stroke-width="0.35"/>
<line x1="202.5" y1="244" x2="202.5" y2="245" stroke="#888" stroke-width="0.35"/>
<line x1="203.5" y1="244" x2="203.5" y2="245" stroke="#888" stroke-width="0.35"/>
<line x1="204.5" y1="244" x2="204.5" y2="245" stroke="#888" stroke-width="0.35"/>
<line x1="205.5" y1="244" x2="205.5" y2="245" stroke="#888" stroke-width="0.35"/>
<line x1="206.5" y1="244" x2="206.5" y2="245" stroke="#888" stroke-width="0.35"/>
<line x1="212.5" y1="244" x2="212.5" y2="245" stroke="#888" stroke-width="0.35"/>
<line x1="215.5" y1="244" x2="215.5" y2="245" stroke="#888" stroke-width="0.35"/>
<line x1="217.5" y1="244" x2="217.5" y2="245" stroke="#888" stroke-width="0.35"/>
<line x1="219.5" y1="244" x2="219.5" y2="245" stroke="#888" stroke-width="0.35"/>
<line x1="220.5" y1="244" x2="220.5" y2="245" stroke="#888" stroke-width="0.35"/>
<line x1="221.5" y1="244" x2="221.5" y2="245" stroke="#888" stroke-width="0.35"/>
<line x1="222.5" y1="244" x2="222.5" y2="245" stroke="#888" stroke-width="0.35"/>
<line x1="223.5" y1="244" x2="223.5" y2="245" stroke="#888" stroke-width="0.35"/>
<line x1="161.5" y1="244" x2="161.5" y2="245.8" stroke="#555" stroke-width="0.5"/>
<line x1="172.5" y1="244" x2="172.5" y2="245.8" stroke="#555" stroke-width="0.5"/>
<line x1="190.5" y1="244" x2="190.5" y2="245.8" stroke="#555" stroke-width="0.5"/>
<line x1="207.5" y1="244" x2="207.5" y2="245.8" stroke="#555" stroke-width="0.5"/>
<line x1="224.5" y1="244" x2="224.5" y2="245.8" stroke="#555" stroke-width="0.5"/>
<text x="312" y="159.37" font-size="8.85" text-anchor="middle" font-weight="bold" fill="#111">CD4<tspan font-size="5.5" dy="-3.4">+</tspan><tspan dy="3.4"> : Transitional B cells</tspan></text>
<rect x="269.5" y="167.5" width="76.5" height="76.5" fill="none" stroke="#333" stroke-width="0.8"/>
<line x1="269.5" y1="195.5" x2="326.6" y2="195.5" stroke="#333" stroke-width="0.8"/>
<line x1="326.6" y1="191.5" x2="346" y2="191.5" stroke="#333" stroke-width="0.8"/>
<line x1="326.5" y1="189.9" x2="326.5" y2="195.8" stroke="#333" stroke-width="0.6"/>
<path d="M270.00 243.30C271.55 243.22 276.97 243.10 279.30 242.80C281.63 242.50 282.55 241.80 284.00 241.50C285.45 241.20 286.67 241.00 288.00 241.00C289.33 241.00 290.57 241.23 292.00 241.50C293.43 241.77 295.27 242.60 296.60 242.60C297.93 242.60 299.03 242.17 300.00 241.50C300.97 240.83 301.48 239.77 302.40 238.60C303.32 237.43 304.53 236.18 305.50 234.50C306.47 232.82 307.40 229.87 308.20 228.50C309.00 227.13 309.70 226.43 310.30 226.30C310.90 226.17 311.22 228.92 311.80 227.70C312.38 226.48 313.15 221.75 313.80 219.00C314.45 216.25 315.17 211.70 315.70 211.20C316.23 210.70 316.57 213.60 317.00 216.00C317.43 218.40 317.87 225.27 318.30 225.60C318.73 225.93 319.17 220.28 319.60 218.00C320.03 215.72 320.43 212.23 320.90 211.90C321.37 211.57 321.92 214.08 322.40 216.00C322.88 217.92 323.33 225.23 323.80 223.40C324.27 221.57 324.68 212.08 325.20 205.00C325.72 197.92 326.42 183.40 326.90 180.90C327.38 178.40 327.73 186.65 328.10 190.00C328.47 193.35 328.70 196.03 329.10 201.00C329.50 205.97 330.02 216.67 330.50 219.80C330.98 222.93 331.50 218.43 332.00 219.80C332.50 221.17 332.92 224.97 333.50 228.00C334.08 231.03 334.67 235.45 335.50 238.00C336.33 240.55 336.83 242.40 338.50 243.30C340.17 244.20 344.33 243.38 345.50 243.40" fill="none" stroke="#333" stroke-width="1.25"/>
<path d="M323.00 243.50C323.77 243.33 326.50 244.25 327.60 242.50C328.70 240.75 329.07 239.25 329.60 233.00C330.13 226.75 330.45 214.53 330.80 205.00C331.15 195.47 331.40 175.80 331.70 175.80C332.00 175.80 332.25 195.47 332.60 205.00C332.95 214.53 333.18 226.75 333.80 233.00C334.42 239.25 335.43 240.75 336.30 242.50C337.17 244.25 338.55 243.33 339.00 243.50" fill="none" stroke="#1a1a1a" stroke-width="1.5"/>
<text x="271.2" y="174.9" font-size="7.5" fill="#555" stroke="#555" stroke-width="0.25">63.3%</text>
<text x="344.5" y="174.9" font-size="7.5" text-anchor="end" fill="#555" stroke="#555" stroke-width="0.25">36.7%</text>
<text transform="translate(251.5 206.05) rotate(-90) scale(0.77 1)" y="3.46" font-size="10" fill="#333" text-anchor="middle">Count</text>
<text x="261.3" y="246.9" font-size="7.8" text-anchor="middle" fill="#333" stroke="#333" stroke-width="0.25">0</text>
<line x1="267.5" y1="244.5" x2="269.5" y2="244.5" stroke="#444" stroke-width="0.6"/>
<text x="288.5" y="257.9" font-size="7.8" text-anchor="middle" fill="#333" stroke="#333" stroke-width="0.25">10<tspan font-size="5.2" dy="-2.8">2</tspan></text>
<text x="306" y="257.9" font-size="7.8" text-anchor="middle" fill="#333" stroke="#333" stroke-width="0.25">10<tspan font-size="5.2" dy="-2.8">3</tspan></text>
<text x="323.2" y="257.9" font-size="7.8" text-anchor="middle" fill="#333" stroke="#333" stroke-width="0.25">10<tspan font-size="5.2" dy="-2.8">4</tspan></text>
<text x="339.6" y="257.9" font-size="7.8" text-anchor="middle" fill="#333" stroke="#333" stroke-width="0.25">10<tspan font-size="5.2" dy="-2.8">5</tspan></text>
<line x1="292.5" y1="244" x2="292.5" y2="245" stroke="#888" stroke-width="0.35"/>
<line x1="295.5" y1="244" x2="295.5" y2="245" stroke="#888" stroke-width="0.35"/>
<line x1="297.5" y1="244" x2="297.5" y2="245" stroke="#888" stroke-width="0.35"/>
<line x1="299.5" y1="244" x2="299.5" y2="245" stroke="#888" stroke-width="0.35"/>
<line x1="300.5" y1="244" x2="300.5" y2="245" stroke="#888" stroke-width="0.35"/>
<line x1="302.5" y1="244" x2="302.5" y2="245" stroke="#888" stroke-width="0.35"/>
<line x1="303.5" y1="244" x2="303.5" y2="245" stroke="#888" stroke-width="0.35"/>
<line x1="303.5" y1="244" x2="303.5" y2="245" stroke="#888" stroke-width="0.35"/>
<line x1="309.5" y1="244" x2="309.5" y2="245" stroke="#888" stroke-width="0.35"/>
<line x1="313.5" y1="244" x2="313.5" y2="245" stroke="#888" stroke-width="0.35"/>
<line x1="315.5" y1="244" x2="315.5" y2="245" stroke="#888" stroke-width="0.35"/>
<line x1="316.5" y1="244" x2="316.5" y2="245" stroke="#888" stroke-width="0.35"/>
<line x1="318.5" y1="244" x2="318.5" y2="245" stroke="#888" stroke-width="0.35"/>
<line x1="319.5" y1="244" x2="319.5" y2="245" stroke="#888" stroke-width="0.35"/>
<line x1="320.5" y1="244" x2="320.5" y2="245" stroke="#888" stroke-width="0.35"/>
<line x1="321.5" y1="244" x2="321.5" y2="245" stroke="#888" stroke-width="0.35"/>
<line x1="326.5" y1="244" x2="326.5" y2="245" stroke="#888" stroke-width="0.35"/>
<line x1="329.5" y1="244" x2="329.5" y2="245" stroke="#888" stroke-width="0.35"/>
<line x1="331.5" y1="244" x2="331.5" y2="245" stroke="#888" stroke-width="0.35"/>
<line x1="333.5" y1="244" x2="333.5" y2="245" stroke="#888" stroke-width="0.35"/>
<line x1="334.5" y1="244" x2="334.5" y2="245" stroke="#888" stroke-width="0.35"/>
<line x1="335.5" y1="244" x2="335.5" y2="245" stroke="#888" stroke-width="0.35"/>
<line x1="336.5" y1="244" x2="336.5" y2="245" stroke="#888" stroke-width="0.35"/>
<line x1="337.5" y1="244" x2="337.5" y2="245" stroke="#888" stroke-width="0.35"/>
<line x1="287.5" y1="244" x2="287.5" y2="245.8" stroke="#555" stroke-width="0.5"/>
<line x1="304.5" y1="244" x2="304.5" y2="245.8" stroke="#555" stroke-width="0.5"/>
<line x1="322.5" y1="244" x2="322.5" y2="245.8" stroke="#555" stroke-width="0.5"/>
<line x1="338.5" y1="244" x2="338.5" y2="245.8" stroke="#555" stroke-width="0.5"/>
<text x="422" y="161.07" font-size="8.85" text-anchor="middle" font-weight="bold" fill="#111">CD4<tspan font-size="5.5" dy="-3.4">+</tspan><tspan dy="3.4"> : Naive B cells</tspan></text>
<rect x="384.25" y="169.3" width="76.15" height="75.9" fill="none" stroke="#333" stroke-width="0.8"/>
<line x1="384.25" y1="197.5" x2="441.2" y2="197.5" stroke="#333" stroke-width="0.8"/>
<line x1="441.2" y1="193.5" x2="460.4" y2="193.5" stroke="#333" stroke-width="0.8"/>
<line x1="441.5" y1="191.6" x2="441.5" y2="197.5" stroke="#333" stroke-width="0.6"/>
<path d="M385.00 244.50C387.17 244.47 394.77 244.45 398.00 244.30C401.23 244.15 402.73 243.95 404.40 243.60C406.07 243.25 406.80 242.80 408.00 242.20C409.20 241.60 410.67 240.87 411.60 240.00C412.53 239.13 413.00 238.20 413.60 237.00C414.20 235.80 414.62 234.22 415.20 232.80C415.78 231.38 416.50 228.87 417.10 228.50C417.70 228.13 418.23 231.68 418.80 230.60C419.37 229.52 419.97 225.37 420.50 222.00C421.03 218.63 421.55 211.23 422.00 210.40C422.45 209.57 422.82 214.35 423.20 217.00C423.58 219.65 423.87 227.13 424.30 226.30C424.73 225.47 425.32 216.57 425.80 212.00C426.28 207.43 426.75 199.23 427.20 198.90C427.65 198.57 428.08 206.03 428.50 210.00C428.92 213.97 429.28 223.20 429.70 222.70C430.12 222.20 430.57 212.05 431.00 207.00C431.43 201.95 431.88 192.40 432.30 192.40C432.72 192.40 433.10 201.83 433.50 207.00C433.90 212.17 434.28 223.40 434.70 223.40C435.12 223.40 435.58 212.17 436.00 207.00C436.42 201.83 436.77 191.57 437.20 192.40C437.63 193.23 438.05 204.78 438.60 212.00C439.15 219.22 439.97 232.37 440.50 235.70C441.03 239.03 441.45 233.20 441.80 232.00C442.15 230.80 442.23 228.33 442.60 228.50C442.97 228.67 443.43 231.08 444.00 233.00C444.57 234.92 445.17 239.08 446.00 240.00C446.83 240.92 448.00 238.87 449.00 238.50C450.00 238.13 451.08 237.22 452.00 237.80C452.92 238.38 453.53 240.90 454.50 242.00C455.47 243.10 456.88 243.98 457.80 244.40C458.72 244.82 459.63 244.48 460.00 244.50" fill="none" stroke="#333" stroke-width="1.25"/>
<path d="M437.00 244.70C437.83 244.55 440.83 245.58 442.00 243.80C443.17 242.02 443.48 240.47 444.00 234.00C444.52 227.53 444.77 214.45 445.10 205.00C445.43 195.55 445.70 177.30 446.00 177.30C446.30 177.30 446.57 195.55 446.90 205.00C447.23 214.45 447.50 227.53 448.00 234.00C448.50 240.47 449.07 242.02 449.90 243.80C450.73 245.58 452.48 244.55 453.00 244.70" fill="none" stroke="#1a1a1a" stroke-width="1.5"/>
<text x="385.8" y="176.7" font-size="7.5" fill="#555" stroke="#555" stroke-width="0.25">70.3%</text>
<text x="459" y="176.7" font-size="7.5" text-anchor="end" fill="#555" stroke="#555" stroke-width="0.25">29.7%</text>
<text transform="translate(365 207.55) rotate(-90) scale(0.77 1)" y="3.46" font-size="10" fill="#333" text-anchor="middle">Count</text>
<text x="376.05" y="248.1" font-size="7.8" text-anchor="middle" fill="#333" stroke="#333" stroke-width="0.25">0</text>
<line x1="382.25" y1="245.5" x2="384.25" y2="245.5" stroke="#444" stroke-width="0.6"/>
<text x="389.6" y="259.1" font-size="7.8" text-anchor="middle" fill="#333" stroke="#333" stroke-width="0.25">0</text>
<text x="402.5" y="259.1" font-size="7.8" text-anchor="middle" fill="#333" stroke="#333" stroke-width="0.25">10<tspan font-size="5.2" dy="-2.8">2</tspan></text>
<text x="420" y="259.1" font-size="7.8" text-anchor="middle" fill="#333" stroke="#333" stroke-width="0.25">10<tspan font-size="5.2" dy="-2.8">3</tspan></text>
<text x="437.2" y="259.1" font-size="7.8" text-anchor="middle" fill="#333" stroke="#333" stroke-width="0.25">10<tspan font-size="5.2" dy="-2.8">4</tspan></text>
<text x="454" y="259.1" font-size="7.8" text-anchor="middle" fill="#333" stroke="#333" stroke-width="0.25">10<tspan font-size="5.2" dy="-2.8">5</tspan></text>
<line x1="393.5" y1="245.2" x2="393.5" y2="246.2" stroke="#888" stroke-width="0.35"/>
<line x1="395.5" y1="245.2" x2="395.5" y2="246.2" stroke="#888" stroke-width="0.35"/>
<line x1="396.5" y1="245.2" x2="396.5" y2="246.2" stroke="#888" stroke-width="0.35"/>
<line x1="397.5" y1="245.2" x2="397.5" y2="246.2" stroke="#888" stroke-width="0.35"/>
<line x1="398.5" y1="245.2" x2="398.5" y2="246.2" stroke="#888" stroke-width="0.35"/>
<line x1="399.5" y1="245.2" x2="399.5" y2="246.2" stroke="#888" stroke-width="0.35"/>
<line x1="400.5" y1="245.2" x2="400.5" y2="246.2" stroke="#888" stroke-width="0.35"/>
<line x1="400.5" y1="245.2" x2="400.5" y2="246.2" stroke="#888" stroke-width="0.35"/>
<line x1="406.5" y1="245.2" x2="406.5" y2="246.2" stroke="#888" stroke-width="0.35"/>
<line x1="409.5" y1="245.2" x2="409.5" y2="246.2" stroke="#888" stroke-width="0.35"/>
<line x1="411.5" y1="245.2" x2="411.5" y2="246.2" stroke="#888" stroke-width="0.35"/>
<line x1="413.5" y1="245.2" x2="413.5" y2="246.2" stroke="#888" stroke-width="0.35"/>
<line x1="414.5" y1="245.2" x2="414.5" y2="246.2" stroke="#888" stroke-width="0.35"/>
<line x1="416.5" y1="245.2" x2="416.5" y2="246.2" stroke="#888" stroke-width="0.35"/>
<line x1="417.5" y1="245.2" x2="417.5" y2="246.2" stroke="#888" stroke-width="0.35"/>
<line x1="417.5" y1="245.2" x2="417.5" y2="246.2" stroke="#888" stroke-width="0.35"/>
<line x1="423.5" y1="245.2" x2="423.5" y2="246.2" stroke="#888" stroke-width="0.35"/>
<line x1="427.5" y1="245.2" x2="427.5" y2="246.2" stroke="#888" stroke-width="0.35"/>
<line x1="429.5" y1="245.2" x2="429.5" y2="246.2" stroke="#888" stroke-width="0.35"/>
<line x1="430.5" y1="245.2" x2="430.5" y2="246.2" stroke="#888" stroke-width="0.35"/>
<line x1="432.5" y1="245.2" x2="432.5" y2="246.2" stroke="#888" stroke-width="0.35"/>
<line x1="433.5" y1="245.2" x2="433.5" y2="246.2" stroke="#888" stroke-width="0.35"/>
<line x1="434.5" y1="245.2" x2="434.5" y2="246.2" stroke="#888" stroke-width="0.35"/>
<line x1="435.5" y1="245.2" x2="435.5" y2="246.2" stroke="#888" stroke-width="0.35"/>
<line x1="441.5" y1="245.2" x2="441.5" y2="246.2" stroke="#888" stroke-width="0.35"/>
<line x1="444.5" y1="245.2" x2="444.5" y2="246.2" stroke="#888" stroke-width="0.35"/>
<line x1="446.5" y1="245.2" x2="446.5" y2="246.2" stroke="#888" stroke-width="0.35"/>
<line x1="447.5" y1="245.2" x2="447.5" y2="246.2" stroke="#888" stroke-width="0.35"/>
<line x1="449.5" y1="245.2" x2="449.5" y2="246.2" stroke="#888" stroke-width="0.35"/>
<line x1="450.5" y1="245.2" x2="450.5" y2="246.2" stroke="#888" stroke-width="0.35"/>
<line x1="451.5" y1="245.2" x2="451.5" y2="246.2" stroke="#888" stroke-width="0.35"/>
<line x1="451.5" y1="245.2" x2="451.5" y2="246.2" stroke="#888" stroke-width="0.35"/>
<line x1="389.5" y1="245.2" x2="389.5" y2="247" stroke="#555" stroke-width="0.5"/>
<line x1="401.5" y1="245.2" x2="401.5" y2="247" stroke="#555" stroke-width="0.5"/>
<line x1="418.5" y1="245.2" x2="418.5" y2="247" stroke="#555" stroke-width="0.5"/>
<line x1="436.5" y1="245.2" x2="436.5" y2="247" stroke="#555" stroke-width="0.5"/>
<line x1="452.5" y1="245.2" x2="452.5" y2="247" stroke="#555" stroke-width="0.5"/>
<line x1="25" y1="266.5" x2="227" y2="266.5" stroke="#444" stroke-width="1.1"/>
<line x1="262.5" y1="266.5" x2="470" y2="266.5" stroke="#444" stroke-width="1.1"/>
<path d="M476 266 L468 263.2 L469.5 266 L468 268.8 Z" fill="#222"/>
<text transform="translate(244.9 265.7) scale(0.65 1)" y="3.71" font-size="10.7" fill="#333" text-anchor="middle">CFSE</text>
<text x="7" y="295.51" font-size="11" font-weight="bold" fill="#111">C</text>
<line x1="49.5" y1="337" x2="49.5" y2="417.5" stroke="#333" stroke-width="0.8"/>
<line x1="49.5" y1="417.5" x2="168.8" y2="417.5" stroke="#333" stroke-width="0.8"/>
<line x1="47.5" y1="417.5" x2="49.5" y2="417.5" stroke="#333" stroke-width="0.8"/>
<text x="43.8" y="420.1" font-size="7.5" text-anchor="end" fill="#333" stroke="#333" stroke-width="0.25">0</text>
<line x1="47.5" y1="401.5" x2="49.5" y2="401.5" stroke="#333" stroke-width="0.8"/>
<text x="43.8" y="404.1" font-size="7.5" text-anchor="end" fill="#333" stroke="#333" stroke-width="0.25">20</text>
<line x1="47.5" y1="385.5" x2="49.5" y2="385.5" stroke="#333" stroke-width="0.8"/>
<text x="43.8" y="388.1" font-size="7.5" text-anchor="end" fill="#333" stroke="#333" stroke-width="0.25">40</text>
<line x1="47.5" y1="369.5" x2="49.5" y2="369.5" stroke="#333" stroke-width="0.8"/>
<text x="43.8" y="372.1" font-size="7.5" text-anchor="end" fill="#333" stroke="#333" stroke-width="0.25">60</text>
<line x1="47.5" y1="353.5" x2="49.5" y2="353.5" stroke="#333" stroke-width="0.8"/>
<text x="43.8" y="356.1" font-size="7.5" text-anchor="end" fill="#333" stroke="#333" stroke-width="0.25">80</text>
<line x1="47.5" y1="337.5" x2="49.5" y2="337.5" stroke="#333" stroke-width="0.8"/>
<text x="43.8" y="340.1" font-size="7.5" text-anchor="end" fill="#333" stroke="#333" stroke-width="0.25">100</text>
<line x1="61.5" y1="339.5" x2="61.5" y2="343.5" stroke="#333" stroke-width="0.8"/>
<line x1="58.84" y1="339.5" x2="64.67" y2="339.5" stroke="#333" stroke-width="0.8"/>
<rect x="56.45" y="343.5" width="10.6" height="74" fill="#ababab"/>
<line x1="61.5" y1="417.5" x2="61.5" y2="419.7" stroke="#444" stroke-width="0.8"/>
<line x1="85.5" y1="357" x2="85.5" y2="360.7" stroke="#333" stroke-width="0.8"/>
<line x1="82.83" y1="357.5" x2="88.67" y2="357.5" stroke="#333" stroke-width="0.8"/>
<rect x="80.45" y="360.7" width="10.6" height="56.8" fill="#1c1c1c"/>
<line x1="85.5" y1="417.5" x2="85.5" y2="419.7" stroke="#444" stroke-width="0.8"/>
<line x1="109.5" y1="363.25" x2="109.5" y2="367.9" stroke="#333" stroke-width="0.8"/>
<line x1="106.83" y1="363.5" x2="112.67" y2="363.5" stroke="#333" stroke-width="0.8"/>
<rect x="104.45" y="367.9" width="10.6" height="49.6" fill="#505050"/>
<line x1="109.5" y1="417.5" x2="109.5" y2="419.7" stroke="#444" stroke-width="0.8"/>
<line x1="133.5" y1="358.25" x2="133.5" y2="361.5" stroke="#333" stroke-width="0.8"/>
<line x1="130.74" y1="358.5" x2="136.56" y2="358.5" stroke="#333" stroke-width="0.8"/>
<rect x="128.35" y="361.5" width="10.6" height="56" fill="#8a8a8a"/>
<line x1="133.5" y1="417.5" x2="133.5" y2="419.7" stroke="#444" stroke-width="0.8"/>
<line x1="157.5" y1="360" x2="157.5" y2="370.3" stroke="#333" stroke-width="0.8"/>
<line x1="154.39" y1="360.5" x2="160.22" y2="360.5" stroke="#333" stroke-width="0.8"/>
<rect x="152" y="370.3" width="10.6" height="47.2" fill="#d8d8d8"/>
<line x1="157.5" y1="417.5" x2="157.5" y2="419.7" stroke="#444" stroke-width="0.8"/>
<line x1="62" y1="308.5" x2="154.5" y2="308.5" stroke="#333" stroke-width="0.8"/>
<circle cx="108" cy="304.85" r="1.15" fill="#333"/>
<line x1="62" y1="317.5" x2="132" y2="317.5" stroke="#333" stroke-width="0.8"/>
<circle cx="96.75" cy="313.6" r="1.15" fill="#333"/>
<line x1="62" y1="326.5" x2="109.5" y2="326.5" stroke="#333" stroke-width="0.8"/>
<circle cx="85.75" cy="322.1" r="1.15" fill="#333"/>
<line x1="62" y1="333.5" x2="88.75" y2="333.5" stroke="#333" stroke-width="0.8"/>
<circle cx="75" cy="329.9" r="1.15" fill="#333"/>
<line x1="111.25" y1="340.5" x2="158.75" y2="340.5" stroke="#333" stroke-width="0.8"/>
<text x="137" y="338.13" font-size="7" text-anchor="middle" fill="#333" stroke="#333" stroke-width="0.25">ns</text>
<line x1="132" y1="349.5" x2="158.75" y2="349.5" stroke="#333" stroke-width="0.8"/>
<text x="146.25" y="347.83" font-size="7" text-anchor="middle" fill="#333" stroke="#333" stroke-width="0.25">ns</text>
<text x="25.58" y="376" font-size="8.6" text-anchor="middle" fill="#333" stroke="#333" stroke-width="0.25" textLength="107.3" lengthAdjust="spacingAndGlyphs" transform="rotate(-90 25.58 376)">% of CD4+ T cell proliferation</text>
<rect x="176.3" y="339.9" width="10.2" height="5.6" fill="#ababab"/>
<text x="189.8" y="345.19" font-size="7.2" fill="#444" stroke="#444" stroke-width="0.25">Positive control</text>
<rect x="176.3" y="349.65" width="10.2" height="5.6" fill="#1c1c1c"/>
<text x="189.8" y="354.94" font-size="7.2" fill="#444" stroke="#444" stroke-width="0.25">Total CD19<tspan font-size="5" dy="-3">+</tspan><tspan dy="3"> B cells</tspan></text>
<rect x="176.3" y="359.4" width="10.2" height="5.6" fill="#505050"/>
<text x="189.8" y="364.69" font-size="7.2" fill="#444" stroke="#444" stroke-width="0.25">Transitional B cells</text>
<rect x="176.3" y="369.15" width="10.2" height="5.6" fill="#8a8a8a"/>
<text x="189.8" y="374.44" font-size="7.2" fill="#444" stroke="#444" stroke-width="0.25">Naive B cells</text>
<rect x="176.3" y="378.9" width="10.2" height="5.6" fill="#d8d8d8"/>
<text x="189.8" y="384.19" font-size="7.2" fill="#444" stroke="#444" stroke-width="0.25">T regulatory cells</text>
<text x="7" y="455.11" font-size="11" font-weight="bold" fill="#111">D</text>
<line x1="46.5" y1="474.9" x2="46.5" y2="556.6" stroke="#333" stroke-width="0.8"/>
<line x1="46.5" y1="556.5" x2="168.8" y2="556.5" stroke="#333" stroke-width="0.8"/>
<line x1="44.5" y1="556.5" x2="46.5" y2="556.5" stroke="#333" stroke-width="0.8"/>
<text x="40.3" y="559.37" font-size="8" text-anchor="end" fill="#333" stroke="#333" stroke-width="0.25">0</text>
<line x1="44.5" y1="536.5" x2="46.5" y2="536.5" stroke="#333" stroke-width="0.8"/>
<text x="40.3" y="539.07" font-size="8" text-anchor="end" fill="#333" stroke="#333" stroke-width="0.25">20</text>
<line x1="44.5" y1="516.5" x2="46.5" y2="516.5" stroke="#333" stroke-width="0.8"/>
<text x="40.3" y="518.77" font-size="8" text-anchor="end" fill="#333" stroke="#333" stroke-width="0.25">40</text>
<line x1="44.5" y1="495.5" x2="46.5" y2="495.5" stroke="#333" stroke-width="0.8"/>
<text x="40.3" y="498.47" font-size="8" text-anchor="end" fill="#333" stroke="#333" stroke-width="0.25">60</text>
<line x1="44.5" y1="475.5" x2="46.5" y2="475.5" stroke="#333" stroke-width="0.8"/>
<text x="40.3" y="478.17" font-size="8" text-anchor="end" fill="#333" stroke="#333" stroke-width="0.25">80</text>
<line x1="61.5" y1="556.6" x2="61.5" y2="558.6" stroke="#333" stroke-width="0.8"/>
<line x1="92.5" y1="556.6" x2="92.5" y2="558.6" stroke="#333" stroke-width="0.8"/>
<line x1="122.5" y1="556.6" x2="122.5" y2="558.6" stroke="#333" stroke-width="0.8"/>
<line x1="153.5" y1="556.6" x2="153.5" y2="558.6" stroke="#333" stroke-width="0.8"/>
<text x="61.5" y="568.83" font-size="7.6" text-anchor="middle" fill="#333" stroke="#333" stroke-width="0.25">1:1</text>
<text x="92.2" y="568.83" font-size="7.6" text-anchor="middle" fill="#333" stroke="#333" stroke-width="0.25">2:1</text>
<text x="122.6" y="568.83" font-size="7.6" text-anchor="middle" fill="#333" stroke="#333" stroke-width="0.25">5:1</text>
<text x="153" y="568.83" font-size="7.6" text-anchor="middle" fill="#333" stroke="#333" stroke-width="0.25">10:1</text>
<text x="108" y="581.85" font-size="8.8" text-anchor="middle" fill="#333" stroke="#333" stroke-width="0.25" textLength="44.5" lengthAdjust="spacingAndGlyphs">B cell: T cell</text>
<text x="27.19" y="514.7" font-size="9.2" text-anchor="middle" fill="#333" stroke="#333" stroke-width="0.25" textLength="55.5" lengthAdjust="spacingAndGlyphs" transform="rotate(-90 27.19 514.7)">% Suppression</text>
<text x="98.8" y="472.06" font-size="9.4" text-anchor="middle" font-weight="bold" fill="#111">Total CD19<tspan font-size="6" dy="-3.6">+</tspan><tspan dy="3.6"> B Cells</tspan></text>
<line x1="61.5" y1="525.4" x2="61.5" y2="533.8" stroke="#333" stroke-width="0.8"/>
<line x1="59.3" y1="525.5" x2="63.7" y2="525.5" stroke="#333" stroke-width="0.8"/>
<line x1="59.3" y1="533.5" x2="63.7" y2="533.5" stroke="#333" stroke-width="0.8"/>
<line x1="92.5" y1="514.5" x2="92.5" y2="530.9" stroke="#333" stroke-width="0.8"/>
<line x1="90" y1="514.5" x2="94.4" y2="514.5" stroke="#333" stroke-width="0.8"/>
<line x1="90" y1="530.5" x2="94.4" y2="530.5" stroke="#333" stroke-width="0.8"/>
<line x1="122.5" y1="497" x2="122.5" y2="509" stroke="#333" stroke-width="0.8"/>
<line x1="120.4" y1="497.5" x2="124.8" y2="497.5" stroke="#333" stroke-width="0.8"/>
<line x1="120.4" y1="509.5" x2="124.8" y2="509.5" stroke="#333" stroke-width="0.8"/>
<line x1="153.5" y1="490" x2="153.5" y2="508.6" stroke="#333" stroke-width="0.8"/>
<line x1="150.8" y1="490.5" x2="155.2" y2="490.5" stroke="#333" stroke-width="0.8"/>
<line x1="150.8" y1="508.5" x2="155.2" y2="508.5" stroke="#333" stroke-width="0.8"/>
<path d="M61.50 529.20L92.20 522.40L122.60 503.00L153.00 499.50" fill="none" stroke="#222" stroke-width="1.4"/>
<rect x="58.7" y="526.4" width="5.6" height="5.6" fill="#fff" stroke="#333" stroke-width="1"/>
<rect x="89.4" y="519.6" width="5.6" height="5.6" fill="#fff" stroke="#333" stroke-width="1"/>
<rect x="119.8" y="500.2" width="5.6" height="5.6" fill="#fff" stroke="#333" stroke-width="1"/>
<rect x="150.2" y="496.7" width="5.6" height="5.6" fill="#fff" stroke="#333" stroke-width="1"/>
<line x1="209.5" y1="476.1" x2="209.5" y2="556.4" stroke="#333" stroke-width="0.8"/>
<line x1="209.2" y1="556.5" x2="327.7" y2="556.5" stroke="#333" stroke-width="0.8"/>
<line x1="207.2" y1="556.5" x2="209.2" y2="556.5" stroke="#333" stroke-width="0.8"/>
<text x="203" y="559.17" font-size="8" text-anchor="end" fill="#333" stroke="#333" stroke-width="0.25">0</text>
<line x1="207.2" y1="536.5" x2="209.2" y2="536.5" stroke="#333" stroke-width="0.8"/>
<text x="203" y="539.22" font-size="8" text-anchor="end" fill="#333" stroke="#333" stroke-width="0.25">20</text>
<line x1="207.2" y1="516.5" x2="209.2" y2="516.5" stroke="#333" stroke-width="0.8"/>
<text x="203" y="519.27" font-size="8" text-anchor="end" fill="#333" stroke="#333" stroke-width="0.25">40</text>
<line x1="207.2" y1="496.5" x2="209.2" y2="496.5" stroke="#333" stroke-width="0.8"/>
<text x="203" y="499.32" font-size="8" text-anchor="end" fill="#333" stroke="#333" stroke-width="0.25">60</text>
<line x1="207.2" y1="476.5" x2="209.2" y2="476.5" stroke="#333" stroke-width="0.8"/>
<text x="203" y="479.37" font-size="8" text-anchor="end" fill="#333" stroke="#333" stroke-width="0.25">80</text>
<line x1="223.5" y1="556.4" x2="223.5" y2="558.4" stroke="#333" stroke-width="0.8"/>
<line x1="253.5" y1="556.4" x2="253.5" y2="558.4" stroke="#333" stroke-width="0.8"/>
<line x1="283.5" y1="556.4" x2="283.5" y2="558.4" stroke="#333" stroke-width="0.8"/>
<line x1="312.5" y1="556.4" x2="312.5" y2="558.4" stroke="#333" stroke-width="0.8"/>
<text x="223.3" y="568.63" font-size="7.6" text-anchor="middle" fill="#333" stroke="#333" stroke-width="0.25">1:1</text>
<text x="253.4" y="568.63" font-size="7.6" text-anchor="middle" fill="#333" stroke="#333" stroke-width="0.25">2:1</text>
<text x="283.4" y="568.63" font-size="7.6" text-anchor="middle" fill="#333" stroke="#333" stroke-width="0.25">5:1</text>
<text x="312.9" y="568.63" font-size="7.6" text-anchor="middle" fill="#333" stroke="#333" stroke-width="0.25">10:1</text>
<text x="269" y="581.65" font-size="8.8" text-anchor="middle" fill="#333" stroke="#333" stroke-width="0.25" textLength="44.5" lengthAdjust="spacingAndGlyphs">B cell: T cell</text>
<text x="190.19" y="515.2" font-size="9.2" text-anchor="middle" fill="#333" stroke="#333" stroke-width="0.25" textLength="55.5" lengthAdjust="spacingAndGlyphs" transform="rotate(-90 190.19 515.2)">% Suppression</text>
<text x="268.5" y="472.06" font-size="9.4" text-anchor="middle" font-weight="bold" fill="#111" textLength="87" lengthAdjust="spacingAndGlyphs">Transitional B Cells</text>
<line x1="223.5" y1="522.4" x2="223.5" y2="537" stroke="#333" stroke-width="0.8"/>
<line x1="221.1" y1="522.5" x2="225.5" y2="522.5" stroke="#333" stroke-width="0.8"/>
<line x1="221.1" y1="537.5" x2="225.5" y2="537.5" stroke="#333" stroke-width="0.8"/>
<line x1="253.5" y1="509.6" x2="253.5" y2="524.3" stroke="#333" stroke-width="0.8"/>
<line x1="251.2" y1="509.5" x2="255.6" y2="509.5" stroke="#333" stroke-width="0.8"/>
<line x1="251.2" y1="524.5" x2="255.6" y2="524.5" stroke="#333" stroke-width="0.8"/>
<line x1="283.5" y1="494.6" x2="283.5" y2="504.4" stroke="#333" stroke-width="0.8"/>
<line x1="281.2" y1="494.5" x2="285.6" y2="494.5" stroke="#333" stroke-width="0.8"/>
<line x1="281.2" y1="504.5" x2="285.6" y2="504.5" stroke="#333" stroke-width="0.8"/>
<line x1="312.5" y1="490" x2="312.5" y2="498.8" stroke="#333" stroke-width="0.8"/>
<line x1="310.7" y1="490.5" x2="315.1" y2="490.5" stroke="#333" stroke-width="0.8"/>
<line x1="310.7" y1="498.5" x2="315.1" y2="498.5" stroke="#333" stroke-width="0.8"/>
<path d="M223.30 530.00L253.40 517.50L283.40 499.50L312.90 495.00" fill="none" stroke="#222" stroke-width="1.4"/>
<path d="M223.30 526.92L226.10 532.24L220.50 532.24Z" fill="#fff" stroke="#333" stroke-width="1"/>
<path d="M253.40 514.42L256.20 519.74L250.60 519.74Z" fill="#fff" stroke="#333" stroke-width="1"/>
<path d="M283.40 496.42L286.20 501.74L280.60 501.74Z" fill="#fff" stroke="#333" stroke-width="1"/>
<path d="M312.90 491.92L315.70 497.24L310.10 497.24Z" fill="#fff" stroke="#333" stroke-width="1"/>
<line x1="368.5" y1="474.9" x2="368.5" y2="557.6" stroke="#333" stroke-width="0.8"/>
<line x1="368.3" y1="557.5" x2="491.2" y2="557.5" stroke="#333" stroke-width="0.8"/>
<line x1="366.3" y1="557.5" x2="368.3" y2="557.5" stroke="#333" stroke-width="0.8"/>
<text x="362.1" y="560.37" font-size="8" text-anchor="end" fill="#333" stroke="#333" stroke-width="0.25">0</text>
<line x1="366.3" y1="537.5" x2="368.3" y2="537.5" stroke="#333" stroke-width="0.8"/>
<text x="362.1" y="539.82" font-size="8" text-anchor="end" fill="#333" stroke="#333" stroke-width="0.25">20</text>
<line x1="366.3" y1="516.5" x2="368.3" y2="516.5" stroke="#333" stroke-width="0.8"/>
<text x="362.1" y="519.27" font-size="8" text-anchor="end" fill="#333" stroke="#333" stroke-width="0.25">40</text>
<line x1="366.3" y1="495.5" x2="368.3" y2="495.5" stroke="#333" stroke-width="0.8"/>
<text x="362.1" y="498.72" font-size="8" text-anchor="end" fill="#333" stroke="#333" stroke-width="0.25">60</text>
<line x1="366.3" y1="475.5" x2="368.3" y2="475.5" stroke="#333" stroke-width="0.8"/>
<text x="362.1" y="478.17" font-size="8" text-anchor="end" fill="#333" stroke="#333" stroke-width="0.25">80</text>
<line x1="383.5" y1="557.6" x2="383.5" y2="559.6" stroke="#333" stroke-width="0.8"/>
<line x1="414.5" y1="557.6" x2="414.5" y2="559.6" stroke="#333" stroke-width="0.8"/>
<line x1="445.5" y1="557.6" x2="445.5" y2="559.6" stroke="#333" stroke-width="0.8"/>
<line x1="475.5" y1="557.6" x2="475.5" y2="559.6" stroke="#333" stroke-width="0.8"/>
<text x="383.5" y="569.83" font-size="7.6" text-anchor="middle" fill="#333" stroke="#333" stroke-width="0.25">1:1</text>
<text x="414.5" y="569.83" font-size="7.6" text-anchor="middle" fill="#333" stroke="#333" stroke-width="0.25">2:1</text>
<text x="445.3" y="569.83" font-size="7.6" text-anchor="middle" fill="#333" stroke="#333" stroke-width="0.25">5:1</text>
<text x="475.7" y="569.83" font-size="7.6" text-anchor="middle" fill="#333" stroke="#333" stroke-width="0.25">10:1</text>
<text x="430" y="582.85" font-size="8.8" text-anchor="middle" fill="#333" stroke="#333" stroke-width="0.25" textLength="44.5" lengthAdjust="spacingAndGlyphs">B cell: T cell</text>
<text x="349.39" y="515.2" font-size="9.2" text-anchor="middle" fill="#333" stroke="#333" stroke-width="0.25" textLength="55.5" lengthAdjust="spacingAndGlyphs" transform="rotate(-90 349.39 515.2)">% Suppression</text>
<text x="430" y="473.46" font-size="9.4" text-anchor="middle" font-weight="bold" fill="#111" textLength="58.8" lengthAdjust="spacingAndGlyphs">Na&#239;ve B Cells</text>
<line x1="383.5" y1="532.5" x2="383.5" y2="542" stroke="#333" stroke-width="0.8"/>
<line x1="381.3" y1="532.5" x2="385.7" y2="532.5" stroke="#333" stroke-width="0.8"/>
<line x1="381.3" y1="542.5" x2="385.7" y2="542.5" stroke="#333" stroke-width="0.8"/>
<line x1="414.5" y1="524.3" x2="414.5" y2="531.5" stroke="#333" stroke-width="0.8"/>
<line x1="412.3" y1="524.5" x2="416.7" y2="524.5" stroke="#333" stroke-width="0.8"/>
<line x1="412.3" y1="531.5" x2="416.7" y2="531.5" stroke="#333" stroke-width="0.8"/>
<line x1="445.5" y1="503.7" x2="445.5" y2="519" stroke="#333" stroke-width="0.8"/>
<line x1="443.1" y1="503.5" x2="447.5" y2="503.5" stroke="#333" stroke-width="0.8"/>
<line x1="443.1" y1="519.5" x2="447.5" y2="519.5" stroke="#333" stroke-width="0.8"/>
<line x1="475.5" y1="498.8" x2="475.5" y2="508.6" stroke="#333" stroke-width="0.8"/>
<line x1="473.5" y1="498.5" x2="477.9" y2="498.5" stroke="#333" stroke-width="0.8"/>
<line x1="473.5" y1="508.5" x2="477.9" y2="508.5" stroke="#333" stroke-width="0.8"/>
<path d="M383.50 537.00L414.50 528.30L445.30 511.00L475.70 503.70" fill="none" stroke="#222" stroke-width="1.4"/>
<path d="M383.50 533.92L386.02 537.00L383.50 540.08L380.98 537.00Z" fill="#fff" stroke="#333" stroke-width="1"/>
<path d="M414.50 525.22L417.02 528.30L414.50 531.38L411.98 528.30Z" fill="#fff" stroke="#333" stroke-width="1"/>
<path d="M445.30 507.92L447.82 511.00L445.30 514.08L442.78 511.00Z" fill="#fff" stroke="#333" stroke-width="1"/>
<path d="M475.70 500.62L478.22 503.70L475.70 506.78L473.18 503.70Z" fill="#fff" stroke="#333" stroke-width="1"/>
<text x="7" y="599.31" font-size="11" font-weight="bold" fill="#111">E</text>
<line x1="59.5" y1="666.8" x2="59.5" y2="742.3" stroke="#333" stroke-width="0.8"/>
<line x1="59.2" y1="742.5" x2="172.7" y2="742.5" stroke="#333" stroke-width="0.8"/>
<line x1="57.2" y1="742.5" x2="59.2" y2="742.5" stroke="#333" stroke-width="0.8"/>
<text x="52.6" y="745.07" font-size="8" text-anchor="end" fill="#333" stroke="#333" stroke-width="0.25">0</text>
<line x1="57.2" y1="717.5" x2="59.2" y2="717.5" stroke="#333" stroke-width="0.8"/>
<text x="52.6" y="720.07" font-size="8" text-anchor="end" fill="#333" stroke="#333" stroke-width="0.25">500</text>
<line x1="57.2" y1="692.5" x2="59.2" y2="692.5" stroke="#333" stroke-width="0.8"/>
<text x="52.6" y="695.07" font-size="8" text-anchor="end" fill="#333" stroke="#333" stroke-width="0.25">1000</text>
<line x1="57.2" y1="667.5" x2="59.2" y2="667.5" stroke="#333" stroke-width="0.8"/>
<text x="52.6" y="670.07" font-size="8" text-anchor="end" fill="#333" stroke="#333" stroke-width="0.25">1500</text>
<line x1="70.5" y1="689.3" x2="70.5" y2="689.8" stroke="#333" stroke-width="0.8"/>
<line x1="67.35" y1="689.5" x2="73.65" y2="689.5" stroke="#333" stroke-width="0.8"/>
<rect x="62.4" y="689.8" width="16.2" height="52.5" fill="#ababab"/>
<line x1="70.5" y1="742.3" x2="70.5" y2="744.7" stroke="#444" stroke-width="0.8"/>
<line x1="92.5" y1="697.9" x2="92.5" y2="703.55" stroke="#333" stroke-width="0.8"/>
<line x1="88.5" y1="697.5" x2="97.1" y2="697.5" stroke="#333" stroke-width="0.8"/>
<rect x="84.7" y="703.55" width="16.2" height="38.75" fill="#1c1c1c"/>
<line x1="92.5" y1="742.3" x2="92.5" y2="744.7" stroke="#444" stroke-width="0.8"/>
<line x1="115.5" y1="707.7" x2="115.5" y2="711.05" stroke="#333" stroke-width="0.8"/>
<line x1="111.4" y1="707.5" x2="120" y2="707.5" stroke="#333" stroke-width="0.8"/>
<rect x="107.6" y="711.05" width="16.2" height="31.25" fill="#505050"/>
<line x1="115.5" y1="742.3" x2="115.5" y2="744.7" stroke="#444" stroke-width="0.8"/>
<line x1="137.5" y1="703.4" x2="137.5" y2="706.55" stroke="#333" stroke-width="0.8"/>
<line x1="133.3" y1="703.5" x2="141.9" y2="703.5" stroke="#333" stroke-width="0.8"/>
<rect x="129.5" y="706.55" width="16.2" height="35.75" fill="#8a8a8a"/>
<line x1="137.5" y1="742.3" x2="137.5" y2="744.7" stroke="#444" stroke-width="0.8"/>
<line x1="160.5" y1="712.6" x2="160.5" y2="716.8" stroke="#333" stroke-width="0.8"/>
<line x1="156.2" y1="712.5" x2="164.8" y2="712.5" stroke="#333" stroke-width="0.8"/>
<rect x="152.4" y="716.8" width="16.2" height="25.5" fill="#d8d8d8"/>
<line x1="160.5" y1="742.3" x2="160.5" y2="744.7" stroke="#444" stroke-width="0.8"/>
<line x1="69.5" y1="646.5" x2="165" y2="646.5" stroke="#333" stroke-width="0.8"/>
<circle cx="111" cy="642.6" r="1.15" fill="#333"/>
<line x1="69.5" y1="656.5" x2="141.5" y2="656.5" stroke="#333" stroke-width="0.8"/>
<circle cx="103" cy="652" r="1.15" fill="#333"/>
<line x1="69.5" y1="665.5" x2="116.7" y2="665.5" stroke="#333" stroke-width="0.8"/>
<circle cx="92.5" cy="661.2" r="1.15" fill="#333"/>
<text x="26.45" y="703.5" font-size="8.8" text-anchor="middle" fill="#333" stroke="#333" stroke-width="0.25" textLength="46.9" lengthAdjust="spacingAndGlyphs" transform="rotate(-90 26.45 703.5)">IFN-&#947; pg/mL</text>
<line x1="229.5" y1="667" x2="229.5" y2="742.3" stroke="#333" stroke-width="0.8"/>
<line x1="229.5" y1="742.5" x2="342.5" y2="742.5" stroke="#333" stroke-width="0.8"/>
<line x1="227.5" y1="742.5" x2="229.5" y2="742.5" stroke="#333" stroke-width="0.8"/>
<text x="222.5" y="745.07" font-size="8" text-anchor="end" fill="#333" stroke="#333" stroke-width="0.25">0</text>
<line x1="227.5" y1="717.5" x2="229.5" y2="717.5" stroke="#333" stroke-width="0.8"/>
<text x="222.5" y="720.14" font-size="8" text-anchor="end" fill="#333" stroke="#333" stroke-width="0.25">5000</text>
<line x1="227.5" y1="692.5" x2="229.5" y2="692.5" stroke="#333" stroke-width="0.8"/>
<text x="222.5" y="695.21" font-size="8" text-anchor="end" fill="#333" stroke="#333" stroke-width="0.25">10000</text>
<line x1="227.5" y1="667.5" x2="229.5" y2="667.5" stroke="#333" stroke-width="0.8"/>
<text x="222.5" y="670.27" font-size="8" text-anchor="end" fill="#333" stroke="#333" stroke-width="0.25">15000</text>
<rect x="232.5" y="692.43" width="16.2" height="49.87" fill="#ababab"/>
<line x1="240.5" y1="742.3" x2="240.5" y2="744.7" stroke="#444" stroke-width="0.8"/>
<line x1="262.5" y1="703.4" x2="262.5" y2="705.4" stroke="#333" stroke-width="0.8"/>
<line x1="258.5" y1="703.5" x2="267.1" y2="703.5" stroke="#333" stroke-width="0.8"/>
<rect x="254.7" y="705.4" width="16.2" height="36.9" fill="#1c1c1c"/>
<line x1="262.5" y1="742.3" x2="262.5" y2="744.7" stroke="#444" stroke-width="0.8"/>
<line x1="285.5" y1="703.4" x2="285.5" y2="706.4" stroke="#333" stroke-width="0.8"/>
<line x1="281.4" y1="703.5" x2="290" y2="703.5" stroke="#333" stroke-width="0.8"/>
<rect x="277.6" y="706.4" width="16.2" height="35.9" fill="#505050"/>
<line x1="285.5" y1="742.3" x2="285.5" y2="744.7" stroke="#444" stroke-width="0.8"/>
<line x1="307.5" y1="704.4" x2="307.5" y2="707.39" stroke="#333" stroke-width="0.8"/>
<line x1="303.6" y1="704.5" x2="312.2" y2="704.5" stroke="#333" stroke-width="0.8"/>
<rect x="299.8" y="707.39" width="16.2" height="34.91" fill="#8a8a8a"/>
<line x1="307.5" y1="742.3" x2="307.5" y2="744.7" stroke="#444" stroke-width="0.8"/>
<line x1="330.5" y1="707" x2="330.5" y2="711.38" stroke="#333" stroke-width="0.8"/>
<line x1="326.2" y1="707.5" x2="334.8" y2="707.5" stroke="#333" stroke-width="0.8"/>
<rect x="322.4" y="711.38" width="16.2" height="30.92" fill="#d8d8d8"/>
<line x1="330.5" y1="742.3" x2="330.5" y2="744.7" stroke="#444" stroke-width="0.8"/>
<line x1="241.3" y1="651.5" x2="337.4" y2="651.5" stroke="#333" stroke-width="0.8"/>
<circle cx="283.4" cy="647.1" r="1.15" fill="#333"/>
<line x1="241.3" y1="660.5" x2="313.8" y2="660.5" stroke="#333" stroke-width="0.8"/>
<circle cx="274.6" cy="656" r="1.15" fill="#333"/>
<line x1="241.3" y1="669.5" x2="290.3" y2="669.5" stroke="#333" stroke-width="0.8"/>
<circle cx="264.1" cy="665.4" r="1.15" fill="#333"/>
<line x1="241.3" y1="677.5" x2="268" y2="677.5" stroke="#333" stroke-width="0.8"/>
<circle cx="256.6" cy="673.3" r="1.15" fill="#333"/>
<text x="195.25" y="703.5" font-size="8.8" text-anchor="middle" fill="#333" stroke="#333" stroke-width="0.25" textLength="51.2" lengthAdjust="spacingAndGlyphs" transform="rotate(-90 195.25 703.5)">TNF-&#945; pg/mL</text>
<line x1="399.5" y1="667" x2="399.5" y2="742.3" stroke="#333" stroke-width="0.8"/>
<line x1="399.5" y1="742.5" x2="512.7" y2="742.5" stroke="#333" stroke-width="0.8"/>
<line x1="397.5" y1="742.5" x2="399.5" y2="742.5" stroke="#333" stroke-width="0.8"/>
<text x="393.5" y="745.07" font-size="8" text-anchor="end" fill="#333" stroke="#333" stroke-width="0.25">0</text>
<line x1="397.5" y1="717.5" x2="399.5" y2="717.5" stroke="#333" stroke-width="0.8"/>
<text x="393.5" y="720.14" font-size="8" text-anchor="end" fill="#333" stroke="#333" stroke-width="0.25">5000</text>
<line x1="397.5" y1="692.5" x2="399.5" y2="692.5" stroke="#333" stroke-width="0.8"/>
<text x="393.5" y="695.21" font-size="8" text-anchor="end" fill="#333" stroke="#333" stroke-width="0.25">10000</text>
<line x1="397.5" y1="667.5" x2="399.5" y2="667.5" stroke="#333" stroke-width="0.8"/>
<text x="393.5" y="670.27" font-size="8" text-anchor="end" fill="#333" stroke="#333" stroke-width="0.25">15000</text>
<rect x="402.5" y="692.43" width="16.2" height="49.87" fill="#ababab"/>
<line x1="410.5" y1="742.3" x2="410.5" y2="744.7" stroke="#444" stroke-width="0.8"/>
<line x1="432.5" y1="700.5" x2="432.5" y2="707.39" stroke="#333" stroke-width="0.8"/>
<line x1="428.5" y1="700.5" x2="437.1" y2="700.5" stroke="#333" stroke-width="0.8"/>
<rect x="424.7" y="707.39" width="16.2" height="34.91" fill="#1c1c1c"/>
<line x1="432.5" y1="742.3" x2="432.5" y2="744.7" stroke="#444" stroke-width="0.8"/>
<line x1="455.5" y1="711.6" x2="455.5" y2="713.38" stroke="#333" stroke-width="0.8"/>
<line x1="451.4" y1="711.5" x2="460" y2="711.5" stroke="#333" stroke-width="0.8"/>
<rect x="447.6" y="713.38" width="16.2" height="28.92" fill="#505050"/>
<line x1="455.5" y1="742.3" x2="455.5" y2="744.7" stroke="#444" stroke-width="0.8"/>
<line x1="477.5" y1="701.8" x2="477.5" y2="704.4" stroke="#333" stroke-width="0.8"/>
<line x1="473.6" y1="701.5" x2="482.2" y2="701.5" stroke="#333" stroke-width="0.8"/>
<rect x="469.8" y="704.4" width="16.2" height="37.9" fill="#8a8a8a"/>
<line x1="477.5" y1="742.3" x2="477.5" y2="744.7" stroke="#444" stroke-width="0.8"/>
<line x1="500.5" y1="705" x2="500.5" y2="707.39" stroke="#333" stroke-width="0.8"/>
<line x1="496.2" y1="705.5" x2="504.8" y2="705.5" stroke="#333" stroke-width="0.8"/>
<rect x="492.4" y="707.39" width="16.2" height="34.91" fill="#d8d8d8"/>
<line x1="500.5" y1="742.3" x2="500.5" y2="744.7" stroke="#444" stroke-width="0.8"/>
<line x1="411.3" y1="651.5" x2="507.4" y2="651.5" stroke="#333" stroke-width="0.8"/>
<circle cx="453.4" cy="647.1" r="1.15" fill="#333"/>
<line x1="411.3" y1="660.5" x2="483.8" y2="660.5" stroke="#333" stroke-width="0.8"/>
<circle cx="444.6" cy="656" r="1.15" fill="#333"/>
<line x1="411.3" y1="669.5" x2="460.3" y2="669.5" stroke="#333" stroke-width="0.8"/>
<circle cx="434.1" cy="665.4" r="1.15" fill="#333"/>
<line x1="411.3" y1="677.5" x2="438" y2="677.5" stroke="#333" stroke-width="0.8"/>
<circle cx="426.6" cy="673.3" r="1.15" fill="#333"/>
<text x="365.95" y="703.5" font-size="8.8" text-anchor="middle" fill="#333" stroke="#333" stroke-width="0.25" textLength="43.9" lengthAdjust="spacingAndGlyphs" transform="rotate(-90 365.95 703.5)">IL-2 pg/mL</text>
<rect x="459.8" y="601.9" width="8.9" height="4.6" fill="#ababab"/>
<text x="472" y="606.83" font-size="7.6" fill="#444" stroke="#444" stroke-width="0.25">positive</text>
<rect x="459.8" y="610.7" width="8.9" height="4.6" fill="#1c1c1c"/>
<text x="472" y="615.63" font-size="7.6" fill="#444" stroke="#444" stroke-width="0.25">CD19+ cells</text>
<rect x="459.8" y="619.5" width="8.9" height="4.6" fill="#505050"/>
<text x="472" y="624.43" font-size="7.6" fill="#444" stroke="#444" stroke-width="0.25">Transitional</text>
<rect x="459.8" y="628.3" width="8.9" height="4.6" fill="#8a8a8a"/>
<text x="472" y="633.23" font-size="7.6" fill="#444" stroke="#444" stroke-width="0.25">Naive</text>
<rect x="459.8" y="637.1" width="8.9" height="4.6" fill="#d8d8d8"/>
<text x="472" y="642.03" font-size="7.6" fill="#444" stroke="#444" stroke-width="0.25">Treg</text>
<text x="7.3" y="772.31" font-size="11" font-weight="bold" fill="#111">F</text>
<line x1="59.5" y1="797.75" x2="59.5" y2="891.2" stroke="#333" stroke-width="0.8"/>
<line x1="59.25" y1="891.5" x2="199.2" y2="891.5" stroke="#333" stroke-width="0.8"/>
<line x1="57.25" y1="891.5" x2="59.25" y2="891.5" stroke="#333" stroke-width="0.8"/>
<text x="52.9" y="893.9" font-size="7.8" text-anchor="end" fill="#333" stroke="#333" stroke-width="0.25">0</text>
<line x1="57.25" y1="872.5" x2="59.25" y2="872.5" stroke="#333" stroke-width="0.8"/>
<text x="52.9" y="875.31" font-size="7.8" text-anchor="end" fill="#333" stroke="#333" stroke-width="0.25">20</text>
<line x1="57.25" y1="854.5" x2="59.25" y2="854.5" stroke="#333" stroke-width="0.8"/>
<text x="52.9" y="856.72" font-size="7.8" text-anchor="end" fill="#333" stroke="#333" stroke-width="0.25">40</text>
<line x1="57.25" y1="835.5" x2="59.25" y2="835.5" stroke="#333" stroke-width="0.8"/>
<text x="52.9" y="838.13" font-size="7.8" text-anchor="end" fill="#333" stroke="#333" stroke-width="0.25">60</text>
<line x1="57.25" y1="816.5" x2="59.25" y2="816.5" stroke="#333" stroke-width="0.8"/>
<text x="52.9" y="819.54" font-size="7.8" text-anchor="end" fill="#333" stroke="#333" stroke-width="0.25">80</text>
<line x1="57.25" y1="798.5" x2="59.25" y2="798.5" stroke="#333" stroke-width="0.8"/>
<text x="52.9" y="800.95" font-size="7.8" text-anchor="end" fill="#333" stroke="#333" stroke-width="0.25">100</text>
<line x1="73.5" y1="862" x2="73.5" y2="866.25" stroke="#333" stroke-width="0.8"/>
<line x1="70.25" y1="862.5" x2="76.75" y2="862.5" stroke="#333" stroke-width="0.8"/>
<rect x="67" y="866.25" width="13" height="24.95" fill="#9e9e9e"/>
<line x1="90.5" y1="852" x2="90.5" y2="857.5" stroke="#333" stroke-width="0.8"/>
<line x1="87.35" y1="852.5" x2="93.85" y2="852.5" stroke="#333" stroke-width="0.8"/>
<rect x="84.1" y="857.5" width="13" height="33.7" fill="#1c1c1c"/>
<line x1="120.5" y1="852.5" x2="120.5" y2="858.75" stroke="#333" stroke-width="0.8"/>
<line x1="117" y1="852.5" x2="123.5" y2="852.5" stroke="#333" stroke-width="0.8"/>
<rect x="113.75" y="858.75" width="13" height="32.45" fill="#9e9e9e"/>
<line x1="137.5" y1="839.25" x2="137.5" y2="848" stroke="#333" stroke-width="0.8"/>
<line x1="134.25" y1="839.5" x2="140.75" y2="839.5" stroke="#333" stroke-width="0.8"/>
<rect x="131" y="848" width="13" height="43.2" fill="#1c1c1c"/>
<line x1="166.5" y1="860" x2="166.5" y2="865.75" stroke="#333" stroke-width="0.8"/>
<line x1="163.35" y1="860.5" x2="169.85" y2="860.5" stroke="#333" stroke-width="0.8"/>
<rect x="160.1" y="865.75" width="13" height="25.45" fill="#9e9e9e"/>
<line x1="184.5" y1="853" x2="184.5" y2="857.5" stroke="#333" stroke-width="0.8"/>
<line x1="180.75" y1="853.5" x2="187.25" y2="853.5" stroke="#333" stroke-width="0.8"/>
<rect x="177.5" y="857.5" width="13" height="33.7" fill="#1c1c1c"/>
<line x1="82.5" y1="891.2" x2="82.5" y2="893.4" stroke="#333" stroke-width="0.8"/>
<line x1="128.5" y1="891.2" x2="128.5" y2="893.4" stroke="#333" stroke-width="0.8"/>
<line x1="175.5" y1="891.2" x2="175.5" y2="893.4" stroke="#333" stroke-width="0.8"/>
<line x1="73.25" y1="841.5" x2="93.25" y2="841.5" stroke="#333" stroke-width="1"/>
<circle cx="82.5" cy="835.15" r="1.15" fill="#333"/>
<line x1="118.75" y1="828.5" x2="138.25" y2="828.5" stroke="#333" stroke-width="1"/>
<circle cx="127.5" cy="822.65" r="1.15" fill="#333"/>
<line x1="168.25" y1="840.5" x2="188" y2="840.5" stroke="#333" stroke-width="1"/>
<circle cx="177" cy="834.4" r="1.15" fill="#333"/>
<text x="34.36" y="844.2" font-size="8.55" text-anchor="middle" fill="#333" stroke="#333" stroke-width="0.25" transform="rotate(-90 34.36 844.2)">% CD4<tspan font-size="5.5" dy="-3.2">+</tspan><tspan dy="3.2"> CFSE</tspan><tspan font-size="5.5" dy="-3.2">+</tspan><tspan dy="3.2"> T cell suppression</tspan></text>
<text x="84.22" y="903.42" font-size="8.25" text-anchor="end" fill="#333" stroke="#333" stroke-width="0.25" transform="rotate(-45 84.22 903.42)">Total CD19+ B cells</text>
<text x="130.72" y="903.42" font-size="8.25" text-anchor="end" fill="#333" stroke="#333" stroke-width="0.25" transform="rotate(-45 130.72 903.42)">Transitional B cells</text>
<text x="177.52" y="903.42" font-size="8.25" text-anchor="end" fill="#333" stroke="#333" stroke-width="0.25" transform="rotate(-45 177.52 903.42)">Naive B cells</text>
<rect x="167" y="783.75" width="11" height="7.5" fill="#9e9e9e"/>
<text x="181.3" y="790.23" font-size="7.6" fill="#444" stroke="#444" stroke-width="0.25" textLength="56" lengthAdjust="spacingAndGlyphs">B cells untreated</text>
<rect x="167" y="795.5" width="11" height="7.5" fill="#1c1c1c"/>
<text x="181.3" y="801.93" font-size="7.6" fill="#444" stroke="#444" stroke-width="0.25" textLength="143.6" lengthAdjust="spacingAndGlyphs">B cells pre treated with CD40L+CpG+BCR</text>
<line x1="59.5" y1="1003.25" x2="59.5" y2="1080.5" stroke="#333" stroke-width="0.8"/>
<line x1="59.25" y1="1080.5" x2="173" y2="1080.5" stroke="#333" stroke-width="0.8"/>
<line x1="57.25" y1="1080.5" x2="59.25" y2="1080.5" stroke="#333" stroke-width="0.8"/>
<text x="53.3" y="1083.13" font-size="7.6" text-anchor="end" fill="#333" stroke="#333" stroke-width="0.25">0</text>
<line x1="57.25" y1="1065.5" x2="59.25" y2="1065.5" stroke="#333" stroke-width="0.8"/>
<text x="53.3" y="1067.78" font-size="7.6" text-anchor="end" fill="#333" stroke="#333" stroke-width="0.25">10</text>
<line x1="57.25" y1="1049.5" x2="59.25" y2="1049.5" stroke="#333" stroke-width="0.8"/>
<text x="53.3" y="1052.43" font-size="7.6" text-anchor="end" fill="#333" stroke="#333" stroke-width="0.25">20</text>
<line x1="57.25" y1="1034.5" x2="59.25" y2="1034.5" stroke="#333" stroke-width="0.8"/>
<text x="53.3" y="1037.08" font-size="7.6" text-anchor="end" fill="#333" stroke="#333" stroke-width="0.25">30</text>
<line x1="57.25" y1="1019.5" x2="59.25" y2="1019.5" stroke="#333" stroke-width="0.8"/>
<text x="53.3" y="1021.73" font-size="7.6" text-anchor="end" fill="#333" stroke="#333" stroke-width="0.25">40</text>
<line x1="57.25" y1="1003.5" x2="59.25" y2="1003.5" stroke="#333" stroke-width="0.8"/>
<text x="53.3" y="1006.38" font-size="7.6" text-anchor="end" fill="#333" stroke="#333" stroke-width="0.25">50</text>
<line x1="71.5" y1="1039.25" x2="71.5" y2="1049.5" stroke="#333" stroke-width="0.8"/>
<line x1="68.45" y1="1039.5" x2="73.75" y2="1039.5" stroke="#333" stroke-width="0.8"/>
<rect x="65.8" y="1049.5" width="10.6" height="31" fill="#9e9e9e"/>
<line x1="85.5" y1="1029.5" x2="85.5" y2="1042" stroke="#333" stroke-width="0.8"/>
<line x1="82.6" y1="1029.5" x2="87.9" y2="1029.5" stroke="#333" stroke-width="0.8"/>
<rect x="79.95" y="1042" width="10.6" height="38.5" fill="#1c1c1c"/>
<line x1="109.5" y1="1019.5" x2="109.5" y2="1029.5" stroke="#333" stroke-width="0.8"/>
<line x1="107.1" y1="1019.5" x2="112.4" y2="1019.5" stroke="#333" stroke-width="0.8"/>
<rect x="104.45" y="1029.5" width="10.6" height="51" fill="#9e9e9e"/>
<line x1="124.5" y1="1007.5" x2="124.5" y2="1025.5" stroke="#333" stroke-width="0.8"/>
<line x1="121.45" y1="1007.5" x2="126.75" y2="1007.5" stroke="#333" stroke-width="0.8"/>
<rect x="118.8" y="1025.5" width="10.6" height="55" fill="#1c1c1c"/>
<line x1="147.5" y1="1034.5" x2="147.5" y2="1039.25" stroke="#333" stroke-width="0.8"/>
<line x1="145.25" y1="1034.5" x2="150.55" y2="1034.5" stroke="#333" stroke-width="0.8"/>
<rect x="142.6" y="1039.25" width="10.6" height="41.25" fill="#9e9e9e"/>
<line x1="162.5" y1="1026.25" x2="162.5" y2="1030.5" stroke="#333" stroke-width="0.8"/>
<line x1="159.6" y1="1026.5" x2="164.9" y2="1026.5" stroke="#333" stroke-width="0.8"/>
<rect x="156.95" y="1030.5" width="10.6" height="50" fill="#1c1c1c"/>
<line x1="78.5" y1="1080.5" x2="78.5" y2="1082.7" stroke="#333" stroke-width="0.8"/>
<line x1="117.5" y1="1080.5" x2="117.5" y2="1082.7" stroke="#333" stroke-width="0.8"/>
<line x1="155.5" y1="1080.5" x2="155.5" y2="1082.7" stroke="#333" stroke-width="0.8"/>
<line x1="70.5" y1="1019.5" x2="89.5" y2="1019.5" stroke="#333" stroke-width="1"/>
<circle cx="80" cy="1013.4" r="1.15" fill="#333"/>
<line x1="145" y1="1019.5" x2="165" y2="1019.5" stroke="#333" stroke-width="1"/>
<circle cx="155" cy="1013.4" r="1.15" fill="#333"/>
<text x="37.81" y="1040.5" font-size="8.7" text-anchor="middle" fill="#333" stroke="#333" stroke-width="0.25" textLength="90" lengthAdjust="spacingAndGlyphs" transform="rotate(-90 37.81 1040.5)">% of IFN-&#947; suppression</text>
<text x="80.47" y="1092.92" font-size="8.25" text-anchor="end" fill="#333" stroke="#333" stroke-width="0.25" transform="rotate(-45 80.47 1092.92)">Total CD19+ B cells</text>
<text x="119.22" y="1092.92" font-size="8.25" text-anchor="end" fill="#333" stroke="#333" stroke-width="0.25" transform="rotate(-45 119.22 1092.92)">Transitional B cells</text>
<text x="157.22" y="1092.92" font-size="8.25" text-anchor="end" fill="#333" stroke="#333" stroke-width="0.25" transform="rotate(-45 157.22 1092.92)">Naive B cells</text>
<line x1="228.5" y1="1003.25" x2="228.5" y2="1080.5" stroke="#333" stroke-width="0.8"/>
<line x1="228.75" y1="1080.5" x2="343.75" y2="1080.5" stroke="#333" stroke-width="0.8"/>
<line x1="226.75" y1="1080.5" x2="228.75" y2="1080.5" stroke="#333" stroke-width="0.8"/>
<text x="223.75" y="1083.13" font-size="7.6" text-anchor="end" fill="#333" stroke="#333" stroke-width="0.25">0</text>
<line x1="226.75" y1="1065.5" x2="228.75" y2="1065.5" stroke="#333" stroke-width="0.8"/>
<text x="223.75" y="1067.78" font-size="7.6" text-anchor="end" fill="#333" stroke="#333" stroke-width="0.25">10</text>
<line x1="226.75" y1="1049.5" x2="228.75" y2="1049.5" stroke="#333" stroke-width="0.8"/>
<text x="223.75" y="1052.43" font-size="7.6" text-anchor="end" fill="#333" stroke="#333" stroke-width="0.25">20</text>
<line x1="226.75" y1="1034.5" x2="228.75" y2="1034.5" stroke="#333" stroke-width="0.8"/>
<text x="223.75" y="1037.08" font-size="7.6" text-anchor="end" fill="#333" stroke="#333" stroke-width="0.25">30</text>
<line x1="226.75" y1="1019.5" x2="228.75" y2="1019.5" stroke="#333" stroke-width="0.8"/>
<text x="223.75" y="1021.73" font-size="7.6" text-anchor="end" fill="#333" stroke="#333" stroke-width="0.25">40</text>
<line x1="226.75" y1="1003.5" x2="228.75" y2="1003.5" stroke="#333" stroke-width="0.8"/>
<text x="223.75" y="1006.38" font-size="7.6" text-anchor="end" fill="#333" stroke="#333" stroke-width="0.25">50</text>
<line x1="240.5" y1="1030.75" x2="240.5" y2="1037.5" stroke="#333" stroke-width="0.8"/>
<line x1="237.95" y1="1030.5" x2="243.25" y2="1030.5" stroke="#333" stroke-width="0.8"/>
<rect x="235.3" y="1037.5" width="10.6" height="43" fill="#9e9e9e"/>
<line x1="255.5" y1="1024.5" x2="255.5" y2="1030" stroke="#333" stroke-width="0.8"/>
<line x1="252.6" y1="1024.5" x2="257.9" y2="1024.5" stroke="#333" stroke-width="0.8"/>
<rect x="249.95" y="1030" width="10.6" height="50.5" fill="#1c1c1c"/>
<line x1="279.5" y1="1024.5" x2="279.5" y2="1034.5" stroke="#333" stroke-width="0.8"/>
<line x1="276.45" y1="1024.5" x2="281.75" y2="1024.5" stroke="#333" stroke-width="0.8"/>
<rect x="273.8" y="1034.5" width="10.6" height="46" fill="#9e9e9e"/>
<line x1="293.5" y1="1015" x2="293.5" y2="1027.5" stroke="#333" stroke-width="0.8"/>
<line x1="290.75" y1="1015.5" x2="296.05" y2="1015.5" stroke="#333" stroke-width="0.8"/>
<rect x="288.1" y="1027.5" width="10.6" height="53" fill="#1c1c1c"/>
<line x1="317.5" y1="1020" x2="317.5" y2="1030.75" stroke="#333" stroke-width="0.8"/>
<line x1="314.6" y1="1020.5" x2="319.9" y2="1020.5" stroke="#333" stroke-width="0.8"/>
<rect x="311.95" y="1030.75" width="10.6" height="49.75" fill="#9e9e9e"/>
<line x1="331.5" y1="1015" x2="331.5" y2="1022.5" stroke="#333" stroke-width="0.8"/>
<line x1="329.25" y1="1015.5" x2="334.55" y2="1015.5" stroke="#333" stroke-width="0.8"/>
<rect x="326.6" y="1022.5" width="10.6" height="58" fill="#1c1c1c"/>
<line x1="248.5" y1="1080.5" x2="248.5" y2="1082.7" stroke="#333" stroke-width="0.8"/>
<line x1="286.5" y1="1080.5" x2="286.5" y2="1082.7" stroke="#333" stroke-width="0.8"/>
<line x1="325.5" y1="1080.5" x2="325.5" y2="1082.7" stroke="#333" stroke-width="0.8"/>
<line x1="238.25" y1="1011.5" x2="258" y2="1011.5" stroke="#333" stroke-width="1"/>
<circle cx="247" cy="1005.15" r="1.15" fill="#333"/>
<line x1="277" y1="1006.5" x2="296.25" y2="1006.5" stroke="#333" stroke-width="1"/>
<circle cx="285.75" cy="1000.15" r="1.15" fill="#333"/>
<line x1="314.5" y1="1010.5" x2="334.5" y2="1010.5" stroke="#333" stroke-width="1"/>
<circle cx="324.25" cy="1003.9" r="1.15" fill="#333"/>
<text x="207.51" y="1039.3" font-size="8.7" text-anchor="middle" fill="#333" stroke="#333" stroke-width="0.25" textLength="92.4" lengthAdjust="spacingAndGlyphs" transform="rotate(-90 207.51 1039.3)">% of TNF-&#945; suppression</text>
<text x="250.22" y="1092.92" font-size="8.25" text-anchor="end" fill="#333" stroke="#333" stroke-width="0.25" transform="rotate(-45 250.22 1092.92)">Total CD19+ B cells</text>
<text x="288.22" y="1092.92" font-size="8.25" text-anchor="end" fill="#333" stroke="#333" stroke-width="0.25" transform="rotate(-45 288.22 1092.92)">Transitional B cells</text>
<text x="327.22" y="1092.92" font-size="8.25" text-anchor="end" fill="#333" stroke="#333" stroke-width="0.25" transform="rotate(-45 327.22 1092.92)">Naive B cells</text>
<line x1="399.5" y1="1003.25" x2="399.5" y2="1080.5" stroke="#333" stroke-width="0.8"/>
<line x1="399.25" y1="1080.5" x2="512.5" y2="1080.5" stroke="#333" stroke-width="0.8"/>
<line x1="397.25" y1="1080.5" x2="399.25" y2="1080.5" stroke="#333" stroke-width="0.8"/>
<text x="393.75" y="1083.13" font-size="7.6" text-anchor="end" fill="#333" stroke="#333" stroke-width="0.25">0</text>
<line x1="397.25" y1="1054.5" x2="399.25" y2="1054.5" stroke="#333" stroke-width="0.8"/>
<text x="393.75" y="1057.55" font-size="7.6" text-anchor="end" fill="#333" stroke="#333" stroke-width="0.25">20</text>
<line x1="397.25" y1="1029.5" x2="399.25" y2="1029.5" stroke="#333" stroke-width="0.8"/>
<text x="393.75" y="1031.97" font-size="7.6" text-anchor="end" fill="#333" stroke="#333" stroke-width="0.25">40</text>
<line x1="397.25" y1="1003.5" x2="399.25" y2="1003.5" stroke="#333" stroke-width="0.8"/>
<text x="393.75" y="1006.38" font-size="7.6" text-anchor="end" fill="#333" stroke="#333" stroke-width="0.25">60</text>
<line x1="410.5" y1="1032.5" x2="410.5" y2="1041.75" stroke="#333" stroke-width="0.8"/>
<line x1="407.95" y1="1032.5" x2="413.25" y2="1032.5" stroke="#333" stroke-width="0.8"/>
<rect x="405.3" y="1041.75" width="10.6" height="38.75" fill="#9e9e9e"/>
<line x1="425.5" y1="1023.25" x2="425.5" y2="1029.5" stroke="#333" stroke-width="0.8"/>
<line x1="422.6" y1="1023.5" x2="427.9" y2="1023.5" stroke="#333" stroke-width="0.8"/>
<rect x="419.95" y="1029.5" width="10.6" height="51" fill="#1c1c1c"/>
<line x1="449.5" y1="1022" x2="449.5" y2="1030" stroke="#333" stroke-width="0.8"/>
<line x1="446.35" y1="1022.5" x2="451.65" y2="1022.5" stroke="#333" stroke-width="0.8"/>
<rect x="443.7" y="1030" width="10.6" height="50.5" fill="#9e9e9e"/>
<line x1="463.5" y1="1010" x2="463.5" y2="1018.75" stroke="#333" stroke-width="0.8"/>
<line x1="460.85" y1="1010.5" x2="466.15" y2="1010.5" stroke="#333" stroke-width="0.8"/>
<rect x="458.2" y="1018.75" width="10.6" height="61.75" fill="#1c1c1c"/>
<line x1="487.5" y1="1028.75" x2="487.5" y2="1043.75" stroke="#333" stroke-width="0.8"/>
<line x1="484.6" y1="1028.5" x2="489.9" y2="1028.5" stroke="#333" stroke-width="0.8"/>
<rect x="481.95" y="1043.75" width="10.6" height="36.75" fill="#9e9e9e"/>
<line x1="501.5" y1="1018.25" x2="501.5" y2="1030.75" stroke="#333" stroke-width="0.8"/>
<line x1="499.25" y1="1018.5" x2="504.55" y2="1018.5" stroke="#333" stroke-width="0.8"/>
<rect x="496.6" y="1030.75" width="10.6" height="49.75" fill="#1c1c1c"/>
<line x1="417.5" y1="1080.5" x2="417.5" y2="1082.7" stroke="#333" stroke-width="0.8"/>
<line x1="455.5" y1="1080.5" x2="455.5" y2="1082.7" stroke="#333" stroke-width="0.8"/>
<line x1="493.5" y1="1080.5" x2="493.5" y2="1082.7" stroke="#333" stroke-width="0.8"/>
<line x1="406.25" y1="1012.5" x2="426.25" y2="1012.5" stroke="#333" stroke-width="1"/>
<circle cx="415" cy="1006.4" r="1.15" fill="#333"/>
<line x1="444.5" y1="1000.5" x2="464.25" y2="1000.5" stroke="#333" stroke-width="1"/>
<circle cx="453.25" cy="994.4" r="1.15" fill="#333"/>
<line x1="484.25" y1="1013.5" x2="503.75" y2="1013.5" stroke="#333" stroke-width="1"/>
<circle cx="493.75" cy="1006.9" r="1.15" fill="#333"/>
<text x="377.51" y="1040.7" font-size="8.7" text-anchor="middle" fill="#333" stroke="#333" stroke-width="0.25" textLength="86.6" lengthAdjust="spacingAndGlyphs" transform="rotate(-90 377.51 1040.7)">% of IL-2 suppression</text>
<text x="419.22" y="1092.92" font-size="8.25" text-anchor="end" fill="#333" stroke="#333" stroke-width="0.25" transform="rotate(-45 419.22 1092.92)">Total CD19+ B cells</text>
<text x="457.22" y="1092.92" font-size="8.25" text-anchor="end" fill="#333" stroke="#333" stroke-width="0.25" transform="rotate(-45 457.22 1092.92)">Transitional B cells</text>
<text x="495.97" y="1092.92" font-size="8.25" text-anchor="end" fill="#333" stroke="#333" stroke-width="0.25" transform="rotate(-45 495.97 1092.92)">Naive B cells</text>
<rect x="413.75" y="970.5" width="10" height="5" fill="#9e9e9e"/>
<text x="427" y="975.9" font-size="7.8" fill="#444" stroke="#444" stroke-width="0.25" textLength="71.5" lengthAdjust="spacingAndGlyphs">Non Activated B cells</text>
<rect x="413.75" y="980.75" width="10" height="5" fill="#1c1c1c"/>
<text x="427" y="986.1" font-size="7.8" fill="#444" stroke="#444" stroke-width="0.25" textLength="55.5" lengthAdjust="spacingAndGlyphs">Activated B cells</text>
</g>
<rect x="0.5" y="0.5" width="519" height="1149" fill="none" stroke="#777" stroke-width="1"/>
</svg></body></html>
